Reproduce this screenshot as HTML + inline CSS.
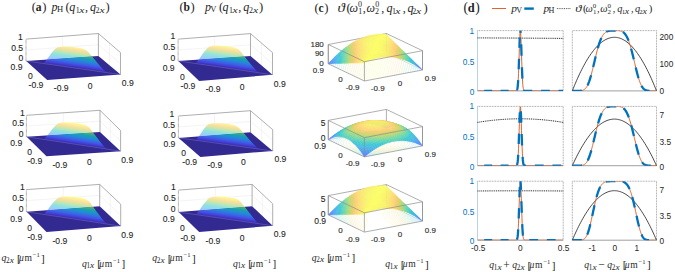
<!DOCTYPE html><html><head><meta charset="utf-8"><style>html,body{margin:0;padding:0;background:#fff;overflow:hidden}svg{display:block}</style></head><body><svg width="675" height="272" viewBox="0 0 675 272" font-family="Liberation Sans, sans-serif"><defs><linearGradient id="gw0" gradientUnits="userSpaceOnUse" x1="0" y1="57.2" x2="0" y2="35.3" gradientTransform="matrix(1 0.1442 0 1 0 0)"><stop offset="0.0" stop-color="#a499d6"/><stop offset="0.1" stop-color="#a9a7f4"/><stop offset="0.2" stop-color="#a7b7fe"/><stop offset="0.3" stop-color="#9cc9f9"/><stop offset="0.4" stop-color="#94d7f0"/><stop offset="0.5" stop-color="#90e1de"/><stop offset="0.6" stop-color="#a9e7c6"/><stop offset="0.7" stop-color="#d2e5a6"/><stop offset="0.8" stop-color="#f5df9e"/><stop offset="0.9" stop-color="#fdeb9d"/><stop offset="1.0" stop-color="#fcfd91"/></linearGradient><linearGradient id="gn0" gradientUnits="userSpaceOnUse" x1="0" y1="57.2" x2="0" y2="35.3" gradientTransform="matrix(1 0.1442 0 1 0 0)"><stop offset="0.0" stop-color="#3b27a4"/><stop offset="0.1" stop-color="#433ed6"/><stop offset="0.2" stop-color="#405ae8"/><stop offset="0.3" stop-color="#2e78e0"/><stop offset="0.4" stop-color="#2090cf"/><stop offset="0.5" stop-color="#18a0b1"/><stop offset="0.6" stop-color="#43ab88"/><stop offset="0.7" stop-color="#89a952"/><stop offset="0.8" stop-color="#c59d44"/><stop offset="0.9" stop-color="#d2b242"/><stop offset="1.0" stop-color="#d1d12d"/></linearGradient><clipPath id="cA0"><polygon points="11.2,22.1 135.5,13.3 135.5,53.3 11.2,62.1"/></clipPath><clipPath id="cB0"><polygon points="11.2,62.1 135.5,53.3 135.5,93.3 11.2,102.1"/></clipPath><linearGradient id="gw1" gradientUnits="userSpaceOnUse" x1="0" y1="132.7" x2="0" y2="111.7" gradientTransform="matrix(1 0.1532 0 1 0 0)"><stop offset="0.0" stop-color="#a499d6"/><stop offset="0.1" stop-color="#a9a7f4"/><stop offset="0.2" stop-color="#a7b7fe"/><stop offset="0.3" stop-color="#9cc9f9"/><stop offset="0.4" stop-color="#94d7f0"/><stop offset="0.5" stop-color="#90e1de"/><stop offset="0.6" stop-color="#a9e7c6"/><stop offset="0.7" stop-color="#d2e5a6"/><stop offset="0.8" stop-color="#f5df9e"/><stop offset="0.9" stop-color="#fdeb9d"/><stop offset="1.0" stop-color="#fcfd91"/></linearGradient><linearGradient id="gn1" gradientUnits="userSpaceOnUse" x1="0" y1="132.7" x2="0" y2="111.7" gradientTransform="matrix(1 0.1532 0 1 0 0)"><stop offset="0.0" stop-color="#3b27a4"/><stop offset="0.1" stop-color="#433ed6"/><stop offset="0.2" stop-color="#405ae8"/><stop offset="0.3" stop-color="#2e78e0"/><stop offset="0.4" stop-color="#2090cf"/><stop offset="0.5" stop-color="#18a0b1"/><stop offset="0.6" stop-color="#43ab88"/><stop offset="0.7" stop-color="#89a952"/><stop offset="0.8" stop-color="#c59d44"/><stop offset="0.9" stop-color="#d2b242"/><stop offset="1.0" stop-color="#d1d12d"/></linearGradient><clipPath id="cA1"><polygon points="11.6,97.8 135.6,89.7 135.6,129.7 11.6,137.8"/></clipPath><clipPath id="cB1"><polygon points="11.6,137.8 135.6,129.7 135.6,169.7 11.6,177.8"/></clipPath><linearGradient id="gw2" gradientUnits="userSpaceOnUse" x1="0" y1="207.8" x2="0" y2="185.7" gradientTransform="matrix(1 0.1520 0 1 0 0)"><stop offset="0.0" stop-color="#a499d6"/><stop offset="0.1" stop-color="#a9a7f4"/><stop offset="0.2" stop-color="#a7b7fe"/><stop offset="0.3" stop-color="#9cc9f9"/><stop offset="0.4" stop-color="#94d7f0"/><stop offset="0.5" stop-color="#90e1de"/><stop offset="0.6" stop-color="#a9e7c6"/><stop offset="0.7" stop-color="#d2e5a6"/><stop offset="0.8" stop-color="#f5df9e"/><stop offset="0.9" stop-color="#fdeb9d"/><stop offset="1.0" stop-color="#fcfd91"/></linearGradient><linearGradient id="gn2" gradientUnits="userSpaceOnUse" x1="0" y1="207.8" x2="0" y2="185.7" gradientTransform="matrix(1 0.1520 0 1 0 0)"><stop offset="0.0" stop-color="#3b27a4"/><stop offset="0.1" stop-color="#433ed6"/><stop offset="0.2" stop-color="#405ae8"/><stop offset="0.3" stop-color="#2e78e0"/><stop offset="0.4" stop-color="#2090cf"/><stop offset="0.5" stop-color="#18a0b1"/><stop offset="0.6" stop-color="#43ab88"/><stop offset="0.7" stop-color="#89a952"/><stop offset="0.8" stop-color="#c59d44"/><stop offset="0.9" stop-color="#d2b242"/><stop offset="1.0" stop-color="#d1d12d"/></linearGradient><clipPath id="cA2"><polygon points="11.6,172.9 135.7,163.6 135.7,203.6 11.6,212.9"/></clipPath><clipPath id="cB2"><polygon points="11.6,212.9 135.7,203.6 135.7,243.6 11.6,252.9"/></clipPath><linearGradient id="gw3" gradientUnits="userSpaceOnUse" x1="0" y1="34.9" x2="0" y2="12.8" gradientTransform="matrix(1 0.1465 0 1 0 0)"><stop offset="0.0" stop-color="#a499d6"/><stop offset="0.1" stop-color="#a9a7f4"/><stop offset="0.2" stop-color="#a7b7fe"/><stop offset="0.3" stop-color="#9cc9f9"/><stop offset="0.4" stop-color="#94d7f0"/><stop offset="0.5" stop-color="#90e1de"/><stop offset="0.6" stop-color="#a9e7c6"/><stop offset="0.7" stop-color="#d2e5a6"/><stop offset="0.8" stop-color="#f5df9e"/><stop offset="0.9" stop-color="#fdeb9d"/><stop offset="1.0" stop-color="#fcfd91"/></linearGradient><linearGradient id="gn3" gradientUnits="userSpaceOnUse" x1="0" y1="34.9" x2="0" y2="12.8" gradientTransform="matrix(1 0.1465 0 1 0 0)"><stop offset="0.0" stop-color="#3b27a4"/><stop offset="0.1" stop-color="#433ed6"/><stop offset="0.2" stop-color="#405ae8"/><stop offset="0.3" stop-color="#2e78e0"/><stop offset="0.4" stop-color="#2090cf"/><stop offset="0.5" stop-color="#18a0b1"/><stop offset="0.6" stop-color="#43ab88"/><stop offset="0.7" stop-color="#89a952"/><stop offset="0.8" stop-color="#c59d44"/><stop offset="0.9" stop-color="#d2b242"/><stop offset="1.0" stop-color="#d1d12d"/></linearGradient><clipPath id="cA3"><polygon points="163.3,22.1 287.5,13.3 287.5,53.3 163.3,62.1"/></clipPath><clipPath id="cB3"><polygon points="163.3,62.1 287.5,53.3 287.5,93.3 163.3,102.1"/></clipPath><linearGradient id="gw4" gradientUnits="userSpaceOnUse" x1="0" y1="113" x2="0" y2="91.4" gradientTransform="matrix(1 0.1392 0 1 0 0)"><stop offset="0.0" stop-color="#a499d6"/><stop offset="0.1" stop-color="#a9a7f4"/><stop offset="0.2" stop-color="#a7b7fe"/><stop offset="0.3" stop-color="#9cc9f9"/><stop offset="0.4" stop-color="#94d7f0"/><stop offset="0.5" stop-color="#90e1de"/><stop offset="0.6" stop-color="#a9e7c6"/><stop offset="0.7" stop-color="#d2e5a6"/><stop offset="0.8" stop-color="#f5df9e"/><stop offset="0.9" stop-color="#fdeb9d"/><stop offset="1.0" stop-color="#fcfd91"/></linearGradient><linearGradient id="gn4" gradientUnits="userSpaceOnUse" x1="0" y1="113" x2="0" y2="91.4" gradientTransform="matrix(1 0.1392 0 1 0 0)"><stop offset="0.0" stop-color="#3b27a4"/><stop offset="0.1" stop-color="#433ed6"/><stop offset="0.2" stop-color="#405ae8"/><stop offset="0.3" stop-color="#2e78e0"/><stop offset="0.4" stop-color="#2090cf"/><stop offset="0.5" stop-color="#18a0b1"/><stop offset="0.6" stop-color="#43ab88"/><stop offset="0.7" stop-color="#89a952"/><stop offset="0.8" stop-color="#c59d44"/><stop offset="0.9" stop-color="#d2b242"/><stop offset="1.0" stop-color="#d1d12d"/></linearGradient><clipPath id="cA4"><polygon points="163.6,99.1 287.7,89.4 287.7,129.4 163.6,139.1"/></clipPath><clipPath id="cB4"><polygon points="163.6,139.1 287.7,129.4 287.7,169.4 163.6,179.1"/></clipPath><linearGradient id="gw5" gradientUnits="userSpaceOnUse" x1="0" y1="186.3" x2="0" y2="164.3" gradientTransform="matrix(1 0.1445 0 1 0 0)"><stop offset="0.0" stop-color="#a499d6"/><stop offset="0.1" stop-color="#a9a7f4"/><stop offset="0.2" stop-color="#a7b7fe"/><stop offset="0.3" stop-color="#9cc9f9"/><stop offset="0.4" stop-color="#94d7f0"/><stop offset="0.5" stop-color="#90e1de"/><stop offset="0.6" stop-color="#a9e7c6"/><stop offset="0.7" stop-color="#d2e5a6"/><stop offset="0.8" stop-color="#f5df9e"/><stop offset="0.9" stop-color="#fdeb9d"/><stop offset="1.0" stop-color="#fcfd91"/></linearGradient><linearGradient id="gn5" gradientUnits="userSpaceOnUse" x1="0" y1="186.3" x2="0" y2="164.3" gradientTransform="matrix(1 0.1445 0 1 0 0)"><stop offset="0.0" stop-color="#3b27a4"/><stop offset="0.1" stop-color="#433ed6"/><stop offset="0.2" stop-color="#405ae8"/><stop offset="0.3" stop-color="#2e78e0"/><stop offset="0.4" stop-color="#2090cf"/><stop offset="0.5" stop-color="#18a0b1"/><stop offset="0.6" stop-color="#43ab88"/><stop offset="0.7" stop-color="#89a952"/><stop offset="0.8" stop-color="#c59d44"/><stop offset="0.9" stop-color="#d2b242"/><stop offset="1.0" stop-color="#d1d12d"/></linearGradient><clipPath id="cA5"><polygon points="163.6,173.3 287.7,163.5 287.7,203.5 163.6,213.3"/></clipPath><clipPath id="cB5"><polygon points="163.6,213.3 287.7,203.5 287.7,243.5 163.6,253.3"/></clipPath><clipPath id="clL0"><rect x="477.5" y="30.6" width="85.70" height="60.30"/></clipPath><clipPath id="clR0"><rect x="572.3" y="30.6" width="84.20" height="60.30"/></clipPath><clipPath id="clL1"><rect x="477.5" y="106.4" width="85.70" height="59.30"/></clipPath><clipPath id="clR1"><rect x="572.3" y="106.4" width="84.20" height="59.30"/></clipPath><clipPath id="clL2"><rect x="477.5" y="181.2" width="85.70" height="59.00"/></clipPath><clipPath id="clR2"><rect x="572.3" y="181.2" width="84.20" height="59.00"/></clipPath></defs><polyline points="26.2,50 98.4,44.7 120.5,63.6" fill="none" stroke="#ececec" stroke-width="0.6"/><line x1="62.3" y1="58.5" x2="62.3" y2="36.3" stroke="#ececec" stroke-width="0.6"/><line x1="109.5" y1="65.2" x2="109.5" y2="43" stroke="#ececec" stroke-width="0.6"/><polyline points="26.2,39.1 98.4,33.5 120.5,52.6 120.5,74.6" fill="none" stroke="#8c8c8c" stroke-width="0.7"/><line x1="26" y1="61" x2="26" y2="39.1" stroke="#777" stroke-width="0.8" stroke-dasharray="0.7,0.5"/><line x1="98.4" y1="55.9" x2="98.4" y2="33.5" stroke="#8c8c8c" stroke-width="0.7"/><polygon points="26.2,61 47.2,80.1 120.5,74.6 98.4,55.9" fill="#322991"/><polygon points="43.5,63.2 47.4,58.7 49.9,55.2 52.3,52 54.8,49.3 57.3,47.5 59.8,46.9 62.2,46.5 67.2,46.6 72.2,46.9 77.2,47.5 82.2,48.4 84.8,49.4 87.3,50.9 88.8,52.5 90.4,54.5 92.3,56.8 94.9,59.8 97.9,63.5 100.9,66.9 104,70.2 107.5,73 107.5,72.7 43.5,63.5" fill="url(#gw0)" clip-path="url(#cA0)"/><polygon points="43.5,63.2 47.4,58.7 49.9,55.2 52.3,52 54.8,49.3 57.3,47.5 59.8,46.9 62.2,46.5 67.2,46.6 72.2,46.9 77.2,47.5 82.2,48.4 84.8,49.4 87.3,50.9 88.8,52.5 90.4,54.5 92.3,56.8 94.9,59.8 97.9,63.5 100.9,66.9 104,70.2 107.5,73 107.5,72.7 43.5,63.5" fill="url(#gn0)" clip-path="url(#cB0)"/><line x1="26.2" y1="61" x2="120.5" y2="74.6" stroke="#7b74c8" stroke-width="0.6" opacity="0.8"/><text x="22.9" y="40.4" font-size="8.6" fill="#262626" stroke="#262626" stroke-width="0.1" text-anchor="end">1</text><text x="23.1" y="50.8" font-size="8.6" fill="#262626" stroke="#262626" stroke-width="0.1" text-anchor="end">0.5</text><text x="23.2" y="61.3" font-size="8.6" fill="#262626" stroke="#262626" stroke-width="0.1" text-anchor="end">0</text><text x="22.5" y="70.2" font-size="8.6" fill="#262626" stroke="#262626" stroke-width="0.1" text-anchor="end">0.9</text><text x="32.8" y="79" font-size="8.6" fill="#262626" stroke="#262626" stroke-width="0.1" text-anchor="end">0</text><text x="43.4" y="88" font-size="8.6" fill="#262626" stroke="#262626" stroke-width="0.1" text-anchor="end">-0.9</text><text x="68.6" y="91.2" font-size="8.6" fill="#262626" stroke="#262626" stroke-width="0.1" text-anchor="end">-0.9</text><text x="92.6" y="88.6" font-size="8.6" fill="#262626" stroke="#262626" stroke-width="0.1" text-anchor="end">0</text><text x="133.7" y="85.8" font-size="8.6" fill="#262626" stroke="#262626" stroke-width="0.1" text-anchor="end">0.9</text><polyline points="26.6,126 100,121.2 120.6,140.9" fill="none" stroke="#ececec" stroke-width="0.6"/><line x1="63.3" y1="134.4" x2="63.3" y2="112.8" stroke="#ececec" stroke-width="0.6"/><line x1="110.3" y1="141.6" x2="110.3" y2="120.4" stroke="#ececec" stroke-width="0.6"/><polyline points="26.6,115.3 100,110.3 120.6,130.6 120.6,151.2" fill="none" stroke="#8c8c8c" stroke-width="0.7"/><line x1="26.4" y1="136.8" x2="26.4" y2="115.3" stroke="#777" stroke-width="0.8" stroke-dasharray="0.7,0.5"/><line x1="100" y1="132" x2="100" y2="110.3" stroke="#8c8c8c" stroke-width="0.7"/><polygon points="26.6,136.8 46.5,156.3 120.6,151.2 100,132" fill="#322991"/><polygon points="43.9,139.2 48.1,134.6 50.8,131.1 53.5,127.8 56.1,125.1 58.7,123.3 61.3,122.7 63.8,122.3 68.8,122.5 73.8,122.8 78.8,123.4 83.8,124.4 86.2,125.4 88.7,126.9 90.1,128.6 91.6,130.7 93.4,132.9 95.8,136 98.6,139.8 101.4,143.3 104.3,146.7 107.6,149.5 107.6,149.2 43.9,139.4" fill="url(#gw1)" clip-path="url(#cA1)"/><polygon points="43.9,139.2 48.1,134.6 50.8,131.1 53.5,127.8 56.1,125.1 58.7,123.3 61.3,122.7 63.8,122.3 68.8,122.5 73.8,122.8 78.8,123.4 83.8,124.4 86.2,125.4 88.7,126.9 90.1,128.6 91.6,130.7 93.4,132.9 95.8,136 98.6,139.8 101.4,143.3 104.3,146.7 107.6,149.5 107.6,149.2 43.9,139.4" fill="url(#gn1)" clip-path="url(#cB1)"/><line x1="26.6" y1="136.8" x2="120.6" y2="151.2" stroke="#7b74c8" stroke-width="0.6" opacity="0.8"/><text x="24.7" y="115.9" font-size="8.6" fill="#262626" stroke="#262626" stroke-width="0.1" text-anchor="end">1</text><text x="24.1" y="126.4" font-size="8.6" fill="#262626" stroke="#262626" stroke-width="0.1" text-anchor="end">0.5</text><text x="23.6" y="137.1" font-size="8.6" fill="#262626" stroke="#262626" stroke-width="0.1" text-anchor="end">0</text><text x="22.3" y="146.1" font-size="8.6" fill="#262626" stroke="#262626" stroke-width="0.1" text-anchor="end">0.9</text><text x="32.1" y="155.1" font-size="8.6" fill="#262626" stroke="#262626" stroke-width="0.1" text-anchor="end">0</text><text x="42.2" y="164.3" font-size="8.6" fill="#262626" stroke="#262626" stroke-width="0.1" text-anchor="end">-0.9</text><text x="67.3" y="167.6" font-size="8.6" fill="#262626" stroke="#262626" stroke-width="0.1" text-anchor="end">-0.9</text><text x="91.7" y="165.2" font-size="8.6" fill="#262626" stroke="#262626" stroke-width="0.1" text-anchor="end">0</text><text x="133.2" y="162.7" font-size="8.6" fill="#262626" stroke="#262626" stroke-width="0.1" text-anchor="end">0.9</text><polyline points="26.6,200.7 99.7,195.3 120.7,215.2" fill="none" stroke="#ececec" stroke-width="0.6"/><line x1="63.2" y1="209.1" x2="63.2" y2="187" stroke="#ececec" stroke-width="0.6"/><line x1="110.2" y1="216.2" x2="110.2" y2="194.3" stroke="#ececec" stroke-width="0.6"/><polyline points="26.6,189.6 99.7,184.4 120.7,204.2 120.7,226.1" fill="none" stroke="#8c8c8c" stroke-width="0.7"/><line x1="26.4" y1="211.8" x2="26.4" y2="189.6" stroke="#777" stroke-width="0.8" stroke-dasharray="0.7,0.5"/><line x1="99.7" y1="206.3" x2="99.7" y2="184.4" stroke="#8c8c8c" stroke-width="0.7"/><polygon points="26.6,211.8 46.5,232 120.7,226.1 99.7,206.3" fill="#322991"/><polygon points="43.9,214.1 48.1,209.3 50.8,205.6 53.5,202.2 56.2,199.4 58.8,197.5 61.3,196.8 63.9,196.4 68.9,196.5 73.9,196.8 78.9,197.4 83.9,198.4 86.3,199.4 88.8,201 90.2,202.8 91.7,204.9 93.5,207.2 95.8,210.5 98.7,214.3 101.5,218 104.3,221.5 107.7,224.4 107.7,224.1 43.9,214.4" fill="url(#gw2)" clip-path="url(#cA2)"/><polygon points="43.9,214.1 48.1,209.3 50.8,205.6 53.5,202.2 56.2,199.4 58.8,197.5 61.3,196.8 63.9,196.4 68.9,196.5 73.9,196.8 78.9,197.4 83.9,198.4 86.3,199.4 88.8,201 90.2,202.8 91.7,204.9 93.5,207.2 95.8,210.5 98.7,214.3 101.5,218 104.3,221.5 107.7,224.4 107.7,224.1 43.9,214.4" fill="url(#gn2)" clip-path="url(#cB2)"/><line x1="26.6" y1="211.8" x2="120.7" y2="226.1" stroke="#7b74c8" stroke-width="0.6" opacity="0.8"/><text x="24.7" y="190" font-size="8.6" fill="#262626" stroke="#262626" stroke-width="0.1" text-anchor="end">1</text><text x="24.1" y="201" font-size="8.6" fill="#262626" stroke="#262626" stroke-width="0.1" text-anchor="end">0.5</text><text x="23.6" y="212.1" font-size="8.6" fill="#262626" stroke="#262626" stroke-width="0.1" text-anchor="end">0</text><text x="22.3" y="221.6" font-size="8.6" fill="#262626" stroke="#262626" stroke-width="0.1" text-anchor="end">0.9</text><text x="32.1" y="230.8" font-size="8.6" fill="#262626" stroke="#262626" stroke-width="0.1" text-anchor="end">0</text><text x="42.2" y="240.4" font-size="8.6" fill="#262626" stroke="#262626" stroke-width="0.1" text-anchor="end">-0.9</text><text x="67.3" y="243.7" font-size="8.6" fill="#262626" stroke="#262626" stroke-width="0.1" text-anchor="end">-0.9</text><text x="91.7" y="240.9" font-size="8.6" fill="#262626" stroke="#262626" stroke-width="0.1" text-anchor="end">0</text><text x="133.3" y="238" font-size="8.6" fill="#262626" stroke="#262626" stroke-width="0.1" text-anchor="end">0.9</text><polyline points="178.3,50 250.5,44.8 272.5,63.7" fill="none" stroke="#ececec" stroke-width="0.6"/><line x1="214.4" y1="58.5" x2="214.4" y2="36.4" stroke="#ececec" stroke-width="0.6"/><line x1="261.5" y1="65.3" x2="261.5" y2="43.1" stroke="#ececec" stroke-width="0.6"/><polyline points="178.3,39.1 250.5,33.6 272.5,52.6 272.5,74.8" fill="none" stroke="#8c8c8c" stroke-width="0.7"/><line x1="178.1" y1="61" x2="178.1" y2="39.1" stroke="#777" stroke-width="0.8" stroke-dasharray="0.7,0.5"/><line x1="250.5" y1="55.9" x2="250.5" y2="33.6" stroke="#8c8c8c" stroke-width="0.7"/><polygon points="178.3,61 199.2,80.9 272.5,74.8 250.5,55.9" fill="#322991"/><polygon points="195.6,63.2 199.5,58.5 202,54.8 204.5,51.4 206.9,48.6 209.4,46.8 211.9,46 214.4,45.6 219.4,45.7 224.4,46 229.4,46.6 234.4,47.5 236.9,48.6 239.4,50.1 240.9,51.8 242.5,53.9 244.4,56.2 246.9,59.4 250,63.2 253,66.8 256,70.3 259.5,73.2 259.5,72.9 195.6,63.5" fill="url(#gw3)" clip-path="url(#cA3)"/><polygon points="195.6,63.2 199.5,58.5 202,54.8 204.5,51.4 206.9,48.6 209.4,46.8 211.9,46 214.4,45.6 219.4,45.7 224.4,46 229.4,46.6 234.4,47.5 236.9,48.6 239.4,50.1 240.9,51.8 242.5,53.9 244.4,56.2 246.9,59.4 250,63.2 253,66.8 256,70.3 259.5,73.2 259.5,72.9 195.6,63.5" fill="url(#gn3)" clip-path="url(#cB3)"/><line x1="178.3" y1="61" x2="272.5" y2="74.8" stroke="#7b74c8" stroke-width="0.6" opacity="0.8"/><text x="175.2" y="39.4" font-size="8.6" fill="#262626" stroke="#262626" stroke-width="0.1" text-anchor="end">1</text><text x="175.2" y="50.3" font-size="8.6" fill="#262626" stroke="#262626" stroke-width="0.1" text-anchor="end">0.5</text><text x="175.3" y="61.3" font-size="8.6" fill="#262626" stroke="#262626" stroke-width="0.1" text-anchor="end">0</text><text x="174.6" y="70.7" font-size="8.6" fill="#262626" stroke="#262626" stroke-width="0.1" text-anchor="end">0.9</text><text x="184.8" y="79.8" font-size="8.6" fill="#262626" stroke="#262626" stroke-width="0.1" text-anchor="end">0</text><text x="195.4" y="89.2" font-size="8.6" fill="#262626" stroke="#262626" stroke-width="0.1" text-anchor="end">-0.9</text><text x="220.5" y="92.4" font-size="8.6" fill="#262626" stroke="#262626" stroke-width="0.1" text-anchor="end">-0.9</text><text x="244.6" y="89.5" font-size="8.6" fill="#262626" stroke="#262626" stroke-width="0.1" text-anchor="end">0</text><text x="285.7" y="86.5" font-size="8.6" fill="#262626" stroke="#262626" stroke-width="0.1" text-anchor="end">0.9</text><polyline points="178.6,127 250.5,121.5 272.7,140.3" fill="none" stroke="#ececec" stroke-width="0.6"/><line x1="214.6" y1="135.1" x2="214.6" y2="113.4" stroke="#ececec" stroke-width="0.6"/><line x1="261.6" y1="141.7" x2="261.6" y2="120.2" stroke="#ececec" stroke-width="0.6"/><polyline points="178.6,116 250.5,110.7 272.7,129.6 272.7,151" fill="none" stroke="#8c8c8c" stroke-width="0.7"/><line x1="178.4" y1="137.9" x2="178.4" y2="116" stroke="#777" stroke-width="0.8" stroke-dasharray="0.7,0.5"/><line x1="250.5" y1="132.3" x2="250.5" y2="110.7" stroke="#8c8c8c" stroke-width="0.7"/><polygon points="178.6,137.9 200.4,156.9 272.7,151 250.5,132.3" fill="#322991"/><polygon points="195.8,140 199.5,135.5 201.8,131.9 204,128.7 206.3,126 208.7,124.3 211.1,123.6 213.5,123.2 218.5,123.2 223.4,123.5 228.4,124.1 233.4,125 236,126 238.5,127.4 240.1,129.1 241.8,131.1 243.9,133.3 246.5,136.3 249.7,140 252.9,143.4 256.1,146.7 259.8,149.5 259.8,149.2 195.8,140.3" fill="url(#gw4)" clip-path="url(#cA4)"/><polygon points="195.8,140 199.5,135.5 201.8,131.9 204,128.7 206.3,126 208.7,124.3 211.1,123.6 213.5,123.2 218.5,123.2 223.4,123.5 228.4,124.1 233.4,125 236,126 238.5,127.4 240.1,129.1 241.8,131.1 243.9,133.3 246.5,136.3 249.7,140 252.9,143.4 256.1,146.7 259.8,149.5 259.8,149.2 195.8,140.3" fill="url(#gn4)" clip-path="url(#cB4)"/><line x1="178.6" y1="137.9" x2="272.7" y2="151" stroke="#7b74c8" stroke-width="0.6" opacity="0.8"/><text x="174.3" y="117.3" font-size="8.6" fill="#262626" stroke="#262626" stroke-width="0.1" text-anchor="end">1</text><text x="175" y="127.7" font-size="8.6" fill="#262626" stroke="#262626" stroke-width="0.1" text-anchor="end">0.5</text><text x="175.7" y="138.2" font-size="8.6" fill="#262626" stroke="#262626" stroke-width="0.1" text-anchor="end">0</text><text x="175.4" y="147.1" font-size="8.6" fill="#262626" stroke="#262626" stroke-width="0.1" text-anchor="end">0.9</text><text x="186.1" y="155.9" font-size="8.6" fill="#262626" stroke="#262626" stroke-width="0.1" text-anchor="end">0</text><text x="197.1" y="164.9" font-size="8.6" fill="#262626" stroke="#262626" stroke-width="0.1" text-anchor="end">-0.9</text><text x="222.2" y="167.8" font-size="8.6" fill="#262626" stroke="#262626" stroke-width="0.1" text-anchor="end">-0.9</text><text x="245.8" y="165.1" font-size="8.6" fill="#262626" stroke="#262626" stroke-width="0.1" text-anchor="end">0</text><text x="286.4" y="162.2" font-size="8.6" fill="#262626" stroke="#262626" stroke-width="0.1" text-anchor="end">0.9</text><polyline points="178.6,201.1 252.1,195.3 272.7,214.8" fill="none" stroke="#ececec" stroke-width="0.6"/><line x1="215.3" y1="209.2" x2="215.3" y2="187.2" stroke="#ececec" stroke-width="0.6"/><line x1="262.4" y1="216" x2="262.4" y2="194.1" stroke="#ececec" stroke-width="0.6"/><polyline points="178.6,190.1 252.1,184.4 272.7,203.8 272.7,225.7" fill="none" stroke="#8c8c8c" stroke-width="0.7"/><line x1="178.4" y1="212.1" x2="178.4" y2="190.1" stroke="#777" stroke-width="0.8" stroke-dasharray="0.7,0.5"/><line x1="252.1" y1="206.3" x2="252.1" y2="184.4" stroke="#8c8c8c" stroke-width="0.7"/><polygon points="178.6,212.1 199.2,232.1 272.7,225.7 252.1,206.3" fill="#322991"/><polygon points="195.9,214.3 199.9,209.5 202.4,205.8 205,202.4 207.5,199.5 210,197.6 212.5,196.9 215,196.5 220,196.5 225,196.8 230,197.4 235,198.3 237.5,199.3 239.9,200.9 241.4,202.7 243,204.8 244.9,207.1 247.4,210.3 250.3,214.1 253.3,217.7 256.2,221.2 259.7,224.1 259.7,223.8 195.9,214.6" fill="url(#gw5)" clip-path="url(#cA5)"/><polygon points="195.9,214.3 199.9,209.5 202.4,205.8 205,202.4 207.5,199.5 210,197.6 212.5,196.9 215,196.5 220,196.5 225,196.8 230,197.4 235,198.3 237.5,199.3 239.9,200.9 241.4,202.7 243,204.8 244.9,207.1 247.4,210.3 250.3,214.1 253.3,217.7 256.2,221.2 259.7,224.1 259.7,223.8 195.9,214.6" fill="url(#gn5)" clip-path="url(#cB5)"/><line x1="178.6" y1="212.1" x2="272.7" y2="225.7" stroke="#7b74c8" stroke-width="0.6" opacity="0.8"/><text x="175.8" y="190.3" font-size="8.6" fill="#262626" stroke="#262626" stroke-width="0.1" text-anchor="end">1</text><text x="175.7" y="201.3" font-size="8.6" fill="#262626" stroke="#262626" stroke-width="0.1" text-anchor="end">0.5</text><text x="175.6" y="212.4" font-size="8.6" fill="#262626" stroke="#262626" stroke-width="0.1" text-anchor="end">0</text><text x="174.7" y="221.9" font-size="8.6" fill="#262626" stroke="#262626" stroke-width="0.1" text-anchor="end">0.9</text><text x="184.8" y="231" font-size="8.6" fill="#262626" stroke="#262626" stroke-width="0.1" text-anchor="end">0</text><text x="195.2" y="240.5" font-size="8.6" fill="#262626" stroke="#262626" stroke-width="0.1" text-anchor="end">-0.9</text><text x="220.4" y="243.6" font-size="8.6" fill="#262626" stroke="#262626" stroke-width="0.1" text-anchor="end">-0.9</text><text x="244.5" y="240.7" font-size="8.6" fill="#262626" stroke="#262626" stroke-width="0.1" text-anchor="end">0</text><text x="285.7" y="237.4" font-size="8.6" fill="#262626" stroke="#262626" stroke-width="0.1" text-anchor="end">0.9</text><line x1="421.7" y1="70.1" x2="421.8" y2="69.7" stroke="#b2c5ff" stroke-width="0.4"/><line x1="419.4" y1="70.5" x2="419.9" y2="68.8" stroke="#abcffb" stroke-width="0.4"/><line x1="417.2" y1="70.9" x2="417.9" y2="67.8" stroke="#a8d7f5" stroke-width="0.4"/><line x1="414.9" y1="71.3" x2="416" y2="66.9" stroke="#a3def1" stroke-width="0.4"/><line x1="412.6" y1="71.7" x2="414" y2="66" stroke="#9ae3e8" stroke-width="0.4"/><line x1="410.2" y1="72.3" x2="412" y2="65" stroke="#a8e7de" stroke-width="0.4"/><line x1="407.9" y1="72.7" x2="410.1" y2="64.1" stroke="#b1e9d4" stroke-width="0.4"/><line x1="405.6" y1="73.1" x2="408.1" y2="63.2" stroke="#beebc8" stroke-width="0.4"/><line x1="403.3" y1="73.5" x2="406.2" y2="62.2" stroke="#cfeabb" stroke-width="0.4"/><line x1="401" y1="74" x2="404.2" y2="61.3" stroke="#dee8af" stroke-width="0.4"/><line x1="398.7" y1="74.4" x2="402.2" y2="60.4" stroke="#ebe6a9" stroke-width="0.4"/><line x1="396.4" y1="74.8" x2="400.3" y2="59.4" stroke="#f5e4ab" stroke-width="0.4"/><line x1="394.2" y1="75.2" x2="398.3" y2="58.5" stroke="#fce4b1" stroke-width="0.4"/><line x1="391.8" y1="75.8" x2="396.4" y2="57.6" stroke="#ffe7af" stroke-width="0.4"/><line x1="389.5" y1="76.2" x2="394.4" y2="56.6" stroke="#feecac" stroke-width="0.4"/><line x1="387.2" y1="76.6" x2="392.5" y2="55.7" stroke="#fcf0aa" stroke-width="0.4"/><line x1="384.9" y1="77" x2="390.5" y2="54.8" stroke="#fbf3a9" stroke-width="0.4"/><line x1="382.6" y1="77.4" x2="388.5" y2="53.8" stroke="#fbf6a7" stroke-width="0.4"/><line x1="380.3" y1="77.8" x2="386.6" y2="52.9" stroke="#fbf9a6" stroke-width="0.4"/><line x1="378" y1="78.3" x2="384.3" y2="53.3" stroke="#fcfba4" stroke-width="0.4"/><line x1="375.7" y1="78.7" x2="382" y2="53.7" stroke="#fcfca2" stroke-width="0.4"/><line x1="373.4" y1="79.3" x2="379.7" y2="54.1" stroke="#fdfda1" stroke-width="0.4"/><line x1="371.1" y1="79.7" x2="377.4" y2="54.5" stroke="#fdfda1" stroke-width="0.4"/><line x1="368.8" y1="80.1" x2="375.1" y2="55.1" stroke="#fcfca2" stroke-width="0.4"/><line x1="366.5" y1="80.5" x2="372.8" y2="55.5" stroke="#fcfba4" stroke-width="0.4"/><line x1="364.2" y1="80.9" x2="370.5" y2="56" stroke="#fbf9a6" stroke-width="0.4"/><line x1="362.3" y1="80" x2="368.2" y2="56.4" stroke="#fbf6a7" stroke-width="0.4"/><line x1="360.3" y1="79" x2="365.9" y2="56.8" stroke="#fbf3a9" stroke-width="0.4"/><line x1="358.3" y1="78.1" x2="363.6" y2="57.2" stroke="#fcf0aa" stroke-width="0.4"/><line x1="356.4" y1="77.2" x2="361.3" y2="57.6" stroke="#feecac" stroke-width="0.4"/><line x1="354.4" y1="76.2" x2="359" y2="58" stroke="#ffe7af" stroke-width="0.4"/><line x1="352.5" y1="75.3" x2="356.6" y2="58.6" stroke="#fce4b1" stroke-width="0.4"/><line x1="350.5" y1="74.4" x2="354.4" y2="59" stroke="#f5e4ab" stroke-width="0.4"/><line x1="348.6" y1="73.4" x2="352.1" y2="59.4" stroke="#ebe6a9" stroke-width="0.4"/><line x1="346.6" y1="72.5" x2="349.8" y2="59.8" stroke="#dee8af" stroke-width="0.4"/><line x1="344.6" y1="71.6" x2="347.5" y2="60.3" stroke="#cfeabb" stroke-width="0.4"/><line x1="342.7" y1="70.6" x2="345.2" y2="60.7" stroke="#beebc8" stroke-width="0.4"/><line x1="340.7" y1="69.7" x2="342.9" y2="61.1" stroke="#b1e9d4" stroke-width="0.4"/><line x1="338.8" y1="68.8" x2="340.6" y2="61.5" stroke="#a8e7de" stroke-width="0.4"/><line x1="336.8" y1="67.8" x2="338.2" y2="62.1" stroke="#9ae3e8" stroke-width="0.4"/><line x1="334.8" y1="66.9" x2="335.9" y2="62.5" stroke="#a3def1" stroke-width="0.4"/><line x1="332.9" y1="66" x2="333.6" y2="62.9" stroke="#a8d7f5" stroke-width="0.4"/><line x1="330.9" y1="65" x2="331.4" y2="63.3" stroke="#abcffb" stroke-width="0.4"/><line x1="329" y1="64.1" x2="329.1" y2="63.7" stroke="#b2c5ff" stroke-width="0.4"/><polyline points="328.3,63.8 328.3,44.5 386.4,33.5 422.5,50.7 422.5,70" fill="none" stroke="#8c8c8c" stroke-width="0.7"/><line x1="386.4" y1="52.8" x2="386.4" y2="33.5" stroke="#8c8c8c" stroke-width="0.7"/><polyline points="328.3,63.8 386.4,52.8 422.5,70" fill="none" stroke="#8c8c8c" stroke-width="0.5" opacity="0.6"/><g fill="currentColor" stroke="currentColor" stroke-width="0.35"><path color="#fbfb65" d="M385.7 35.4 387.6 35.6 386.4 34.5 384.5 34.3Z"/><path color="#fbfc64" d="M383.7 35.2 385.7 35.4 384.5 34.3 382.5 34.1Z"/><path color="#faf868" d="M386.9 36.5 388.8 36.8 387.6 35.6 385.7 35.4Z"/><path color="#fbfc65" d="M381.8 35.2 383.7 35.2 382.5 34.1 380.6 34.1Z"/><path color="#fbfb65" d="M384.9 36.3 386.9 36.5 385.7 35.4 383.7 35.2Z"/><path color="#fbfb65" d="M379.9 35.2 381.8 35.2 380.6 34.1 378.7 34.1Z"/><path color="#f9f36b" d="M388.1 37.7 390 38 388.8 36.8 386.9 36.5Z"/><path color="#fbfc64" d="M383 36.2 384.9 36.3 383.7 35.2 381.8 35.2Z"/><path color="#fafa66" d="M377.9 35.2 379.9 35.2 378.7 34.1 376.7 34.3Z"/><path color="#faf868" d="M386.1 37.4 388.1 37.7 386.9 36.5 384.9 36.3Z"/><path color="#fbfc65" d="M381.1 36.2 383 36.2 381.8 35.2 379.9 35.2Z"/><path color="#f8ee6d" d="M389.3 38.8 391.2 39.2 390 38 388.1 37.7Z"/><path color="#faf968" d="M376 35.4 377.9 35.2 376.7 34.3 374.8 34.5Z"/><path color="#fbfb65" d="M384.2 37.3 386.1 37.4 384.9 36.3 383 36.2Z"/><path color="#fbfb65" d="M379.1 36.2 381.1 36.2 379.9 35.2 377.9 35.2Z"/><path color="#f9f46b" d="M387.3 38.6 389.3 38.8 388.1 37.7 386.1 37.4Z"/><path color="#f9f769" d="M374 35.7 376 35.4 374.8 34.5 372.8 34.8Z"/><path color="#fbfc64" d="M382.3 37.2 384.2 37.3 383 36.2 381.1 36.2Z"/><path color="#f9e86e" d="M390.5 40 392.4 40.4 391.2 39.2 389.3 38.8Z"/><path color="#fafa66" d="M377.2 36.3 379.1 36.2 377.9 35.2 376 35.4Z"/><path color="#faf868" d="M385.4 38.3 387.3 38.6 386.1 37.4 384.2 37.3Z"/><path color="#f9f56a" d="M372.1 36 374 35.7 372.8 34.8 370.9 35.1Z"/><path color="#fbfc65" d="M380.3 37.2 382.3 37.2 381.1 36.2 379.1 36.2Z"/><path color="#f8ef6d" d="M388.5 39.7 390.5 40 389.3 38.8 387.3 38.6Z"/><path color="#faf968" d="M375.2 36.5 377.2 36.3 376 35.4 374 35.7Z"/><path color="#fbfb65" d="M383.5 38.2 385.4 38.3 384.2 37.3 382.3 37.2Z"/><path color="#fce270" d="M391.7 41.1 393.6 41.6 392.4 40.4 390.5 40Z"/><path color="#f8f36b" d="M370.2 36.4 372.1 36 370.9 35.1 369 35.6Z"/><path color="#fbfb65" d="M378.4 37.3 380.3 37.2 379.1 36.2 377.2 36.3Z"/><path color="#f9f46a" d="M386.6 39.4 388.5 39.7 387.3 38.6 385.4 38.3Z"/><path color="#f9f769" d="M373.3 36.8 375.2 36.5 374 35.7 372.1 36Z"/><path color="#fbfc64" d="M381.5 38.2 383.5 38.2 382.3 37.2 380.3 37.2Z"/><path color="#f9ea6e" d="M389.7 40.8 391.7 41.1 390.5 40 388.5 39.7Z"/><path color="#f8f06c" d="M368.2 36.9 370.2 36.4 369 35.6 367 36.1Z"/><path color="#fafa66" d="M376.5 37.4 378.4 37.3 377.2 36.3 375.2 36.5Z"/><path color="#faf968" d="M384.7 39.2 386.6 39.4 385.4 38.3 383.5 38.2Z"/><path color="#fedc72" d="M392.9 42.3 394.8 42.8 393.6 41.6 391.7 41.1Z"/><path color="#f9f56a" d="M371.4 37.2 373.3 36.8 372.1 36 370.2 36.4Z"/><path color="#fbfc65" d="M379.6 38.2 381.5 38.2 380.3 37.2 378.4 37.3Z"/><path color="#f8f06d" d="M387.8 40.5 389.7 40.8 388.5 39.7 386.6 39.4Z"/><path color="#f8ee6d" d="M366.3 37.4 368.2 36.9 367 36.1 365.1 36.7Z"/><path color="#faf968" d="M374.5 37.7 376.5 37.4 375.2 36.5 373.3 36.8Z"/><path color="#fbfb65" d="M382.7 39.2 384.7 39.2 383.5 38.2 381.5 38.2Z"/><path color="#fbe470" d="M391 41.9 392.9 42.3 391.7 41.1 389.7 40.8Z"/><path color="#f8f36b" d="M369.4 37.6 371.4 37.2 370.2 36.4 368.2 36.9Z"/><path color="#fbfb65" d="M377.7 38.3 379.6 38.2 378.4 37.3 376.5 37.4Z"/><path color="#f9f56a" d="M385.9 40.3 387.8 40.5 386.6 39.4 384.7 39.2Z"/><path color="#fed676" d="M394.1 43.4 396 43.9 394.8 42.8 392.9 42.3Z"/><path color="#f9ea6e" d="M364.4 38.1 366.3 37.4 365.1 36.7 363.2 37.4Z"/><path color="#f9f769" d="M372.6 38 374.5 37.7 373.3 36.8 371.4 37.2Z"/><path color="#fbfc64" d="M380.8 39.2 382.7 39.2 381.5 38.2 379.6 38.2Z"/><path color="#f9eb6e" d="M389 41.5 391 41.9 389.7 40.8 387.8 40.5Z"/><path color="#f8f06c" d="M367.5 38.2 369.4 37.6 368.2 36.9 366.3 37.4Z"/><path color="#fafa66" d="M375.7 38.6 377.7 38.3 376.5 37.4 374.5 37.7Z"/><path color="#faf967" d="M383.9 40.1 385.9 40.3 384.7 39.2 382.7 39.2Z"/><path color="#fdde72" d="M392.2 43 394.1 43.4 392.9 42.3 391 41.9Z"/><path color="#fae76f" d="M362.4 38.8 364.4 38.1 363.2 37.4 361.2 38.2Z"/><path color="#f9f56a" d="M370.6 38.4 372.6 38 371.4 37.2 369.4 37.6Z"/><path color="#fbfc65" d="M378.9 39.2 380.8 39.2 379.6 38.2 377.7 38.3Z"/><path color="#f8f16c" d="M387.1 41.3 389 41.5 387.8 40.5 385.9 40.3Z"/><path color="#fcd078" d="M395.3 44.6 397.2 45.1 396 43.9 394.1 43.4Z"/><path color="#f8ee6d" d="M365.6 38.8 367.5 38.2 366.3 37.4 364.4 38.1Z"/><path color="#faf968" d="M373.8 38.8 375.7 38.6 374.5 37.7 372.6 38Z"/><path color="#fbfc65" d="M382 40.1 383.9 40.1 382.7 39.2 380.8 39.2Z"/><path color="#fae66f" d="M390.2 42.6 392.2 43 391 41.9 389 41.5Z"/><path color="#fbe370" d="M360.5 39.6 362.4 38.8 361.2 38.2 359.3 39Z"/><path color="#f8f36b" d="M368.7 38.9 370.6 38.4 369.4 37.6 367.5 38.2Z"/><path color="#fbfb65" d="M376.9 39.4 378.9 39.2 377.7 38.3 375.7 38.6Z"/><path color="#f9f66a" d="M385.1 41.1 387.1 41.3 385.9 40.3 383.9 40.1Z"/><path color="#fed874" d="M393.4 44.1 395.3 44.6 394.1 43.4 392.2 43Z"/><path color="#f9ea6e" d="M363.6 39.5 365.6 38.8 364.4 38.1 362.4 38.8Z"/><path color="#f9f769" d="M371.8 39.2 373.8 38.8 372.6 38 370.6 38.4Z"/><path color="#fbfc64" d="M380.1 40.1 382 40.1 380.8 39.2 378.9 39.2Z"/><path color="#f8ec6e" d="M388.3 42.3 390.2 42.6 389 41.5 387.1 41.3Z"/><path color="#fdde72" d="M358.6 40.5 360.5 39.6 359.3 39 357.4 40Z"/><path color="#f3cf71" d="M396.5 45.7 398.4 46.3 397.2 45.1 395.3 44.6Z"/><path color="#f8f06c" d="M366.8 39.5 368.7 38.9 367.5 38.2 365.6 38.8Z"/><path color="#fafa66" d="M375 39.7 376.9 39.4 375.7 38.6 373.8 38.8Z"/><path color="#faf967" d="M383.2 41 385.1 41.1 383.9 40.1 382 40.1Z"/><path color="#fde071" d="M391.4 43.7 393.4 44.1 392.2 43 390.2 42.6Z"/><path color="#fae76f" d="M361.7 40.3 363.6 39.5 362.4 38.8 360.5 39.6Z"/><path color="#f9f56a" d="M369.9 39.7 371.8 39.2 370.6 38.4 368.7 38.9Z"/><path color="#fbfc65" d="M378.1 40.3 380.1 40.1 378.9 39.2 376.9 39.4Z"/><path color="#f8f26c" d="M386.3 42.1 388.3 42.3 387.1 41.3 385.1 41.1Z"/><path color="#fed875" d="M356.6 41.5 358.6 40.5 357.4 40 355.4 41Z"/><path color="#fed278" d="M394.6 45.2 396.5 45.7 395.3 44.6 393.4 44.1Z"/><path color="#f8ee6d" d="M364.8 40.1 366.8 39.5 365.6 38.8 363.6 39.5Z"/><path color="#faf968" d="M373 40 375 39.7 373.8 38.8 371.8 39.2Z"/><path color="#fbfc65" d="M381.3 41 383.2 41 382 40.1 380.1 40.1Z"/><path color="#fae76f" d="M389.5 43.3 391.4 43.7 390.2 42.6 388.3 42.3Z"/><path color="#fbe370" d="M359.8 41.1 361.7 40.3 360.5 39.6 358.6 40.5Z"/><path color="#e8d068" d="M397.7 46.8 399.6 47.5 398.4 46.3 396.5 45.7Z"/><path color="#f8f36b" d="M368 40.2 369.9 39.7 368.7 38.9 366.8 39.5Z"/><path color="#fbfb65" d="M376.2 40.5 378.1 40.3 376.9 39.4 375 39.7Z"/><path color="#f9f669" d="M384.4 42 386.3 42.1 385.1 41.1 383.2 41Z"/><path color="#fbcf78" d="M354.7 42.6 356.6 41.5 355.4 41 353.5 42.1Z"/><path color="#feda73" d="M392.6 44.7 394.6 45.2 393.4 44.1 391.4 43.7Z"/><path color="#f9ea6e" d="M362.9 40.9 364.8 40.1 363.6 39.5 361.7 40.3Z"/><path color="#f9f769" d="M371.1 40.4 373 40 371.8 39.2 369.9 39.7Z"/><path color="#fbfc64" d="M379.3 41.1 381.3 41 380.1 40.1 378.1 40.3Z"/><path color="#f8ed6d" d="M387.5 43.1 389.5 43.3 388.3 42.3 386.3 42.1Z"/><path color="#fedc72" d="M357.8 42 359.8 41.1 358.6 40.5 356.6 41.5Z"/><path color="#f7cf75" d="M395.8 46.3 397.7 46.8 396.5 45.7 394.6 45.2Z"/><path color="#f8f06c" d="M366 40.8 368 40.2 366.8 39.5 364.8 40.1Z"/><path color="#fafa66" d="M374.3 40.8 376.2 40.5 375 39.7 373 40Z"/><path color="#fafa67" d="M382.5 41.9 384.4 42 383.2 41 381.3 41Z"/><path color="#eccf6a" d="M352.7 43.7 354.7 42.6 353.5 42.1 351.5 43.3Z"/><path color="#fce270" d="M390.7 44.4 392.6 44.7 391.4 43.7 389.5 43.3Z"/><path color="#fae76f" d="M361 41.7 362.9 40.9 361.7 40.3 359.8 41.1Z"/><path color="#dbd266" d="M398.9 48 400.8 48.7 399.6 47.5 397.7 46.8Z"/><path color="#f9f56a" d="M369.2 40.9 371.1 40.4 369.9 39.7 368 40.2Z"/><path color="#fbfc65" d="M377.4 41.3 379.3 41.1 378.1 40.3 376.2 40.5Z"/><path color="#f8f36b" d="M385.6 42.9 387.5 43.1 386.3 42.1 384.4 42Z"/><path color="#fed377" d="M355.9 43.1 357.8 42 356.6 41.5 354.7 42.6Z"/><path color="#fed477" d="M393.8 45.8 395.8 46.3 394.6 45.2 392.6 44.7Z"/><path color="#f8ee6d" d="M364.1 41.5 366 40.8 364.8 40.1 362.9 40.9Z"/><path color="#faf968" d="M372.3 41.1 374.3 40.8 373 40 371.1 40.4Z"/><path color="#fbfc65" d="M380.5 42 382.5 41.9 381.3 41 379.3 41.1Z"/><path color="#d8d366" d="M350.8 44.9 352.7 43.7 351.5 43.3 349.6 44.5Z"/><path color="#f9e96e" d="M388.8 44.1 390.7 44.4 389.5 43.3 387.5 43.1Z"/><path color="#fce071" d="M359 42.6 361 41.7 359.8 41.1 357.8 42Z"/><path color="#edcf6b" d="M397 47.4 398.9 48 397.7 46.8 395.8 46.3Z"/><path color="#f8f36b" d="M367.2 41.4 369.2 40.9 368 40.2 366 40.8Z"/><path color="#fbfb65" d="M375.5 41.5 377.4 41.3 376.2 40.5 374.3 40.8Z"/><path color="#f9f769" d="M383.7 42.8 385.6 42.9 384.4 42 382.5 41.9Z"/><path color="#f5cf72" d="M353.9 44.2 355.9 43.1 354.7 42.6 352.7 43.7Z"/><path color="#fedc72" d="M391.9 45.4 393.8 45.8 392.6 44.7 390.7 44.4Z"/><path color="#f9ea6e" d="M362.2 42.3 364.1 41.5 362.9 40.9 361 41.7Z"/><path color="#cbd56b" d="M400.1 49.1 402 49.9 400.8 48.7 398.9 48Z"/><path color="#f9f769" d="M370.4 41.6 372.3 41.1 371.1 40.4 369.2 40.9Z"/><path color="#fbfc64" d="M378.6 42.1 380.5 42 379.3 41.1 377.4 41.3Z"/><path color="#bed773" d="M348.9 46.2 350.8 44.9 349.6 44.5 347.7 45.9Z"/><path color="#f8ef6d" d="M386.8 43.9 388.8 44.1 387.5 43.1 385.6 42.9Z"/><path color="#fed874" d="M357.1 43.6 359 42.6 357.8 42 355.9 43.1Z"/><path color="#fbcf78" d="M395 46.8 397 47.4 395.8 46.3 393.8 45.8Z"/><path color="#f8f06c" d="M365.3 42.1 367.2 41.4 366 40.8 364.1 41.5Z"/><path color="#fafa66" d="M373.5 41.9 375.5 41.5 374.3 40.8 372.3 41.1Z"/><path color="#fafa66" d="M381.7 42.8 383.7 42.8 382.5 41.9 380.5 42Z"/><path color="#e4d166" d="M352 45.3 353.9 44.2 352.7 43.7 350.8 44.9Z"/><path color="#fbe470" d="M390 45 391.9 45.4 390.7 44.4 388.8 44.1Z"/><path color="#fbe570" d="M360.2 43.1 362.2 42.3 361 41.7 359 42.6Z"/><path color="#e1d166" d="M398.2 48.5 400.1 49.1 398.9 48 397 47.4Z"/><path color="#f9f56a" d="M368.4 42.1 370.4 41.6 369.2 40.9 367.2 41.4Z"/><path color="#fbfc65" d="M376.7 42.3 378.6 42.1 377.4 41.3 375.5 41.5Z"/><path color="#9eda87" d="M346.9 47.6 348.9 46.2 347.7 45.9 345.7 47.3Z"/><path color="#f9f36b" d="M384.9 43.7 386.8 43.9 385.6 42.9 383.7 42.8Z"/><path color="#fcd078" d="M355.2 44.6 357.1 43.6 355.9 43.1 353.9 44.2Z"/><path color="#fed675" d="M393.1 46.4 395 46.8 393.8 45.8 391.9 45.4Z"/><path color="#f8ee6d" d="M363.4 42.8 365.3 42.1 364.1 41.5 362.2 42.3Z"/><path color="#b9d876" d="M401.3 50.3 403.2 51 402 49.9 400.1 49.1Z"/><path color="#faf968" d="M371.6 42.3 373.5 41.9 372.3 41.1 370.4 41.6Z"/><path color="#fbfc65" d="M379.8 42.9 381.7 42.8 380.5 42 378.6 42.1Z"/><path color="#cdd56a" d="M350.1 46.6 352 45.3 350.8 44.9 348.9 46.2Z"/><path color="#f9ea6e" d="M388 44.8 390 45 388.8 44.1 386.8 43.9Z"/><path color="#fedc72" d="M358.3 44.1 360.2 43.1 359 42.6 357.1 43.6Z"/><path color="#f2cf6f" d="M396.2 47.9 398.2 48.5 397 47.4 395 46.8Z"/><path color="#f8f36b" d="M366.5 42.7 368.4 42.1 367.2 41.4 365.3 42.1Z"/><path color="#fbfb65" d="M374.7 42.6 376.7 42.3 375.5 41.5 373.5 41.9Z"/><path color="#7fd99e" d="M345 49.1 346.9 47.6 345.7 47.3 343.8 48.8Z"/><path color="#f9f769" d="M382.9 43.7 384.9 43.7 383.7 42.8 381.7 42.8Z"/><path color="#eecf6b" d="M353.2 45.8 355.2 44.6 353.9 44.2 352 45.3Z"/><path color="#fdde72" d="M391.2 46 393.1 46.4 391.9 45.4 390 45Z"/><path color="#f9e86e" d="M361.4 43.6 363.4 42.8 362.2 42.3 360.2 43.1Z"/><path color="#d2d468" d="M399.4 49.6 401.3 50.3 400.1 49.1 398.2 48.5Z"/><path color="#f9f769" d="M369.6 42.8 371.6 42.3 370.4 41.6 368.4 42.1Z"/><path color="#fbfc64" d="M377.9 43.1 379.8 42.9 378.6 42.1 376.7 42.3Z"/><path color="#b0d87b" d="M348.1 48 350.1 46.6 348.9 46.2 346.9 47.6Z"/><path color="#f8f06d" d="M386.1 44.6 388 44.8 386.8 43.9 384.9 43.7Z"/><path color="#fed477" d="M356.4 45.1 358.3 44.1 357.1 43.6 355.2 44.6Z"/><path color="#fdd178" d="M394.3 47.4 396.2 47.9 395 46.8 393.1 46.4Z"/><path color="#f8f06c" d="M364.6 43.4 366.5 42.7 365.3 42.1 363.4 42.8Z"/><path color="#a5d983" d="M402.5 51.4 404.5 52.2 403.2 51 401.3 50.3Z"/><path color="#fafa66" d="M372.8 43 374.7 42.6 373.5 41.9 371.6 42.3Z"/><path color="#66d5b2" d="M343.1 50.6 345 49.1 343.8 48.8 341.9 50.4Z"/><path color="#fafa66" d="M381 43.7 382.9 43.7 381.7 42.8 379.8 42.9Z"/><path color="#dad266" d="M351.3 47 353.2 45.8 352 45.3 350.1 46.6Z"/><path color="#fae66f" d="M389.2 45.7 391.2 46 390 45 388 44.8Z"/><path color="#fce171" d="M359.5 44.5 361.4 43.6 360.2 43.1 358.3 44.1Z"/><path color="#e7d067" d="M397.4 49 399.4 49.6 398.2 48.5 396.2 47.9Z"/><path color="#f9f56a" d="M367.7 43.3 369.6 42.8 368.4 42.1 366.5 42.7Z"/><path color="#fbfc65" d="M375.9 43.3 377.9 43.1 376.7 42.3 374.7 42.6Z"/><path color="#90da91" d="M346.2 49.4 348.1 48 346.9 47.6 345 49.1Z"/><path color="#f9f46a" d="M384.1 44.6 386.1 44.6 384.9 43.7 382.9 43.7Z"/><path color="#f6cf73" d="M354.4 46.2 356.4 45.1 355.2 44.6 353.2 45.8Z"/><path color="#fed974" d="M392.4 47 394.3 47.4 393.1 46.4 391.2 46Z"/><path color="#f8ec6e" d="M362.6 44.2 364.6 43.4 363.4 42.8 361.4 43.6Z"/><path color="#c2d670" d="M400.6 50.7 402.5 51.4 401.3 50.3 399.4 49.6Z"/><path color="#faf968" d="M370.8 43.4 372.8 43 371.6 42.3 369.6 42.8Z"/><path color="#51cfc4" d="M341.1 52.3 343.1 50.6 341.9 50.4 339.9 52.1Z"/><path color="#fbfc65" d="M379.1 43.9 381 43.7 379.8 42.9 377.9 43.1Z"/><path color="#c1d671" d="M349.3 48.3 351.3 47 350.1 46.6 348.1 48Z"/><path color="#f8ec6e" d="M387.3 45.5 389.2 45.7 388 44.8 386.1 44.6Z"/><path color="#fed874" d="M357.6 45.5 359.5 44.5 358.3 44.1 356.4 45.1Z"/><path color="#f6cf73" d="M395.5 48.4 397.4 49 396.2 47.9 394.3 47.4Z"/><path color="#f8f36b" d="M365.8 44 367.7 43.3 366.5 42.7 364.6 43.4Z"/><path color="#90da91" d="M403.7 52.6 405.7 53.4 404.5 52.2 402.5 51.4Z"/><path color="#fbfb65" d="M374 43.7 375.9 43.3 374.7 42.6 372.8 43Z"/><path color="#72d7a7" d="M344.3 50.9 346.2 49.4 345 49.1 343.1 50.6Z"/><path color="#faf868" d="M382.2 44.6 384.1 44.6 382.9 43.7 381 43.7Z"/><path color="#e6d067" d="M352.5 47.3 354.4 46.2 353.2 45.8 351.3 47Z"/><path color="#fce171" d="M390.4 46.7 392.4 47 391.2 46 389.2 45.7Z"/><path color="#fae570" d="M360.7 45 362.6 44.2 361.4 43.6 359.5 44.5Z"/><path color="#dad266" d="M398.6 50 400.6 50.7 399.4 49.6 397.4 49Z"/><path color="#f9f769" d="M368.9 43.9 370.8 43.4 369.6 42.8 367.7 43.3Z"/><path color="#37c7d4" d="M339.2 54 341.1 52.3 339.9 52.1 338 53.8Z"/><path color="#fbfc64" d="M377.1 44.1 379.1 43.9 377.9 43.1 375.9 43.3Z"/><path color="#a3d984" d="M347.4 49.7 349.3 48.3 348.1 48 346.2 49.4Z"/><path color="#f8f16c" d="M385.3 45.4 387.3 45.5 386.1 44.6 384.1 44.6Z"/><path color="#fcd078" d="M355.6 46.6 357.6 45.5 356.4 45.1 354.4 46.2Z"/><path color="#fed377" d="M393.6 48 395.5 48.4 394.3 47.4 392.4 47Z"/><path color="#f8ef6d" d="M363.8 44.7 365.8 44 364.6 43.4 362.6 44.2Z"/><path color="#afd87c" d="M401.8 51.8 403.7 52.6 402.5 51.4 400.6 50.7Z"/><path color="#fafa66" d="M372.1 44.1 374 43.7 372.8 43 370.8 43.4Z"/><path color="#5fd2ba" d="M342.3 52.5 344.3 50.9 343.1 50.6 341.1 52.3Z"/><path color="#fafa66" d="M380.3 44.6 382.2 44.6 381 43.7 379.1 43.9Z"/><path color="#d0d469" d="M350.5 48.6 352.5 47.3 351.3 47 349.3 48.3Z"/><path color="#f9e86f" d="M388.5 46.4 390.4 46.7 389.2 45.7 387.3 45.5Z"/><path color="#fddd72" d="M358.8 46 360.7 45 359.5 44.5 357.6 45.5Z"/><path color="#eccf6a" d="M396.7 49.5 398.6 50 397.4 49 395.5 48.4Z"/><path color="#f9f56a" d="M367 44.6 368.9 43.9 367.7 43.3 365.8 44Z"/><path color="#46bee2" d="M337.2 55.8 339.2 54 338 53.8 336 55.6Z"/><path color="#7dd99f" d="M404.9 53.7 406.9 54.6 405.7 53.4 403.7 52.6Z"/><path color="#fbfc65" d="M375.2 44.4 377.1 44.1 375.9 43.3 374 43.7Z"/><path color="#83d99b" d="M345.5 51.1 347.4 49.7 346.2 49.4 344.3 50.9Z"/><path color="#f9f56a" d="M383.4 45.4 385.3 45.4 384.1 44.6 382.2 44.6Z"/><path color="#efcf6d" d="M353.7 47.7 355.6 46.6 354.4 46.2 352.5 47.3Z"/><path color="#fedb73" d="M391.6 47.6 393.6 48 392.4 47 390.4 46.7Z"/><path color="#f9e96e" d="M361.9 45.5 363.8 44.7 362.6 44.2 360.7 45Z"/><path color="#cad56c" d="M399.8 51.1 401.8 51.8 400.6 50.7 398.6 50Z"/><path color="#faf968" d="M370.1 44.6 372.1 44.1 370.8 43.4 368.9 43.9Z"/><path color="#42cccb" d="M340.4 54.1 342.3 52.5 341.1 52.3 339.2 54Z"/><path color="#fbfc65" d="M378.3 44.8 380.3 44.6 379.1 43.9 377.1 44.1Z"/><path color="#b5d878" d="M348.6 50 350.5 48.6 349.3 48.3 347.4 49.7Z"/><path color="#f8ed6d" d="M386.6 46.3 388.5 46.4 387.3 45.5 385.3 45.4Z"/><path color="#fed576" d="M356.8 47 358.8 46 357.6 45.5 355.6 46.6Z"/><path color="#facf78" d="M394.8 49 396.7 49.5 395.5 48.4 393.6 48Z"/><path color="#f8f26c" d="M365 45.2 367 44.6 365.8 44 363.8 44.7Z"/><path color="#4cb1ea" d="M335.3 57.6 337.2 55.8 336 55.6 334.1 57.6Z"/><path color="#9bda8a" d="M403 52.9 404.9 53.7 403.7 52.6 401.8 51.8Z"/><path color="#fbfb65" d="M373.3 44.7 375.2 44.4 374 43.7 372.1 44.1Z"/><path color="#68d5af" d="M343.5 52.7 345.5 51.1 344.3 50.9 342.3 52.5Z"/><path color="#faf868" d="M381.5 45.4 383.4 45.4 382.2 44.6 380.3 44.6Z"/><path color="#ddd265" d="M351.7 48.9 353.7 47.7 352.5 47.3 350.5 48.6Z"/><path color="#fbe370" d="M389.7 47.3 391.6 47.6 390.4 46.7 388.5 46.4Z"/><path color="#fce171" d="M360 46.4 361.9 45.5 360.7 45 358.8 46Z"/><path color="#e0d166" d="M397.9 50.5 399.8 51.1 398.6 50 396.7 49.5Z"/><path color="#f9f769" d="M368.2 45.1 370.1 44.6 368.9 43.9 367 44.6Z"/><path color="#3cc4da" d="M338.5 55.9 340.4 54.1 339.2 54 337.2 55.8Z"/><path color="#6cd6ac" d="M406.1 54.8 408.1 55.8 406.9 54.6 404.9 53.7Z"/><path color="#fbfc64" d="M376.4 45 378.3 44.8 377.1 44.1 375.2 44.4Z"/><path color="#95da8d" d="M346.7 51.4 348.6 50 347.4 49.7 345.5 51.1Z"/><path color="#f8f26b" d="M384.6 46.2 386.6 46.3 385.3 45.4 383.4 45.4Z"/><path color="#f8cf75" d="M354.9 48.1 356.8 47 355.6 46.6 353.7 47.7Z"/><path color="#fed676" d="M392.8 48.6 394.8 49 393.6 48 391.6 47.6Z"/><path color="#f8ec6e" d="M363.1 46 365 45.2 363.8 44.7 361.9 45.5Z"/><path color="#4fa2f3" d="M333.4 59.6 335.3 57.6 334.1 57.6 332.2 59.6Z"/><path color="#b9d876" d="M401 52.2 403 52.9 401.8 51.8 399.8 51.1Z"/><path color="#fafa66" d="M371.3 45.2 373.3 44.7 372.1 44.1 370.1 44.6Z"/><path color="#56d0c1" d="M341.6 54.3 343.5 52.7 342.3 52.5 340.4 54.1Z"/><path color="#fbfb66" d="M379.5 45.5 381.5 45.4 380.3 44.6 378.3 44.8Z"/><path color="#c5d66e" d="M349.8 50.2 351.7 48.9 350.5 48.6 348.6 50Z"/><path color="#f9e96e" d="M387.8 47.1 389.7 47.3 388.5 46.4 386.6 46.3Z"/><path color="#fed974" d="M358 47.4 360 46.4 358.8 46 356.8 47Z"/><path color="#f1cf6f" d="M396 50 397.9 50.5 396.7 49.5 394.8 49Z"/><path color="#f9f46b" d="M366.2 45.8 368.2 45.1 367 44.6 365 45.2Z"/><path color="#49b9e6" d="M336.5 57.7 338.5 55.9 337.2 55.8 335.3 57.6Z"/><path color="#87d998" d="M404.2 54 406.1 54.8 404.9 53.7 403 52.9Z"/><path color="#fbfc65" d="M374.5 45.4 376.4 45 375.2 44.4 373.3 44.7Z"/><path color="#76d8a4" d="M344.7 52.9 346.7 51.4 345.5 51.1 343.5 52.7Z"/><path color="#f9f669" d="M382.7 46.2 384.6 46.2 383.4 45.4 381.5 45.4Z"/><path color="#e8d068" d="M353 49.3 354.9 48.1 353.7 47.7 351.7 48.9Z"/><path color="#fdde72" d="M390.9 48.2 392.8 48.6 391.6 47.6 389.7 47.3Z"/><path color="#fae66f" d="M361.2 46.9 363.1 46 361.9 45.5 360 46.4Z"/><path color="#4f93fb" d="M331.4 61.6 333.4 59.6 332.2 59.6 330.2 61.6Z"/><path color="#d2d468" d="M399.1 51.5 401 52.2 399.8 51.1 397.9 50.5Z"/><path color="#faf968" d="M369.4 45.7 371.3 45.2 370.1 44.6 368.2 45.1Z"/><path color="#38c9d1" d="M339.7 56 341.6 54.3 340.4 54.1 338.5 55.9Z"/><path color="#61d3b8" d="M407.3 56 409.3 57 408.1 55.8 406.1 54.8Z"/><path color="#fbfc65" d="M377.6 45.7 379.5 45.5 378.3 44.8 376.4 45Z"/><path color="#a8d981" d="M347.9 51.6 349.8 50.2 348.6 50 346.7 51.4Z"/><path color="#f8ef6d" d="M385.8 47 387.8 47.1 386.6 46.3 384.6 46.2Z"/><path color="#fdd178" d="M356.1 48.5 358 47.4 356.8 47 354.9 48.1Z"/><path color="#fdd178" d="M394 49.5 396 50 394.8 49 392.8 48.6Z"/><path color="#f8ef6d" d="M364.3 46.5 366.2 45.8 365 45.2 363.1 46Z"/><path color="#4dabed" d="M334.6 59.6 336.5 57.7 335.3 57.6 333.4 59.6Z"/><path color="#a6d982" d="M402.2 53.2 404.2 54 403 52.9 401 52.2Z"/><path color="#fbfb65" d="M372.5 45.8 374.5 45.4 373.3 44.7 371.3 45.2Z"/><path color="#61d3b7" d="M342.8 54.5 344.7 52.9 343.5 52.7 341.6 54.3Z"/><path color="#faf967" d="M380.7 46.3 382.7 46.2 381.5 45.4 379.5 45.5Z"/><path color="#d4d467" d="M351 50.5 353 49.3 351.7 48.9 349.8 50.2Z"/><path color="#fae570" d="M389 48 390.9 48.2 389.7 47.3 387.8 47.1Z"/><path color="#fdde72" d="M359.2 47.8 361.2 46.9 360 46.4 358 47.4Z"/><path color="#5883ff" d="M329.5 63.8 331.4 61.6 330.2 61.6 328.3 63.8Z"/><path color="#e7d067" d="M397.2 50.9 399.1 51.5 397.9 50.5 396 50Z"/><path color="#f9f669" d="M367.4 46.3 369.4 45.7 368.2 45.1 366.2 45.8Z"/><path color="#44c0e0" d="M337.7 57.8 339.7 56 338.5 55.9 336.5 57.7Z"/><path color="#74d8a5" d="M405.4 55.1 407.3 56 406.1 54.8 404.2 54Z"/><path color="#fbfc64" d="M375.7 46 377.6 45.7 376.4 45 374.5 45.4Z"/><path color="#88d997" d="M345.9 53.1 347.9 51.6 346.7 51.4 344.7 52.9Z"/><path color="#f9f36b" d="M383.9 47 385.8 47 384.6 46.2 382.7 46.2Z"/><path color="#f2cf6f" d="M354.2 49.6 356.1 48.5 354.9 48.1 353 49.3Z"/><path color="#fed874" d="M392.1 49.1 394 49.5 392.8 48.6 390.9 48.2Z"/><path color="#f9e96e" d="M362.4 47.3 364.3 46.5 363.1 46 361.2 46.9Z"/><path color="#4f9cf7" d="M332.6 61.6 334.6 59.6 333.4 59.6 331.4 61.6Z"/><path color="#c2d670" d="M400.3 52.5 402.2 53.2 401 52.2 399.1 51.5Z"/><path color="#fafa66" d="M370.6 46.3 372.5 45.8 371.3 45.2 369.4 45.7Z"/><path color="#49cdc8" d="M340.9 56.1 342.8 54.5 341.6 54.3 339.7 56Z"/><path color="#53cfc3" d="M408.5 57.1 410.5 58.1 409.3 57 407.3 56Z"/><path color="#fbfb65" d="M378.8 46.4 380.7 46.3 379.5 45.5 377.6 45.7Z"/><path color="#bad775" d="M349.1 51.9 351 50.5 349.8 50.2 347.9 51.6Z"/><path color="#f8eb6e" d="M387 47.8 389 48 387.8 47.1 385.8 47Z"/><path color="#fed676" d="M357.3 48.8 359.2 47.8 358 47.4 356.1 48.5Z"/><path color="#f6cf73" d="M395.2 50.4 397.2 50.9 396 50 394 49.5Z"/><path color="#f8f26c" d="M365.5 47 367.4 46.3 366.2 45.8 364.3 46.5Z"/><path color="#4bb3e9" d="M335.8 59.7 337.7 57.8 336.5 57.7 334.6 59.6Z"/><path color="#92da90" d="M403.5 54.3 405.4 55.1 404.2 54 402.2 53.2Z"/><path color="#fbfc65" d="M373.7 46.4 375.7 46 374.5 45.4 372.5 45.8Z"/><path color="#6cd6ac" d="M344 54.6 345.9 53.1 344.7 52.9 342.8 54.5Z"/><path color="#f9f769" d="M381.9 47 383.9 47 382.7 46.2 380.7 46.3Z"/><path color="#e0d166" d="M352.2 50.8 354.2 49.6 353 49.3 351 50.5Z"/><path color="#fce071" d="M390.2 48.9 392.1 49.1 390.9 48.2 389 48Z"/><path color="#fce270" d="M360.4 48.2 362.4 47.3 361.2 46.9 359.2 47.8Z"/><path color="#528cfd" d="M330.7 63.7 332.6 61.6 331.4 61.6 329.5 63.8Z"/><path color="#dad266" d="M398.4 51.9 400.3 52.5 399.1 51.5 397.2 50.9Z"/><path color="#faf868" d="M368.6 46.8 370.6 46.3 369.4 45.7 367.4 46.3Z"/><path color="#39c5d8" d="M338.9 57.9 340.9 56.1 339.7 56 337.7 57.8Z"/><path color="#66d5b2" d="M406.6 56.2 408.5 57.1 407.3 56 405.4 55.1Z"/><path color="#fbfc65" d="M376.9 46.7 378.8 46.4 377.6 45.7 375.7 46Z"/><path color="#9bda8a" d="M347.1 53.3 349.1 51.9 347.9 51.6 345.9 53.1Z"/><path color="#f8f16c" d="M385.1 47.7 387 47.8 385.8 47 383.9 47Z"/><path color="#facf77" d="M355.4 49.9 357.3 48.8 356.1 48.5 354.2 49.6Z"/><path color="#fed377" d="M393.3 50 395.2 50.4 394 49.5 392.1 49.1Z"/><path color="#f8ed6d" d="M363.6 47.8 365.5 47 364.3 46.5 362.4 47.3Z"/><path color="#4fa5f1" d="M333.8 61.6 335.8 59.7 334.6 59.6 332.6 61.6Z"/><path color="#b0d87b" d="M401.5 53.5 403.5 54.3 402.2 53.2 400.3 52.5Z"/><path color="#fbfb65" d="M371.8 46.8 373.7 46.4 372.5 45.8 370.6 46.3Z"/><path color="#5ad1be" d="M342.1 56.3 344 54.6 342.8 54.5 340.9 56.1Z"/><path color="#3fcbcd" d="M409.7 58.3 411.7 59.3 410.5 58.1 408.5 57.1Z"/><path color="#fafa67" d="M380 47.1 381.9 47 380.7 46.3 378.8 46.4Z"/><path color="#cad56c" d="M350.3 52.1 352.2 50.8 351 50.5 349.1 51.9Z"/><path color="#fae76f" d="M388.2 48.6 390.2 48.9 389 48 387 47.8Z"/><path color="#fedb73" d="M358.5 49.2 360.4 48.2 359.2 47.8 357.3 48.8Z"/><path color="#edcf6b" d="M396.4 51.4 398.4 51.9 397.2 50.9 395.2 50.4Z"/><path color="#f9f46a" d="M366.7 47.5 368.6 46.8 367.4 46.3 365.5 47Z"/><path color="#48bbe5" d="M337 59.7 338.9 57.9 337.7 57.8 335.8 59.7Z"/><path color="#7fd99e" d="M404.7 55.3 406.6 56.2 405.4 55.1 403.5 54.3Z"/><path color="#fbfc64" d="M374.9 47 376.9 46.7 375.7 46 373.7 46.4Z"/><path color="#7cd9a0" d="M345.2 54.8 347.1 53.3 345.9 53.1 344 54.6Z"/><path color="#f9f56a" d="M383.1 47.7 385.1 47.7 383.9 47 381.9 47Z"/><path color="#ebcf6a" d="M353.4 51.1 355.4 49.9 354.2 49.6 352.2 50.8Z"/><path color="#fedb73" d="M391.4 49.7 393.3 50 392.1 49.1 390.2 48.9Z"/><path color="#fae76f" d="M361.6 48.6 363.6 47.8 362.4 47.3 360.4 48.2Z"/><path color="#4f96fa" d="M331.9 63.7 333.8 61.6 332.6 61.6 330.7 63.7Z"/><path color="#ccd56b" d="M399.6 52.9 401.5 53.5 400.3 52.5 398.4 51.9Z"/><path color="#faf967" d="M369.9 47.4 371.8 46.8 370.6 46.3 368.6 46.8Z"/><path color="#3ccace" d="M340.1 58 342.1 56.3 340.9 56.1 338.9 57.9Z"/><path color="#5cd1bd" d="M407.8 57.3 409.7 58.3 408.5 57.1 406.6 56.2Z"/><path color="#fbfb65" d="M378.1 47.3 380 47.1 378.8 46.4 376.9 46.7Z"/><path color="#aed97d" d="M348.3 53.5 350.3 52.1 349.1 51.9 347.1 53.3Z"/><path color="#f8ed6d" d="M386.3 48.5 388.2 48.6 387 47.8 385.1 47.7Z"/><path color="#fed278" d="M356.6 50.3 358.5 49.2 357.3 48.8 355.4 49.9Z"/><path color="#facf78" d="M394.5 50.9 396.4 51.4 395.2 50.4 393.3 50Z"/><path color="#f8f06d" d="M364.8 48.2 366.7 47.5 365.5 47 363.6 47.8Z"/><path color="#4caeec" d="M335 61.6 337 59.7 335.8 59.7 333.8 61.6Z"/><path color="#9dda88" d="M402.7 54.6 404.7 55.3 403.5 54.3 401.5 53.5Z"/><path color="#fbfc65" d="M373 47.4 374.9 47 373.7 46.4 371.8 46.8Z"/><path color="#65d4b4" d="M343.3 56.4 345.2 54.8 344 54.6 342.1 56.3Z"/><path color="#38c6d6" d="M410.9 59.4 412.9 60.5 411.7 59.3 409.7 58.3Z"/><path color="#faf868" d="M381.2 47.8 383.1 47.7 381.9 47 380 47.1Z"/><path color="#d8d366" d="M351.5 52.4 353.4 51.1 352.2 50.8 350.3 52.1Z"/><path color="#fbe370" d="M389.4 49.5 391.4 49.7 390.2 48.9 388.2 48.6Z"/><path color="#fddf71" d="M359.7 49.6 361.6 48.6 360.4 48.2 358.5 49.2Z"/><path color="#e1d166" d="M397.6 52.3 399.6 52.9 398.4 51.9 396.4 51.4Z"/><path color="#f9f669" d="M367.9 48 369.9 47.4 368.6 46.8 366.7 47.5Z"/><path color="#40c2dd" d="M338.2 59.8 340.1 58 338.9 57.9 337 59.7Z"/><path color="#6dd7ab" d="M405.9 56.4 407.8 57.3 406.6 56.2 404.7 55.3Z"/><path color="#fbfc64" d="M376.1 47.6 378.1 47.3 376.9 46.7 374.9 47Z"/><path color="#8eda92" d="M346.4 55 348.3 53.5 347.1 53.3 345.2 54.8Z"/><path color="#f8f26c" d="M384.4 48.5 386.3 48.5 385.1 47.7 383.1 47.7Z"/><path color="#f4ce72" d="M354.6 51.4 356.6 50.3 355.4 49.9 353.4 51.1Z"/><path color="#fed675" d="M392.6 50.6 394.5 50.9 393.3 50 391.4 49.7Z"/><path color="#f9ea6e" d="M362.8 49 364.8 48.2 363.6 47.8 361.6 48.6Z"/><path color="#509ff5" d="M333.1 63.6 335 61.6 333.8 61.6 331.9 63.7Z"/><path color="#bbd774" d="M400.8 53.9 402.7 54.6 401.5 53.5 399.6 52.9Z"/><path color="#fafa66" d="M371.1 47.9 373 47.4 371.8 46.8 369.9 47.4Z"/><path color="#50cec4" d="M341.3 58.1 343.3 56.4 342.1 56.3 340.1 58Z"/><path color="#4bcdc7" d="M409 58.4 410.9 59.4 409.7 58.3 407.8 57.3Z"/><path color="#fafa66" d="M379.3 48 381.2 47.8 380 47.1 378.1 47.3Z"/><path color="#bfd772" d="M349.5 53.7 351.5 52.4 350.3 52.1 348.3 53.5Z"/><path color="#f9e96e" d="M387.5 49.3 389.4 49.5 388.2 48.6 386.3 48.5Z"/><path color="#fed775" d="M357.8 50.6 359.7 49.6 358.5 49.2 356.6 50.3Z"/><path color="#f2cf70" d="M395.7 51.8 397.6 52.3 396.4 51.4 394.5 50.9Z"/><path color="#f8f36b" d="M366 48.7 367.9 48 366.7 47.5 364.8 48.2Z"/><path color="#4ab6e8" d="M336.3 61.6 338.2 59.8 337 59.7 335 61.6Z"/><path color="#89da96" d="M403.9 55.6 405.9 56.4 404.7 55.3 402.7 54.6Z"/><path color="#fbfc64" d="M374.2 48 376.1 47.6 374.9 47 373 47.4Z"/><path color="#71d7a8" d="M344.5 56.5 346.4 55 345.2 54.8 343.3 56.4Z"/><path color="#43c0df" d="M412.1 60.6 414.1 61.7 412.9 60.5 410.9 59.4Z"/><path color="#f9f66a" d="M382.4 48.5 384.4 48.5 383.1 47.7 381.2 47.8Z"/><path color="#e4d167" d="M352.7 52.6 354.6 51.4 353.4 51.1 351.5 52.4Z"/><path color="#fdde72" d="M390.6 50.3 392.6 50.6 391.4 49.7 389.4 49.5Z"/><path color="#fbe470" d="M360.9 49.9 362.8 49 361.6 48.6 359.7 49.6Z"/><path color="#d4d367" d="M398.8 53.3 400.8 53.9 399.6 52.9 397.6 52.3Z"/><path color="#faf868" d="M369.1 48.5 371.1 47.9 369.9 47.4 367.9 48Z"/><path color="#37c7d4" d="M339.4 59.8 341.3 58.1 340.1 58 338.2 59.8Z"/><path color="#62d3b6" d="M407.1 57.5 409 58.4 407.8 57.3 405.9 56.4Z"/><path color="#fbfc65" d="M377.3 48.2 379.3 48 378.1 47.3 376.1 47.6Z"/><path color="#a1d985" d="M347.6 55.1 349.5 53.7 348.3 53.5 346.4 55Z"/><path color="#f8ef6d" d="M385.6 49.2 387.5 49.3 386.3 48.5 384.4 48.5Z"/><path color="#fcd078" d="M355.8 51.7 357.8 50.6 356.6 50.3 354.6 51.4Z"/><path color="#fdd178" d="M393.8 51.4 395.7 51.8 394.5 50.9 392.6 50.6Z"/><path color="#f8ee6d" d="M364 49.5 366 48.7 364.8 48.2 362.8 49Z"/><path color="#4da8ef" d="M334.3 63.6 336.3 61.6 335 61.6 333.1 63.6Z"/><path color="#a9d980" d="M402 54.9 403.9 55.6 402.7 54.6 400.8 53.9Z"/><path color="#fbfb65" d="M372.3 48.4 374.2 48 373 47.4 371.1 47.9Z"/><path color="#5ed2ba" d="M342.5 58.2 344.5 56.5 343.3 56.4 341.3 58.1Z"/><path color="#39c9d1" d="M410.2 59.5 412.1 60.6 410.9 59.4 409 58.4Z"/><path color="#faf968" d="M380.5 48.6 382.4 48.5 381.2 47.8 379.3 48Z"/><path color="#cfd46a" d="M350.8 53.9 352.7 52.6 351.5 52.4 349.5 53.7Z"/><path color="#fae56f" d="M388.7 50.1 390.6 50.3 389.4 49.5 387.5 49.3Z"/><path color="#fedc72" d="M359 50.9 360.9 49.9 359.7 49.6 357.8 50.6Z"/><path color="#e8d068" d="M396.9 52.7 398.8 53.3 397.6 52.3 395.7 51.8Z"/><path color="#f9f56a" d="M367.2 49.1 369.1 48.5 367.9 48 366 48.7Z"/><path color="#46bee2" d="M337.5 61.7 339.4 59.8 338.2 59.8 336.3 61.6Z"/><path color="#77d8a3" d="M405.1 56.6 407.1 57.5 405.9 56.4 403.9 55.6Z"/><path color="#fbfc64" d="M375.4 48.6 377.3 48.2 376.1 47.6 374.2 48Z"/><path color="#82d99b" d="M345.7 56.6 347.6 55.1 346.4 55 344.5 56.5Z"/><path color="#49b9e6" d="M413.3 61.7 415.3 62.9 414.1 61.7 412.1 60.6Z"/><path color="#f9f36b" d="M383.6 49.2 385.6 49.2 384.4 48.5 382.4 48.5Z"/><path color="#efcf6c" d="M353.9 52.9 355.8 51.7 354.6 51.4 352.7 52.6Z"/><path color="#fed974" d="M391.8 51.1 393.8 51.4 392.6 50.6 390.6 50.3Z"/><path color="#f9e86f" d="M362.1 50.3 364 49.5 362.8 49 360.9 49.9Z"/><path color="#c5d66e" d="M400 54.2 402 54.9 400.8 53.9 398.8 53.3Z"/><path color="#fafa67" d="M370.3 49 372.3 48.4 371.1 47.9 369.1 48.5Z"/><path color="#42cccb" d="M340.6 59.9 342.5 58.2 341.3 58.1 339.4 59.8Z"/><path color="#57d0c1" d="M408.3 58.5 410.2 59.5 409 58.4 407.1 57.5Z"/><path color="#fbfb66" d="M378.5 48.9 380.5 48.6 379.3 48 377.3 48.2Z"/><path color="#b4d879" d="M348.8 55.3 350.8 53.9 349.5 53.7 347.6 55.1Z"/><path color="#f8ec6e" d="M386.8 50 388.7 50.1 387.5 49.3 385.6 49.2Z"/><path color="#fed477" d="M357 52 359 50.9 357.8 50.6 355.8 51.7Z"/><path color="#f7cf75" d="M395 52.3 396.9 52.7 395.7 51.8 393.8 51.4Z"/><path color="#f8f16c" d="M365.2 49.9 367.2 49.1 366 48.7 364 49.5Z"/><path color="#4cb1ea" d="M335.5 63.6 337.5 61.7 336.3 61.6 334.3 63.6Z"/><path color="#95da8d" d="M403.2 55.8 405.1 56.6 403.9 55.6 402 54.9Z"/><path color="#fbfc65" d="M373.5 49 375.4 48.6 374.2 48 372.3 48.4Z"/><path color="#68d5af" d="M343.7 58.2 345.7 56.6 344.5 56.5 342.5 58.2Z"/><path color="#3bc4da" d="M411.4 60.6 413.3 61.7 412.1 60.6 410.2 59.5Z"/><path color="#f9f769" d="M381.7 49.3 383.6 49.2 382.4 48.5 380.5 48.6Z"/><path color="#dcd266" d="M352 54.1 353.9 52.9 352.7 52.6 350.8 53.9Z"/><path color="#fce171" d="M389.9 50.9 391.8 51.1 390.6 50.3 388.7 50.1Z"/><path color="#fce171" d="M360.2 51.2 362.1 50.3 360.9 49.9 359 50.9Z"/><path color="#dcd266" d="M398.1 53.6 400 54.2 398.8 53.3 396.9 52.7Z"/><path color="#f9f769" d="M368.4 49.6 370.3 49 369.1 48.5 367.2 49.1Z"/><path color="#3bc4da" d="M338.7 61.7 340.6 59.9 339.4 59.8 337.5 61.7Z"/><path color="#68d5af" d="M406.3 57.6 408.3 58.5 407.1 57.5 405.1 56.6Z"/><path color="#fbfc65" d="M376.6 49.1 378.5 48.9 377.3 48.2 375.4 48.6Z"/><path color="#95da8d" d="M346.9 56.8 348.8 55.3 347.6 55.1 345.7 56.6Z"/><path color="#4cb1ea" d="M414.5 62.8 416.5 64.1 415.3 62.9 413.3 61.7Z"/><path color="#f8f16c" d="M384.8 49.9 386.8 50 385.6 49.2 383.6 49.2Z"/><path color="#f7cf75" d="M355.1 53.1 357 52 355.8 51.7 353.9 52.9Z"/><path color="#fed477" d="M393 51.9 395 52.3 393.8 51.4 391.8 51.1Z"/><path color="#f8ec6e" d="M363.3 50.7 365.2 49.9 364 49.5 362.1 50.3Z"/><path color="#b4d879" d="M401.3 55.1 403.2 55.8 402 54.9 400 54.2Z"/><path color="#fbfb66" d="M371.5 49.5 373.5 49 372.3 48.4 370.3 49Z"/><path color="#57d0c1" d="M341.8 59.9 343.7 58.2 342.5 58.2 340.6 59.9Z"/><path color="#42cccb" d="M409.5 59.6 411.4 60.6 410.2 59.5 408.3 58.5Z"/><path color="#fafa67" d="M379.7 49.5 381.7 49.3 380.5 48.6 378.5 48.9Z"/><path color="#c5d66e" d="M350 55.5 352 54.1 350.8 53.9 348.8 55.3Z"/><path color="#f9e86f" d="M388 50.7 389.9 50.9 388.7 50.1 386.8 50Z"/><path color="#fed974" d="M358.2 52.3 360.2 51.2 359 50.9 357 52Z"/><path color="#efcf6c" d="M396.2 53.1 398.1 53.6 396.9 52.7 395 52.3Z"/><path color="#f9f36b" d="M366.4 50.3 368.4 49.6 367.2 49.1 365.2 49.9Z"/><path color="#49b9e6" d="M336.7 63.5 338.7 61.7 337.5 61.7 335.5 63.6Z"/><path color="#82d99b" d="M404.4 56.8 406.3 57.6 405.1 56.6 403.2 55.8Z"/><path color="#fbfc64" d="M374.7 49.5 376.6 49.1 375.4 48.6 373.5 49Z"/><path color="#77d8a3" d="M344.9 58.3 346.9 56.8 345.7 56.6 343.7 58.2Z"/><path color="#46bee2" d="M412.6 61.7 414.5 62.8 413.3 61.7 411.4 60.6Z"/><path color="#f9f56a" d="M382.9 50 384.8 49.9 383.6 49.2 381.7 49.3Z"/><path color="#e8d068" d="M353.2 54.3 355.1 53.1 353.9 52.9 352 54.1Z"/><path color="#fedc72" d="M391.1 51.6 393 51.9 391.8 51.1 389.9 50.9Z"/><path color="#fae56f" d="M361.4 51.6 363.3 50.7 362.1 50.3 360.2 51.2Z"/><path color="#cfd46a" d="M399.3 54.5 401.3 55.1 400 54.2 398.1 53.6Z"/><path color="#faf968" d="M369.6 50 371.5 49.5 370.3 49 368.4 49.6Z"/><path color="#39c9d1" d="M339.9 61.7 341.8 59.9 340.6 59.9 338.7 61.7Z"/><path color="#5ed2ba" d="M407.5 58.7 409.5 59.6 408.3 58.5 406.3 57.6Z"/><path color="#fbfb65" d="M377.8 49.7 379.7 49.5 378.5 48.9 376.6 49.1Z"/><path color="#a9d980" d="M348.1 56.9 350 55.5 348.8 55.3 346.9 56.8Z"/><path color="#4da8ef" d="M415.8 64 417.7 65.3 416.5 64.1 414.5 62.8Z"/><path color="#f8ee6d" d="M386 50.6 388 50.7 386.8 50 384.8 49.9Z"/><path color="#fdd178" d="M356.3 53.4 358.2 52.3 357 52 355.1 53.1Z"/><path color="#fcd078" d="M394.2 52.7 396.2 53.1 395 52.3 393 51.9Z"/><path color="#f8ef6d" d="M364.5 51 366.4 50.3 365.2 49.9 363.3 50.7Z"/><path color="#a1d985" d="M402.5 56.1 404.4 56.8 403.2 55.8 401.3 55.1Z"/><path color="#fbfc65" d="M372.7 50 374.7 49.5 373.5 49 371.5 49.5Z"/><path color="#62d3b6" d="M343 60 344.9 58.3 343.7 58.2 341.8 59.9Z"/><path color="#37c7d4" d="M410.7 60.6 412.6 61.7 411.4 60.6 409.5 59.6Z"/><path color="#faf868" d="M380.9 50.1 382.9 50 381.7 49.3 379.7 49.5Z"/><path color="#d4d367" d="M351.2 55.6 353.2 54.3 352 54.1 350 55.5Z"/><path color="#fbe470" d="M389.2 51.4 391.1 51.6 389.9 50.9 388 50.7Z"/><path color="#fdde72" d="M359.4 52.6 361.4 51.6 360.2 51.2 358.2 52.3Z"/><path color="#e4d167" d="M397.4 54 399.3 54.5 398.1 53.6 396.2 53.1Z"/><path color="#f9f66a" d="M367.7 50.7 369.6 50 368.4 49.6 366.4 50.3Z"/><path color="#43c0df" d="M337.9 63.5 339.9 61.7 338.7 61.7 336.7 63.5Z"/><path color="#71d7a8" d="M405.6 57.8 407.5 58.7 406.3 57.6 404.4 56.8Z"/><path color="#fbfc64" d="M375.9 50 377.8 49.7 376.6 49.1 374.7 49.5Z"/><path color="#89da96" d="M346.1 58.4 348.1 56.9 346.9 56.8 344.9 58.3Z"/><path color="#4ab6e8" d="M413.8 62.8 415.8 64 414.5 62.8 412.6 61.7Z"/><path color="#f8f36b" d="M384.1 50.6 386 50.6 384.8 49.9 382.9 50Z"/><path color="#f2cf70" d="M354.4 54.5 356.3 53.4 355.1 53.1 353.2 54.3Z"/><path color="#fed775" d="M392.3 52.4 394.2 52.7 393 51.9 391.1 51.6Z"/><path color="#f9e96e" d="M362.6 51.9 364.5 51 363.3 50.7 361.4 51.6Z"/><path color="#bfd772" d="M400.5 55.4 402.5 56.1 401.3 55.1 399.3 54.5Z"/><path color="#fafa66" d="M370.8 50.5 372.7 50 371.5 49.5 369.6 50Z"/><path color="#4bcdc7" d="M341.1 61.7 343 60 341.8 59.9 339.9 61.7Z"/><path color="#50cec4" d="M408.7 59.7 410.7 60.6 409.5 59.6 407.5 58.7Z"/><path color="#fafa66" d="M379 50.3 380.9 50.1 379.7 49.5 377.8 49.7Z"/><path color="#bbd774" d="M349.3 57 351.2 55.6 350 55.5 348.1 56.9Z"/><path color="#509ff5" d="M417 65.1 418.9 66.4 417.7 65.3 415.8 64Z"/><path color="#f9ea6e" d="M387.2 51.3 389.2 51.4 388 50.7 386 50.6Z"/><path color="#fed675" d="M357.5 53.6 359.4 52.6 358.2 52.3 356.3 53.4Z"/><path color="#f4ce72" d="M395.4 53.6 397.4 54 396.2 53.1 394.2 52.7Z"/><path color="#f8f26c" d="M365.7 51.4 367.7 50.7 366.4 50.3 364.5 51Z"/><path color="#8eda92" d="M403.7 57 405.6 57.8 404.4 56.8 402.5 56.1Z"/><path color="#fbfc64" d="M373.9 50.4 375.9 50 374.7 49.5 372.7 50Z"/><path color="#6dd7ab" d="M344.2 60 346.1 58.4 344.9 58.3 343 60Z"/><path color="#40c2dd" d="M411.9 61.7 413.8 62.8 412.6 61.7 410.7 60.6Z"/><path color="#f9f669" d="M382.2 50.7 384.1 50.6 382.9 50 380.9 50.1Z"/><path color="#e1d166" d="M352.4 55.8 354.4 54.5 353.2 54.3 351.2 55.6Z"/><path color="#fddf71" d="M390.4 52.2 392.3 52.4 391.1 51.6 389.2 51.4Z"/><path color="#fbe370" d="M360.6 52.8 362.6 51.9 361.4 51.6 359.4 52.6Z"/><path color="#d8d366" d="M398.6 54.9 400.5 55.4 399.3 54.5 397.4 54Z"/><path color="#faf868" d="M368.9 51.1 370.8 50.5 369.6 50 367.7 50.7Z"/><path color="#38c6d6" d="M339.1 63.5 341.1 61.7 339.9 61.7 337.9 63.5Z"/><path color="#65d4b4" d="M406.8 58.8 408.7 59.7 407.5 58.7 405.6 57.8Z"/><path color="#fbfc65" d="M377.1 50.6 379 50.3 377.8 49.7 375.9 50Z"/><path color="#9dda88" d="M347.3 58.5 349.3 57 348.1 56.9 346.1 58.4Z"/><path color="#4caeec" d="M415 63.9 417 65.1 415.8 64 413.8 62.8Z"/><path color="#f8f06d" d="M385.3 51.3 387.2 51.3 386 50.6 384.1 50.6Z"/><path color="#facf78" d="M355.6 54.8 357.5 53.6 356.3 53.4 354.4 54.5Z"/><path color="#fed278" d="M393.5 53.2 395.4 53.6 394.2 52.7 392.3 52.4Z"/><path color="#f8ed6d" d="M363.8 52.2 365.7 51.4 364.5 51 362.6 51.9Z"/><path color="#aed97d" d="M401.7 56.3 403.7 57 402.5 56.1 400.5 55.4Z"/><path color="#fbfb65" d="M372 50.9 373.9 50.4 372.7 50 370.8 50.5Z"/><path color="#5cd1bd" d="M342.3 61.7 344.2 60 343 60 341.1 61.7Z"/><path color="#3ccace" d="M409.9 60.7 411.9 61.7 410.7 60.6 408.7 59.7Z"/><path color="#faf967" d="M380.2 50.9 382.2 50.7 380.9 50.1 379 50.3Z"/><path color="#ccd56b" d="M350.5 57.2 352.4 55.8 351.2 55.6 349.3 57Z"/><path color="#4f96fa" d="M418.2 66.3 420.1 67.6 418.9 66.4 417 65.1Z"/><path color="#fae76f" d="M388.4 52 390.4 52.2 389.2 51.4 387.2 51.3Z"/><path color="#fedb73" d="M358.7 53.9 360.6 52.8 359.4 52.6 357.5 53.6Z"/><path color="#ebcf6a" d="M396.6 54.4 398.6 54.9 397.4 54 395.4 53.6Z"/><path color="#f9f56a" d="M366.9 51.8 368.9 51.1 367.7 50.7 365.7 51.4Z"/><path color="#7cd9a0" d="M404.9 58 406.8 58.8 405.6 57.8 403.7 57Z"/><path color="#fbfc64" d="M375.1 50.9 377.1 50.6 375.9 50 373.9 50.4Z"/><path color="#7fd99e" d="M345.4 60 347.3 58.5 346.1 58.4 344.2 60Z"/><path color="#48bbe5" d="M413.1 62.8 415 63.9 413.8 62.8 411.9 61.7Z"/><path color="#f9f46a" d="M383.4 51.3 385.3 51.3 384.1 50.6 382.2 50.7Z"/><path color="#edcf6b" d="M353.6 56 355.6 54.8 354.4 54.5 352.4 55.8Z"/><path color="#fedb73" d="M391.6 52.9 393.5 53.2 392.3 52.4 390.4 52.2Z"/><path color="#fae76f" d="M361.8 53.1 363.8 52.2 362.6 51.9 360.6 52.8Z"/><path color="#cad56c" d="M399.8 55.7 401.7 56.3 400.5 55.4 398.6 54.9Z"/><path color="#fafa67" d="M370.1 51.5 372 50.9 370.8 50.5 368.9 51.1Z"/><path color="#3fcbcd" d="M340.3 63.4 342.3 61.7 341.1 61.7 339.1 63.5Z"/><path color="#5ad1be" d="M408 59.8 409.9 60.7 408.7 59.7 406.8 58.8Z"/><path color="#fbfb65" d="M378.3 51.1 380.2 50.9 379 50.3 377.1 50.6Z"/><path color="#b0d87b" d="M348.6 58.6 350.5 57.2 349.3 57 347.3 58.5Z"/><path color="#4fa5f1" d="M416.2 65 418.2 66.3 417 65.1 415 63.9Z"/><path color="#f8ed6d" d="M386.5 51.9 388.4 52 387.2 51.3 385.3 51.3Z"/><path color="#fed377" d="M356.8 55 358.7 53.9 357.5 53.6 355.6 54.8Z"/><path color="#facf77" d="M394.7 54 396.6 54.4 395.4 53.6 393.5 53.2Z"/><path color="#f8f16c" d="M365 52.6 366.9 51.8 365.7 51.4 363.8 52.2Z"/><path color="#9bda8a" d="M402.9 57.2 404.9 58 403.7 57 401.7 56.3Z"/><path color="#fbfc65" d="M373.2 51.4 375.1 50.9 373.9 50.4 372 50.9Z"/><path color="#66d5b2" d="M343.5 61.7 345.4 60 344.2 60 342.3 61.7Z"/><path color="#39c5d8" d="M411.1 61.7 413.1 62.8 411.9 61.7 409.9 60.7Z"/><path color="#faf868" d="M381.4 51.4 383.4 51.3 382.2 50.7 380.2 50.9Z"/><path color="#dad266" d="M351.7 57.3 353.6 56 352.4 55.8 350.5 57.2Z"/><path color="#528cfd" d="M419.4 67.4 421.3 68.8 420.1 67.6 418.2 66.3Z"/><path color="#fce270" d="M389.6 52.7 391.6 52.9 390.4 52.2 388.4 52Z"/><path color="#fce071" d="M359.9 54.1 361.8 53.1 360.6 52.8 358.7 53.9Z"/><path color="#e0d166" d="M397.8 55.2 399.8 55.7 398.6 54.9 396.6 54.4Z"/><path color="#f9f769" d="M368.1 52.2 370.1 51.5 368.9 51.1 366.9 51.8Z"/><path color="#6cd6ac" d="M406.1 58.9 408 59.8 406.8 58.8 404.9 58Z"/><path color="#fbfc65" d="M376.3 51.4 378.3 51.1 377.1 50.6 375.1 50.9Z"/><path color="#92da90" d="M346.6 60.1 348.6 58.6 347.3 58.5 345.4 60Z"/><path color="#4bb3e9" d="M414.3 63.8 416.2 65 415 63.9 413.1 62.8Z"/><path color="#f8f26c" d="M384.6 51.9 386.5 51.9 385.3 51.3 383.4 51.3Z"/><path color="#f6cf73" d="M354.8 56.1 356.8 55 355.6 54.8 353.6 56Z"/><path color="#fed676" d="M392.8 53.6 394.7 54 393.5 53.2 391.6 52.9Z"/><path color="#f8eb6e" d="M363 53.4 365 52.6 363.8 52.2 361.8 53.1Z"/><path color="#bad775" d="M401 56.6 402.9 57.2 401.7 56.3 399.8 55.7Z"/><path color="#fbfb65" d="M371.3 51.9 373.2 51.4 372 50.9 370.1 51.5Z"/><path color="#53cfc3" d="M341.5 63.4 343.5 61.7 342.3 61.7 340.3 63.4Z"/><path color="#49cdc8" d="M409.2 60.7 411.1 61.7 409.9 60.7 408 59.8Z"/><path color="#fafa66" d="M379.5 51.6 381.4 51.4 380.2 50.9 378.3 51.1Z"/><path color="#c2d670" d="M349.8 58.7 351.7 57.3 350.5 57.2 348.6 58.6Z"/><path color="#4f9cf7" d="M417.4 66.1 419.4 67.4 418.2 66.3 416.2 65Z"/><path color="#f9e96e" d="M387.7 52.6 389.6 52.7 388.4 52 386.5 51.9Z"/><path color="#fed874" d="M358 55.2 359.9 54.1 358.7 53.9 356.8 55Z"/><path color="#f2cf6f" d="M395.9 54.7 397.8 55.2 396.6 54.4 394.7 54Z"/><path color="#f9f36b" d="M366.2 52.9 368.1 52.2 366.9 51.8 365 52.6Z"/><path color="#88d997" d="M404.1 58.1 406.1 58.9 404.9 58 402.9 57.2Z"/><path color="#fbfc64" d="M374.4 51.8 376.3 51.4 375.1 50.9 373.2 51.4Z"/><path color="#74d8a5" d="M344.7 61.7 346.6 60.1 345.4 60 343.5 61.7Z"/><path color="#44c0e0" d="M412.3 62.7 414.3 63.8 413.1 62.8 411.1 61.7Z"/><path color="#f9f669" d="M382.6 52 384.6 51.9 383.4 51.3 381.4 51.4Z"/><path color="#e7d067" d="M352.9 57.4 354.8 56.1 353.6 56 351.7 57.3Z"/><path color="#5883ff" d="M420.6 68.6 422.5 70 421.3 68.8 419.4 67.4Z"/><path color="#fdde72" d="M390.8 53.4 392.8 53.6 391.6 52.9 389.6 52.7Z"/><path color="#fae570" d="M361.1 54.4 363 53.4 361.8 53.1 359.9 54.1Z"/><path color="#d4d467" d="M399.1 56 401 56.6 399.8 55.7 397.8 55.2Z"/><path color="#faf967" d="M369.3 52.5 371.3 51.9 370.1 51.5 368.1 52.2Z"/><path color="#61d3b7" d="M407.3 59.8 409.2 60.7 408 59.8 406.1 58.9Z"/><path color="#fbfb65" d="M377.5 51.9 379.5 51.6 378.3 51.1 376.3 51.4Z"/><path color="#a6d982" d="M347.8 60.1 349.8 58.7 348.6 58.6 346.6 60.1Z"/><path color="#4dabed" d="M415.5 64.9 417.4 66.1 416.2 65 414.3 63.8Z"/><path color="#f8ef6d" d="M385.8 52.5 387.7 52.6 386.5 51.9 384.6 51.9Z"/><path color="#fdd178" d="M356 56.3 358 55.2 356.8 55 354.8 56.1Z"/><path color="#fdd178" d="M394 54.4 395.9 54.7 394.7 54 392.8 53.6Z"/><path color="#f8ef6d" d="M364.2 53.7 366.2 52.9 365 52.6 363 53.4Z"/><path color="#a8d981" d="M402.2 57.4 404.1 58.1 402.9 57.2 401 56.6Z"/><path color="#fbfc65" d="M372.5 52.3 374.4 51.8 373.2 51.4 371.3 51.9Z"/><path color="#61d3b8" d="M342.7 63.3 344.7 61.7 343.5 61.7 341.5 63.4Z"/><path color="#38c9d1" d="M410.4 61.7 412.3 62.7 411.1 61.7 409.2 60.7Z"/><path color="#faf968" d="M380.7 52.2 382.6 52 381.4 51.4 379.5 51.6Z"/><path color="#d2d468" d="M351 58.7 352.9 57.4 351.7 57.3 349.8 58.7Z"/><path color="#4f93fb" d="M418.6 67.2 420.6 68.6 419.4 67.4 417.4 66.1Z"/><path color="#fae66f" d="M388.9 53.2 390.8 53.4 389.6 52.7 387.7 52.6Z"/><path color="#fdde72" d="M359.2 55.4 361.1 54.4 359.9 54.1 358 55.2Z"/><path color="#e8d068" d="M397.1 55.5 399.1 56 397.8 55.2 395.9 54.7Z"/><path color="#f9f669" d="M367.4 53.2 369.3 52.5 368.1 52.2 366.2 52.9Z"/><path color="#76d8a4" d="M405.3 59 407.3 59.8 406.1 58.9 404.1 58.1Z"/><path color="#fbfc65" d="M375.6 52.3 377.5 51.9 376.3 51.4 374.4 51.8Z"/><path color="#87d998" d="M345.9 61.7 347.8 60.1 346.6 60.1 344.7 61.7Z"/><path color="#49b9e6" d="M413.6 63.8 415.5 64.9 414.3 63.8 412.3 62.7Z"/><path color="#f9f46b" d="M383.8 52.6 385.8 52.5 384.6 51.9 382.6 52Z"/><path color="#f1cf6f" d="M354.1 57.5 356 56.3 354.8 56.1 352.9 57.4Z"/><path color="#fed974" d="M392 54.1 394 54.4 392.8 53.6 390.8 53.4Z"/><path color="#f9e96e" d="M362.3 54.6 364.2 53.7 363 53.4 361.1 54.4Z"/><path color="#c5d66e" d="M400.3 56.8 402.2 57.4 401 56.6 399.1 56Z"/><path color="#fbfb66" d="M370.5 52.9 372.5 52.3 371.3 51.9 369.3 52.5Z"/><path color="#56d0c1" d="M408.5 60.8 410.4 61.7 409.2 60.7 407.3 59.8Z"/><path color="#fafa66" d="M378.7 52.4 380.7 52.2 379.5 51.6 377.5 51.9Z"/><path color="#b9d876" d="M349 60.2 351 58.7 349.8 58.7 347.8 60.1Z"/><path color="#4fa2f3" d="M416.7 66 418.6 67.2 417.4 66.1 415.5 64.9Z"/><path color="#f8ec6e" d="M387 53.2 388.9 53.2 387.7 52.6 385.8 52.5Z"/><path color="#fed676" d="M357.2 56.5 359.2 55.4 358 55.2 356 56.3Z"/><path color="#f8cf75" d="M395.2 55.1 397.1 55.5 395.9 54.7 394 54.4Z"/><path color="#f8f26b" d="M365.5 54 367.4 53.2 366.2 52.9 364.2 53.7Z"/><path color="#95da8d" d="M403.4 58.3 405.3 59 404.1 58.1 402.2 57.4Z"/><path color="#fbfc64" d="M373.7 52.7 375.6 52.3 374.4 51.8 372.5 52.3Z"/><path color="#6cd6ac" d="M343.9 63.3 345.9 61.7 344.7 61.7 342.7 63.3Z"/><path color="#3cc4da" d="M411.6 62.7 413.6 63.8 412.3 62.7 410.4 61.7Z"/><path color="#f9f769" d="M381.9 52.7 383.8 52.6 382.6 52 380.7 52.2Z"/><path color="#e0d166" d="M352.2 58.8 354.1 57.5 352.9 57.4 351 58.7Z"/><path color="#fce171" d="M390.1 53.9 392 54.1 390.8 53.4 388.9 53.2Z"/><path color="#fbe370" d="M360.4 55.6 362.3 54.6 361.1 54.4 359.2 55.4Z"/><path color="#ddd265" d="M398.3 56.3 400.3 56.8 399.1 56 397.1 55.5Z"/><path color="#faf868" d="M368.6 53.5 370.5 52.9 369.3 52.5 367.4 53.2Z"/><path color="#68d5af" d="M406.5 59.9 408.5 60.8 407.3 59.8 405.3 59Z"/><path color="#fbfb65" d="M376.8 52.7 378.7 52.4 377.5 51.9 375.6 52.3Z"/><path color="#9bda8a" d="M347.1 61.7 349 60.2 347.8 60.1 345.9 61.7Z"/><path color="#4cb1ea" d="M414.8 64.8 416.7 66 415.5 64.9 413.6 63.8Z"/><path color="#f8f26c" d="M385 53.2 387 53.2 385.8 52.5 383.8 52.6Z"/><path color="#facf78" d="M355.3 57.7 357.2 56.5 356 56.3 354.1 57.5Z"/><path color="#fed576" d="M393.2 54.8 395.2 55.1 394 54.4 392 54.1Z"/><path color="#f8ed6d" d="M363.5 54.8 365.5 54 364.2 53.7 362.3 54.6Z"/><path color="#b5d878" d="M401.5 57.6 403.4 58.3 402.2 57.4 400.3 56.8Z"/><path color="#fbfc65" d="M371.7 53.3 373.7 52.7 372.5 52.3 370.5 52.9Z"/><path color="#42cccb" d="M409.7 61.7 411.6 62.7 410.4 61.7 408.5 60.8Z"/><path color="#faf968" d="M380 52.9 381.9 52.7 380.7 52.2 378.7 52.4Z"/><path color="#cad56c" d="M350.2 60.2 352.2 58.8 351 58.7 349 60.2Z"/><path color="#f9e96e" d="M388.2 53.8 390.1 53.9 388.9 53.2 387 53.2Z"/><path color="#fedb73" d="M358.4 56.6 360.4 55.6 359.2 55.4 357.2 56.5Z"/><path color="#efcf6d" d="M396.4 55.8 398.3 56.3 397.1 55.5 395.2 55.1Z"/><path color="#f9f56a" d="M366.7 54.3 368.6 53.5 367.4 53.2 365.5 54Z"/><path color="#83d99b" d="M404.6 59.2 406.5 59.9 405.3 59 403.4 58.3Z"/><path color="#fbfc65" d="M374.9 53.1 376.8 52.7 375.6 52.3 373.7 52.7Z"/><path color="#7dd99f" d="M345.1 63.3 347.1 61.7 345.9 61.7 343.9 63.3Z"/><path color="#46bee2" d="M412.8 63.7 414.8 64.8 413.6 63.8 411.6 62.7Z"/><path color="#f9f56a" d="M383.1 53.2 385 53.2 383.8 52.6 381.9 52.7Z"/><path color="#eccf6a" d="M353.4 58.9 355.3 57.7 354.1 57.5 352.2 58.8Z"/><path color="#fddd72" d="M391.3 54.5 393.2 54.8 392 54.1 390.1 53.9Z"/><path color="#f9e86f" d="M361.6 55.8 363.5 54.8 362.3 54.6 360.4 55.6Z"/><path color="#d0d469" d="M399.5 57.1 401.5 57.6 400.3 56.8 398.3 56.3Z"/><path color="#fafa66" d="M369.8 53.9 371.7 53.3 370.5 52.9 368.6 53.5Z"/><path color="#5fd2ba" d="M407.7 60.8 409.7 61.7 408.5 60.8 406.5 59.9Z"/><path color="#fafa66" d="M378 53.2 380 52.9 378.7 52.4 376.8 52.7Z"/><path color="#afd87c" d="M348.3 61.7 350.2 60.2 349 60.2 347.1 61.7Z"/><path color="#f8ef6d" d="M386.2 53.7 388.2 53.8 387 53.2 385 53.2Z"/><path color="#fed377" d="M356.5 57.8 358.4 56.6 357.2 56.5 355.3 57.7Z"/><path color="#fcd078" d="M394.4 55.5 396.4 55.8 395.2 55.1 393.2 54.8Z"/><path color="#f8f16c" d="M364.7 55.1 366.7 54.3 365.5 54 363.5 54.8Z"/><path color="#a3d984" d="M402.7 58.5 404.6 59.2 403.4 58.3 401.5 57.6Z"/><path color="#fbfc64" d="M372.9 53.6 374.9 53.1 373.7 52.7 371.7 53.3Z"/><path color="#37c7d4" d="M410.9 62.7 412.8 63.7 411.6 62.7 409.7 61.7Z"/><path color="#f9f769" d="M381.2 53.4 383.1 53.2 381.9 52.7 380 52.9Z"/><path color="#dad266" d="M351.4 60.3 353.4 58.9 352.2 58.8 350.2 60.2Z"/><path color="#fae570" d="M389.4 54.4 391.3 54.5 390.1 53.9 388.2 53.8Z"/><path color="#fce171" d="M359.6 56.8 361.6 55.8 360.4 55.6 358.4 56.6Z"/><path color="#e6d067" d="M397.6 56.6 399.5 57.1 398.3 56.3 396.4 55.8Z"/><path color="#faf868" d="M367.9 54.6 369.8 53.9 368.6 53.5 366.7 54.3Z"/><path color="#72d7a7" d="M405.8 60 407.7 60.8 406.5 59.9 404.6 59.2Z"/><path color="#fbfb65" d="M376.1 53.6 378 53.2 376.8 52.7 374.9 53.1Z"/><path color="#90da91" d="M346.4 63.2 348.3 61.7 347.1 61.7 345.1 63.3Z"/><path color="#f8f36b" d="M384.3 53.8 386.2 53.7 385 53.2 383.1 53.2Z"/><path color="#f6cf73" d="M354.6 59 356.5 57.8 355.3 57.7 353.4 58.9Z"/><path color="#fed874" d="M392.5 55.2 394.4 55.5 393.2 54.8 391.3 54.5Z"/><path color="#f8ec6e" d="M362.8 56 364.7 55.1 363.5 54.8 361.6 55.8Z"/><path color="#c1d671" d="M400.7 57.9 402.7 58.5 401.5 57.6 399.5 57.1Z"/><path color="#fbfc65" d="M371 54.2 372.9 53.6 371.7 53.3 369.8 53.9Z"/><path color="#51cfc4" d="M408.9 61.7 410.9 62.7 409.7 61.7 407.7 60.8Z"/><path color="#faf968" d="M379.2 53.6 381.2 53.4 380 52.9 378 53.2Z"/><path color="#c2d670" d="M349.5 61.7 351.4 60.3 350.2 60.2 348.3 61.7Z"/><path color="#f8ec6e" d="M387.4 54.3 389.4 54.4 388.2 53.8 386.2 53.7Z"/><path color="#fed974" d="M357.7 57.9 359.6 56.8 358.4 56.6 356.5 57.8Z"/><path color="#f6cf73" d="M395.6 56.2 397.6 56.6 396.4 55.8 394.4 55.5Z"/><path color="#f9f46a" d="M365.9 55.3 367.9 54.6 366.7 54.3 364.7 55.1Z"/><path color="#90da91" d="M403.9 59.3 405.8 60 404.6 59.2 402.7 58.5Z"/><path color="#fbfc65" d="M374.1 54 376.1 53.6 374.9 53.1 372.9 53.6Z"/><path color="#f9f56a" d="M382.4 53.9 384.3 53.8 383.1 53.2 381.2 53.4Z"/><path color="#e7d067" d="M352.6 60.3 354.6 59 353.4 58.9 351.4 60.3Z"/><path color="#fce171" d="M390.6 55 392.5 55.2 391.3 54.5 389.4 54.4Z"/><path color="#fae66f" d="M360.8 57 362.8 56 361.6 55.8 359.6 56.8Z"/><path color="#dad266" d="M398.8 57.3 400.7 57.9 399.5 57.1 397.6 56.6Z"/><path color="#fafa66" d="M369.1 54.9 371 54.2 369.8 53.9 367.9 54.6Z"/><path color="#66d5b2" d="M407 60.9 408.9 61.7 407.7 60.8 405.8 60Z"/><path color="#fafa66" d="M377.3 54 379.2 53.6 378 53.2 376.1 53.6Z"/><path color="#a5d983" d="M347.6 63.2 349.5 61.7 348.3 61.7 346.4 63.2Z"/><path color="#f8f06c" d="M385.5 54.3 387.4 54.3 386.2 53.7 384.3 53.8Z"/><path color="#fdd178" d="M355.8 59.1 357.7 57.9 356.5 57.8 354.6 59Z"/><path color="#fed477" d="M393.7 55.9 395.6 56.2 394.4 55.5 392.5 55.2Z"/><path color="#f8f06d" d="M364 56.2 365.9 55.3 364.7 55.1 362.8 56Z"/><path color="#b0d87b" d="M401.9 58.6 403.9 59.3 402.7 58.5 400.7 57.9Z"/><path color="#fbfc64" d="M372.2 54.5 374.1 54 372.9 53.6 371 54.2Z"/><path color="#f9f769" d="M380.4 54.1 382.4 53.9 381.2 53.4 379.2 53.6Z"/><path color="#d2d468" d="M350.7 61.7 352.6 60.3 351.4 60.3 349.5 61.7Z"/><path color="#f9e86e" d="M388.6 54.9 390.6 55 389.4 54.4 387.4 54.3Z"/><path color="#fdde72" d="M358.9 58 360.8 57 359.6 56.8 357.7 57.9Z"/><path color="#eecf6b" d="M396.9 56.9 398.8 57.3 397.6 56.6 395.6 56.2Z"/><path color="#f9f769" d="M367.1 55.6 369.1 54.9 367.9 54.6 365.9 55.3Z"/><path color="#7fd99e" d="M405.1 60.1 407 60.9 405.8 60 403.9 59.3Z"/><path color="#fbfb65" d="M375.3 54.4 377.3 54 376.1 53.6 374.1 54Z"/><path color="#f8f36b" d="M383.6 54.4 385.5 54.3 384.3 53.8 382.4 53.9Z"/><path color="#f2cf6f" d="M353.8 60.3 355.8 59.1 354.6 59 352.6 60.3Z"/><path color="#fedc72" d="M391.8 55.6 393.7 55.9 392.5 55.2 390.6 55Z"/><path color="#f9ea6e" d="M362 57.1 364 56.2 362.8 56 360.8 57Z"/><path color="#cdd56a" d="M400 58.1 401.9 58.6 400.7 57.9 398.8 57.3Z"/><path color="#fbfc65" d="M370.3 55.1 372.2 54.5 371 54.2 369.1 54.9Z"/><path color="#faf968" d="M378.5 54.4 380.4 54.1 379.2 53.6 377.3 54Z"/><path color="#b9d876" d="M348.8 63.2 350.7 61.7 349.5 61.7 347.6 63.2Z"/><path color="#f8ee6d" d="M386.7 54.8 388.6 54.9 387.4 54.3 385.5 54.3Z"/><path color="#fed675" d="M357 59.2 358.9 58 357.7 57.9 355.8 59.1Z"/><path color="#fcd078" d="M394.9 56.5 396.9 56.9 395.6 56.2 393.7 55.9Z"/><path color="#f9f36b" d="M365.2 56.4 367.1 55.6 365.9 55.3 364 56.2Z"/><path color="#9eda87" d="M403.1 59.4 405.1 60.1 403.9 59.3 401.9 58.6Z"/><path color="#fbfc65" d="M373.4 54.9 375.3 54.4 374.1 54 372.2 54.5Z"/><path color="#f9f56a" d="M381.6 54.5 383.6 54.4 382.4 53.9 380.4 54.1Z"/><path color="#e1d166" d="M351.9 61.7 353.8 60.3 352.6 60.3 350.7 61.7Z"/><path color="#fbe570" d="M389.8 55.4 391.8 55.6 390.6 55 388.6 54.9Z"/><path color="#fbe470" d="M360.1 58.2 362 57.1 360.8 57 358.9 58Z"/><path color="#e4d166" d="M398.1 57.6 400 58.1 398.8 57.3 396.9 56.9Z"/><path color="#fafa66" d="M368.3 55.8 370.3 55.1 369.1 54.9 367.1 55.6Z"/><path color="#fafa66" d="M376.5 54.7 378.5 54.4 377.3 54 375.3 54.4Z"/><path color="#f8f06c" d="M384.8 54.9 386.7 54.8 385.5 54.3 383.6 54.4Z"/><path color="#fbcf78" d="M355 60.4 357 59.2 355.8 59.1 353.8 60.3Z"/><path color="#fed874" d="M393 56.2 394.9 56.5 393.7 55.9 391.8 55.6Z"/><path color="#f8ef6d" d="M363.3 57.3 365.2 56.4 364 56.2 362 57.1Z"/><path color="#bed773" d="M401.2 58.8 403.1 59.4 401.9 58.6 400 58.1Z"/><path color="#fbfc64" d="M371.5 55.4 373.4 54.9 372.2 54.5 370.3 55.1Z"/><path color="#f9f769" d="M379.7 54.8 381.6 54.5 380.4 54.1 378.5 54.4Z"/><path color="#cbd56b" d="M350 63.1 351.9 61.7 350.7 61.7 348.8 63.2Z"/><path color="#f9ea6e" d="M387.9 55.4 389.8 55.4 388.6 54.9 386.7 54.8Z"/><path color="#fedc72" d="M358.2 59.3 360.1 58.2 358.9 58 357 59.2Z"/><path color="#f5cf72" d="M396.1 57.2 398.1 57.6 396.9 56.9 394.9 56.5Z"/><path color="#f9f769" d="M366.4 56.6 368.3 55.8 367.1 55.6 365.2 56.4Z"/><path color="#fbfb65" d="M374.6 55.2 376.5 54.7 375.3 54.4 373.4 54.9Z"/><path color="#f8f36b" d="M382.8 55 384.8 54.9 383.6 54.4 381.6 54.5Z"/><path color="#edcf6b" d="M353.1 61.7 355 60.4 353.8 60.3 351.9 61.7Z"/><path color="#fce071" d="M391 56 393 56.2 391.8 55.6 389.8 55.4Z"/><path color="#f9e96e" d="M361.3 58.3 363.3 57.3 362 57.1 360.1 58.2Z"/><path color="#d8d366" d="M399.3 58.3 401.2 58.8 400 58.1 398.1 57.6Z"/><path color="#fbfc65" d="M369.5 56.1 371.5 55.4 370.3 55.1 368.3 55.8Z"/><path color="#faf968" d="M377.8 55.1 379.7 54.8 378.5 54.4 376.5 54.7Z"/><path color="#f8ee6d" d="M386 55.4 387.9 55.4 386.7 54.8 384.8 54.9Z"/><path color="#fed477" d="M356.2 60.4 358.2 59.3 357 59.2 355 60.4Z"/><path color="#fed377" d="M394.2 56.8 396.1 57.2 394.9 56.5 393 56.2Z"/><path color="#f8f36b" d="M364.5 57.5 366.4 56.6 365.2 56.4 363.3 57.3Z"/><path color="#fbfc65" d="M372.7 55.7 374.6 55.2 373.4 54.9 371.5 55.4Z"/><path color="#f9f56a" d="M380.9 55.2 382.8 55 381.6 54.5 379.7 54.8Z"/><path color="#dbd266" d="M351.2 63.1 353.1 61.7 351.9 61.7 350 63.1Z"/><path color="#fae76f" d="M389.1 55.9 391 56 389.8 55.4 387.9 55.4Z"/><path color="#fce270" d="M359.4 59.3 361.3 58.3 360.1 58.2 358.2 59.3Z"/><path color="#eccf6a" d="M397.3 57.8 399.3 58.3 398.1 57.6 396.1 57.2Z"/><path color="#fafa67" d="M367.6 56.8 369.5 56.1 368.3 55.8 366.4 56.6Z"/><path color="#fafa66" d="M375.8 55.5 377.8 55.1 376.5 54.7 374.6 55.2Z"/><path color="#f8f06c" d="M384 55.4 386 55.4 384.8 54.9 382.8 55Z"/><path color="#f7cf75" d="M354.3 61.7 356.2 60.4 355 60.4 353.1 61.7Z"/><path color="#fedc72" d="M392.2 56.6 394.2 56.8 393 56.2 391 56Z"/><path color="#f8ed6d" d="M362.5 58.4 364.5 57.5 363.3 57.3 361.3 58.3Z"/><path color="#fbfc64" d="M370.7 56.3 372.7 55.7 371.5 55.4 369.5 56.1Z"/><path color="#f9f769" d="M379 55.5 380.9 55.2 379.7 54.8 377.8 55.1Z"/><path color="#f9ea6e" d="M387.2 55.9 389.1 55.9 387.9 55.4 386 55.4Z"/><path color="#feda73" d="M357.4 60.5 359.4 59.3 358.2 59.3 356.2 60.4Z"/><path color="#fbcf78" d="M395.4 57.4 397.3 57.8 396.1 57.2 394.2 56.8Z"/><path color="#f9f669" d="M365.7 57.6 367.6 56.8 366.4 56.6 364.5 57.5Z"/><path color="#fbfb65" d="M373.9 56 375.8 55.5 374.6 55.2 372.7 55.7Z"/><path color="#f8f36b" d="M382.1 55.6 384 55.4 382.8 55 380.9 55.2Z"/><path color="#e8d068" d="M352.4 63 354.3 61.7 353.1 61.7 351.2 63.1Z"/><path color="#fbe370" d="M390.3 56.4 392.2 56.6 391 56 389.1 55.9Z"/><path color="#fae76f" d="M360.6 59.4 362.5 58.4 361.3 58.3 359.4 59.3Z"/><path color="#fbfc65" d="M368.8 57 370.7 56.3 369.5 56.1 367.6 56.8Z"/><path color="#faf968" d="M377 55.8 379 55.5 377.8 55.1 375.8 55.5Z"/><path color="#f8ee6d" d="M385.2 55.9 387.2 55.9 386 55.4 384 55.4Z"/><path color="#fed278" d="M355.5 61.7 357.4 60.5 356.2 60.4 354.3 61.7Z"/><path color="#fed875" d="M393.4 57.2 395.4 57.4 394.2 56.8 392.2 56.6Z"/><path color="#f8f26c" d="M363.7 58.5 365.7 57.6 364.5 57.5 362.5 58.4Z"/><path color="#fbfc65" d="M371.9 56.6 373.9 56 372.7 55.7 370.7 56.3Z"/><path color="#f9f56a" d="M380.2 55.9 382.1 55.6 380.9 55.2 379 55.5Z"/><path color="#fae76f" d="M388.4 56.3 390.3 56.4 389.1 55.9 387.2 55.9Z"/><path color="#fde071" d="M358.6 60.5 360.6 59.4 359.4 59.3 357.4 60.5Z"/><path color="#faf967" d="M366.9 57.8 368.8 57 367.6 56.8 365.7 57.6Z"/><path color="#fafa66" d="M375.1 56.3 377 55.8 375.8 55.5 373.9 56Z"/><path color="#f8f06c" d="M383.3 56 385.2 55.9 384 55.4 382.1 55.6Z"/><path color="#f3cf71" d="M353.6 63 355.5 61.7 354.3 61.7 352.4 63Z"/><path color="#fdde72" d="M391.5 57 393.4 57.2 392.2 56.6 390.3 56.4Z"/><path color="#f8ec6e" d="M361.8 59.5 363.7 58.5 362.5 58.4 360.6 59.4Z"/><path color="#fbfc64" d="M370 57.2 371.9 56.6 370.7 56.3 368.8 57Z"/><path color="#f9f769" d="M378.2 56.2 380.2 55.9 379 55.5 377 55.8Z"/><path color="#f9ea6e" d="M386.4 56.3 388.4 56.3 387.2 55.9 385.2 55.9Z"/><path color="#fed874" d="M356.7 61.7 358.6 60.5 357.4 60.5 355.5 61.7Z"/><path color="#f9f66a" d="M364.9 58.7 366.9 57.8 365.7 57.6 363.7 58.5Z"/><path color="#fbfb65" d="M373.1 56.8 375.1 56.3 373.9 56 371.9 56.6Z"/><path color="#f8f36b" d="M381.4 56.2 383.3 56 382.1 55.6 380.2 55.9Z"/><path color="#fbe370" d="M389.6 56.8 391.5 57 390.3 56.4 388.4 56.3Z"/><path color="#fae66f" d="M359.8 60.6 361.8 59.5 360.6 59.4 358.6 60.5Z"/><path color="#fbfc65" d="M368.1 58 370 57.2 368.8 57 366.9 57.8Z"/><path color="#faf968" d="M376.3 56.6 378.2 56.2 377 55.8 375.1 56.3Z"/><path color="#f8ee6d" d="M384.5 56.4 386.4 56.3 385.2 55.9 383.3 56Z"/><path color="#fcd078" d="M354.8 63 356.7 61.7 355.5 61.7 353.6 63Z"/><path color="#f8f16c" d="M363 59.6 364.9 58.7 363.7 58.5 361.8 59.5Z"/><path color="#fbfc65" d="M371.2 57.4 373.1 56.8 371.9 56.6 370 57.2Z"/><path color="#f9f56a" d="M379.4 56.5 381.4 56.2 380.2 55.9 378.2 56.2Z"/><path color="#fae76f" d="M387.6 56.8 389.6 56.8 388.4 56.3 386.4 56.3Z"/><path color="#fdde72" d="M357.9 61.7 359.8 60.6 358.6 60.5 356.7 61.7Z"/><path color="#faf967" d="M366.1 58.8 368.1 58 366.9 57.8 364.9 58.7Z"/><path color="#fafa66" d="M374.3 57.1 376.3 56.6 375.1 56.3 373.1 56.8Z"/><path color="#f8f06c" d="M382.6 56.6 384.5 56.4 383.3 56 381.4 56.2Z"/><path color="#f9eb6e" d="M361.1 60.6 363 59.6 361.8 59.5 359.8 60.6Z"/><path color="#fbfc64" d="M369.3 58.1 371.2 57.4 370 57.2 368.1 58Z"/><path color="#f9f769" d="M377.5 56.9 379.4 56.5 378.2 56.2 376.3 56.6Z"/><path color="#f9ea6e" d="M385.7 56.8 387.6 56.8 386.4 56.3 384.5 56.4Z"/><path color="#fed676" d="M356 62.9 357.9 61.7 356.7 61.7 354.8 63Z"/><path color="#f9f56a" d="M364.2 59.7 366.1 58.8 364.9 58.7 363 59.6Z"/><path color="#fbfb65" d="M372.4 57.6 374.3 57.1 373.1 56.8 371.2 57.4Z"/><path color="#f8f36b" d="M380.6 56.8 382.6 56.6 381.4 56.2 379.4 56.5Z"/><path color="#fbe470" d="M359.1 61.7 361.1 60.6 359.8 60.6 357.9 61.7Z"/><path color="#fbfb65" d="M367.3 58.9 369.3 58.1 368.1 58 366.1 58.8Z"/><path color="#faf968" d="M375.6 57.3 377.5 56.9 376.3 56.6 374.3 57.1Z"/><path color="#f8ee6d" d="M383.8 57 385.7 56.8 384.5 56.4 382.6 56.6Z"/><path color="#f8f06d" d="M362.3 60.7 364.2 59.7 363 59.6 361.1 60.6Z"/><path color="#fbfc65" d="M370.5 58.3 372.4 57.6 371.2 57.4 369.3 58.1Z"/><path color="#f9f56a" d="M378.7 57.2 380.6 56.8 379.4 56.5 377.5 56.9Z"/><path color="#fedc72" d="M357.2 62.9 359.1 61.7 357.9 61.7 356 62.9Z"/><path color="#faf968" d="M365.4 59.8 367.3 58.9 366.1 58.8 364.2 59.7Z"/><path color="#fafa66" d="M373.6 57.9 375.6 57.3 374.3 57.1 372.4 57.6Z"/><path color="#f8f06c" d="M381.8 57.2 383.8 57 382.6 56.6 380.6 56.8Z"/><path color="#f9ea6e" d="M360.3 61.7 362.3 60.7 361.1 60.6 359.1 61.7Z"/><path color="#fbfc64" d="M368.5 59 370.5 58.3 369.3 58.1 367.3 58.9Z"/><path color="#f9f769" d="M376.8 57.6 378.7 57.2 377.5 56.9 375.6 57.3Z"/><path color="#f9f46a" d="M363.5 60.7 365.4 59.8 364.2 59.7 362.3 60.7Z"/><path color="#fbfb65" d="M371.7 58.5 373.6 57.9 372.4 57.6 370.5 58.3Z"/><path color="#f8f36b" d="M379.9 57.5 381.8 57.2 380.6 56.8 378.7 57.2Z"/><path color="#fce270" d="M358.4 62.9 360.3 61.7 359.1 61.7 357.2 62.9Z"/><path color="#fbfb65" d="M366.6 59.8 368.5 59 367.3 58.9 365.4 59.8Z"/><path color="#faf968" d="M374.8 58.1 376.8 57.6 375.6 57.3 373.6 57.9Z"/><path color="#f8ef6d" d="M361.5 61.7 363.5 60.7 362.3 60.7 360.3 61.7Z"/><path color="#fbfc65" d="M369.7 59.2 371.7 58.5 370.5 58.3 368.5 59Z"/><path color="#f9f56a" d="M378 57.8 379.9 57.5 378.7 57.2 376.8 57.6Z"/><path color="#faf868" d="M364.7 60.7 366.6 59.8 365.4 59.8 363.5 60.7Z"/><path color="#fafa66" d="M372.9 58.6 374.8 58.1 373.6 57.9 371.7 58.5Z"/><path color="#f9e86e" d="M359.6 62.8 361.5 61.7 360.3 61.7 358.4 62.9Z"/><path color="#fbfc64" d="M367.8 59.9 369.7 59.2 368.5 59 366.6 59.8Z"/><path color="#f9f769" d="M376 58.3 378 57.8 376.8 57.6 374.8 58.1Z"/><path color="#f9f46b" d="M362.7 61.7 364.7 60.7 363.5 60.7 361.5 61.7Z"/><path color="#fbfb65" d="M370.9 59.3 372.9 58.6 371.7 58.5 369.7 59.2Z"/><path color="#fbfb65" d="M365.9 60.8 367.8 59.9 366.6 59.8 364.7 60.7Z"/><path color="#faf968" d="M374.1 58.8 376 58.3 374.8 58.1 372.9 58.6Z"/><path color="#f8ee6d" d="M360.8 62.8 362.7 61.7 361.5 61.7 359.6 62.8Z"/><path color="#fbfc65" d="M369 60 370.9 59.3 369.7 59.2 367.8 59.9Z"/><path color="#faf868" d="M363.9 61.7 365.9 60.8 364.7 60.7 362.7 61.7Z"/><path color="#fafa66" d="M372.1 59.4 374.1 58.8 372.9 58.6 370.9 59.3Z"/><path color="#fbfc64" d="M367.1 60.8 369 60 367.8 59.9 365.9 60.8Z"/><path color="#f9f36b" d="M362 62.7 363.9 61.7 362.7 61.7 360.8 62.8Z"/><path color="#fbfb65" d="M370.2 60.1 372.1 59.4 370.9 59.3 369 60Z"/><path color="#fbfb65" d="M365.1 61.7 367.1 60.8 365.9 60.8 363.9 61.7Z"/><path color="#fbfc65" d="M368.3 60.9 370.2 60.1 369 60 367.1 60.8Z"/><path color="#faf868" d="M363.2 62.7 365.1 61.7 363.9 61.7 362 62.7Z"/><path color="#fbfc64" d="M366.3 61.7 368.3 60.9 367.1 60.8 365.1 61.7Z"/><path color="#fbfb65" d="M364.4 62.7 366.3 61.7 365.1 61.7 363.2 62.7Z"/></g><polyline points="328.3,44.5 364.4,61.7 422.5,50.7" fill="none" stroke="#8c8c8c" stroke-width="0.7"/><line x1="364.4" y1="81" x2="364.4" y2="61.7" stroke="#8c8c8c" stroke-width="0.7"/><polyline points="328.3,63.8 364.4,81 422.5,70" fill="none" stroke="#8c8c8c" stroke-width="0.7"/><line x1="328.3" y1="63.8" x2="328.3" y2="44.5" stroke="#8c8c8c" stroke-width="0.7"/><line x1="422.5" y1="70" x2="422.5" y2="50.7" stroke="#8c8c8c" stroke-width="0.7"/><text x="323.8" y="47.3" font-size="8.0" fill="#262626" stroke="#262626" stroke-width="0.1" text-anchor="end">180</text><text x="323.8" y="56.2" font-size="8.0" fill="#262626" stroke="#262626" stroke-width="0.1" text-anchor="end">90</text><text x="323.8" y="65.5" font-size="8.0" fill="#262626" stroke="#262626" stroke-width="0.1" text-anchor="end">0</text><text x="323.9" y="72.6" font-size="8.0" fill="#262626" stroke="#262626" stroke-width="0.1" text-anchor="end">0.9</text><text x="342.8" y="81.9" font-size="8.0" fill="#262626" stroke="#262626" stroke-width="0.1" text-anchor="end">0</text><text x="359.5" y="90.4" font-size="8.0" fill="#262626" stroke="#262626" stroke-width="0.1" text-anchor="end">-0.9</text><text x="384.6" y="91.1" font-size="8.0" fill="#262626" stroke="#262626" stroke-width="0.1" text-anchor="end">-0.9</text><text x="402.1" y="86" font-size="8.0" fill="#262626" stroke="#262626" stroke-width="0.1" text-anchor="end">0</text><text x="435.9" y="81.4" font-size="8.0" fill="#262626" stroke="#262626" stroke-width="0.1" text-anchor="end">0.9</text><polyline points="366.5,156.5 364.9,156.4 363.4,156.3" fill="none" stroke="#adcbfe" stroke-width="0.45"/><polyline points="329.6,140.3 330,139.8 330.3,139.4" fill="none" stroke="#adcbfe" stroke-width="0.45"/><polyline points="421.2,145.3 420.8,145.8 420.5,146.2" fill="none" stroke="#adcbfe" stroke-width="0.45"/><polyline points="384.3,129.1 385.9,129.2 387.4,129.3" fill="none" stroke="#adcbfe" stroke-width="0.45"/><polyline points="368.8,156.1 367.1,156 365.5,155.9 363.9,155.8 362.5,155.7" fill="none" stroke="#aad3f9" stroke-width="0.45"/><polyline points="331,141 331.3,140.5 331.7,140 332,139.5 332.5,139.1" fill="none" stroke="#aad3f9" stroke-width="0.45"/><polyline points="419.8,144.6 419.5,145.1 419.1,145.6 418.8,146.1 418.3,146.5" fill="none" stroke="#aad3f9" stroke-width="0.45"/><polyline points="382,129.5 383.7,129.6 385.3,129.7 386.9,129.8 388.3,129.9" fill="none" stroke="#aad3f9" stroke-width="0.45"/><polyline points="371.3,155.6 369.7,155.5 368.2,155.5 366.7,155.4 365.1,155.3 363.5,155.2 361.8,155 360.3,154.9" fill="none" stroke="#a7daf4" stroke-width="0.45"/><polyline points="332.6,141.8 332.8,141.3 333,140.8 333.3,140.4 333.7,139.9 334.1,139.4 334.6,138.9 335.2,138.5" fill="none" stroke="#a7daf4" stroke-width="0.45"/><polyline points="418.2,143.8 418,144.3 417.8,144.8 417.5,145.2 417.1,145.7 416.7,146.2 416.2,146.7 415.6,147.1" fill="none" stroke="#a7daf4" stroke-width="0.45"/><polyline points="379.5,130 381.1,130.1 382.6,130.1 384.1,130.2 385.7,130.3 387.3,130.4 389,130.6 390.5,130.7" fill="none" stroke="#a7daf4" stroke-width="0.45"/><polyline points="374.2,155 372.7,155 371.2,155 369.8,155 368.3,154.9 366.8,154.8 365.2,154.7 363.6,154.6 361.9,154.4 360.1,154.2 358.5,154" fill="none" stroke="#a0e0ef" stroke-width="0.45"/><polyline points="334.4,142.6 334.5,142.1 334.6,141.7 334.8,141.3 335,140.8 335.3,140.4 335.7,139.9 336.1,139.4 336.7,138.9 337.3,138.4 338,137.9" fill="none" stroke="#a0e0ef" stroke-width="0.45"/><polyline points="416.4,143 416.3,143.5 416.2,143.9 416,144.3 415.8,144.8 415.5,145.2 415.1,145.7 414.7,146.2 414.1,146.7 413.5,147.2 412.8,147.7" fill="none" stroke="#a0e0ef" stroke-width="0.45"/><polyline points="376.6,130.6 378.1,130.6 379.6,130.6 381,130.6 382.5,130.7 384,130.8 385.6,130.9 387.2,131 388.9,131.2 390.7,131.4 392.3,131.6" fill="none" stroke="#a0e0ef" stroke-width="0.45"/><polyline points="377.6,154.4 375.5,154.4 374.1,154.4 372.7,154.4 371.3,154.4 369.5,154.3 367.8,154.2 366.2,154.1 364.7,154 363.3,153.9 361.9,153.8 360.1,153.6 358.2,153.3 356.9,153.1" fill="none" stroke="#9ce4e6" stroke-width="0.45"/><polyline points="336.5,143.6 336.4,143 336.4,142.6 336.5,142.2 336.6,141.7 336.9,141.2 337.2,140.7 337.5,140.2 337.9,139.8 338.3,139.3 338.8,138.9 339.5,138.4 340.4,137.8 341.1,137.4" fill="none" stroke="#9ce4e6" stroke-width="0.45"/><polyline points="414.3,142 414.4,142.6 414.4,143 414.3,143.4 414.2,143.9 413.9,144.4 413.6,144.9 413.3,145.4 412.9,145.8 412.5,146.3 412,146.7 411.3,147.2 410.4,147.8 409.7,148.2" fill="none" stroke="#9ce4e6" stroke-width="0.45"/><polyline points="373.2,131.2 375.3,131.2 376.7,131.2 378.1,131.2 379.5,131.2 381.3,131.3 383,131.4 384.6,131.5 386.1,131.6 387.5,131.7 388.9,131.8 390.7,132 392.6,132.3 393.9,132.5" fill="none" stroke="#9ce4e6" stroke-width="0.45"/><polyline points="381.8,153.6 380.6,153.7 379.1,153.7 376.8,153.8 375.5,153.8 374.1,153.8 372.5,153.8 370.6,153.7 368.9,153.6 367.3,153.6 365.7,153.4 364.3,153.3 362.9,153.2 361.5,153 359.9,152.8 358,152.6 356.7,152.3 355.6,152.2 353.6,151.7" fill="none" stroke="#abe7db" stroke-width="0.45"/><polyline points="339.1,144.9 338.9,144.5 338.8,144 338.6,143.4 338.6,143 338.6,142.6 338.7,142.1 338.9,141.5 339.2,141 339.5,140.5 339.9,140.1 340.3,139.6 340.8,139.2 341.3,138.8 342,138.3 343,137.7 343.7,137.3 344.3,137 345.7,136.4" fill="none" stroke="#abe7db" stroke-width="0.45"/><polyline points="411.7,140.7 411.9,141.1 412,141.6 412.2,142.2 412.2,142.6 412.2,143 412.1,143.5 411.9,144.1 411.6,144.6 411.3,145.1 410.9,145.5 410.5,146 410,146.4 409.5,146.8 408.8,147.3 407.8,147.9 407.1,148.3 406.5,148.6 405.1,149.2" fill="none" stroke="#abe7db" stroke-width="0.45"/><polyline points="369,132 370.2,131.9 371.7,131.9 374,131.8 375.3,131.8 376.7,131.8 378.3,131.8 380.2,131.9 381.9,132 383.5,132 385.1,132.2 386.5,132.3 387.9,132.4 389.3,132.6 390.9,132.8 392.8,133 394.1,133.3 395.2,133.4 397.2,133.9" fill="none" stroke="#abe7db" stroke-width="0.45"/><polyline points="389.4,152.2 387.5,152.4 385.2,152.6 384.1,152.7 381.7,152.9 380.5,153 378.4,153.1 376.7,153.1 375.4,153.1 373.9,153.1 371.9,153.1 370.2,153 368.5,152.9 366.9,152.8 365.4,152.7 364,152.6 362.6,152.4 361.4,152.3 359.6,152 357.8,151.7 356.7,151.5 355.2,151.2 353.7,150.9 352.6,150.6 351.1,150.2 349.5,149.7" fill="none" stroke="#b6eacf" stroke-width="0.45"/><polyline points="343.8,147.1 343,146.5 342.3,145.9 342,145.5 341.5,144.8 341.2,144.5 341,143.8 340.9,143.3 340.9,142.9 340.9,142.5 341,141.9 341.3,141.4 341.6,140.9 341.9,140.4 342.3,139.9 342.8,139.5 343.3,139.1 343.9,138.7 344.7,138.2 345.7,137.7 346.4,137.3 347.4,136.9 348.5,136.4 349.5,136.1 350.9,135.6 352.6,135.2" fill="none" stroke="#b6eacf" stroke-width="0.45"/><polyline points="407,138.5 407.8,139.1 408.5,139.7 408.8,140.1 409.3,140.8 409.6,141.1 409.8,141.8 409.9,142.3 409.9,142.7 409.9,143.1 409.8,143.7 409.5,144.2 409.2,144.7 408.9,145.2 408.5,145.7 408,146.1 407.5,146.5 406.9,146.9 406.1,147.4 405.1,147.9 404.4,148.3 403.4,148.7 402.3,149.2 401.3,149.5 399.9,150 398.2,150.4" fill="none" stroke="#b6eacf" stroke-width="0.45"/><polyline points="361.4,133.4 363.3,133.2 365.6,133 366.7,132.9 369.1,132.7 370.3,132.6 372.4,132.5 374.1,132.5 375.4,132.5 376.9,132.5 378.9,132.5 380.6,132.6 382.3,132.7 383.9,132.8 385.4,132.9 386.8,133 388.2,133.2 389.4,133.3 391.2,133.6 393,133.9 394.1,134.1 395.6,134.4 397.1,134.7 398.2,135 399.7,135.4 401.3,135.9" fill="none" stroke="#b6eacf" stroke-width="0.45"/><polyline points="401.4,137.1 402.6,137.6 403.8,138.2 404.3,138.5 405.2,139.2 406,139.8 406.3,140.1 406.9,140.8 407.1,141.2 407.4,141.9 407.5,142.3 407.5,142.7 407.4,143.2 407.3,143.8 407,144.3 406.7,144.8 406.3,145.3 405.8,145.7 405.3,146.1 404.8,146.5 404.1,147 403,147.6 402.3,147.9 401.4,148.3 400.2,148.8 399.3,149.1 397.7,149.6 396,150 394.9,150.3 393.3,150.7 391.3,151 389.6,151.3 388.3,151.5 386.1,151.8 384,152 382.7,152.1 380.6,152.2 379.1,152.3 377.8,152.3 375.6,152.4 373.8,152.4 372.4,152.3 371,152.3 369.5,152.2 367.9,152.1 366.3,152 364.6,151.9 362.9,151.7 361.4,151.5 360.2,151.3 359,151.1 356.9,150.7 356,150.5 354.1,150 353.2,149.8 351.6,149.3 350.1,148.8 349.4,148.5 348.2,148 347,147.4 346.5,147.1 345.6,146.4 344.8,145.8 344.5,145.5 343.9,144.8 343.7,144.4 343.4,143.7 343.3,143.3 343.3,142.9 343.4,142.4 343.5,141.8 343.8,141.3 344.1,140.8 344.5,140.3 345,139.9 345.5,139.5 346,139.1 346.7,138.6 347.8,138 348.5,137.7 349.4,137.3 350.6,136.8 351.5,136.5 353.1,136 354.8,135.6 355.9,135.3 357.5,134.9 359.5,134.6 361.2,134.3 362.5,134.1 364.7,133.8 366.8,133.6 368.1,133.5 370.2,133.4 371.7,133.3 373,133.3 375.2,133.2 377,133.2 378.4,133.3 379.8,133.3 381.3,133.4 382.9,133.5 384.5,133.6 386.2,133.7 387.9,133.9 389.4,134.1 390.6,134.3 391.8,134.5 393.9,134.9 394.8,135.1 396.7,135.6 397.6,135.8 399.2,136.3 400.7,136.8 401.4,137.1" fill="none" stroke="#c9ebbf" stroke-width="0.45"/><polyline points="396.1,136.5 397.7,137 399.1,137.5 400.4,138.1 401.5,138.7 402.5,139.3 403.3,139.9 403.7,140.3 404.2,140.9 404.4,141.3 404.7,141.9 404.8,142.4 404.8,142.8 404.7,143.3 404.6,143.8 404.3,144.3 403.9,144.8 403.5,145.2 403.1,145.7 402.5,146.1 401.7,146.6 400.8,147.1 400.1,147.5 399,147.9 397.9,148.4 396.6,148.8 395.5,149.1 393.7,149.6 391.9,150 389.9,150.4 387.9,150.7 385.8,151 384.3,151.1 382.4,151.3 380.7,151.4 378.8,151.5 377.5,151.5 375.6,151.6 373.5,151.6 372.1,151.5 370.6,151.5 369.1,151.4 367.5,151.3 365.8,151.1 364.1,150.9 362.8,150.8 361.6,150.6 360.2,150.4 358.4,150 357.4,149.8 355.6,149.4 354.7,149.1 353.1,148.6 351.7,148.1 350.4,147.5 349.3,146.9 348.3,146.3 347.5,145.7 347.1,145.3 346.6,144.7 346.4,144.3 346.1,143.7 346,143.2 346,142.8 346.1,142.3 346.2,141.8 346.5,141.3 346.9,140.8 347.3,140.4 347.7,139.9 348.3,139.5 349.1,139 350,138.5 350.7,138.1 351.8,137.7 352.9,137.2 354.2,136.8 355.3,136.5 357.1,136 358.9,135.6 360.9,135.2 362.9,134.9 365,134.6 366.5,134.5 368.4,134.3 370.1,134.2 372,134.1 373.3,134.1 375.2,134 377.3,134 378.7,134.1 380.2,134.1 381.7,134.2 383.3,134.3 385,134.5 386.7,134.7 388,134.8 389.2,135 390.6,135.2 392.4,135.6 393.4,135.8 395.2,136.2 396.1,136.5" fill="none" stroke="#dee8b0" stroke-width="0.45"/><polyline points="395.9,137.7 397.3,138.3 398.5,138.8 399.5,139.4 400,139.8 400.7,140.4 401.2,140.9 401.5,141.5 401.7,141.8 401.9,142.5 401.9,143 401.8,143.4 401.6,143.8 401.3,144.3 400.9,144.8 400.4,145.3 399.8,145.8 399,146.3 398.4,146.6 397.6,147 396.3,147.6 395.5,147.9 393.9,148.4 392.4,148.8 391.3,149.1 389.4,149.5 387.4,149.8 386.1,150 384.2,150.2 381.9,150.4 380.8,150.5 378.4,150.6 377.1,150.7 375.7,150.7 373.9,150.7 372,150.6 370.3,150.6 368.7,150.5 367.3,150.4 365.9,150.2 364.6,150.1 363.1,149.9 361.1,149.5 360.1,149.3 358.6,149 357.3,148.6 355.7,148.1 354.9,147.9 353.5,147.3 352.3,146.8 351.3,146.2 350.8,145.8 350.1,145.2 349.6,144.7 349.3,144.1 349.1,143.8 348.9,143.1 348.9,142.6 349,142.2 349.2,141.8 349.5,141.3 349.9,140.8 350.4,140.3 351,139.8 351.8,139.3 352.4,139 353.2,138.6 354.5,138 355.3,137.7 356.9,137.2 358.4,136.8 359.5,136.5 361.4,136.1 363.4,135.8 364.7,135.6 366.6,135.4 368.9,135.2 370,135.1 372.4,135 373.7,134.9 375.1,134.9 376.9,134.9 378.8,135 380.5,135 382.1,135.1 383.5,135.2 384.9,135.4 386.2,135.5 387.7,135.7 389.7,136.1 390.7,136.3 392.2,136.6 393.5,137 395.1,137.5 395.9,137.7" fill="none" stroke="#efe5a9" stroke-width="0.45"/><polyline points="393.1,138.3 394.5,138.8 395.7,139.4 396.7,140 397.1,140.3 397.8,141 398.1,141.4 398.5,142 398.6,142.4 398.6,142.9 398.4,143.5 398.2,144 397.8,144.5 397.4,144.9 396.9,145.3 396.3,145.7 395.4,146.2 394.4,146.7 393.7,147 392.1,147.5 391,147.9 389.5,148.2 387.6,148.6 385.6,149 383.9,149.2 382.4,149.4 380.1,149.6 378.9,149.6 377.1,149.7 375,149.7 373.7,149.7 372.2,149.7 370.7,149.6 369.1,149.5 367.5,149.3 365.6,149.1 364.3,148.9 363.2,148.7 361.4,148.4 360.2,148.1 358.5,147.6 357.7,147.3 356.3,146.8 355.1,146.2 354.1,145.6 353.7,145.3 353,144.6 352.7,144.2 352.3,143.6 352.2,143.2 352.2,142.7 352.4,142.1 352.6,141.6 353,141.1 353.4,140.7 353.9,140.3 354.5,139.9 355.4,139.4 356.4,138.9 357.1,138.6 358.7,138.1 359.8,137.7 361.3,137.4 363.2,137 365.2,136.6 366.9,136.4 368.4,136.2 370.7,136 371.9,136 373.7,135.9 375.8,135.9 377.1,135.9 378.6,135.9 380.1,136 381.7,136.1 383.3,136.3 385.2,136.5 386.5,136.7 387.6,136.9 389.4,137.2 390.6,137.5 392.3,138 393.1,138.3" fill="none" stroke="#fde4b1" stroke-width="0.45"/><polyline points="388.1,138.4 389.7,138.9 391.2,139.4 392.4,140 393.4,140.6 394.1,141.3 394.4,141.6 394.7,142.3 394.7,142.7 394.7,143.2 394.5,143.6 394.2,144 393.8,144.5 393.1,145.1 392.1,145.6 391.5,145.9 390.4,146.4 389.2,146.8 387.5,147.3 385.6,147.7 383.6,148 381.4,148.3 379.6,148.4 377.9,148.5 376.6,148.6 374.6,148.6 372.7,148.5 371,148.4 369.5,148.3 368.2,148.2 366.9,148 365.6,147.8 363.7,147.4 362.7,147.2 361.1,146.7 359.6,146.2 358.4,145.6 357.4,145 356.7,144.3 356.4,144 356.1,143.3 356.1,142.9 356.1,142.4 356.3,142 356.6,141.6 357,141.1 357.7,140.5 358.7,140 359.3,139.7 360.4,139.2 361.6,138.8 363.3,138.3 365.2,137.9 367.2,137.6 369.4,137.3 371.2,137.2 372.9,137.1 374.2,137 376.2,137 378.1,137.1 379.8,137.2 381.3,137.3 382.6,137.4 383.9,137.6 385.2,137.8 387.1,138.2 388.1,138.4" fill="none" stroke="#feebad" stroke-width="0.45"/><polyline points="384.7,139.4 386.3,139.9 387.7,140.5 388.7,141.1 389.5,141.7 389.7,142.1 389.9,142.6 389.8,143.2 389.5,143.7 389.1,144.2 388.5,144.6 387.9,144.9 386.6,145.5 385.7,145.8 384,146.2 382,146.6 379.9,146.9 378.6,147 376.3,147.1 375,147.1 373.6,147.1 372.1,147 370.4,146.9 368.6,146.6 367.1,146.4 366.1,146.2 364.5,145.7 363.1,145.1 362.1,144.5 361.3,143.9 361.1,143.5 360.9,143 361,142.4 361.3,141.9 361.7,141.4 362.3,141 362.9,140.7 364.2,140.1 365.1,139.8 366.8,139.4 368.8,139 370.9,138.7 372.2,138.6 374.5,138.5 375.8,138.5 377.2,138.5 378.7,138.6 380.4,138.7 382.2,139 383.7,139.2 384.7,139.4" fill="none" stroke="#fbf5a8" stroke-width="0.45"/><polyline points="328.3,139.7 328.3,120.4 386.4,109.4 422.5,126.6 422.5,145.9" fill="none" stroke="#8c8c8c" stroke-width="0.7"/><line x1="386.4" y1="128.7" x2="386.4" y2="109.4" stroke="#8c8c8c" stroke-width="0.7"/><polyline points="328.3,139.7 386.4,128.7 422.5,145.9" fill="none" stroke="#8c8c8c" stroke-width="0.5" opacity="0.6"/><g fill="currentColor" stroke="currentColor" stroke-width="0.35"><path color="#5882ff" d="M385.7 127.1 387.6 128 386.4 128.7 384.5 127.8Z"/><path color="#518efd" d="M383.7 126.3 385.7 127.1 384.5 127.8 382.5 127Z"/><path color="#518efd" d="M386.9 126.5 388.8 127.4 387.6 128 385.7 127.1Z"/><path color="#4f9af8" d="M381.8 125.6 383.7 126.3 382.5 127 380.6 126.3Z"/><path color="#4f9bf8" d="M384.9 125.7 386.9 126.5 385.7 127.1 383.7 126.3Z"/><path color="#4fa4f1" d="M379.9 124.9 381.8 125.6 380.6 126.3 378.7 125.6Z"/><path color="#4f9af8" d="M388.1 126 390 126.9 388.8 127.4 386.9 126.5Z"/><path color="#4ea6f0" d="M383 125 384.9 125.7 383.7 126.3 381.8 125.6Z"/><path color="#4caeeb" d="M377.9 124.4 379.9 124.9 378.7 125.6 376.7 125.1Z"/><path color="#4ea6f0" d="M386.1 125.2 388.1 126 386.9 126.5 384.9 125.7Z"/><path color="#4cb0ea" d="M381.1 124.3 383 125 381.8 125.6 379.9 124.9Z"/><path color="#4fa4f1" d="M389.3 125.5 391.2 126.4 390 126.9 388.1 126Z"/><path color="#4ab6e8" d="M376 123.9 377.9 124.4 376.7 125.1 374.8 124.6Z"/><path color="#4cb1ea" d="M384.2 124.4 386.1 125.2 384.9 125.7 383 125Z"/><path color="#49bae6" d="M379.1 123.8 381.1 124.3 379.9 124.9 377.9 124.4Z"/><path color="#4cb0ea" d="M387.3 124.7 389.3 125.5 388.1 126 386.1 125.2Z"/><path color="#46bde3" d="M374 123.5 376 123.9 374.8 124.6 372.8 124.2Z"/><path color="#48bbe5" d="M382.3 123.8 384.2 124.4 383 125 381.1 124.3Z"/><path color="#4caeeb" d="M390.5 125.2 392.4 126.1 391.2 126.4 389.3 125.5Z"/><path color="#42c1de" d="M377.2 123.3 379.1 123.8 377.9 124.4 376 123.9Z"/><path color="#48bbe5" d="M385.4 124 387.3 124.7 386.1 125.2 384.2 124.4Z"/><path color="#3ec3dc" d="M372.1 123.2 374 123.5 372.8 124.2 370.9 123.9Z"/><path color="#3ec3dc" d="M380.3 123.2 382.3 123.8 381.1 124.3 379.1 123.8Z"/><path color="#49bae6" d="M388.5 124.4 390.5 125.2 389.3 125.5 387.3 124.7Z"/><path color="#37c7d6" d="M375.2 122.9 377.2 123.3 376 123.9 374 123.5Z"/><path color="#3cc4db" d="M383.5 123.4 385.4 124 384.2 124.4 382.3 123.8Z"/><path color="#4ab6e8" d="M391.7 124.9 393.6 125.8 392.4 126.1 390.5 125.2Z"/><path color="#37c7d5" d="M370.2 123 372.1 123.2 370.9 123.9 369 123.7Z"/><path color="#38c9d1" d="M378.4 122.8 380.3 123.2 379.1 123.8 377.2 123.3Z"/><path color="#3ec3dc" d="M386.6 123.7 388.5 124.4 387.3 124.7 385.4 124Z"/><path color="#3ecbcd" d="M373.3 122.6 375.2 122.9 374 123.5 372.1 123.2Z"/><path color="#3bcacf" d="M381.5 122.8 383.5 123.4 382.3 123.8 380.3 123.2Z"/><path color="#42c1de" d="M389.7 124.1 391.7 124.9 390.5 125.2 388.5 124.4Z"/><path color="#3ccace" d="M368.2 122.9 370.2 123 369 123.7 367 123.6Z"/><path color="#4acdc7" d="M376.5 122.4 378.4 122.8 377.2 123.3 375.2 122.9Z"/><path color="#3bcacf" d="M384.7 123 386.6 123.7 385.4 124 383.5 123.4Z"/><path color="#46bde3" d="M392.9 124.8 394.8 125.7 393.6 125.8 391.7 124.9Z"/><path color="#4fcec5" d="M371.4 122.4 373.3 122.6 372.1 123.2 370.2 123Z"/><path color="#51cfc4" d="M379.6 122.3 381.5 122.8 380.3 123.2 378.4 122.8Z"/><path color="#38c9d1" d="M387.8 123.4 389.7 124.1 388.5 124.4 386.6 123.7Z"/><path color="#48cdc8" d="M366.3 122.9 368.2 122.9 367 123.6 365.1 123.6Z"/><path color="#5bd1be" d="M374.5 122.1 376.5 122.4 375.2 122.9 373.3 122.6Z"/><path color="#53cfc2" d="M382.7 122.5 384.7 123 383.5 123.4 381.5 122.8Z"/><path color="#37c7d6" d="M391 124 392.9 124.8 391.7 124.9 389.7 124.1Z"/><path color="#5bd1be" d="M369.4 122.3 371.4 122.4 370.2 123 368.2 122.9Z"/><path color="#60d3b9" d="M377.7 122 379.6 122.3 378.4 122.8 376.5 122.4Z"/><path color="#51cfc4" d="M385.9 122.8 387.8 123.4 386.6 123.7 384.7 123Z"/><path color="#3ec3dc" d="M394.1 124.7 396 125.6 394.8 125.7 392.9 124.8Z"/><path color="#51cfc4" d="M364.4 123 366.3 122.9 365.1 123.6 363.2 123.7Z"/><path color="#64d4b5" d="M372.6 121.9 374.5 122.1 373.3 122.6 371.4 122.4Z"/><path color="#62d3b6" d="M380.8 122 382.7 122.5 381.5 122.8 379.6 122.3Z"/><path color="#4acdc7" d="M389 123.2 391 124 389.7 124.1 387.8 123.4Z"/><path color="#61d3b7" d="M367.5 122.3 369.4 122.3 368.2 122.9 366.3 122.9Z"/><path color="#6ad6ad" d="M375.7 121.7 377.7 122 376.5 122.4 374.5 122.1Z"/><path color="#62d3b6" d="M383.9 122.2 385.9 122.8 384.7 123 382.7 122.5Z"/><path color="#3ecbcd" d="M392.2 123.9 394.1 124.7 392.9 124.8 391 124Z"/><path color="#57d0c0" d="M362.4 123.1 364.4 123 363.2 123.7 361.2 123.8Z"/><path color="#6cd6ac" d="M370.6 121.8 372.6 121.9 371.4 122.4 369.4 122.3Z"/><path color="#70d7a9" d="M378.9 121.6 380.8 122 379.6 122.3 377.7 122Z"/><path color="#60d3b9" d="M387.1 122.6 389 123.2 387.8 123.4 385.9 122.8Z"/><path color="#37c7d5" d="M395.3 124.7 397.2 125.6 396 125.6 394.1 124.7Z"/><path color="#66d5b2" d="M365.6 122.3 367.5 122.3 366.3 122.9 364.4 123Z"/><path color="#78d8a2" d="M373.8 121.5 375.7 121.7 374.5 122.1 372.6 121.9Z"/><path color="#72d7a7" d="M382 121.7 383.9 122.2 382.7 122.5 380.8 122Z"/><path color="#5bd1be" d="M390.2 123.1 392.2 123.9 391 124 389 123.2Z"/><path color="#5bd1be" d="M360.5 123.3 362.4 123.1 361.2 123.8 359.3 124Z"/><path color="#76d8a4" d="M368.7 121.8 370.6 121.8 369.4 122.3 367.5 122.3Z"/><path color="#82d99b" d="M376.9 121.3 378.9 121.6 377.7 122 375.7 121.7Z"/><path color="#70d7a9" d="M385.1 122 387.1 122.6 385.9 122.8 383.9 122.2Z"/><path color="#4fcec5" d="M393.4 123.9 395.3 124.7 394.1 124.7 392.2 123.9Z"/><path color="#6ad6ad" d="M363.6 122.5 365.6 122.3 364.4 123 362.4 123.1Z"/><path color="#87d998" d="M371.8 121.4 373.8 121.5 372.6 121.9 370.6 121.8Z"/><path color="#87d998" d="M380.1 121.4 382 121.7 380.8 122 378.9 121.6Z"/><path color="#6ad6ad" d="M388.3 122.5 390.2 123.1 389 123.2 387.1 122.6Z"/><path color="#5cd1bc" d="M358.6 123.7 360.5 123.3 359.3 124 357.4 124.4Z"/><path color="#3ccace" d="M396.5 124.8 398.4 125.7 397.2 125.6 395.3 124.7Z"/><path color="#80d99d" d="M366.8 121.8 368.7 121.8 367.5 122.3 365.6 122.3Z"/><path color="#94da8e" d="M375 121.1 376.9 121.3 375.7 121.7 373.8 121.5Z"/><path color="#87d998" d="M383.2 121.6 385.1 122 383.9 122.2 382 121.7Z"/><path color="#64d4b5" d="M391.4 123.1 393.4 123.9 392.2 123.9 390.2 123.1Z"/><path color="#6ed7aa" d="M361.7 122.7 363.6 122.5 362.4 123.1 360.5 123.3Z"/><path color="#94da8e" d="M369.9 121.3 371.8 121.4 370.6 121.8 368.7 121.8Z"/><path color="#9dda88" d="M378.1 121.1 380.1 121.4 378.9 121.6 376.9 121.3Z"/><path color="#82d99b" d="M386.3 122 388.3 122.5 387.1 122.6 385.1 122Z"/><path color="#5cd1bc" d="M356.6 124.1 358.6 123.7 357.4 124.4 355.4 124.8Z"/><path color="#5bd1be" d="M394.6 124 396.5 124.8 395.3 124.7 393.4 123.9Z"/><path color="#87d998" d="M364.8 122 366.8 121.8 365.6 122.3 363.6 122.5Z"/><path color="#a5d983" d="M373 121 375 121.1 373.8 121.5 371.8 121.4Z"/><path color="#a0d986" d="M381.3 121.2 383.2 121.6 382 121.7 380.1 121.4Z"/><path color="#78d8a2" d="M389.5 122.5 391.4 123.1 390.2 123.1 388.3 122.5Z"/><path color="#70d7a9" d="M359.8 123.1 361.7 122.7 360.5 123.3 358.6 123.7Z"/><path color="#48cdc8" d="M397.7 125 399.6 125.9 398.4 125.7 396.5 124.8Z"/><path color="#a0d986" d="M368 121.4 369.9 121.3 368.7 121.8 366.8 121.8Z"/><path color="#b0d87b" d="M376.2 120.9 378.1 121.1 376.9 121.3 375 121.1Z"/><path color="#9dda88" d="M384.4 121.5 386.3 122 385.1 122 383.2 121.6Z"/><path color="#5bd1be" d="M354.7 124.6 356.6 124.1 355.4 124.8 353.5 125.3Z"/><path color="#6cd6ac" d="M392.6 123.2 394.6 124 393.4 123.9 391.4 123.1Z"/><path color="#8cda94" d="M362.9 122.2 364.8 122 363.6 122.5 361.7 122.7Z"/><path color="#b3d879" d="M371.1 121 373 121 371.8 121.4 369.9 121.3Z"/><path color="#b6d878" d="M379.3 120.9 381.3 121.2 380.1 121.4 378.1 121.1Z"/><path color="#94da8e" d="M387.5 122 389.5 122.5 388.3 122.5 386.3 122Z"/><path color="#70d7a9" d="M357.8 123.5 359.8 123.1 358.6 123.7 356.6 124.1Z"/><path color="#61d3b7" d="M395.8 124.1 397.7 125 396.5 124.8 394.6 124Z"/><path color="#a8d981" d="M366 121.5 368 121.4 366.8 121.8 364.8 122Z"/><path color="#c0d771" d="M374.3 120.8 376.2 120.9 375 121.1 373 121Z"/><path color="#b6d878" d="M382.5 121.1 384.4 121.5 383.2 121.6 381.3 121.2Z"/><path color="#57d0c0" d="M352.7 125.2 354.7 124.6 353.5 125.3 351.5 125.9Z"/><path color="#87d998" d="M390.7 122.6 392.6 123.2 391.4 123.1 389.5 122.5Z"/><path color="#8fda92" d="M361 122.5 362.9 122.2 361.7 122.7 359.8 123.1Z"/><path color="#51cfc4" d="M398.9 125.2 400.8 126.1 399.6 125.9 397.7 125Z"/><path color="#bed773" d="M369.2 121 371.1 121 369.9 121.3 368 121.4Z"/><path color="#c8d56d" d="M377.4 120.7 379.3 120.9 378.1 121.1 376.2 120.9Z"/><path color="#b0d87b" d="M385.6 121.5 387.5 122 386.3 122 384.4 121.5Z"/><path color="#6ed7aa" d="M355.9 124 357.8 123.5 356.6 124.1 354.7 124.6Z"/><path color="#76d8a4" d="M393.8 123.4 395.8 124.1 394.6 124 392.6 123.2Z"/><path color="#aed97d" d="M364.1 121.8 366 121.5 364.8 122 362.9 122.2Z"/><path color="#cdd56a" d="M372.3 120.7 374.3 120.8 373 121 371.1 121Z"/><path color="#cbd56b" d="M380.5 120.8 382.5 121.1 381.3 121.2 379.3 120.9Z"/><path color="#51cfc4" d="M350.8 125.8 352.7 125.2 351.5 125.9 349.6 126.5Z"/><path color="#a5d983" d="M388.8 122 390.7 122.6 389.5 122.5 387.5 122Z"/><path color="#8fda92" d="M359 122.9 361 122.5 359.8 123.1 357.8 123.5Z"/><path color="#66d5b2" d="M397 124.4 398.9 125.2 397.7 125 395.8 124.1Z"/><path color="#c6d66e" d="M367.2 121.2 369.2 121 368 121.4 366 121.5Z"/><path color="#d7d366" d="M375.5 120.6 377.4 120.7 376.2 120.9 374.3 120.8Z"/><path color="#c8d56d" d="M383.7 121.1 385.6 121.5 384.4 121.5 382.5 121.1Z"/><path color="#6ad6ad" d="M353.9 124.5 355.9 124 354.7 124.6 352.7 125.2Z"/><path color="#94da8e" d="M391.9 122.8 393.8 123.4 392.6 123.2 390.7 122.6Z"/><path color="#b0d87b" d="M362.2 122.1 364.1 121.8 362.9 122.2 361 122.5Z"/><path color="#57d0c0" d="M400.1 125.6 402 126.5 400.8 126.1 398.9 125.2Z"/><path color="#d7d366" d="M370.4 120.8 372.3 120.7 371.1 121 369.2 121Z"/><path color="#dbd266" d="M378.6 120.6 380.5 120.8 379.3 120.9 377.4 120.7Z"/><path color="#48cdc8" d="M348.9 126.6 350.8 125.8 349.6 126.5 347.7 127.3Z"/><path color="#c0d771" d="M386.8 121.6 388.8 122 387.5 122 385.6 121.5Z"/><path color="#8cda94" d="M357.1 123.4 359 122.9 357.8 123.5 355.9 124Z"/><path color="#80d99d" d="M395 123.7 397 124.4 395.8 124.1 393.8 123.4Z"/><path color="#cbd56b" d="M365.3 121.4 367.2 121.2 366 121.5 364.1 121.8Z"/><path color="#e2d166" d="M373.5 120.6 375.5 120.6 374.3 120.8 372.3 120.7Z"/><path color="#dbd266" d="M381.7 120.8 383.7 121.1 382.5 121.1 380.5 120.8Z"/><path color="#66d5b2" d="M352 125.2 353.9 124.5 352.7 125.2 350.8 125.8Z"/><path color="#b3d879" d="M390 122.2 391.9 122.8 390.7 122.6 388.8 122Z"/><path color="#b0d87b" d="M360.2 122.5 362.2 122.1 361 122.5 359 122.9Z"/><path color="#6ad6ad" d="M398.2 124.8 400.1 125.6 398.9 125.2 397 124.4Z"/><path color="#ddd265" d="M368.4 120.9 370.4 120.8 369.2 121 367.2 121.2Z"/><path color="#e8d068" d="M376.7 120.5 378.6 120.6 377.4 120.7 375.5 120.6Z"/><path color="#3ccace" d="M346.9 127.4 348.9 126.6 347.7 127.3 345.7 128.1Z"/><path color="#d7d366" d="M384.9 121.2 386.8 121.6 385.6 121.5 383.7 121.1Z"/><path color="#87d998" d="M355.2 124 357.1 123.4 355.9 124 353.9 124.5Z"/><path color="#a0d986" d="M393.1 123 395 123.7 393.8 123.4 391.9 122.8Z"/><path color="#cdd56a" d="M363.4 121.8 365.3 121.4 364.1 121.8 362.2 122.1Z"/><path color="#5bd1be" d="M401.3 126 403.2 126.9 402 126.5 400.1 125.6Z"/><path color="#ead069" d="M371.6 120.6 373.5 120.6 372.3 120.7 370.4 120.8Z"/><path color="#ead069" d="M379.8 120.6 381.7 120.8 380.5 120.8 378.6 120.6Z"/><path color="#61d3b7" d="M350.1 126 352 125.2 350.8 125.8 348.9 126.6Z"/><path color="#cdd56a" d="M388 121.8 390 122.2 388.8 122 386.8 121.6Z"/><path color="#aed97d" d="M358.3 123 360.2 122.5 359 122.9 357.1 123.4Z"/><path color="#87d998" d="M396.2 124 398.2 124.8 397 124.4 395 123.7Z"/><path color="#e2d166" d="M366.5 121.2 368.4 120.9 367.2 121.2 365.3 121.4Z"/><path color="#f1cf6e" d="M374.7 120.5 376.7 120.5 375.5 120.6 373.5 120.6Z"/><path color="#37c7d5" d="M345 128.4 346.9 127.4 345.7 128.1 343.8 129.1Z"/><path color="#e8d068" d="M382.9 120.9 384.9 121.2 383.7 121.1 381.7 120.8Z"/><path color="#80d99d" d="M353.2 124.7 355.2 124 353.9 124.5 352 125.2Z"/><path color="#bed773" d="M391.2 122.5 393.1 123 391.9 122.8 390 122.2Z"/><path color="#cdd56a" d="M361.4 122.2 363.4 121.8 362.2 122.1 360.2 122.5Z"/><path color="#6ed7aa" d="M399.4 125.2 401.3 126 400.1 125.6 398.2 124.8Z"/><path color="#efcf6d" d="M369.6 120.8 371.6 120.6 370.4 120.8 368.4 120.9Z"/><path color="#f4ce72" d="M377.9 120.5 379.8 120.6 378.6 120.6 376.7 120.5Z"/><path color="#5bd1be" d="M348.1 126.8 350.1 126 348.9 126.6 346.9 127.4Z"/><path color="#e2d166" d="M386.1 121.4 388 121.8 386.8 121.6 384.9 121.2Z"/><path color="#a8d981" d="M356.4 123.6 358.3 123 357.1 123.4 355.2 124Z"/><path color="#a8d981" d="M394.3 123.4 396.2 124 395 123.7 393.1 123Z"/><path color="#e4d166" d="M364.6 121.5 366.5 121.2 365.3 121.4 363.4 121.8Z"/><path color="#5cd1bc" d="M402.5 126.6 404.5 127.5 403.2 126.9 401.3 126Z"/><path color="#f8cf75" d="M372.8 120.5 374.7 120.5 373.5 120.6 371.6 120.6Z"/><path color="#3ec3dc" d="M343.1 129.4 345 128.4 343.8 129.1 341.9 130.1Z"/><path color="#f4ce72" d="M381 120.7 382.9 120.9 381.7 120.8 379.8 120.6Z"/><path color="#76d8a4" d="M351.3 125.5 353.2 124.7 352 125.2 350.1 126Z"/><path color="#d7d366" d="M389.2 122 391.2 122.5 390 122.2 388 121.8Z"/><path color="#cbd56b" d="M359.5 122.7 361.4 122.2 360.2 122.5 358.3 123Z"/><path color="#8cda94" d="M397.4 124.5 399.4 125.2 398.2 124.8 396.2 124Z"/><path color="#f3cf70" d="M367.7 121 369.6 120.8 368.4 120.9 366.5 121.2Z"/><path color="#fcd078" d="M375.9 120.5 377.9 120.5 376.7 120.5 374.7 120.5Z"/><path color="#4fcec5" d="M346.2 127.8 348.1 126.8 346.9 127.4 345 128.4Z"/><path color="#f1cf6e" d="M384.1 121.1 386.1 121.4 384.9 121.2 382.9 120.9Z"/><path color="#a0d986" d="M354.4 124.3 356.4 123.6 355.2 124 353.2 124.7Z"/><path color="#c6d66e" d="M392.4 122.9 394.3 123.4 393.1 123 391.2 122.5Z"/><path color="#e4d166" d="M362.6 121.9 364.6 121.5 363.4 121.8 361.4 122.2Z"/><path color="#70d7a9" d="M400.6 125.7 402.5 126.6 401.3 126 399.4 125.2Z"/><path color="#fcd078" d="M370.8 120.7 372.8 120.5 371.6 120.6 369.6 120.8Z"/><path color="#46bde3" d="M341.1 130.5 343.1 129.4 341.9 130.1 339.9 131.2Z"/><path color="#fdd178" d="M379.1 120.6 381 120.7 379.8 120.6 377.9 120.5Z"/><path color="#6cd6ac" d="M349.3 126.3 351.3 125.5 350.1 126 348.1 126.8Z"/><path color="#ead069" d="M387.3 121.7 389.2 122 388 121.8 386.1 121.4Z"/><path color="#c6d66e" d="M357.6 123.2 359.5 122.7 358.3 123 356.4 123.6Z"/><path color="#aed97d" d="M395.5 123.8 397.4 124.5 396.2 124 394.3 123.4Z"/><path color="#f4ce72" d="M365.8 121.3 367.7 121 366.5 121.2 364.6 121.5Z"/><path color="#5cd1bc" d="M403.7 127.2 405.7 128.1 404.5 127.5 402.5 126.6Z"/><path color="#fed377" d="M374 120.5 375.9 120.5 374.7 120.5 372.8 120.5Z"/><path color="#3ecbcd" d="M344.3 128.8 346.2 127.8 345 128.4 343.1 129.4Z"/><path color="#fcd078" d="M382.2 120.9 384.1 121.1 382.9 120.9 381 120.7Z"/><path color="#94da8e" d="M352.5 125 354.4 124.3 353.2 124.7 351.3 125.5Z"/><path color="#ddd265" d="M390.4 122.4 392.4 122.9 391.2 122.5 389.2 122Z"/><path color="#e2d166" d="M360.7 122.4 362.6 121.9 361.4 122.2 359.5 122.7Z"/><path color="#8fda92" d="M398.6 125 400.6 125.7 399.4 125.2 397.4 124.5Z"/><path color="#fed178" d="M368.9 120.9 370.8 120.7 369.6 120.8 367.7 121Z"/><path color="#4ab6e8" d="M339.2 131.7 341.1 130.5 339.9 131.2 338 132.4Z"/><path color="#fed676" d="M377.1 120.6 379.1 120.6 377.9 120.5 375.9 120.5Z"/><path color="#64d4b5" d="M347.4 127.2 349.3 126.3 348.1 126.8 346.2 127.8Z"/><path color="#f8cf75" d="M385.3 121.4 387.3 121.7 386.1 121.4 384.1 121.1Z"/><path color="#bed773" d="M355.6 123.9 357.6 123.2 356.4 123.6 354.4 124.3Z"/><path color="#cbd56b" d="M393.6 123.3 395.5 123.8 394.3 123.4 392.4 122.9Z"/><path color="#f4ce72" d="M363.8 121.7 365.8 121.3 364.6 121.5 362.6 121.9Z"/><path color="#70d7a9" d="M401.8 126.4 403.7 127.2 402.5 126.6 400.6 125.7Z"/><path color="#fed775" d="M372.1 120.7 374 120.5 372.8 120.5 370.8 120.7Z"/><path color="#37c7d6" d="M342.3 129.9 344.3 128.8 343.1 129.4 341.1 130.5Z"/><path color="#fed676" d="M380.3 120.8 382.2 120.9 381 120.7 379.1 120.6Z"/><path color="#87d998" d="M350.5 125.9 352.5 125 351.3 125.5 349.3 126.3Z"/><path color="#efcf6d" d="M388.5 122 390.4 122.4 389.2 122 387.3 121.7Z"/><path color="#ddd265" d="M358.8 123 360.7 122.4 359.5 122.7 357.6 123.2Z"/><path color="#b0d87b" d="M396.7 124.4 398.6 125 397.4 124.5 395.5 123.8Z"/><path color="#fed278" d="M367 121.2 368.9 120.9 367.7 121 365.8 121.3Z"/><path color="#4caeeb" d="M337.2 133 339.2 131.7 338 132.4 336 133.7Z"/><path color="#5bd1be" d="M404.9 127.9 406.9 128.8 405.7 128.1 403.7 127.2Z"/><path color="#feda73" d="M375.2 120.6 377.1 120.6 375.9 120.5 374 120.5Z"/><path color="#5bd1be" d="M345.5 128.3 347.4 127.2 346.2 127.8 344.3 128.8Z"/><path color="#fed377" d="M383.4 121.2 385.3 121.4 384.1 121.1 382.2 120.9Z"/><path color="#b3d879" d="M353.7 124.7 355.6 123.9 354.4 124.3 352.5 125Z"/><path color="#e2d166" d="M391.6 122.8 393.6 123.3 392.4 122.9 390.4 122.4Z"/><path color="#f3cf70" d="M361.9 122.2 363.8 121.7 362.6 121.9 360.7 122.4Z"/><path color="#8fda92" d="M399.8 125.6 401.8 126.4 400.6 125.7 398.6 125Z"/><path color="#fed974" d="M370.1 120.9 372.1 120.7 370.8 120.7 368.9 120.9Z"/><path color="#42c1de" d="M340.4 131.1 342.3 129.9 341.1 130.5 339.2 131.7Z"/><path color="#fedc73" d="M378.3 120.8 380.3 120.8 379.1 120.6 377.1 120.6Z"/><path color="#78d8a2" d="M348.6 126.8 350.5 125.9 349.3 126.3 347.4 127.2Z"/><path color="#fcd078" d="M386.6 121.7 388.5 122 387.3 121.7 385.3 121.4Z"/><path color="#d7d366" d="M356.8 123.7 358.8 123 357.6 123.2 355.6 123.9Z"/><path color="#cdd56a" d="M394.8 123.8 396.7 124.4 395.5 123.8 393.6 123.3Z"/><path color="#fed278" d="M365 121.7 367 121.2 365.8 121.3 363.8 121.7Z"/><path color="#4fa4f1" d="M335.3 134.4 337.2 133 336 133.7 334.1 135.1Z"/><path color="#6ed7aa" d="M403 127.1 404.9 127.9 403.7 127.2 401.8 126.4Z"/><path color="#fdde72" d="M373.3 120.8 375.2 120.6 374 120.5 372.1 120.7Z"/><path color="#4acdc7" d="M343.5 129.4 345.5 128.3 344.3 128.8 342.3 129.9Z"/><path color="#feda73" d="M381.5 121 383.4 121.2 382.2 120.9 380.3 120.8Z"/><path color="#a5d983" d="M351.7 125.5 353.7 124.7 352.5 125 350.5 125.9Z"/><path color="#f3cf70" d="M389.7 122.5 391.6 122.8 390.4 122.4 388.5 122Z"/><path color="#efcf6d" d="M360 122.8 361.9 122.2 360.7 122.4 358.8 123Z"/><path color="#b0d87b" d="M397.9 125 399.8 125.6 398.6 125 396.7 124.4Z"/><path color="#feda73" d="M368.2 121.2 370.1 120.9 368.9 120.9 367 121.2Z"/><path color="#49bae6" d="M338.5 132.4 340.4 131.1 339.2 131.7 337.2 133Z"/><path color="#57d0c0" d="M406.1 128.7 408.1 129.6 406.9 128.8 404.9 127.9Z"/><path color="#fce071" d="M376.4 120.8 378.3 120.8 377.1 120.6 375.2 120.6Z"/><path color="#6ad6ad" d="M346.7 127.8 348.6 126.8 347.4 127.2 345.5 128.3Z"/><path color="#fed775" d="M384.6 121.5 386.6 121.7 385.3 121.4 383.4 121.2Z"/><path color="#cdd56a" d="M354.9 124.4 356.8 123.7 355.6 123.9 353.7 124.7Z"/><path color="#e4d166" d="M392.8 123.4 394.8 123.8 393.6 123.3 391.6 122.8Z"/><path color="#fed178" d="M363.1 122.2 365 121.7 363.8 121.7 361.9 122.2Z"/><path color="#4f9af8" d="M333.4 135.8 335.3 134.4 334.1 135.1 332.2 136.5Z"/><path color="#8cda94" d="M401 126.3 403 127.1 401.8 126.4 399.8 125.6Z"/><path color="#fce071" d="M371.3 121 373.3 120.8 372.1 120.7 370.1 120.9Z"/><path color="#38c9d1" d="M341.6 130.6 343.5 129.4 342.3 129.9 340.4 131.1Z"/><path color="#fce071" d="M379.5 121 381.5 121 380.3 120.8 378.3 120.8Z"/><path color="#94da8e" d="M349.8 126.5 351.7 125.5 350.5 125.9 348.6 126.8Z"/><path color="#fed178" d="M387.8 122.2 389.7 122.5 388.5 122 386.6 121.7Z"/><path color="#ead069" d="M358 123.5 360 122.8 358.8 123 356.8 123.7Z"/><path color="#cdd56a" d="M396 124.4 397.9 125 396.7 124.4 394.8 123.8Z"/><path color="#feda73" d="M366.2 121.7 368.2 121.2 367 121.2 365 121.7Z"/><path color="#4cb0ea" d="M336.5 133.8 338.5 132.4 337.2 133 335.3 134.4Z"/><path color="#6ad6ad" d="M404.2 127.9 406.1 128.7 404.9 127.9 403 127.1Z"/><path color="#fbe470" d="M374.5 121 376.4 120.8 375.2 120.6 373.3 120.8Z"/><path color="#60d3b9" d="M344.7 128.9 346.7 127.8 345.5 128.3 343.5 129.4Z"/><path color="#fdde72" d="M382.7 121.4 384.6 121.5 383.4 121.2 381.5 121Z"/><path color="#c0d771" d="M353 125.3 354.9 124.4 353.7 124.7 351.7 125.5Z"/><path color="#f4ce72" d="M390.9 123 392.8 123.4 391.6 122.8 389.7 122.5Z"/><path color="#fcd078" d="M361.2 122.7 363.1 122.2 361.9 122.2 360 122.8Z"/><path color="#518efd" d="M331.4 137.4 333.4 135.8 332.2 136.5 330.2 138.1Z"/><path color="#aed97d" d="M399.1 125.7 401 126.3 399.8 125.6 397.9 125Z"/><path color="#fce271" d="M369.4 121.3 371.3 121 370.1 120.9 368.2 121.2Z"/><path color="#3ec3dc" d="M339.7 131.9 341.6 130.6 340.4 131.1 338.5 132.4Z"/><path color="#51cfc4" d="M407.3 129.5 409.3 130.5 408.1 129.6 406.1 128.7Z"/><path color="#fae56f" d="M377.6 121.1 379.5 121 378.3 120.8 376.4 120.8Z"/><path color="#82d99b" d="M347.9 127.5 349.8 126.5 348.6 126.8 346.7 127.8Z"/><path color="#fed974" d="M385.8 122 387.8 122.2 386.6 121.7 384.6 121.5Z"/><path color="#e2d166" d="M356.1 124.3 358 123.5 356.8 123.7 354.9 124.4Z"/><path color="#e4d166" d="M394 124 396 124.4 394.8 123.8 392.8 123.4Z"/><path color="#fed974" d="M364.3 122.2 366.2 121.7 365 121.7 363.1 122.2Z"/><path color="#4ea6f0" d="M334.6 135.2 336.5 133.8 335.3 134.4 333.4 135.8Z"/><path color="#87d998" d="M402.2 127.1 404.2 127.9 403 127.1 401 126.3Z"/><path color="#fae76f" d="M372.5 121.2 374.5 121 373.3 120.8 371.3 121Z"/><path color="#51cfc4" d="M342.8 130.1 344.7 128.9 343.5 129.4 341.6 130.6Z"/><path color="#fbe470" d="M380.7 121.4 382.7 121.4 381.5 121 379.5 121Z"/><path color="#b0d87b" d="M351 126.2 353 125.3 351.7 125.5 349.8 126.5Z"/><path color="#fed278" d="M389 122.7 390.9 123 389.7 122.5 387.8 122.2Z"/><path color="#f8cf75" d="M359.2 123.4 361.2 122.7 360 122.8 358 123.5Z"/><path color="#5882ff" d="M329.5 139 331.4 137.4 330.2 138.1 328.3 139.7Z"/><path color="#cbd56b" d="M397.2 125.1 399.1 125.7 397.9 125 396 124.4Z"/><path color="#fce271" d="M367.4 121.8 369.4 121.3 368.2 121.2 366.2 121.7Z"/><path color="#48bbe5" d="M337.7 133.2 339.7 131.9 338.5 132.4 336.5 133.8Z"/><path color="#66d5b2" d="M405.4 128.7 407.3 129.5 406.1 128.7 404.2 127.9Z"/><path color="#f9e96e" d="M375.7 121.2 377.6 121.1 376.4 120.8 374.5 121Z"/><path color="#70d7a9" d="M345.9 128.6 347.9 127.5 346.7 127.8 344.7 128.9Z"/><path color="#fce071" d="M383.9 121.8 385.8 122 384.6 121.5 382.7 121.4Z"/><path color="#d7d366" d="M354.2 125.1 356.1 124.3 354.9 124.4 353 125.3Z"/><path color="#f4ce72" d="M392.1 123.6 394 124 392.8 123.4 390.9 123Z"/><path color="#fed775" d="M362.4 122.7 364.3 122.2 363.1 122.2 361.2 122.7Z"/><path color="#4f9bf8" d="M332.6 136.8 334.6 135.2 333.4 135.8 331.4 137.4Z"/><path color="#a8d981" d="M400.3 126.5 402.2 127.1 401 126.3 399.1 125.7Z"/><path color="#f9e86f" d="M370.6 121.5 372.5 121.2 371.3 121 369.4 121.3Z"/><path color="#3bcacf" d="M340.9 131.4 342.8 130.1 341.6 130.6 339.7 131.9Z"/><path color="#48cdc8" d="M408.5 130.5 410.5 131.4 409.3 130.5 407.3 129.5Z"/><path color="#f9e96e" d="M378.8 121.4 380.7 121.4 379.5 121 377.6 121.1Z"/><path color="#9dda88" d="M349.1 127.2 351 126.2 349.8 126.5 347.9 127.5Z"/><path color="#feda73" d="M387 122.5 389 122.7 387.8 122.2 385.8 122Z"/><path color="#f1cf6e" d="M357.3 124.2 359.2 123.4 358 123.5 356.1 124.3Z"/><path color="#e2d166" d="M395.2 124.7 397.2 125.1 396 124.4 394 124Z"/><path color="#fce071" d="M365.5 122.2 367.4 121.8 366.2 121.7 364.3 122.2Z"/><path color="#4cb1ea" d="M335.8 134.7 337.7 133.2 336.5 133.8 334.6 135.2Z"/><path color="#80d99d" d="M403.5 128 405.4 128.7 404.2 127.9 402.2 127.1Z"/><path color="#f8eb6e" d="M373.7 121.5 375.7 121.2 374.5 121 372.5 121.2Z"/><path color="#62d3b6" d="M344 129.8 345.9 128.6 344.7 128.9 342.8 130.1Z"/><path color="#fae76f" d="M381.9 121.8 383.9 121.8 382.7 121.4 380.7 121.4Z"/><path color="#c8d56d" d="M352.2 126 354.2 125.1 353 125.3 351 126.2Z"/><path color="#fed278" d="M390.2 123.3 392.1 123.6 390.9 123 389 122.7Z"/><path color="#fed377" d="M360.4 123.4 362.4 122.7 361.2 122.7 359.2 123.4Z"/><path color="#518efd" d="M330.7 138.4 332.6 136.8 331.4 137.4 329.5 139Z"/><path color="#c6d66e" d="M398.4 125.9 400.3 126.5 399.1 125.7 397.2 125.1Z"/><path color="#f9e86f" d="M368.6 121.9 370.6 121.5 369.4 121.3 367.4 121.8Z"/><path color="#3cc4db" d="M338.9 132.8 340.9 131.4 339.7 131.9 337.7 133.2Z"/><path color="#61d3b7" d="M406.6 129.7 408.5 130.5 407.3 129.5 405.4 128.7Z"/><path color="#f8ed6d" d="M376.9 121.6 378.8 121.4 377.6 121.1 375.7 121.2Z"/><path color="#87d998" d="M347.1 128.3 349.1 127.2 347.9 127.5 345.9 128.6Z"/><path color="#fce271" d="M385.1 122.4 387 122.5 385.8 122 383.9 121.8Z"/><path color="#e8d068" d="M355.4 125 357.3 124.2 356.1 124.3 354.2 125.1Z"/><path color="#f3cf70" d="M393.3 124.3 395.2 124.7 394 124 392.1 123.6Z"/><path color="#fdde72" d="M363.6 122.8 365.5 122.2 364.3 122.2 362.4 122.7Z"/><path color="#4ea6f0" d="M333.8 136.2 335.8 134.7 334.6 135.2 332.6 136.8Z"/><path color="#a0d986" d="M401.5 127.4 403.5 128 402.2 127.1 400.3 126.5Z"/><path color="#f8ed6d" d="M371.8 121.8 373.7 121.5 372.5 121.2 370.6 121.5Z"/><path color="#53cfc2" d="M342.1 131.1 344 129.8 342.8 130.1 340.9 131.4Z"/><path color="#3ccace" d="M409.7 131.6 411.7 132.5 410.5 131.4 408.5 130.5Z"/><path color="#f8eb6e" d="M380 121.9 381.9 121.8 380.7 121.4 378.8 121.4Z"/><path color="#b6d878" d="M350.3 127.1 352.2 126 351 126.2 349.1 127.2Z"/><path color="#feda73" d="M388.2 123.1 390.2 123.3 389 122.7 387 122.5Z"/><path color="#fcd078" d="M358.5 124.2 360.4 123.4 359.2 123.4 357.3 124.2Z"/><path color="#ddd265" d="M396.4 125.5 398.4 125.9 397.2 125.1 395.2 124.7Z"/><path color="#fae76f" d="M366.7 122.4 368.6 121.9 367.4 121.8 365.5 122.2Z"/><path color="#48bbe5" d="M337 134.3 338.9 132.8 337.7 133.2 335.8 134.7Z"/><path color="#76d8a4" d="M404.7 129 406.6 129.7 405.4 128.7 403.5 128Z"/><path color="#f8ee6d" d="M374.9 121.8 376.9 121.6 375.7 121.2 373.7 121.5Z"/><path color="#72d7a7" d="M345.2 129.5 347.1 128.3 345.9 128.6 344 129.8Z"/><path color="#f9e86f" d="M383.1 122.3 385.1 122.4 383.9 121.8 381.9 121.8Z"/><path color="#dbd266" d="M353.4 126 355.4 125 354.2 125.1 352.2 126Z"/><path color="#fed178" d="M391.4 124 393.3 124.3 392.1 123.6 390.2 123.3Z"/><path color="#feda73" d="M361.6 123.5 363.6 122.8 362.4 122.7 360.4 123.4Z"/><path color="#4f9af8" d="M331.9 137.9 333.8 136.2 332.6 136.8 330.7 138.4Z"/><path color="#bed773" d="M399.6 126.8 401.5 127.4 400.3 126.5 398.4 125.9Z"/><path color="#f8ed6d" d="M369.9 122.2 371.8 121.8 370.6 121.5 368.6 121.9Z"/><path color="#3bcacf" d="M340.1 132.5 342.1 131.1 340.9 131.4 338.9 132.8Z"/><path color="#5bd1be" d="M407.8 130.8 409.7 131.6 408.5 130.5 406.6 129.7Z"/><path color="#f8ee6d" d="M378.1 122 380 121.9 378.8 121.4 376.9 121.6Z"/><path color="#a0d986" d="M348.3 128.2 350.3 127.1 349.1 127.2 347.1 128.3Z"/><path color="#fce271" d="M386.3 123 388.2 123.1 387 122.5 385.1 122.4Z"/><path color="#f4ce72" d="M356.6 125 358.5 124.2 357.3 124.2 355.4 125Z"/><path color="#efcf6d" d="M394.5 125.1 396.4 125.5 395.2 124.7 393.3 124.3Z"/><path color="#fbe470" d="M364.8 123 366.7 122.4 365.5 122.2 363.6 122.8Z"/><path color="#4cb0ea" d="M335 135.8 337 134.3 335.8 134.7 333.8 136.2Z"/><path color="#94da8e" d="M402.7 128.3 404.7 129 403.5 128 401.5 127.4Z"/><path color="#f8ef6d" d="M373 122.1 374.9 121.8 373.7 121.5 371.8 121.8Z"/><path color="#62d3b6" d="M343.3 130.8 345.2 129.5 344 129.8 342.1 131.1Z"/><path color="#37c7d5" d="M410.9 132.7 412.9 133.6 411.7 132.5 409.7 131.6Z"/><path color="#f8ed6d" d="M381.2 122.4 383.1 122.3 381.9 121.8 380 121.9Z"/><path color="#cbd56b" d="M351.5 127 353.4 126 352.2 126 350.3 127.1Z"/><path color="#fed974" d="M389.4 123.8 391.4 124 390.2 123.3 388.2 123.1Z"/><path color="#fed676" d="M359.7 124.3 361.6 123.5 360.4 123.4 358.5 124.2Z"/><path color="#d7d366" d="M397.6 126.4 399.6 126.8 398.4 125.9 396.4 125.5Z"/><path color="#f8eb6e" d="M367.9 122.7 369.9 122.2 368.6 121.9 366.7 122.4Z"/><path color="#3ec3dc" d="M338.2 133.9 340.1 132.5 338.9 132.8 337 134.3Z"/><path color="#6cd6ac" d="M405.9 130 407.8 130.8 406.6 129.7 404.7 129Z"/><path color="#f8ef6d" d="M376.1 122.3 378.1 122 376.9 121.6 374.9 121.8Z"/><path color="#87d998" d="M346.4 129.4 348.3 128.2 347.1 128.3 345.2 129.5Z"/><path color="#f9e86f" d="M384.4 123 386.3 123 385.1 122.4 383.1 122.3Z"/><path color="#ead069" d="M354.6 126 356.6 125 355.4 125 353.4 126Z"/><path color="#fcd078" d="M392.6 124.8 394.5 125.1 393.3 124.3 391.4 124Z"/><path color="#fce071" d="M362.8 123.7 364.8 123 363.6 122.8 361.6 123.5Z"/><path color="#4fa4f1" d="M333.1 137.4 335 135.8 333.8 136.2 331.9 137.9Z"/><path color="#b3d879" d="M400.8 127.8 402.7 128.3 401.5 127.4 399.6 126.8Z"/><path color="#f8ef6d" d="M371.1 122.6 373 122.1 371.8 121.8 369.9 122.2Z"/><path color="#51cfc4" d="M341.3 132.2 343.3 130.8 342.1 131.1 340.1 132.5Z"/><path color="#4fcec5" d="M409 131.9 410.9 132.7 409.7 131.6 407.8 130.8Z"/><path color="#f8ef6d" d="M379.3 122.6 381.2 122.4 380 121.9 378.1 122Z"/><path color="#b6d878" d="M349.5 128.1 351.5 127 350.3 127.1 348.3 128.2Z"/><path color="#fce071" d="M387.5 123.7 389.4 123.8 388.2 123.1 386.3 123Z"/><path color="#fdd178" d="M357.8 125.1 359.7 124.3 358.5 124.2 356.6 125Z"/><path color="#ead069" d="M395.7 126 397.6 126.4 396.4 125.5 394.5 125.1Z"/><path color="#f9e96e" d="M366 123.3 367.9 122.7 366.7 122.4 364.8 123Z"/><path color="#49bae6" d="M336.3 135.5 338.2 133.9 337 134.3 335 135.8Z"/><path color="#87d998" d="M403.9 129.4 405.9 130 404.7 129 402.7 128.3Z"/><path color="#f8ef6d" d="M374.2 122.6 376.1 122.3 374.9 121.8 373 122.1Z"/><path color="#70d7a9" d="M344.5 130.7 346.4 129.4 345.2 129.5 343.3 130.8Z"/><path color="#3ec3dc" d="M412.1 133.9 414.1 134.8 412.9 133.6 410.9 132.7Z"/><path color="#f8ed6d" d="M382.4 123 384.4 123 383.1 122.3 381.2 122.4Z"/><path color="#dbd266" d="M352.7 127 354.6 126 353.4 126 351.5 127Z"/><path color="#fed775" d="M390.6 124.6 392.6 124.8 391.4 124 389.4 123.8Z"/><path color="#fedc73" d="M360.9 124.4 362.8 123.7 361.6 123.5 359.7 124.3Z"/><path color="#cdd56a" d="M398.8 127.3 400.8 127.8 399.6 126.8 397.6 126.4Z"/><path color="#f8ee6d" d="M369.1 123.1 371.1 122.6 369.9 122.2 367.9 122.7Z"/><path color="#38c9d1" d="M339.4 133.7 341.3 132.2 340.1 132.5 338.2 133.9Z"/><path color="#64d4b5" d="M407.1 131.2 409 131.9 407.8 130.8 405.9 130Z"/><path color="#f8ef6d" d="M377.3 122.8 379.3 122.6 378.1 122 376.1 122.3Z"/><path color="#9dda88" d="M347.6 129.3 349.5 128.1 348.3 128.2 346.4 129.4Z"/><path color="#fae76f" d="M385.6 123.7 387.5 123.7 386.3 123 384.4 123Z"/><path color="#f4ce72" d="M355.8 126.1 357.8 125.1 356.6 125 354.6 126Z"/><path color="#f8cf75" d="M393.8 125.7 395.7 126 394.5 125.1 392.6 124.8Z"/><path color="#fae56f" d="M364 124 366 123.3 364.8 123 362.8 123.7Z"/><path color="#4caeeb" d="M334.3 137.1 336.3 135.5 335 135.8 333.1 137.4Z"/><path color="#a5d983" d="M402 128.8 403.9 129.4 402.7 128.3 400.8 127.8Z"/><path color="#f8ef6d" d="M372.3 123 374.2 122.6 373 122.1 371.1 122.6Z"/><path color="#60d3b9" d="M342.5 132 344.5 130.7 343.3 130.8 341.3 132.2Z"/><path color="#3ecbcd" d="M410.2 133.1 412.1 133.9 410.9 132.7 409 131.9Z"/><path color="#f8ef6d" d="M380.5 123.2 382.4 123 381.2 122.4 379.3 122.6Z"/><path color="#c8d56d" d="M350.8 128.1 352.7 127 351.5 127 349.5 128.1Z"/><path color="#fdde72" d="M388.7 124.5 390.6 124.6 389.4 123.8 387.5 123.7Z"/><path color="#fed676" d="M359 125.3 360.9 124.4 359.7 124.3 357.8 125.1Z"/><path color="#e2d166" d="M396.9 126.9 398.8 127.3 397.6 126.4 395.7 126Z"/><path color="#f8ed6d" d="M367.2 123.6 369.1 123.1 367.9 122.7 366 123.3Z"/><path color="#42c1de" d="M337.5 135.2 339.4 133.7 338.2 133.9 336.3 135.5Z"/><path color="#78d8a2" d="M405.1 130.5 407.1 131.2 405.9 130 403.9 129.4Z"/><path color="#f8ef6d" d="M375.4 123.1 377.3 122.8 376.1 122.3 374.2 122.6Z"/><path color="#82d99b" d="M345.7 130.6 347.6 129.3 346.4 129.4 344.5 130.7Z"/><path color="#46bde3" d="M413.3 135.3 415.3 136.2 414.1 134.8 412.1 133.9Z"/><path color="#f8eb6e" d="M383.6 123.7 385.6 123.7 384.4 123 382.4 123Z"/><path color="#e8d068" d="M353.9 127.1 355.8 126.1 354.6 126 352.7 127Z"/><path color="#fed377" d="M391.8 125.5 393.8 125.7 392.6 124.8 390.6 124.6Z"/><path color="#fce071" d="M362.1 124.7 364 124 362.8 123.7 360.9 124.4Z"/><path color="#c0d771" d="M400 128.4 402 128.8 400.8 127.8 398.8 127.3Z"/><path color="#f8ef6d" d="M370.3 123.5 372.3 123 371.1 122.6 369.1 123.1Z"/><path color="#4acdc7" d="M340.6 133.5 342.5 132 341.3 132.2 339.4 133.7Z"/><path color="#5bd1be" d="M408.3 132.4 410.2 133.1 409 131.9 407.1 131.2Z"/><path color="#f8ef6d" d="M378.5 123.4 380.5 123.2 379.3 122.6 377.3 122.8Z"/><path color="#b0d87b" d="M348.8 129.3 350.8 128.1 349.5 128.1 347.6 129.3Z"/><path color="#fbe470" d="M386.8 124.5 388.7 124.5 387.5 123.7 385.6 123.7Z"/><path color="#fcd078" d="M357 126.2 359 125.3 357.8 125.1 355.8 126.1Z"/><path color="#f1cf6e" d="M395 126.7 396.9 126.9 395.7 126 393.8 125.7Z"/><path color="#f9e96e" d="M365.2 124.3 367.2 123.6 366 123.3 364 124Z"/><path color="#4ab6e8" d="M335.5 136.8 337.5 135.2 336.3 135.5 334.3 137.1Z"/><path color="#94da8e" d="M403.2 130 405.1 130.5 403.9 129.4 402 128.8Z"/><path color="#f8ef6d" d="M373.5 123.5 375.4 123.1 374.2 122.6 372.3 123Z"/><path color="#6ad6ad" d="M343.7 131.9 345.7 130.6 344.5 130.7 342.5 132Z"/><path color="#37c7d6" d="M411.4 134.4 413.3 135.3 412.1 133.9 410.2 133.1Z"/><path color="#f8ee6d" d="M381.7 123.9 383.6 123.7 382.4 123 380.5 123.2Z"/><path color="#d7d366" d="M352 128.2 353.9 127.1 352.7 127 350.8 128.1Z"/><path color="#feda73" d="M389.9 125.4 391.8 125.5 390.6 124.6 388.7 124.5Z"/><path color="#feda73" d="M360.2 125.6 362.1 124.7 360.9 124.4 359 125.3Z"/><path color="#d7d366" d="M398.1 128 400 128.4 398.8 127.3 396.9 126.9Z"/><path color="#f8ee6d" d="M368.4 124.1 370.3 123.5 369.1 123.1 367.2 123.6Z"/><path color="#37c7d6" d="M338.7 135 340.6 133.5 339.4 133.7 337.5 135.2Z"/><path color="#6ad6ad" d="M406.3 131.8 408.3 132.4 407.1 131.2 405.1 130.5Z"/><path color="#f8ef6d" d="M376.6 123.7 378.5 123.4 377.3 122.8 375.4 123.1Z"/><path color="#94da8e" d="M346.9 130.6 348.8 129.3 347.6 129.3 345.7 130.6Z"/><path color="#4ab6e8" d="M414.5 136.7 416.5 137.6 415.3 136.2 413.3 135.3Z"/><path color="#f9e96e" d="M384.8 124.5 386.8 124.5 385.6 123.7 383.6 123.7Z"/><path color="#f1cf6e" d="M355.1 127.3 357 126.2 355.8 126.1 353.9 127.1Z"/><path color="#fcd078" d="M393 126.4 395 126.7 393.8 125.7 391.8 125.5Z"/><path color="#fbe470" d="M363.3 125.1 365.2 124.3 364 124 362.1 124.7Z"/><path color="#b0d87b" d="M401.3 129.5 403.2 130 402 128.8 400 128.4Z"/><path color="#f8ef6d" d="M371.5 124 373.5 123.5 372.3 123 370.3 123.5Z"/><path color="#5bd1be" d="M341.8 133.4 343.7 131.9 342.5 132 340.6 133.5Z"/><path color="#4acdc7" d="M409.5 133.7 411.4 134.4 410.2 133.1 408.3 132.4Z"/><path color="#f8ef6d" d="M379.7 124.1 381.7 123.9 380.5 123.2 378.5 123.4Z"/><path color="#c0d771" d="M350 129.4 352 128.2 350.8 128.1 348.8 129.3Z"/><path color="#fce071" d="M388 125.3 389.9 125.4 388.7 124.5 386.8 124.5Z"/><path color="#fed377" d="M358.2 126.5 360.2 125.6 359 125.3 357 126.2Z"/><path color="#e8d068" d="M396.2 127.7 398.1 128 396.9 126.9 395 126.7Z"/><path color="#f8eb6e" d="M366.4 124.8 368.4 124.1 367.2 123.6 365.2 124.3Z"/><path color="#46bde3" d="M336.7 136.7 338.7 135 337.5 135.2 335.5 136.8Z"/><path color="#82d99b" d="M404.4 131.2 406.3 131.8 405.1 130.5 403.2 130Z"/><path color="#f8ef6d" d="M374.7 124.1 376.6 123.7 375.4 123.1 373.5 123.5Z"/><path color="#78d8a2" d="M344.9 131.9 346.9 130.6 345.7 130.6 343.7 131.9Z"/><path color="#42c1de" d="M412.6 135.8 414.5 136.7 413.3 135.3 411.4 134.4Z"/><path color="#f8ed6d" d="M382.9 124.7 384.8 124.5 383.6 123.7 381.7 123.9Z"/><path color="#e2d166" d="M353.2 128.4 355.1 127.3 353.9 127.1 352 128.2Z"/><path color="#fed676" d="M391.1 126.3 393 126.4 391.8 125.5 389.9 125.4Z"/><path color="#fdde72" d="M361.4 125.9 363.3 125.1 362.1 124.7 360.2 125.6Z"/><path color="#c8d56d" d="M399.3 129.1 401.3 129.5 400 128.4 398.1 128Z"/><path color="#f8ef6d" d="M369.6 124.6 371.5 124 370.3 123.5 368.4 124.1Z"/><path color="#3ecbcd" d="M339.9 135 341.8 133.4 340.6 133.5 338.7 135Z"/><path color="#60d3b9" d="M407.5 133.1 409.5 133.7 408.3 132.4 406.3 131.8Z"/><path color="#f8ef6d" d="M377.8 124.4 379.7 124.1 378.5 123.4 376.6 123.7Z"/><path color="#a5d983" d="M348.1 130.7 350 129.4 348.8 129.3 346.9 130.6Z"/><path color="#4caeeb" d="M415.8 138.2 417.7 139.1 416.5 137.6 414.5 136.7Z"/><path color="#fae56f" d="M386 125.4 388 125.3 386.8 124.5 384.8 124.5Z"/><path color="#f8cf75" d="M356.3 127.5 358.2 126.5 357 126.2 355.1 127.3Z"/><path color="#f4ce72" d="M394.2 127.5 396.2 127.7 395 126.7 393 126.4Z"/><path color="#fae76f" d="M364.5 125.5 366.4 124.8 365.2 124.3 363.3 125.1Z"/><path color="#9dda88" d="M402.5 130.7 404.4 131.2 403.2 130 401.3 129.5Z"/><path color="#f8ef6d" d="M372.7 124.6 374.7 124.1 373.5 123.5 371.5 124Z"/><path color="#64d4b5" d="M343 133.4 344.9 131.9 343.7 131.9 341.8 133.4Z"/><path color="#38c9d1" d="M410.7 135.1 412.6 135.8 411.4 134.4 409.5 133.7Z"/><path color="#f8ee6d" d="M380.9 124.9 382.9 124.7 381.7 123.9 379.7 124.1Z"/><path color="#cdd56a" d="M351.2 129.6 353.2 128.4 352 128.2 350 129.4Z"/><path color="#fedc73" d="M389.2 126.3 391.1 126.3 389.9 125.4 388 125.3Z"/><path color="#fed775" d="M359.4 126.9 361.4 125.9 360.2 125.6 358.2 126.5Z"/><path color="#dbd266" d="M397.4 128.8 399.3 129.1 398.1 128 396.2 127.7Z"/><path color="#f8ed6d" d="M367.7 125.3 369.6 124.6 368.4 124.1 366.4 124.8Z"/><path color="#3ec3dc" d="M337.9 136.6 339.9 135 338.7 135 336.7 136.7Z"/><path color="#70d7a9" d="M405.6 132.5 407.5 133.1 406.3 131.8 404.4 131.2Z"/><path color="#f8ef6d" d="M375.9 124.8 377.8 124.4 376.6 123.7 374.7 124.1Z"/><path color="#87d998" d="M346.1 132 348.1 130.7 346.9 130.6 344.9 131.9Z"/><path color="#49bae6" d="M413.8 137.3 415.8 138.2 414.5 136.7 412.6 135.8Z"/><path color="#f9e96e" d="M384.1 125.5 386 125.4 384.8 124.5 382.9 124.7Z"/><path color="#ead069" d="M354.4 128.6 356.3 127.5 355.1 127.3 353.2 128.4Z"/><path color="#fdd178" d="M392.3 127.4 394.2 127.5 393 126.4 391.1 126.3Z"/><path color="#fce071" d="M362.6 126.4 364.5 125.5 363.3 125.1 361.4 125.9Z"/><path color="#b6d878" d="M400.5 130.4 402.5 130.7 401.3 129.5 399.3 129.1Z"/><path color="#f8ef6d" d="M370.8 125.2 372.7 124.6 371.5 124 369.6 124.6Z"/><path color="#4fcec5" d="M341.1 135 343 133.4 341.8 133.4 339.9 135Z"/><path color="#51cfc4" d="M408.7 134.5 410.7 135.1 409.5 133.7 407.5 133.1Z"/><path color="#f8ef6d" d="M379 125.2 380.9 124.9 379.7 124.1 377.8 124.4Z"/><path color="#b3d879" d="M349.3 130.8 351.2 129.6 350 129.4 348.1 130.7Z"/><path color="#4fa4f1" d="M417 139.7 418.9 140.6 417.7 139.1 415.8 138.2Z"/><path color="#fce071" d="M387.2 126.4 389.2 126.3 388 125.3 386 125.4Z"/><path color="#fcd078" d="M357.5 127.9 359.4 126.9 358.2 126.5 356.3 127.5Z"/><path color="#ead069" d="M395.4 128.6 397.4 128.8 396.2 127.7 394.2 127.5Z"/><path color="#f9e86f" d="M365.7 126 367.7 125.3 366.4 124.8 364.5 125.5Z"/><path color="#87d998" d="M403.7 132.1 405.6 132.5 404.4 131.2 402.5 130.7Z"/><path color="#f8ef6d" d="M373.9 125.3 375.9 124.8 374.7 124.1 372.7 124.6Z"/><path color="#6cd6ac" d="M344.2 133.5 346.1 132 344.9 131.9 343 133.4Z"/><path color="#3ec3dc" d="M411.9 136.6 413.8 137.3 412.6 135.8 410.7 135.1Z"/><path color="#f8eb6e" d="M382.2 125.8 384.1 125.5 382.9 124.7 380.9 124.9Z"/><path color="#d7d366" d="M352.4 129.8 354.4 128.6 353.2 128.4 351.2 129.6Z"/><path color="#fed676" d="M390.4 127.4 392.3 127.4 391.1 126.3 389.2 126.3Z"/><path color="#fed974" d="M360.6 127.3 362.6 126.4 361.4 125.9 359.4 126.9Z"/><path color="#cbd56b" d="M398.6 130.1 400.5 130.4 399.3 129.1 397.4 128.8Z"/><path color="#f8ed6d" d="M368.9 125.9 370.8 125.2 369.6 124.6 367.7 125.3Z"/><path color="#37c7d5" d="M339.1 136.6 341.1 135 339.9 135 337.9 136.6Z"/><path color="#62d3b6" d="M406.8 133.9 408.7 134.5 407.5 133.1 405.6 132.5Z"/><path color="#f8ef6d" d="M377.1 125.6 379 125.2 377.8 124.4 375.9 124.8Z"/><path color="#94da8e" d="M347.3 132.2 349.3 130.8 348.1 130.7 346.1 132Z"/><path color="#4cb0ea" d="M415 138.9 417 139.7 415.8 138.2 413.8 137.3Z"/><path color="#fbe470" d="M385.3 126.5 387.2 126.4 386 125.4 384.1 125.5Z"/><path color="#efcf6d" d="M355.6 129 357.5 127.9 356.3 127.5 354.4 128.6Z"/><path color="#f4ce72" d="M393.5 128.5 395.4 128.6 394.2 127.5 392.3 127.4Z"/><path color="#fce271" d="M363.8 126.9 365.7 126 364.5 125.5 362.6 126.4Z"/><path color="#a0d986" d="M401.7 131.7 403.7 132.1 402.5 130.7 400.5 130.4Z"/><path color="#f8ee6d" d="M372 125.9 373.9 125.3 372.7 124.6 370.8 125.2Z"/><path color="#5bd1be" d="M342.3 135 344.2 133.5 343 133.4 341.1 135Z"/><path color="#3bcacf" d="M409.9 136 411.9 136.6 410.7 135.1 408.7 134.5Z"/><path color="#f8ed6d" d="M380.2 126.1 382.2 125.8 380.9 124.9 379 125.2Z"/><path color="#bed773" d="M350.5 131.1 352.4 129.8 351.2 129.6 349.3 130.8Z"/><path color="#4f9af8" d="M418.2 141.4 420.1 142.3 418.9 140.6 417 139.7Z"/><path color="#feda73" d="M388.4 127.4 390.4 127.4 389.2 126.3 387.2 126.4Z"/><path color="#fed178" d="M358.7 128.3 360.6 127.3 359.4 126.9 357.5 127.9Z"/><path color="#dbd266" d="M396.6 129.9 398.6 130.1 397.4 128.8 395.4 128.6Z"/><path color="#f9e86f" d="M366.9 126.7 368.9 125.9 367.7 125.3 365.7 126Z"/><path color="#72d7a7" d="M404.9 133.5 406.8 133.9 405.6 132.5 403.7 132.1Z"/><path color="#f8ee6d" d="M375.1 126.1 377.1 125.6 375.9 124.8 373.9 125.3Z"/><path color="#76d8a4" d="M345.4 133.7 347.3 132.2 346.1 132 344.2 133.5Z"/><path color="#48bbe5" d="M413.1 138.2 415 138.9 413.8 137.3 411.9 136.6Z"/><path color="#fae76f" d="M383.4 126.8 385.3 126.5 384.1 125.5 382.2 125.8Z"/><path color="#ddd265" d="M353.6 130.2 355.6 129 354.4 128.6 352.4 129.8Z"/><path color="#fcd078" d="M391.6 128.5 393.5 128.5 392.3 127.4 390.4 127.4Z"/><path color="#feda73" d="M361.8 127.8 363.8 126.9 362.6 126.4 360.6 127.3Z"/><path color="#b6d878" d="M399.8 131.4 401.7 131.7 400.5 130.4 398.6 130.1Z"/><path color="#f8eb6e" d="M370.1 126.6 372 125.9 370.8 125.2 368.9 125.9Z"/><path color="#3ccace" d="M340.3 136.7 342.3 135 341.1 135 339.1 136.6Z"/><path color="#53cfc2" d="M408 135.4 409.9 136 408.7 134.5 406.8 133.9Z"/><path color="#f8ed6d" d="M378.3 126.5 380.2 126.1 379 125.2 377.1 125.6Z"/><path color="#a0d986" d="M348.6 132.5 350.5 131.1 349.3 130.8 347.3 132.2Z"/><path color="#4ea6f0" d="M416.2 140.6 418.2 141.4 417 139.7 415 138.9Z"/><path color="#fdde72" d="M386.5 127.6 388.4 127.4 387.2 126.4 385.3 126.5Z"/><path color="#f3cf70" d="M356.8 129.4 358.7 128.3 357.5 127.9 355.6 129Z"/><path color="#e8d068" d="M394.7 129.8 396.6 129.9 395.4 128.6 393.5 128.5Z"/><path color="#fce271" d="M365 127.5 366.9 126.7 365.7 126 363.8 126.9Z"/><path color="#87d998" d="M402.9 133.1 404.9 133.5 403.7 132.1 401.7 131.7Z"/><path color="#f8ed6d" d="M373.2 126.7 375.1 126.1 373.9 125.3 372 125.9Z"/><path color="#61d3b7" d="M343.5 135.2 345.4 133.7 344.2 133.5 342.3 135Z"/><path color="#3cc4db" d="M411.1 137.6 413.1 138.2 411.9 136.6 409.9 136Z"/><path color="#f9e86f" d="M381.4 127.1 383.4 126.8 382.2 125.8 380.2 126.1Z"/><path color="#c6d66e" d="M351.7 131.5 353.6 130.2 352.4 129.8 350.5 131.1Z"/><path color="#518efd" d="M419.4 143.2 421.3 144.1 420.1 142.3 418.2 141.4Z"/><path color="#fed377" d="M389.6 128.6 391.6 128.5 390.4 127.4 388.4 127.4Z"/><path color="#fed278" d="M359.9 128.8 361.8 127.8 360.6 127.3 358.7 128.3Z"/><path color="#c8d56d" d="M397.8 131.2 399.8 131.4 398.6 130.1 396.6 129.9Z"/><path color="#fae76f" d="M368.1 127.4 370.1 126.6 368.9 125.9 366.9 126.7Z"/><path color="#62d3b6" d="M406.1 135 408 135.4 406.8 133.9 404.9 133.5Z"/><path color="#f8eb6e" d="M376.3 127 378.3 126.5 377.1 125.6 375.1 126.1Z"/><path color="#80d99d" d="M346.6 133.9 348.6 132.5 347.3 132.2 345.4 133.7Z"/><path color="#4cb1ea" d="M414.3 139.9 416.2 140.6 415 138.9 413.1 138.2Z"/><path color="#fce071" d="M384.6 127.8 386.5 127.6 385.3 126.5 383.4 126.8Z"/><path color="#e2d166" d="M354.8 130.6 356.8 129.4 355.6 129 353.6 130.2Z"/><path color="#f1cf6e" d="M392.8 129.7 394.7 129.8 393.5 128.5 391.6 128.5Z"/><path color="#feda73" d="M363 128.4 365 127.5 363.8 126.9 361.8 127.8Z"/><path color="#9dda88" d="M401 132.8 402.9 133.1 401.7 131.7 399.8 131.4Z"/><path color="#f9e96e" d="M371.3 127.4 373.2 126.7 372 125.9 370.1 126.6Z"/><path color="#48cdc8" d="M341.5 136.9 343.5 135.2 342.3 135 340.3 136.7Z"/><path color="#3bcacf" d="M409.2 137 411.1 137.6 409.9 136 408 135.4Z"/><path color="#f9e86f" d="M379.5 127.5 381.4 127.1 380.2 126.1 378.3 126.5Z"/><path color="#a8d981" d="M349.8 132.8 351.7 131.5 350.5 131.1 348.6 132.5Z"/><path color="#4f9bf8" d="M417.4 142.3 419.4 143.2 418.2 141.4 416.2 140.6Z"/><path color="#fed775" d="M387.7 128.7 389.6 128.6 388.4 127.4 386.5 127.6Z"/><path color="#f4ce72" d="M358 130 359.9 128.8 358.7 128.3 356.8 129.4Z"/><path color="#d7d366" d="M395.9 131.1 397.8 131.2 396.6 129.9 394.7 129.8Z"/><path color="#fce071" d="M366.2 128.2 368.1 127.4 366.9 126.7 365 127.5Z"/><path color="#70d7a9" d="M404.1 134.6 406.1 135 404.9 133.5 402.9 133.1Z"/><path color="#f9e96e" d="M374.4 127.6 376.3 127 375.1 126.1 373.2 126.7Z"/><path color="#66d5b2" d="M344.7 135.5 346.6 133.9 345.4 133.7 343.5 135.2Z"/><path color="#48bbe5" d="M412.3 139.2 414.3 139.9 413.1 138.2 411.1 137.6Z"/><path color="#fce271" d="M382.6 128.1 384.6 127.8 383.4 126.8 381.4 127.1Z"/><path color="#cbd56b" d="M352.9 131.9 354.8 130.6 353.6 130.2 351.7 131.5Z"/><path color="#5882ff" d="M420.6 145 422.5 145.9 421.3 144.1 419.4 143.2Z"/><path color="#f8cf75" d="M390.8 129.8 392.8 129.7 391.6 128.5 389.6 128.6Z"/><path color="#fed278" d="M361.1 129.5 363 128.4 361.8 127.8 359.9 128.8Z"/><path color="#b0d87b" d="M399.1 132.6 401 132.8 399.8 131.4 397.8 131.2Z"/><path color="#fbe470" d="M369.3 128.2 371.3 127.4 370.1 126.6 368.1 127.4Z"/><path color="#51cfc4" d="M407.3 136.5 409.2 137 408 135.4 406.1 135Z"/><path color="#fae76f" d="M377.5 128 379.5 127.5 378.3 126.5 376.3 127Z"/><path color="#87d998" d="M347.8 134.3 349.8 132.8 348.6 132.5 346.6 133.9Z"/><path color="#4ea6f0" d="M415.5 141.6 417.4 142.3 416.2 140.6 414.3 139.9Z"/><path color="#fed974" d="M385.8 128.9 387.7 128.7 386.5 127.6 384.6 127.8Z"/><path color="#e4d166" d="M356 131.2 358 130 356.8 129.4 354.8 130.6Z"/><path color="#e2d166" d="M394 131.1 395.9 131.1 394.7 129.8 392.8 129.7Z"/><path color="#fed974" d="M364.2 129.1 366.2 128.2 365 127.5 363 128.4Z"/><path color="#82d99b" d="M402.2 134.3 404.1 134.6 402.9 133.1 401 132.8Z"/><path color="#fae56f" d="M372.5 128.3 374.4 127.6 373.2 126.7 371.3 127.4Z"/><path color="#51cfc4" d="M342.7 137.1 344.7 135.5 343.5 135.2 341.5 136.9Z"/><path color="#3ec3dc" d="M410.4 138.7 412.3 139.2 411.1 137.6 409.2 137Z"/><path color="#fce271" d="M380.7 128.5 382.6 128.1 381.4 127.1 379.5 127.5Z"/><path color="#aed97d" d="M351 133.3 352.9 131.9 351.7 131.5 349.8 132.8Z"/><path color="#518efd" d="M418.6 144.2 420.6 145 419.4 143.2 417.4 142.3Z"/><path color="#fcd078" d="M388.9 129.9 390.8 129.8 389.6 128.6 387.7 128.7Z"/><path color="#f4ce72" d="M359.2 130.6 361.1 129.5 359.9 128.8 358 130Z"/><path color="#c0d771" d="M397.1 132.5 399.1 132.6 397.8 131.2 395.9 131.1Z"/><path color="#fdde72" d="M367.4 129 369.3 128.2 368.1 127.4 366.2 128.2Z"/><path color="#60d3b9" d="M405.3 136.2 407.3 136.5 406.1 135 404.1 134.6Z"/><path color="#fbe470" d="M375.6 128.6 377.5 128 376.3 127 374.4 127.6Z"/><path color="#6ad6ad" d="M345.9 135.8 347.8 134.3 346.6 133.9 344.7 135.5Z"/><path color="#4cb0ea" d="M413.6 141 415.5 141.6 414.3 139.9 412.3 139.2Z"/><path color="#feda73" d="M383.8 129.3 385.8 128.9 384.6 127.8 382.6 128.1Z"/><path color="#cdd56a" d="M354.1 132.4 356 131.2 354.8 130.6 352.9 131.9Z"/><path color="#ead069" d="M392 131.1 394 131.1 392.8 129.7 390.8 129.8Z"/><path color="#fed178" d="M362.3 130.2 364.2 129.1 363 128.4 361.1 129.5Z"/><path color="#94da8e" d="M400.3 134.1 402.2 134.3 401 132.8 399.1 132.6Z"/><path color="#fce071" d="M370.5 129 372.5 128.3 371.3 127.4 369.3 128.2Z"/><path color="#38c9d1" d="M408.5 138.2 410.4 138.7 409.2 137 407.3 136.5Z"/><path color="#fce071" d="M378.7 129 380.7 128.5 379.5 127.5 377.5 128Z"/><path color="#8cda94" d="M349 134.7 351 133.3 349.8 132.8 347.8 134.3Z"/><path color="#4f9af8" d="M416.7 143.5 418.6 144.2 417.4 142.3 415.5 141.6Z"/><path color="#fed178" d="M387 130.2 388.9 129.9 387.7 128.7 385.8 128.9Z"/><path color="#e4d166" d="M357.2 131.8 359.2 130.6 358 130 356 131.2Z"/><path color="#cdd56a" d="M395.2 132.5 397.1 132.5 395.9 131.1 394 131.1Z"/><path color="#fed775" d="M365.5 129.9 367.4 129 366.2 128.2 364.2 129.1Z"/><path color="#6ad6ad" d="M403.4 135.9 405.3 136.2 404.1 134.6 402.2 134.3Z"/><path color="#fce071" d="M373.7 129.2 375.6 128.6 374.4 127.6 372.5 128.3Z"/><path color="#57d0c0" d="M343.9 137.5 345.9 135.8 344.7 135.5 342.7 137.1Z"/><path color="#49bae6" d="M411.6 140.4 413.6 141 412.3 139.2 410.4 138.7Z"/><path color="#feda73" d="M381.9 129.7 383.8 129.3 382.6 128.1 380.7 128.5Z"/><path color="#b0d87b" d="M352.2 133.8 354.1 132.4 352.9 131.9 351 133.3Z"/><path color="#efcf6d" d="M390.1 131.3 392 131.1 390.8 129.8 388.9 129.9Z"/><path color="#f3cf70" d="M360.4 131.3 362.3 130.2 361.1 129.5 359.2 130.6Z"/><path color="#a5d983" d="M398.3 134 400.3 134.1 399.1 132.6 397.1 132.5Z"/><path color="#feda73" d="M368.6 129.9 370.5 129 369.3 128.2 367.4 129Z"/><path color="#4acdc7" d="M406.5 137.8 408.5 138.2 407.3 136.5 405.3 136.2Z"/><path color="#fdde72" d="M376.8 129.6 378.7 129 377.5 128 375.6 128.6Z"/><path color="#6ed7aa" d="M347.1 136.3 349 134.7 347.8 134.3 345.9 135.8Z"/><path color="#4fa4f1" d="M414.8 142.8 416.7 143.5 415.5 141.6 413.6 141Z"/><path color="#fed278" d="M385 130.5 387 130.2 385.8 128.9 383.8 129.3Z"/><path color="#cdd56a" d="M355.3 133.1 357.2 131.8 356 131.2 354.1 132.4Z"/><path color="#d7d366" d="M393.2 132.5 395.2 132.5 394 131.1 392 131.1Z"/><path color="#fcd078" d="M363.5 131 365.5 129.9 364.2 129.1 362.3 130.2Z"/><path color="#78d8a2" d="M401.5 135.7 403.4 135.9 402.2 134.3 400.3 134.1Z"/><path color="#fedc73" d="M371.7 130 373.7 129.2 372.5 128.3 370.5 129Z"/><path color="#42c1de" d="M409.7 140 411.6 140.4 410.4 138.7 408.5 138.2Z"/><path color="#fed974" d="M380 130.2 381.9 129.7 380.7 128.5 378.7 129Z"/><path color="#8fda92" d="M350.2 135.3 352.2 133.8 351 133.3 349 134.7Z"/><path color="#f3cf70" d="M388.2 131.5 390.1 131.3 388.9 129.9 387 130.2Z"/><path color="#e2d166" d="M358.4 132.5 360.4 131.3 359.2 130.6 357.2 131.8Z"/><path color="#b3d879" d="M396.4 133.9 398.3 134 397.1 132.5 395.2 132.5Z"/><path color="#fed377" d="M366.7 130.8 368.6 129.9 367.4 129 365.5 129.9Z"/><path color="#5bd1be" d="M404.6 137.5 406.5 137.8 405.3 136.2 403.4 135.9Z"/><path color="#feda73" d="M374.9 130.3 376.8 129.6 375.6 128.6 373.7 129.2Z"/><path color="#5bd1be" d="M345.1 137.9 347.1 136.3 345.9 135.8 343.9 137.5Z"/><path color="#4caeeb" d="M412.8 142.3 414.8 142.8 413.6 141 411.6 140.4Z"/><path color="#fed278" d="M383.1 130.9 385 130.5 383.8 129.3 381.9 129.7Z"/><path color="#b0d87b" d="M353.4 134.4 355.3 133.1 354.1 132.4 352.2 133.8Z"/><path color="#ddd265" d="M391.3 132.7 393.2 132.5 392 131.1 390.1 131.3Z"/><path color="#efcf6d" d="M361.6 132.1 363.5 131 362.3 130.2 360.4 131.3Z"/><path color="#87d998" d="M399.5 135.6 401.5 135.7 400.3 134.1 398.3 134Z"/><path color="#fed676" d="M369.8 130.8 371.7 130 370.5 129 368.6 129.9Z"/><path color="#37c7d6" d="M407.7 139.6 409.7 140 408.5 138.2 406.5 137.8Z"/><path color="#fed775" d="M378 130.8 380 130.2 378.7 129 376.8 129.6Z"/><path color="#70d7a9" d="M348.3 136.8 350.2 135.3 349 134.7 347.1 136.3Z"/><path color="#f4ce72" d="M386.2 131.8 388.2 131.5 387 130.2 385 130.5Z"/><path color="#cbd56b" d="M356.5 133.8 358.4 132.5 357.2 131.8 355.3 133.1Z"/><path color="#bed773" d="M394.4 134 396.4 133.9 395.2 132.5 393.2 132.5Z"/><path color="#f8cf75" d="M364.7 131.8 366.7 130.8 365.5 129.9 363.5 131Z"/><path color="#64d4b5" d="M402.7 137.3 404.6 137.5 403.4 135.9 401.5 135.7Z"/><path color="#fed676" d="M372.9 131.1 374.9 130.3 373.7 129.2 371.7 130Z"/><path color="#4ab6e8" d="M410.9 141.8 412.8 142.3 411.6 140.4 409.7 140Z"/><path color="#fed178" d="M381.2 131.4 383.1 130.9 381.9 129.7 380 130.2Z"/><path color="#8fda92" d="M351.4 135.9 353.4 134.4 352.2 133.8 350.2 135.3Z"/><path color="#e2d166" d="M389.4 132.9 391.3 132.7 390.1 131.3 388.2 131.5Z"/><path color="#ddd265" d="M359.6 133.3 361.6 132.1 360.4 131.3 358.4 132.5Z"/><path color="#94da8e" d="M397.6 135.5 399.5 135.6 398.3 134 396.4 133.9Z"/><path color="#fcd078" d="M367.9 131.8 369.8 130.8 368.6 129.9 366.7 130.8Z"/><path color="#3ecbcd" d="M405.8 139.3 407.7 139.6 406.5 137.8 404.6 137.5Z"/><path color="#fed377" d="M376.1 131.4 378 130.8 376.8 129.6 374.9 130.3Z"/><path color="#5cd1bc" d="M346.4 138.5 348.3 136.8 347.1 136.3 345.1 137.9Z"/><path color="#f4ce72" d="M384.3 132.2 386.2 131.8 385 130.5 383.1 130.9Z"/><path color="#aed97d" d="M354.6 135.1 356.5 133.8 355.3 133.1 353.4 134.4Z"/><path color="#c6d66e" d="M392.5 134.2 394.4 134 393.2 132.5 391.3 132.7Z"/><path color="#ead069" d="M362.8 133 364.7 131.8 363.5 131 361.6 132.1Z"/><path color="#6cd6ac" d="M400.7 137.2 402.7 137.3 401.5 135.7 399.5 135.6Z"/><path color="#fdd178" d="M371 131.9 372.9 131.1 371.7 130 369.8 130.8Z"/><path color="#46bde3" d="M408.9 141.4 410.9 141.8 409.7 140 407.7 139.6Z"/><path color="#fcd078" d="M379.2 132 381.2 131.4 380 130.2 378 130.8Z"/><path color="#70d7a9" d="M349.5 137.4 351.4 135.9 350.2 135.3 348.3 136.8Z"/><path color="#e4d166" d="M387.4 133.2 389.4 132.9 388.2 131.5 386.2 131.8Z"/><path color="#c6d66e" d="M357.7 134.6 359.6 133.3 358.4 132.5 356.5 133.8Z"/><path color="#a0d986" d="M395.6 135.6 397.6 135.5 396.4 133.9 394.4 134Z"/><path color="#f1cf6e" d="M365.9 132.8 367.9 131.8 366.7 130.8 364.7 131.8Z"/><path color="#4fcec5" d="M403.9 139.1 405.8 139.3 404.6 137.5 402.7 137.3Z"/><path color="#fcd078" d="M374.1 132.2 376.1 131.4 374.9 130.3 372.9 131.1Z"/><path color="#f3cf70" d="M382.4 132.7 384.3 132.2 383.1 130.9 381.2 131.4Z"/><path color="#8cda94" d="M352.6 136.6 354.6 135.1 353.4 134.4 351.4 135.9Z"/><path color="#cbd56b" d="M390.6 134.4 392.5 134.2 391.3 132.7 389.4 132.9Z"/><path color="#d7d366" d="M360.8 134.1 362.8 133 361.6 132.1 359.6 133.3Z"/><path color="#76d8a4" d="M398.8 137.2 400.7 137.2 399.5 135.6 397.6 135.5Z"/><path color="#f4ce72" d="M369.1 132.8 371 131.9 369.8 130.8 367.9 131.8Z"/><path color="#3ec3dc" d="M407 141.1 408.9 141.4 407.7 139.6 405.8 139.3Z"/><path color="#f8cf75" d="M377.3 132.7 379.2 132 378 130.8 376.1 131.4Z"/><path color="#5cd1bc" d="M347.6 139.1 349.5 137.4 348.3 136.8 346.4 138.5Z"/><path color="#e4d166" d="M385.5 133.6 387.4 133.2 386.2 131.8 384.3 132.2Z"/><path color="#a8d981" d="M355.8 135.9 357.7 134.6 356.5 133.8 354.6 135.1Z"/><path color="#a8d981" d="M393.7 135.7 395.6 135.6 394.4 134 392.5 134.2Z"/><path color="#e2d166" d="M364 133.9 365.9 132.8 364.7 131.8 362.8 133Z"/><path color="#5bd1be" d="M401.9 139 403.9 139.1 402.7 137.3 400.7 137.2Z"/><path color="#f4ce72" d="M372.2 133 374.1 132.2 372.9 131.1 371 131.9Z"/><path color="#efcf6d" d="M380.4 133.3 382.4 132.7 381.2 131.4 379.2 132Z"/><path color="#6ed7aa" d="M350.7 138.1 352.6 136.6 351.4 135.9 349.5 137.4Z"/><path color="#cdd56a" d="M388.6 134.7 390.6 134.4 389.4 132.9 387.4 133.2Z"/><path color="#bed773" d="M358.9 135.4 360.8 134.1 359.6 133.3 357.7 134.6Z"/><path color="#80d99d" d="M396.9 137.3 398.8 137.2 397.6 135.5 395.6 135.6Z"/><path color="#e8d068" d="M367.1 133.9 369.1 132.8 367.9 131.8 365.9 132.8Z"/><path color="#37c7d5" d="M405.1 140.9 407 141.1 405.8 139.3 403.9 139.1Z"/><path color="#f1cf6e" d="M375.3 133.4 377.3 132.7 376.1 131.4 374.1 132.2Z"/><path color="#e2d166" d="M383.6 134.1 385.5 133.6 384.3 132.2 382.4 132.7Z"/><path color="#87d998" d="M353.8 137.4 355.8 135.9 354.6 135.1 352.6 136.6Z"/><path color="#aed97d" d="M391.8 136 393.7 135.7 392.5 134.2 390.6 134.4Z"/><path color="#cdd56a" d="M362 135.1 364 133.9 362.8 133 360.8 134.1Z"/><path color="#61d3b7" d="M400 138.9 401.9 139 400.7 137.2 398.8 137.2Z"/><path color="#ead069" d="M370.3 134 372.2 133 371 131.9 369.1 132.8Z"/><path color="#ead069" d="M378.5 134 380.4 133.3 379.2 132 377.3 132.7Z"/><path color="#5bd1be" d="M348.8 139.8 350.7 138.1 349.5 137.4 347.6 139.1Z"/><path color="#cdd56a" d="M386.7 135.1 388.6 134.7 387.4 133.2 385.5 133.6Z"/><path color="#a0d986" d="M357 136.8 358.9 135.4 357.7 134.6 355.8 135.9Z"/><path color="#87d998" d="M394.9 137.4 396.9 137.3 395.6 135.6 393.7 135.7Z"/><path color="#d7d366" d="M365.2 135 367.1 133.9 365.9 132.8 364 133.9Z"/><path color="#3ccace" d="M403.1 140.8 405.1 140.9 403.9 139.1 401.9 139Z"/><path color="#e8d068" d="M373.4 134.3 375.3 133.4 374.1 132.2 372.2 133Z"/><path color="#ddd265" d="M381.6 134.7 383.6 134.1 382.4 132.7 380.4 133.3Z"/><path color="#6ad6ad" d="M351.9 138.9 353.8 137.4 352.6 136.6 350.7 138.1Z"/><path color="#b0d87b" d="M389.8 136.3 391.8 136 390.6 134.4 388.6 134.7Z"/><path color="#b3d879" d="M360.1 136.4 362 135.1 360.8 134.1 358.9 135.4Z"/><path color="#66d5b2" d="M398.1 139 400 138.9 398.8 137.2 396.9 137.3Z"/><path color="#dbd266" d="M368.3 135 370.3 134 369.1 132.8 367.1 133.9Z"/><path color="#e2d166" d="M376.5 134.7 378.5 134 377.3 132.7 375.3 133.4Z"/><path color="#cbd56b" d="M384.8 135.6 386.7 135.1 385.5 133.6 383.6 134.1Z"/><path color="#80d99d" d="M355 138.3 357 136.8 355.8 135.9 353.8 137.4Z"/><path color="#8cda94" d="M393 137.6 394.9 137.4 393.7 135.7 391.8 136Z"/><path color="#c0d771" d="M363.3 136.2 365.2 135 364 133.9 362 135.1Z"/><path color="#48cdc8" d="M401.2 140.8 403.1 140.8 401.9 139 400 138.9Z"/><path color="#dbd266" d="M371.5 135.2 373.4 134.3 372.2 133 370.3 134Z"/><path color="#d7d366" d="M379.7 135.4 381.6 134.7 380.4 133.3 378.5 134Z"/><path color="#57d0c0" d="M350 140.6 351.9 138.9 350.7 138.1 348.8 139.8Z"/><path color="#b0d87b" d="M387.9 136.7 389.8 136.3 388.6 134.7 386.7 135.1Z"/><path color="#94da8e" d="M358.2 137.8 360.1 136.4 358.9 135.4 357 136.8Z"/><path color="#6ad6ad" d="M396.1 139.2 398.1 139 396.9 137.3 394.9 137.4Z"/><path color="#c8d56d" d="M366.4 136.1 368.3 135 367.1 133.9 365.2 135Z"/><path color="#d7d366" d="M374.6 135.6 376.5 134.7 375.3 133.4 373.4 134.3Z"/><path color="#c6d66e" d="M382.8 136.2 384.8 135.6 383.6 134.1 381.6 134.7Z"/><path color="#66d5b2" d="M353.1 139.8 355 138.3 353.8 137.4 351.9 138.9Z"/><path color="#8fda92" d="M391 138 393 137.6 391.8 136 389.8 136.3Z"/><path color="#a5d983" d="M361.3 137.5 363.3 136.2 362 135.1 360.1 136.4Z"/><path color="#51cfc4" d="M399.3 140.9 401.2 140.8 400 138.9 398.1 139Z"/><path color="#cbd56b" d="M369.5 136.2 371.5 135.2 370.3 134 368.3 135Z"/><path color="#cdd56a" d="M377.8 136.1 379.7 135.4 378.5 134 376.5 134.7Z"/><path color="#aed97d" d="M386 137.2 387.9 136.7 386.7 135.1 384.8 135.6Z"/><path color="#76d8a4" d="M356.2 139.2 358.2 137.8 357 136.8 355 138.3Z"/><path color="#6ed7aa" d="M394.2 139.4 396.1 139.2 394.9 137.4 393 137.6Z"/><path color="#b0d87b" d="M364.5 137.3 366.4 136.1 365.2 135 363.3 136.2Z"/><path color="#c8d56d" d="M372.7 136.5 374.6 135.6 373.4 134.3 371.5 135.2Z"/><path color="#bed773" d="M380.9 136.9 382.8 136.2 381.6 134.7 379.7 135.4Z"/><path color="#51cfc4" d="M351.2 141.5 353.1 139.8 351.9 138.9 350 140.6Z"/><path color="#8fda92" d="M389.1 138.4 391 138 389.8 136.3 387.9 136.7Z"/><path color="#87d998" d="M359.4 138.8 361.3 137.5 360.1 136.4 358.2 137.8Z"/><path color="#57d0c0" d="M397.3 141 399.3 140.9 398.1 139 396.1 139.2Z"/><path color="#b6d878" d="M367.6 137.3 369.5 136.2 368.3 135 366.4 136.1Z"/><path color="#c0d771" d="M375.8 137 377.8 136.1 376.5 134.7 374.6 135.6Z"/><path color="#a8d981" d="M384 137.8 386 137.2 384.8 135.6 382.8 136.2Z"/><path color="#61d3b7" d="M354.3 140.8 356.2 139.2 355 138.3 353.1 139.8Z"/><path color="#70d7a9" d="M392.2 139.7 394.2 139.4 393 137.6 391 138Z"/><path color="#94da8e" d="M362.5 138.6 364.5 137.3 363.3 136.2 361.3 137.5Z"/><path color="#b6d878" d="M370.7 137.6 372.7 136.5 371.5 135.2 369.5 136.2Z"/><path color="#b3d879" d="M379 137.6 380.9 136.9 379.7 135.4 377.8 136.1Z"/><path color="#8cda94" d="M387.2 138.9 389.1 138.4 387.9 136.7 386 137.2Z"/><path color="#6cd6ac" d="M357.4 140.3 359.4 138.8 358.2 137.8 356.2 139.2Z"/><path color="#5bd1be" d="M395.4 141.2 397.3 141 396.1 139.2 394.2 139.4Z"/><path color="#9dda88" d="M365.7 138.5 367.6 137.3 366.4 136.1 364.5 137.3Z"/><path color="#b0d87b" d="M373.9 137.9 375.8 137 374.6 135.6 372.7 136.5Z"/><path color="#a0d986" d="M382.1 138.5 384 137.8 382.8 136.2 380.9 136.9Z"/><path color="#48cdc8" d="M352.4 142.4 354.3 140.8 353.1 139.8 351.2 141.5Z"/><path color="#70d7a9" d="M390.3 140.1 392.2 139.7 391 138 389.1 138.4Z"/><path color="#78d8a2" d="M360.6 140 362.5 138.6 361.3 137.5 359.4 138.8Z"/><path color="#a0d986" d="M368.8 138.7 370.7 137.6 369.5 136.2 367.6 137.3Z"/><path color="#a5d983" d="M377 138.5 379 137.6 377.8 136.1 375.8 137Z"/><path color="#87d998" d="M385.2 139.5 387.2 138.9 386 137.2 384 137.8Z"/><path color="#5bd1be" d="M355.5 141.8 357.4 140.3 356.2 139.2 354.3 140.8Z"/><path color="#5cd1bc" d="M393.4 141.6 395.4 141.2 394.2 139.4 392.2 139.7Z"/><path color="#82d99b" d="M363.7 139.8 365.7 138.5 364.5 137.3 362.5 138.6Z"/><path color="#9dda88" d="M371.9 139 373.9 137.9 372.7 136.5 370.7 137.6Z"/><path color="#94da8e" d="M380.2 139.2 382.1 138.5 380.9 136.9 379 137.6Z"/><path color="#6ed7aa" d="M388.4 140.6 390.3 140.1 389.1 138.4 387.2 138.9Z"/><path color="#64d4b5" d="M358.6 141.4 360.6 140 359.4 138.8 357.4 140.3Z"/><path color="#87d998" d="M366.9 139.9 368.8 138.7 367.6 137.3 365.7 138.5Z"/><path color="#94da8e" d="M375.1 139.4 377 138.5 375.8 137 373.9 137.9Z"/><path color="#80d99d" d="M383.3 140.1 385.2 139.5 384 137.8 382.1 138.5Z"/><path color="#3ccace" d="M353.6 143.5 355.5 141.8 354.3 140.8 352.4 142.4Z"/><path color="#5cd1bc" d="M391.5 142 393.4 141.6 392.2 139.7 390.3 140.1Z"/><path color="#6ad6ad" d="M361.8 141.2 363.7 139.8 362.5 138.6 360.6 140Z"/><path color="#87d998" d="M370 140.1 371.9 139 370.7 137.6 368.8 138.7Z"/><path color="#87d998" d="M378.2 140.1 380.2 139.2 379 137.6 377 138.5Z"/><path color="#6ad6ad" d="M386.4 141.2 388.4 140.6 387.2 138.9 385.2 139.5Z"/><path color="#4fcec5" d="M356.7 143 358.6 141.4 357.4 140.3 355.5 141.8Z"/><path color="#70d7a9" d="M364.9 141.1 366.9 139.9 365.7 138.5 363.7 139.8Z"/><path color="#82d99b" d="M373.1 140.4 375.1 139.4 373.9 137.9 371.9 139Z"/><path color="#76d8a4" d="M381.4 140.9 383.3 140.1 382.1 138.5 380.2 139.2Z"/><path color="#5bd1be" d="M389.6 142.5 391.5 142 390.3 140.1 388.4 140.6Z"/><path color="#5bd1be" d="M359.8 142.7 361.8 141.2 360.6 140 358.6 141.4Z"/><path color="#72d7a7" d="M368.1 141.3 370 140.1 368.8 138.7 366.9 139.9Z"/><path color="#78d8a2" d="M376.3 141 378.2 140.1 377 138.5 375.1 139.4Z"/><path color="#66d5b2" d="M384.5 141.9 386.4 141.2 385.2 139.5 383.3 140.1Z"/><path color="#37c7d5" d="M354.8 144.6 356.7 143 355.5 141.8 353.6 143.5Z"/><path color="#60d3b9" d="M363 142.5 364.9 141.1 363.7 139.8 361.8 141.2Z"/><path color="#70d7a9" d="M371.2 141.6 373.1 140.4 371.9 139 370 140.1Z"/><path color="#6cd6ac" d="M379.4 141.7 381.4 140.9 380.2 139.2 378.2 140.1Z"/><path color="#57d0c0" d="M387.6 143.1 389.6 142.5 388.4 140.6 386.4 141.2Z"/><path color="#3ecbcd" d="M357.9 144.2 359.8 142.7 358.6 141.4 356.7 143Z"/><path color="#62d3b6" d="M366.1 142.5 368.1 141.3 366.9 139.9 364.9 141.1Z"/><path color="#6ad6ad" d="M374.3 142 376.3 141 375.1 139.4 373.1 140.4Z"/><path color="#61d3b7" d="M382.6 142.6 384.5 141.9 383.3 140.1 381.4 140.9Z"/><path color="#4acdc7" d="M361.1 144 363 142.5 361.8 141.2 359.8 142.7Z"/><path color="#62d3b6" d="M369.3 142.8 371.2 141.6 370 140.1 368.1 141.3Z"/><path color="#64d4b5" d="M377.5 142.7 379.4 141.7 378.2 140.1 376.3 141Z"/><path color="#51cfc4" d="M385.7 143.7 387.6 143.1 386.4 141.2 384.5 141.9Z"/><path color="#3ec3dc" d="M356 145.8 357.9 144.2 356.7 143 354.8 144.6Z"/><path color="#51cfc4" d="M364.2 143.9 366.1 142.5 364.9 141.1 363 142.5Z"/><path color="#60d3b9" d="M372.4 143.1 374.3 142 373.1 140.4 371.2 141.6Z"/><path color="#5bd1be" d="M380.6 143.5 382.6 142.6 381.4 140.9 379.4 141.7Z"/><path color="#37c7d6" d="M359.1 145.5 361.1 144 359.8 142.7 357.9 144.2Z"/><path color="#53cfc2" d="M367.3 144 369.3 142.8 368.1 141.3 366.1 142.5Z"/><path color="#5bd1be" d="M375.6 143.7 377.5 142.7 376.3 141 374.3 142Z"/><path color="#48cdc8" d="M383.8 144.5 385.7 143.7 384.5 141.9 382.6 142.6Z"/><path color="#38c9d1" d="M362.3 145.4 364.2 143.9 363 142.5 361.1 144Z"/><path color="#51cfc4" d="M370.5 144.3 372.4 143.1 371.2 141.6 369.3 142.8Z"/><path color="#4fcec5" d="M378.7 144.4 380.6 143.5 379.4 141.7 377.5 142.7Z"/><path color="#46bde3" d="M357.2 147.2 359.1 145.5 357.9 144.2 356 145.8Z"/><path color="#3bcacf" d="M365.4 145.4 367.3 144 366.1 142.5 364.2 143.9Z"/><path color="#4acdc7" d="M373.6 144.8 375.6 143.7 374.3 142 372.4 143.1Z"/><path color="#3ccace" d="M381.8 145.3 383.8 144.5 382.6 142.6 380.6 143.5Z"/><path color="#42c1de" d="M360.3 146.9 362.3 145.4 361.1 144 359.1 145.5Z"/><path color="#3bcacf" d="M368.5 145.6 370.5 144.3 369.3 142.8 367.3 144Z"/><path color="#3ecbcd" d="M376.8 145.4 378.7 144.4 377.5 142.7 375.6 143.7Z"/><path color="#3ec3dc" d="M363.5 146.9 365.4 145.4 364.2 143.9 362.3 145.4Z"/><path color="#38c9d1" d="M371.7 146 373.6 144.8 372.4 143.1 370.5 144.3Z"/><path color="#37c7d5" d="M379.9 146.3 381.8 145.3 380.6 143.5 378.7 144.4Z"/><path color="#4ab6e8" d="M358.4 148.6 360.3 146.9 359.1 145.5 357.2 147.2Z"/><path color="#3cc4db" d="M366.6 147 368.5 145.6 367.3 144 365.4 145.4Z"/><path color="#37c7d6" d="M374.8 146.6 376.8 145.4 375.6 143.7 373.6 144.8Z"/><path color="#49bae6" d="M361.5 148.4 363.5 146.9 362.3 145.4 360.3 146.9Z"/><path color="#3ec3dc" d="M369.7 147.3 371.7 146 370.5 144.3 368.5 145.6Z"/><path color="#3ec3dc" d="M378 147.3 379.9 146.3 378.7 144.4 376.8 145.4Z"/><path color="#48bbe5" d="M364.7 148.5 366.6 147 365.4 145.4 363.5 146.9Z"/><path color="#42c1de" d="M372.9 147.8 374.8 146.6 373.6 144.8 371.7 146Z"/><path color="#4caeeb" d="M359.6 150.1 361.5 148.4 360.3 146.9 358.4 148.6Z"/><path color="#48bbe5" d="M367.8 148.7 369.7 147.3 368.5 145.6 366.6 147Z"/><path color="#46bde3" d="M376 148.4 378 147.3 376.8 145.4 374.8 146.6Z"/><path color="#4cb0ea" d="M362.7 150 364.7 148.5 363.5 146.9 361.5 148.4Z"/><path color="#49bae6" d="M370.9 149 372.9 147.8 371.7 146 369.7 147.3Z"/><path color="#4cb1ea" d="M365.9 150.1 367.8 148.7 366.6 147 364.7 148.5Z"/><path color="#4ab6e8" d="M374.1 149.6 376 148.4 374.8 146.6 372.9 147.8Z"/><path color="#4fa4f1" d="M360.8 151.6 362.7 150 361.5 148.4 359.6 150.1Z"/><path color="#4cb0ea" d="M369 150.4 370.9 149 369.7 147.3 367.8 148.7Z"/><path color="#4ea6f0" d="M363.9 151.7 365.9 150.1 364.7 148.5 362.7 150Z"/><path color="#4caeeb" d="M372.1 150.9 374.1 149.6 372.9 147.8 370.9 149Z"/><path color="#4ea6f0" d="M367.1 151.9 369 150.4 367.8 148.7 365.9 150.1Z"/><path color="#4f9af8" d="M362 153.3 363.9 151.7 362.7 150 360.8 151.6Z"/><path color="#4fa4f1" d="M370.2 152.3 372.1 150.9 370.9 149 369 150.4Z"/><path color="#4f9bf8" d="M365.1 153.4 367.1 151.9 365.9 150.1 363.9 151.7Z"/><path color="#4f9af8" d="M368.3 153.7 370.2 152.3 369 150.4 367.1 151.9Z"/><path color="#518efd" d="M363.2 155.1 365.1 153.4 363.9 151.7 362 153.3Z"/><path color="#518efd" d="M366.3 155.3 368.3 153.7 367.1 151.9 365.1 153.4Z"/><path color="#5882ff" d="M364.4 156.9 366.3 155.3 365.1 153.4 363.2 155.1Z"/></g><polyline points="328.3,120.4 364.4,137.6 422.5,126.6" fill="none" stroke="#8c8c8c" stroke-width="0.7"/><line x1="364.4" y1="156.9" x2="364.4" y2="137.6" stroke="#8c8c8c" stroke-width="0.7"/><polyline points="328.3,139.7 364.4,156.9 422.5,145.9" fill="none" stroke="#8c8c8c" stroke-width="0.7"/><line x1="328.3" y1="139.7" x2="328.3" y2="120.4" stroke="#8c8c8c" stroke-width="0.7"/><line x1="422.5" y1="145.9" x2="422.5" y2="126.6" stroke="#8c8c8c" stroke-width="0.7"/><text x="325.4" y="125.9" font-size="8.5" fill="#262626" stroke="#262626" stroke-width="0.1" text-anchor="end">5</text><text x="325.4" y="140.5" font-size="8.5" fill="#262626" stroke="#262626" stroke-width="0.1" text-anchor="end">0</text><text x="326.1" y="148.6" font-size="8.5" fill="#262626" stroke="#262626" stroke-width="0.1" text-anchor="end">0.9</text><text x="342.8" y="157.8" font-size="8.0" fill="#262626" stroke="#262626" stroke-width="0.1" text-anchor="end">0</text><text x="359.5" y="166.3" font-size="8.0" fill="#262626" stroke="#262626" stroke-width="0.1" text-anchor="end">-0.9</text><text x="384.6" y="167" font-size="8.0" fill="#262626" stroke="#262626" stroke-width="0.1" text-anchor="end">-0.9</text><text x="402.1" y="161.9" font-size="8.0" fill="#262626" stroke="#262626" stroke-width="0.1" text-anchor="end">0</text><text x="435.9" y="157.3" font-size="8.0" fill="#262626" stroke="#262626" stroke-width="0.1" text-anchor="end">0.9</text><polyline points="329.8,215.6 329.4,215.1" fill="none" stroke="#b0c7ff" stroke-width="0.45"/><polyline points="421,220.4 421.4,220.9" fill="none" stroke="#b0c7ff" stroke-width="0.45"/><polyline points="331.3,216.3 330.8,215.6 330.5,215.3 329.9,214.6" fill="none" stroke="#acccfd" stroke-width="0.45"/><polyline points="419.5,219.7 420,220.4 420.3,220.7 420.9,221.4" fill="none" stroke="#acccfd" stroke-width="0.45"/><polyline points="332.8,217 332.4,216.5 332.1,216.1 331.6,215.5 331.3,215 330.8,214.4" fill="none" stroke="#abd1fa" stroke-width="0.45"/><polyline points="418,219 418.4,219.5 418.7,219.9 419.2,220.5 419.5,221 420,221.6" fill="none" stroke="#abd1fa" stroke-width="0.45"/><polyline points="334.3,217.8 333.8,217.1 333.6,216.7 333,216 332.8,215.7 332.2,215 331.9,214.6" fill="none" stroke="#a9d5f7" stroke-width="0.45"/><polyline points="416.5,218.2 417,218.9 417.2,219.3 417.8,220 418,220.3 418.6,221 418.9,221.4" fill="none" stroke="#a9d5f7" stroke-width="0.45"/><polyline points="335.8,218.5 335.5,217.9 335.2,217.5 334.7,216.9 334.5,216.5 334,215.8 333.7,215.5 333.1,214.8 332.8,214.4" fill="none" stroke="#a7d9f4" stroke-width="0.45"/><polyline points="415,217.5 415.3,218.1 415.6,218.5 416.1,219.1 416.3,219.5 416.8,220.2 417.1,220.5 417.7,221.2 418,221.6" fill="none" stroke="#a7d9f4" stroke-width="0.45"/><polyline points="337.3,219.2 336.9,218.5 336.6,218.1 336.2,217.4 335.9,217.1 335.4,216.4 335.1,216 334.6,215.3 334.3,215 333.7,214.3 333.4,213.9" fill="none" stroke="#a4ddf2" stroke-width="0.45"/><polyline points="413.5,216.8 413.9,217.5 414.2,217.9 414.6,218.6 414.9,218.9 415.4,219.6 415.7,220 416.2,220.7 416.5,221 417.1,221.7 417.4,222.1" fill="none" stroke="#a4ddf2" stroke-width="0.45"/><polyline points="338.8,219.9 338.5,219.4 338.3,219 337.9,218.3 337.6,217.9 337.1,217.2 336.9,216.9 336.4,216.2 336.1,215.8 335.5,215.1 335.3,214.8 334.7,214.1 334.4,213.8" fill="none" stroke="#9fe0ee" stroke-width="0.45"/><polyline points="412,216.1 412.3,216.6 412.5,217 412.9,217.7 413.2,218.1 413.7,218.8 413.9,219.1 414.4,219.8 414.7,220.2 415.3,220.9 415.5,221.2 416.1,221.9 416.4,222.2" fill="none" stroke="#9fe0ee" stroke-width="0.45"/><polyline points="340.3,220.6 339.9,219.9 339.7,219.5 339.3,218.9 339.1,218.5 338.7,217.9 338.4,217.4 338.1,217 337.6,216.3 337.3,216 336.8,215.3 336.5,214.9 335.9,214.3 335.6,213.8" fill="none" stroke="#99e3e9" stroke-width="0.45"/><polyline points="410.5,215.4 410.9,216.1 411.1,216.5 411.5,217.1 411.7,217.5 412.1,218.1 412.4,218.6 412.7,219 413.2,219.7 413.5,220 414,220.7 414.3,221.1 414.9,221.7 415.2,222.2" fill="none" stroke="#99e3e9" stroke-width="0.45"/><polyline points="341.8,221.3 341.6,220.8 341.4,220.4 341,219.7 340.8,219.3 340.4,218.7 340.1,218.3 339.8,217.8 339.4,217.2 339.1,216.8 338.6,216.1 338.4,215.8 337.8,215.1 337.5,214.8 336.9,214.1 336.6,213.7" fill="none" stroke="#a0e5e3" stroke-width="0.45"/><polyline points="409,214.7 409.2,215.2 409.4,215.6 409.8,216.3 410,216.7 410.4,217.3 410.7,217.7 411,218.2 411.4,218.8 411.7,219.2 412.2,219.9 412.4,220.2 413,220.9 413.3,221.2 413.9,221.9 414.2,222.3" fill="none" stroke="#a0e5e3" stroke-width="0.45"/><polyline points="343.3,222.1 343,221.3 342.8,221 342.6,220.4 342.3,219.9 342.1,219.5 341.6,218.8 341.4,218.4 341,217.7 340.7,217.4 340.3,216.7 339.9,216.3 339.5,215.7 339.1,215.3 338.6,214.7 338.2,214.2 337.6,213.5 337.3,213.2" fill="none" stroke="#a9e7dd" stroke-width="0.45"/><polyline points="407.5,213.9 407.8,214.7 408,215 408.2,215.6 408.5,216.1 408.7,216.5 409.2,217.2 409.4,217.6 409.8,218.3 410.1,218.6 410.5,219.3 410.9,219.7 411.3,220.3 411.7,220.7 412.2,221.3 412.6,221.8 413.2,222.5 413.5,222.8" fill="none" stroke="#a9e7dd" stroke-width="0.45"/><polyline points="344.8,222.8 344.6,222.2 344.5,221.9 344.2,221.2 344,220.7 343.8,220.3 343.4,219.7 343.2,219.3 342.8,218.6 342.5,218.2 342.1,217.6 341.8,217.1 341.4,216.7 341,216.1 340.7,215.6 340.2,215.1 339.8,214.6 339.3,214 338.7,213.4 338.3,213" fill="none" stroke="#aee9d6" stroke-width="0.45"/><polyline points="406,213.2 406.2,213.8 406.3,214.1 406.6,214.8 406.8,215.3 407,215.7 407.4,216.3 407.6,216.7 408,217.4 408.3,217.8 408.7,218.4 409,218.9 409.4,219.3 409.8,219.9 410.1,220.4 410.6,220.9 411,221.4 411.5,222 412.1,222.6 412.5,223" fill="none" stroke="#aee9d6" stroke-width="0.45"/><polyline points="346.3,223.5 346.1,222.7 346,222.4 345.8,221.9 345.5,221.3 345.3,220.9 345,220.3 344.8,219.8 344.6,219.4 344.1,218.7 343.9,218.4 343.4,217.6 343.2,217.3 342.7,216.6 342.4,216.2 341.9,215.6 341.6,215.2 341,214.5 340.7,214.2 340,213.5 339.7,213.1" fill="none" stroke="#b6eacf" stroke-width="0.45"/><polyline points="404.5,212.5 404.7,213.3 404.8,213.6 405,214.1 405.3,214.7 405.5,215.1 405.8,215.7 406,216.2 406.2,216.6 406.7,217.3 406.9,217.6 407.4,218.4 407.6,218.7 408.1,219.4 408.4,219.8 408.9,220.4 409.2,220.8 409.8,221.5 410.1,221.8 410.8,222.5 411.1,222.9" fill="none" stroke="#b6eacf" stroke-width="0.45"/><polyline points="347.8,224.2 347.7,223.6 347.6,223.3 347.4,222.7 347.2,222.1 347,221.8 346.8,221.1 346.6,220.7 346.4,220.3 346,219.6 345.8,219.2 345.4,218.5 345.1,218.1 344.8,217.6 344.4,217.1 344.1,216.6 343.6,216 343.2,215.6 342.7,215 342.3,214.5 341.8,213.9 341.2,213.3 340.8,212.9" fill="none" stroke="#c0ebc6" stroke-width="0.45"/><polyline points="403,211.8 403.1,212.4 403.2,212.7 403.4,213.3 403.6,213.9 403.8,214.2 404,214.9 404.2,215.3 404.4,215.7 404.8,216.4 405,216.8 405.4,217.5 405.7,217.9 406,218.4 406.4,218.9 406.7,219.4 407.2,220 407.6,220.4 408.1,221 408.5,221.5 409,222.1 409.6,222.7 410,223.1" fill="none" stroke="#c0ebc6" stroke-width="0.45"/><polyline points="349.4,224.9 349.2,224.2 349.1,223.8 349,223.4 348.8,222.7 348.6,222.3 348.5,221.9 348.2,221.2 348,220.8 347.8,220.3 347.5,219.7 347.3,219.3 346.8,218.6 346.6,218.2 346.2,217.6 345.9,217.2 345.5,216.6 345.1,216.1 344.7,215.6 344.2,215.1 343.7,214.5 343.3,214.1 342.7,213.4 342.3,213 341.6,212.4" fill="none" stroke="#ccebbc" stroke-width="0.45"/><polyline points="401.4,211.1 401.6,211.8 401.7,212.2 401.8,212.6 402,213.3 402.2,213.7 402.3,214.1 402.6,214.8 402.8,215.2 403,215.7 403.3,216.3 403.5,216.7 404,217.4 404.2,217.8 404.6,218.4 404.9,218.8 405.3,219.4 405.7,219.9 406.1,220.4 406.6,220.9 407.1,221.5 407.5,221.9 408.1,222.6 408.5,223 409.2,223.6" fill="none" stroke="#ccebbc" stroke-width="0.45"/><polyline points="350.9,225.6 350.8,225.1 350.7,224.7 350.6,224.2 350.5,223.5 350.4,223.1 350.2,222.8 350,222 349.8,221.6 349.7,221.2 349.4,220.5 349.2,220.2 348.9,219.5 348.6,219.1 348.4,218.7 347.9,218 347.7,217.6 347.2,216.9 346.9,216.6 346.4,215.9 346.1,215.5 345.5,214.8 345.2,214.5 344.5,213.8 344.1,213.4 343.5,212.8 342.8,212.2" fill="none" stroke="#d9e9b3" stroke-width="0.45"/><polyline points="399.9,210.4 400,210.9 400.1,211.3 400.2,211.8 400.3,212.5 400.4,212.9 400.6,213.2 400.8,214 401,214.4 401.1,214.8 401.4,215.5 401.6,215.8 401.9,216.5 402.2,216.9 402.4,217.3 402.9,218 403.1,218.4 403.6,219.1 403.9,219.4 404.4,220.1 404.7,220.5 405.3,221.2 405.6,221.5 406.3,222.2 406.7,222.6 407.3,223.2 408,223.8" fill="none" stroke="#d9e9b3" stroke-width="0.45"/><polyline points="352.4,226.4 352.3,225.7 352.3,225.2 352.2,224.8 352.1,224.3 352,223.6 351.9,223.3 351.8,222.9 351.6,222.1 351.4,221.7 351.3,221.3 351,220.6 350.8,220.3 350.5,219.7 350.2,219.2 350,218.8 349.6,218.1 349.3,217.7 348.8,217 348.6,216.7 348,216 347.7,215.6 347.1,214.9 346.8,214.6 346.2,213.9 345.8,213.6 345.1,212.9 344.5,212.3 344.1,211.9" fill="none" stroke="#e4e7ac" stroke-width="0.45"/><polyline points="398.4,209.6 398.5,210.3 398.5,210.8 398.6,211.2 398.7,211.7 398.8,212.4 398.9,212.7 399,213.1 399.2,213.9 399.4,214.3 399.5,214.7 399.8,215.4 400,215.7 400.3,216.3 400.6,216.8 400.8,217.2 401.2,217.9 401.5,218.3 402,219 402.2,219.3 402.8,220 403.1,220.4 403.7,221.1 404,221.4 404.6,222.1 405,222.4 405.7,223.1 406.3,223.7 406.7,224.1" fill="none" stroke="#e4e7ac" stroke-width="0.45"/><polyline points="353.9,227.1 353.9,226.5 353.9,226.1 353.8,225.7 353.8,225.1 353.7,224.5 353.7,224.1 353.6,223.7 353.4,223 353.3,222.6 353.2,222.2 353,221.5 352.8,221.1 352.7,220.7 352.3,220 352.1,219.6 351.8,219 351.5,218.5 351.2,218.1 350.8,217.4 350.6,217.1 350,216.4 349.7,216 349.1,215.4 348.8,215 348.2,214.3 347.7,213.8 347.2,213.3 346.5,212.7 346.1,212.3 345.4,211.7" fill="none" stroke="#eee5a9" stroke-width="0.45"/><polyline points="396.9,208.9 396.9,209.5 396.9,209.9 397,210.3 397,210.9 397.1,211.5 397.1,211.9 397.2,212.3 397.4,213 397.5,213.4 397.6,213.8 397.8,214.5 398,214.9 398.1,215.3 398.5,216 398.7,216.4 399,217 399.3,217.5 399.6,217.9 400,218.6 400.2,218.9 400.8,219.6 401.1,220 401.7,220.6 402,221 402.6,221.7 403.1,222.2 403.6,222.7 404.3,223.3 404.7,223.7 405.4,224.3" fill="none" stroke="#eee5a9" stroke-width="0.45"/><polyline points="355.4,227.8 355.4,227.2 355.5,226.6 355.5,226.2 355.5,225.8 355.4,225.3 355.4,224.6 355.4,224.2 355.3,223.8 355.2,223.2 355.1,222.7 355,222.3 354.8,221.7 354.6,221.1 354.5,220.8 354.2,220.1 353.9,219.7 353.8,219.3 353.3,218.6 353.1,218.2 352.6,217.5 352.4,217.1 351.8,216.5 351.6,216.1 351,215.4 350.7,215.1 350,214.4 349.7,214.1 349,213.4 348.4,212.9 347.9,212.4 347.1,211.7 346.7,211.4" fill="none" stroke="#f7e4ac" stroke-width="0.45"/><polyline points="395.4,208.2 395.4,208.8 395.3,209.4 395.3,209.8 395.3,210.2 395.4,210.7 395.4,211.4 395.4,211.8 395.5,212.2 395.6,212.8 395.7,213.3 395.8,213.7 396,214.3 396.2,214.9 396.3,215.2 396.6,215.9 396.9,216.3 397,216.7 397.5,217.4 397.7,217.8 398.2,218.5 398.4,218.9 399,219.5 399.2,219.9 399.8,220.6 400.1,220.9 400.8,221.6 401.1,221.9 401.8,222.6 402.4,223.1 402.9,223.6 403.7,224.3 404.1,224.6" fill="none" stroke="#f7e4ac" stroke-width="0.45"/><polyline points="356.9,228.5 357,227.9 357.1,227.5 357.1,227.1 357.1,226.7 357.2,226.1 357.2,225.5 357.2,225 357.2,224.7 357.2,224.1 357.1,223.5 357,223.1 356.9,222.7 356.8,222 356.6,221.5 356.5,221.2 356.3,220.5 356.1,220.1 355.9,219.7 355.5,219 355.3,218.6 354.9,217.9 354.6,217.5 354.1,216.9 353.8,216.5 353.3,215.8 352.9,215.4 352.3,214.8 351.9,214.4 351.2,213.8 350.8,213.4 350.1,212.8 349.4,212.1 349,211.8 348.2,211.1" fill="none" stroke="#fde4b1" stroke-width="0.45"/><polyline points="393.9,207.5 393.8,208.1 393.7,208.5 393.7,208.9 393.7,209.3 393.6,209.9 393.6,210.5 393.6,211 393.6,211.3 393.6,211.9 393.7,212.5 393.8,212.9 393.9,213.3 394,214 394.2,214.5 394.3,214.8 394.5,215.5 394.7,215.9 394.9,216.3 395.3,217 395.5,217.4 395.9,218.1 396.2,218.5 396.7,219.1 397,219.5 397.5,220.2 397.9,220.6 398.5,221.2 398.9,221.6 399.6,222.2 400,222.6 400.7,223.2 401.4,223.9 401.8,224.2 402.6,224.9" fill="none" stroke="#fde4b1" stroke-width="0.45"/><polyline points="358.4,229.2 358.5,228.7 358.7,228.1 358.8,227.6 358.9,227.1 359,226.7 359,226.3 359.1,225.7 359.1,225.1 359.1,224.7 359.1,224.3 359.1,223.8 359,223.1 359,222.7 358.9,222.3 358.8,221.7 358.6,221.2 358.5,220.8 358.2,220.1 358,219.7 357.9,219.3 357.5,218.6 357.2,218.2 356.8,217.5 356.5,217.2 356,216.5 355.7,216.1 355,215.4 354.7,215.1 354,214.4 353.7,214.1 352.9,213.4 352.2,212.8 351.8,212.5 351,211.8 350.1,211.2 349.7,210.9" fill="none" stroke="#ffe9ae" stroke-width="0.45"/><polyline points="392.4,206.8 392.3,207.3 392.1,207.9 392,208.4 391.9,208.9 391.8,209.3 391.8,209.7 391.7,210.3 391.7,210.9 391.7,211.3 391.7,211.7 391.7,212.2 391.8,212.9 391.8,213.3 391.9,213.7 392,214.3 392.2,214.8 392.3,215.2 392.6,215.9 392.8,216.3 392.9,216.7 393.3,217.4 393.6,217.8 394,218.5 394.3,218.8 394.8,219.5 395.1,219.9 395.8,220.6 396.1,220.9 396.8,221.6 397.1,221.9 397.9,222.6 398.6,223.2 399,223.5 399.8,224.2 400.7,224.8 401.1,225.1" fill="none" stroke="#ffe9ae" stroke-width="0.45"/><polyline points="359.9,229.9 360.1,229.4 360.3,228.9 360.4,228.4 360.6,228 360.7,227.6 360.8,227.2 361,226.6 361.1,226 361.2,225.5 361.2,225.1 361.3,224.7 361.3,224.2 361.3,223.5 361.3,223.1 361.3,222.7 361.2,222.2 361.1,221.5 361,221.1 360.9,220.7 360.6,220 360.5,219.6 360.2,219.1 359.9,218.5 359.7,218.2 359.2,217.5 358.9,217.1 358.3,216.4 358,216.1 357.4,215.4 357.1,215.1 356.4,214.4 355.6,213.7 355.2,213.4 354.4,212.8 353.6,212.1 353.1,211.8 352.2,211.2 351.3,210.5" fill="none" stroke="#fdeeab" stroke-width="0.45"/><polyline points="390.9,206.1 390.7,206.6 390.5,207.1 390.4,207.6 390.2,208 390.1,208.4 390,208.8 389.8,209.4 389.7,210 389.6,210.5 389.6,210.9 389.5,211.3 389.5,211.8 389.5,212.5 389.5,212.9 389.5,213.3 389.6,213.8 389.7,214.5 389.8,214.9 389.9,215.3 390.2,216 390.3,216.4 390.6,216.9 390.9,217.5 391.1,217.8 391.6,218.5 391.9,218.9 392.5,219.6 392.8,219.9 393.4,220.6 393.7,220.9 394.4,221.6 395.2,222.3 395.6,222.6 396.4,223.2 397.2,223.9 397.7,224.2 398.6,224.8 399.5,225.5" fill="none" stroke="#fdeeab" stroke-width="0.45"/><polyline points="361.4,230.7 361.7,230.1 361.9,229.6 362.2,229.1 362.4,228.6 362.6,228 362.8,227.6 363,227.2 363.1,226.7 363.3,226.3 363.4,225.8 363.6,225.2 363.7,224.7 363.8,224.2 363.8,223.8 363.9,223.4 363.9,222.8 363.9,222.2 363.9,221.8 363.8,221.4 363.7,220.8 363.5,220.2 363.4,219.9 363.2,219.3 362.9,218.8 362.7,218.4 362.2,217.7 362,217.3 361.4,216.6 361.1,216.3 360.5,215.6 359.9,215.1 359.4,214.6 358.6,214 358.2,213.7 357.3,213 356.4,212.4 355.5,211.8 355.1,211.4 354.1,210.8 353.1,210.2" fill="none" stroke="#fbf3a9" stroke-width="0.45"/><polyline points="389.4,205.3 389.1,205.9 388.9,206.4 388.6,206.9 388.4,207.4 388.2,208 388,208.4 387.8,208.8 387.7,209.3 387.5,209.7 387.4,210.2 387.2,210.8 387.1,211.3 387,211.8 387,212.2 386.9,212.6 386.9,213.2 386.9,213.8 386.9,214.2 387,214.6 387.1,215.2 387.3,215.8 387.4,216.1 387.6,216.7 387.9,217.2 388.1,217.6 388.6,218.3 388.8,218.7 389.4,219.4 389.7,219.7 390.3,220.4 390.9,220.9 391.4,221.4 392.2,222 392.6,222.3 393.5,223 394.4,223.6 395.3,224.2 395.7,224.6 396.7,225.2 397.7,225.8" fill="none" stroke="#fbf3a9" stroke-width="0.45"/><polyline points="362.9,231.4 363.2,230.9 363.5,230.4 363.8,229.9 364.1,229.4 364.4,228.9 364.7,228.4 364.9,228 365.2,227.5 365.4,227.1 365.7,226.7 365.9,226.2 366.1,225.8 366.3,225.3 366.5,224.7 366.7,224.2 366.9,223.6 367,223.2 367.1,222.8 367.2,222.4 367.2,221.8 367.3,221.2 367.3,220.7 367.2,220.4 367.1,219.8 366.9,219.2 366.7,218.8 366.4,218.2 366.1,217.8 365.7,217.2 365.2,216.7 364.5,216.1 364.2,215.7 363.4,215.1 362.6,214.5 362.1,214.1 361.2,213.5 360.2,212.9 359.3,212.2 358.8,211.9 357.7,211.3 356.7,210.7 355.6,210.1" fill="none" stroke="#fbf8a6" stroke-width="0.45"/><polyline points="387.9,204.6 387.6,205.1 387.3,205.6 387,206.1 386.7,206.6 386.4,207.1 386.1,207.6 385.9,208 385.6,208.5 385.4,208.9 385.1,209.3 384.9,209.8 384.7,210.2 384.5,210.7 384.3,211.3 384.1,211.8 383.9,212.4 383.8,212.8 383.7,213.2 383.6,213.6 383.6,214.2 383.5,214.8 383.5,215.3 383.6,215.6 383.7,216.2 383.9,216.8 384.1,217.2 384.4,217.8 384.7,218.2 385.1,218.8 385.6,219.3 386.3,219.9 386.6,220.3 387.4,220.9 388.2,221.5 388.7,221.9 389.6,222.5 390.6,223.1 391.5,223.8 392,224.1 393.1,224.7 394.1,225.3 395.2,225.9" fill="none" stroke="#fbf8a6" stroke-width="0.45"/><polyline points="328.3,214.9 328.3,195.6 386.4,184.6 422.5,201.8 422.5,221.1" fill="none" stroke="#8c8c8c" stroke-width="0.7"/><line x1="386.4" y1="203.9" x2="386.4" y2="184.6" stroke="#8c8c8c" stroke-width="0.7"/><polyline points="328.3,214.9 386.4,203.9 422.5,221.1" fill="none" stroke="#8c8c8c" stroke-width="0.5" opacity="0.6"/><g fill="currentColor" stroke="currentColor" stroke-width="0.35"><path color="#fbfb65" d="M385.7 186.9 387.6 187.1 386.4 186 384.5 185.8Z"/><path color="#fbfc64" d="M383.7 186.7 385.7 186.9 384.5 185.8 382.5 185.6Z"/><path color="#faf868" d="M386.9 188 388.8 188.3 387.6 187.1 385.7 186.9Z"/><path color="#fbfc65" d="M381.8 186.7 383.7 186.7 382.5 185.6 380.6 185.6Z"/><path color="#fbfb65" d="M384.9 187.8 386.9 188 385.7 186.9 383.7 186.7Z"/><path color="#fbfb65" d="M379.9 186.7 381.8 186.7 380.6 185.6 378.7 185.7Z"/><path color="#f9f36b" d="M388.1 189.2 390 189.5 388.8 188.3 386.9 188Z"/><path color="#fbfc64" d="M383 187.7 384.9 187.8 383.7 186.7 381.8 186.7Z"/><path color="#fafa66" d="M377.9 186.8 379.9 186.7 378.7 185.7 376.7 185.8Z"/><path color="#faf868" d="M386.1 188.9 388.1 189.2 386.9 188 384.9 187.8Z"/><path color="#fbfc65" d="M381.1 187.7 383 187.7 381.8 186.7 379.9 186.7Z"/><path color="#f8ee6d" d="M389.3 190.3 391.2 190.6 390 189.5 388.1 189.2Z"/><path color="#faf968" d="M376 186.9 377.9 186.8 376.7 185.8 374.8 186Z"/><path color="#fbfb65" d="M384.2 188.8 386.1 188.9 384.9 187.8 383 187.7Z"/><path color="#fbfb65" d="M379.1 187.7 381.1 187.7 379.9 186.7 377.9 186.8Z"/><path color="#f9f46b" d="M387.3 190 389.3 190.3 388.1 189.2 386.1 188.9Z"/><path color="#f9f769" d="M374 187.2 376 186.9 374.8 186 372.8 186.3Z"/><path color="#fbfc64" d="M382.3 188.7 384.2 188.8 383 187.7 381.1 187.7Z"/><path color="#f9e86e" d="M390.5 191.4 392.4 191.8 391.2 190.6 389.3 190.3Z"/><path color="#fafa66" d="M377.2 187.9 379.1 187.7 377.9 186.8 376 186.9Z"/><path color="#faf868" d="M385.4 189.8 387.3 190 386.1 188.9 384.2 188.8Z"/><path color="#f9f56a" d="M372.1 187.5 374 187.2 372.8 186.3 370.9 186.7Z"/><path color="#fbfc65" d="M380.3 188.7 382.3 188.7 381.1 187.7 379.1 187.7Z"/><path color="#f8ef6d" d="M388.5 191.1 390.5 191.4 389.3 190.3 387.3 190Z"/><path color="#faf968" d="M375.2 188.1 377.2 187.9 376 186.9 374 187.2Z"/><path color="#fbfb65" d="M383.5 189.7 385.4 189.8 384.2 188.8 382.3 188.7Z"/><path color="#fce270" d="M391.7 192.5 393.6 193 392.4 191.8 390.5 191.4Z"/><path color="#f8f36b" d="M370.2 187.9 372.1 187.5 370.9 186.7 369 187.1Z"/><path color="#fbfb65" d="M378.4 188.8 380.3 188.7 379.1 187.7 377.2 187.9Z"/><path color="#f9f46a" d="M386.6 190.9 388.5 191.1 387.3 190 385.4 189.8Z"/><path color="#f9f769" d="M373.3 188.4 375.2 188.1 374 187.2 372.1 187.5Z"/><path color="#fbfc64" d="M381.5 189.7 383.5 189.7 382.3 188.7 380.3 188.7Z"/><path color="#f9ea6e" d="M389.7 192.2 391.7 192.5 390.5 191.4 388.5 191.1Z"/><path color="#f8f06c" d="M368.2 188.4 370.2 187.9 369 187.1 367 187.6Z"/><path color="#fafa66" d="M376.5 189 378.4 188.8 377.2 187.9 375.2 188.1Z"/><path color="#faf968" d="M384.7 190.7 386.6 190.9 385.4 189.8 383.5 189.7Z"/><path color="#fedc72" d="M392.9 193.7 394.8 194.2 393.6 193 391.7 192.5Z"/><path color="#f9f56a" d="M371.4 188.7 373.3 188.4 372.1 187.5 370.2 187.9Z"/><path color="#fbfc65" d="M379.6 189.7 381.5 189.7 380.3 188.7 378.4 188.8Z"/><path color="#f8f06d" d="M387.8 191.9 389.7 192.2 388.5 191.1 386.6 190.9Z"/><path color="#f8ee6d" d="M366.3 189 368.2 188.4 367 187.6 365.1 188.2Z"/><path color="#faf968" d="M374.5 189.2 376.5 189 375.2 188.1 373.3 188.4Z"/><path color="#fbfb65" d="M382.7 190.7 384.7 190.7 383.5 189.7 381.5 189.7Z"/><path color="#fbe470" d="M391 193.3 392.9 193.7 391.7 192.5 389.7 192.2Z"/><path color="#f8f36b" d="M369.4 189.2 371.4 188.7 370.2 187.9 368.2 188.4Z"/><path color="#fbfb65" d="M377.7 189.9 379.6 189.7 378.4 188.8 376.5 189Z"/><path color="#f9f56a" d="M385.9 191.7 387.8 191.9 386.6 190.9 384.7 190.7Z"/><path color="#fed676" d="M394.1 194.8 396 195.3 394.8 194.2 392.9 193.7Z"/><path color="#f9ea6e" d="M364.4 189.6 366.3 189 365.1 188.2 363.2 188.9Z"/><path color="#f9f769" d="M372.6 189.5 374.5 189.2 373.3 188.4 371.4 188.7Z"/><path color="#fbfc64" d="M380.8 190.7 382.7 190.7 381.5 189.7 379.6 189.7Z"/><path color="#f9eb6e" d="M389 193 391 193.3 389.7 192.2 387.8 191.9Z"/><path color="#f8f06c" d="M367.5 189.7 369.4 189.2 368.2 188.4 366.3 189Z"/><path color="#fafa66" d="M375.7 190.1 377.7 189.9 376.5 189 374.5 189.2Z"/><path color="#faf967" d="M383.9 191.6 385.9 191.7 384.7 190.7 382.7 190.7Z"/><path color="#fdde72" d="M392.2 194.4 394.1 194.8 392.9 193.7 391 193.3Z"/><path color="#fae76f" d="M362.4 190.3 364.4 189.6 363.2 188.9 361.2 189.7Z"/><path color="#f9f56a" d="M370.6 189.9 372.6 189.5 371.4 188.7 369.4 189.2Z"/><path color="#fbfc65" d="M378.9 190.7 380.8 190.7 379.6 189.7 377.7 189.9Z"/><path color="#f8f16c" d="M387.1 192.7 389 193 387.8 191.9 385.9 191.7Z"/><path color="#fcd078" d="M395.3 195.9 397.2 196.5 396 195.3 394.1 194.8Z"/><path color="#f8ee6d" d="M365.6 190.3 367.5 189.7 366.3 189 364.4 189.6Z"/><path color="#faf968" d="M373.8 190.3 375.7 190.1 374.5 189.2 372.6 189.5Z"/><path color="#fbfc65" d="M382 191.6 383.9 191.6 382.7 190.7 380.8 190.7Z"/><path color="#fae66f" d="M390.2 194 392.2 194.4 391 193.3 389 193Z"/><path color="#fbe370" d="M360.5 191.1 362.4 190.3 361.2 189.7 359.3 190.5Z"/><path color="#f8f36b" d="M368.7 190.4 370.6 189.9 369.4 189.2 367.5 189.7Z"/><path color="#fbfb65" d="M376.9 190.9 378.9 190.7 377.7 189.9 375.7 190.1Z"/><path color="#f9f66a" d="M385.1 192.6 387.1 192.7 385.9 191.7 383.9 191.6Z"/><path color="#fed874" d="M393.4 195.5 395.3 195.9 394.1 194.8 392.2 194.4Z"/><path color="#f9ea6e" d="M363.6 191 365.6 190.3 364.4 189.6 362.4 190.3Z"/><path color="#f9f769" d="M371.8 190.7 373.8 190.3 372.6 189.5 370.6 189.9Z"/><path color="#fbfc64" d="M380.1 191.6 382 191.6 380.8 190.7 378.9 190.7Z"/><path color="#f8ec6e" d="M388.3 193.8 390.2 194 389 193 387.1 192.7Z"/><path color="#fdde72" d="M358.6 192 360.5 191.1 359.3 190.5 357.4 191.5Z"/><path color="#f3cf71" d="M396.5 197.1 398.4 197.7 397.2 196.5 395.3 195.9Z"/><path color="#f8f06c" d="M366.8 191 368.7 190.4 367.5 189.7 365.6 190.3Z"/><path color="#fafa66" d="M375 191.2 376.9 190.9 375.7 190.1 373.8 190.3Z"/><path color="#faf967" d="M383.2 192.5 385.1 192.6 383.9 191.6 382 191.6Z"/><path color="#fde071" d="M391.4 195.1 393.4 195.5 392.2 194.4 390.2 194Z"/><path color="#fae76f" d="M361.7 191.8 363.6 191 362.4 190.3 360.5 191.1Z"/><path color="#f9f56a" d="M369.9 191.2 371.8 190.7 370.6 189.9 368.7 190.4Z"/><path color="#fbfc65" d="M378.1 191.8 380.1 191.6 378.9 190.7 376.9 190.9Z"/><path color="#f8f26c" d="M386.3 193.6 388.3 193.8 387.1 192.7 385.1 192.6Z"/><path color="#fed875" d="M356.6 193 358.6 192 357.4 191.5 355.4 192.5Z"/><path color="#fed278" d="M394.6 196.6 396.5 197.1 395.3 195.9 393.4 195.5Z"/><path color="#f8ee6d" d="M364.8 191.6 366.8 191 365.6 190.3 363.6 191Z"/><path color="#faf968" d="M373 191.5 375 191.2 373.8 190.3 371.8 190.7Z"/><path color="#fbfc65" d="M381.3 192.5 383.2 192.5 382 191.6 380.1 191.6Z"/><path color="#fae76f" d="M389.5 194.8 391.4 195.1 390.2 194 388.3 193.8Z"/><path color="#fbe370" d="M359.8 192.6 361.7 191.8 360.5 191.1 358.6 192Z"/><path color="#e8d068" d="M397.7 198.2 399.6 198.8 398.4 197.7 396.5 197.1Z"/><path color="#f8f36b" d="M368 191.7 369.9 191.2 368.7 190.4 366.8 191Z"/><path color="#fbfb65" d="M376.2 192 378.1 191.8 376.9 190.9 375 191.2Z"/><path color="#f9f669" d="M384.4 193.5 386.3 193.6 385.1 192.6 383.2 192.5Z"/><path color="#fbcf78" d="M354.7 194 356.6 193 355.4 192.5 353.5 193.5Z"/><path color="#feda73" d="M392.6 196.1 394.6 196.6 393.4 195.5 391.4 195.1Z"/><path color="#f9ea6e" d="M362.9 192.4 364.8 191.6 363.6 191 361.7 191.8Z"/><path color="#f9f769" d="M371.1 191.9 373 191.5 371.8 190.7 369.9 191.2Z"/><path color="#fbfc64" d="M379.3 192.6 381.3 192.5 380.1 191.6 378.1 191.8Z"/><path color="#f8ed6d" d="M387.5 194.5 389.5 194.8 388.3 193.8 386.3 193.6Z"/><path color="#fedc72" d="M357.8 193.5 359.8 192.6 358.6 192 356.6 193Z"/><path color="#f7cf75" d="M395.8 197.7 397.7 198.2 396.5 197.1 394.6 196.6Z"/><path color="#f8f06c" d="M366 192.3 368 191.7 366.8 191 364.8 191.6Z"/><path color="#fafa66" d="M374.3 192.3 376.2 192 375 191.2 373 191.5Z"/><path color="#fafa67" d="M382.5 193.4 384.4 193.5 383.2 192.5 381.3 192.5Z"/><path color="#eccf6a" d="M352.7 195.2 354.7 194 353.5 193.5 351.5 194.7Z"/><path color="#fce270" d="M390.7 195.8 392.6 196.1 391.4 195.1 389.5 194.8Z"/><path color="#fae76f" d="M361 193.2 362.9 192.4 361.7 191.8 359.8 192.6Z"/><path color="#dbd266" d="M398.9 199.3 400.8 200 399.6 198.8 397.7 198.2Z"/><path color="#f9f56a" d="M369.2 192.4 371.1 191.9 369.9 191.2 368 191.7Z"/><path color="#fbfc65" d="M377.4 192.8 379.3 192.6 378.1 191.8 376.2 192Z"/><path color="#f8f36b" d="M385.6 194.4 387.5 194.5 386.3 193.6 384.4 193.5Z"/><path color="#fed377" d="M355.9 194.5 357.8 193.5 356.6 193 354.7 194Z"/><path color="#fed477" d="M393.8 197.2 395.8 197.7 394.6 196.6 392.6 196.1Z"/><path color="#f8ee6d" d="M364.1 193 366 192.3 364.8 191.6 362.9 192.4Z"/><path color="#faf968" d="M372.3 192.6 374.3 192.3 373 191.5 371.1 191.9Z"/><path color="#fbfc65" d="M380.5 193.5 382.5 193.4 381.3 192.5 379.3 192.6Z"/><path color="#d8d366" d="M350.8 196.4 352.7 195.2 351.5 194.7 349.6 195.9Z"/><path color="#f9e96e" d="M388.8 195.5 390.7 195.8 389.5 194.8 387.5 194.5Z"/><path color="#fce071" d="M359 194.1 361 193.2 359.8 192.6 357.8 193.5Z"/><path color="#edcf6b" d="M397 198.7 398.9 199.3 397.7 198.2 395.8 197.7Z"/><path color="#f8f36b" d="M367.2 192.9 369.2 192.4 368 191.7 366 192.3Z"/><path color="#fbfb65" d="M375.5 193 377.4 192.8 376.2 192 374.3 192.3Z"/><path color="#f9f769" d="M383.7 194.3 385.6 194.4 384.4 193.5 382.5 193.4Z"/><path color="#f5cf72" d="M353.9 195.6 355.9 194.5 354.7 194 352.7 195.2Z"/><path color="#fedc72" d="M391.9 196.8 393.8 197.2 392.6 196.1 390.7 195.8Z"/><path color="#f9ea6e" d="M362.2 193.7 364.1 193 362.9 192.4 361 193.2Z"/><path color="#cbd56b" d="M400.1 200.5 402 201.2 400.8 200 398.9 199.3Z"/><path color="#f9f769" d="M370.4 193.1 372.3 192.6 371.1 191.9 369.2 192.4Z"/><path color="#fbfc64" d="M378.6 193.6 380.5 193.5 379.3 192.6 377.4 192.8Z"/><path color="#bed773" d="M348.9 197.6 350.8 196.4 349.6 195.9 347.7 197.3Z"/><path color="#f8ef6d" d="M386.8 195.3 388.8 195.5 387.5 194.5 385.6 194.4Z"/><path color="#fed874" d="M357.1 195 359 194.1 357.8 193.5 355.9 194.5Z"/><path color="#fbcf78" d="M395 198.2 397 198.7 395.8 197.7 393.8 197.2Z"/><path color="#f8f06c" d="M365.3 193.6 367.2 192.9 366 192.3 364.1 193Z"/><path color="#fafa66" d="M373.5 193.4 375.5 193 374.3 192.3 372.3 192.6Z"/><path color="#fafa66" d="M381.7 194.3 383.7 194.3 382.5 193.4 380.5 193.5Z"/><path color="#e4d166" d="M352 196.8 353.9 195.6 352.7 195.2 350.8 196.4Z"/><path color="#fbe470" d="M390 196.5 391.9 196.8 390.7 195.8 388.8 195.5Z"/><path color="#fbe570" d="M360.2 194.6 362.2 193.7 361 193.2 359 194.1Z"/><path color="#e1d166" d="M398.2 199.8 400.1 200.5 398.9 199.3 397 198.7Z"/><path color="#f9f56a" d="M368.4 193.6 370.4 193.1 369.2 192.4 367.2 192.9Z"/><path color="#fbfc65" d="M376.7 193.8 378.6 193.6 377.4 192.8 375.5 193Z"/><path color="#9eda87" d="M346.9 199 348.9 197.6 347.7 197.3 345.7 198.7Z"/><path color="#f9f36b" d="M384.9 195.2 386.8 195.3 385.6 194.4 383.7 194.3Z"/><path color="#fcd078" d="M355.2 196.1 357.1 195 355.9 194.5 353.9 195.6Z"/><path color="#fed675" d="M393.1 197.8 395 198.2 393.8 197.2 391.9 196.8Z"/><path color="#f8ee6d" d="M363.4 194.3 365.3 193.6 364.1 193 362.2 193.7Z"/><path color="#b9d876" d="M401.3 201.6 403.2 202.4 402 201.2 400.1 200.5Z"/><path color="#faf968" d="M371.6 193.8 373.5 193.4 372.3 192.6 370.4 193.1Z"/><path color="#fbfc65" d="M379.8 194.4 381.7 194.3 380.5 193.5 378.6 193.6Z"/><path color="#cdd56a" d="M350.1 198 352 196.8 350.8 196.4 348.9 197.6Z"/><path color="#f9ea6e" d="M388 196.3 390 196.5 388.8 195.5 386.8 195.3Z"/><path color="#fedc72" d="M358.3 195.5 360.2 194.6 359 194.1 357.1 195Z"/><path color="#f2cf6f" d="M396.2 199.3 398.2 199.8 397 198.7 395 198.2Z"/><path color="#f8f36b" d="M366.5 194.2 368.4 193.6 367.2 192.9 365.3 193.6Z"/><path color="#fbfb65" d="M374.7 194.1 376.7 193.8 375.5 193 373.5 193.4Z"/><path color="#7fd99e" d="M345 200.5 346.9 199 345.7 198.7 343.8 200.2Z"/><path color="#f9f769" d="M382.9 195.2 384.9 195.2 383.7 194.3 381.7 194.3Z"/><path color="#eecf6b" d="M353.2 197.2 355.2 196.1 353.9 195.6 352 196.8Z"/><path color="#fdde72" d="M391.2 197.5 393.1 197.8 391.9 196.8 390 196.5Z"/><path color="#f9e86e" d="M361.4 195.1 363.4 194.3 362.2 193.7 360.2 194.6Z"/><path color="#d2d468" d="M399.4 200.9 401.3 201.6 400.1 200.5 398.2 199.8Z"/><path color="#f9f769" d="M369.6 194.3 371.6 193.8 370.4 193.1 368.4 193.6Z"/><path color="#fbfc64" d="M377.9 194.6 379.8 194.4 378.6 193.6 376.7 193.8Z"/><path color="#b0d87b" d="M348.1 199.3 350.1 198 348.9 197.6 346.9 199Z"/><path color="#f8f06d" d="M386.1 196.1 388 196.3 386.8 195.3 384.9 195.2Z"/><path color="#fed477" d="M356.4 196.5 358.3 195.5 357.1 195 355.2 196.1Z"/><path color="#fdd178" d="M394.3 198.8 396.2 199.3 395 198.2 393.1 197.8Z"/><path color="#f8f06c" d="M364.6 194.9 366.5 194.2 365.3 193.6 363.4 194.3Z"/><path color="#a5d983" d="M402.5 202.7 404.5 203.5 403.2 202.4 401.3 201.6Z"/><path color="#fafa66" d="M372.8 194.5 374.7 194.1 373.5 193.4 371.6 193.8Z"/><path color="#66d5b2" d="M343.1 202 345 200.5 343.8 200.2 341.9 201.7Z"/><path color="#fafa66" d="M381 195.2 382.9 195.2 381.7 194.3 379.8 194.4Z"/><path color="#dad266" d="M351.3 198.4 353.2 197.2 352 196.8 350.1 198Z"/><path color="#fae66f" d="M389.2 197.2 391.2 197.5 390 196.5 388 196.3Z"/><path color="#fce171" d="M359.5 196 361.4 195.1 360.2 194.6 358.3 195.5Z"/><path color="#e7d067" d="M397.4 200.3 399.4 200.9 398.2 199.8 396.2 199.3Z"/><path color="#f9f56a" d="M367.7 194.8 369.6 194.3 368.4 193.6 366.5 194.2Z"/><path color="#fbfc65" d="M375.9 194.8 377.9 194.6 376.7 193.8 374.7 194.1Z"/><path color="#90da91" d="M346.2 200.7 348.1 199.3 346.9 199 345 200.5Z"/><path color="#f9f46a" d="M384.1 196 386.1 196.1 384.9 195.2 382.9 195.2Z"/><path color="#f6cf73" d="M354.4 197.6 356.4 196.5 355.2 196.1 353.2 197.2Z"/><path color="#fed974" d="M392.4 198.4 394.3 198.8 393.1 197.8 391.2 197.5Z"/><path color="#f8ec6e" d="M362.6 195.7 364.6 194.9 363.4 194.3 361.4 195.1Z"/><path color="#c2d670" d="M400.6 202 402.5 202.7 401.3 201.6 399.4 200.9Z"/><path color="#faf968" d="M370.8 194.9 372.8 194.5 371.6 193.8 369.6 194.3Z"/><path color="#51cfc4" d="M341.1 203.6 343.1 202 341.9 201.7 339.9 203.4Z"/><path color="#fbfc65" d="M379.1 195.4 381 195.2 379.8 194.4 377.9 194.6Z"/><path color="#c1d671" d="M349.3 199.7 351.3 198.4 350.1 198 348.1 199.3Z"/><path color="#f8ec6e" d="M387.3 197 389.2 197.2 388 196.3 386.1 196.1Z"/><path color="#fed874" d="M357.6 197 359.5 196 358.3 195.5 356.4 196.5Z"/><path color="#f6cf73" d="M395.5 199.8 397.4 200.3 396.2 199.3 394.3 198.8Z"/><path color="#f8f36b" d="M365.8 195.5 367.7 194.8 366.5 194.2 364.6 194.9Z"/><path color="#90da91" d="M403.7 203.9 405.7 204.7 404.5 203.5 402.5 202.7Z"/><path color="#fbfb65" d="M374 195.2 375.9 194.8 374.7 194.1 372.8 194.5Z"/><path color="#72d7a7" d="M344.3 202.2 346.2 200.7 345 200.5 343.1 202Z"/><path color="#faf868" d="M382.2 196 384.1 196 382.9 195.2 381 195.2Z"/><path color="#e6d067" d="M352.5 198.8 354.4 197.6 353.2 197.2 351.3 198.4Z"/><path color="#fce171" d="M390.4 198.1 392.4 198.4 391.2 197.5 389.2 197.2Z"/><path color="#fae570" d="M360.7 196.5 362.6 195.7 361.4 195.1 359.5 196Z"/><path color="#dad266" d="M398.6 201.4 400.6 202 399.4 200.9 397.4 200.3Z"/><path color="#f9f769" d="M368.9 195.4 370.8 194.9 369.6 194.3 367.7 194.8Z"/><path color="#37c7d4" d="M339.2 205.3 341.1 203.6 339.9 203.4 338 205.1Z"/><path color="#fbfc64" d="M377.1 195.6 379.1 195.4 377.9 194.6 375.9 194.8Z"/><path color="#a3d984" d="M347.4 201 349.3 199.7 348.1 199.3 346.2 200.7Z"/><path color="#f8f16c" d="M385.3 196.9 387.3 197 386.1 196.1 384.1 196Z"/><path color="#fcd078" d="M355.6 198 357.6 197 356.4 196.5 354.4 197.6Z"/><path color="#fed377" d="M393.6 199.4 395.5 199.8 394.3 198.8 392.4 198.4Z"/><path color="#f8ef6d" d="M363.8 196.2 365.8 195.5 364.6 194.9 362.6 195.7Z"/><path color="#afd87c" d="M401.8 203.1 403.7 203.9 402.5 202.7 400.6 202Z"/><path color="#fafa66" d="M372.1 195.6 374 195.2 372.8 194.5 370.8 194.9Z"/><path color="#5fd2ba" d="M342.3 203.8 344.3 202.2 343.1 202 341.1 203.6Z"/><path color="#fafa66" d="M380.3 196.1 382.2 196 381 195.2 379.1 195.4Z"/><path color="#d0d469" d="M350.5 200 352.5 198.8 351.3 198.4 349.3 199.7Z"/><path color="#f9e86f" d="M388.5 197.9 390.4 198.1 389.2 197.2 387.3 197Z"/><path color="#fddd72" d="M358.8 197.4 360.7 196.5 359.5 196 357.6 197Z"/><path color="#eccf6a" d="M396.7 200.8 398.6 201.4 397.4 200.3 395.5 199.8Z"/><path color="#f9f56a" d="M367 196 368.9 195.4 367.7 194.8 365.8 195.5Z"/><path color="#46bee2" d="M337.2 207 339.2 205.3 338 205.1 336 206.9Z"/><path color="#7dd99f" d="M404.9 205 406.9 205.9 405.7 204.7 403.7 203.9Z"/><path color="#fbfc65" d="M375.2 195.8 377.1 195.6 375.9 194.8 374 195.2Z"/><path color="#83d99b" d="M345.5 202.5 347.4 201 346.2 200.7 344.3 202.2Z"/><path color="#f9f56a" d="M383.4 196.8 385.3 196.9 384.1 196 382.2 196Z"/><path color="#efcf6d" d="M353.7 199.1 355.6 198 354.4 197.6 352.5 198.8Z"/><path color="#fedb73" d="M391.6 199 393.6 199.4 392.4 198.4 390.4 198.1Z"/><path color="#f9e96e" d="M361.9 197 363.8 196.2 362.6 195.7 360.7 196.5Z"/><path color="#cad56c" d="M399.8 202.4 401.8 203.1 400.6 202 398.6 201.4Z"/><path color="#faf968" d="M370.1 196 372.1 195.6 370.8 194.9 368.9 195.4Z"/><path color="#42cccb" d="M340.4 205.4 342.3 203.8 341.1 203.6 339.2 205.3Z"/><path color="#fbfc65" d="M378.3 196.3 380.3 196.1 379.1 195.4 377.1 195.6Z"/><path color="#b5d878" d="M348.6 201.3 350.5 200 349.3 199.7 347.4 201Z"/><path color="#f8ed6d" d="M386.6 197.7 388.5 197.9 387.3 197 385.3 196.9Z"/><path color="#fed576" d="M356.8 198.4 358.8 197.4 357.6 197 355.6 198Z"/><path color="#facf78" d="M394.8 200.4 396.7 200.8 395.5 199.8 393.6 199.4Z"/><path color="#f8f26c" d="M365 196.7 367 196 365.8 195.5 363.8 196.2Z"/><path color="#4cb1ea" d="M335.3 208.9 337.2 207 336 206.9 334.1 208.8Z"/><path color="#9bda8a" d="M403 204.2 404.9 205 403.7 203.9 401.8 203.1Z"/><path color="#fbfb65" d="M373.3 196.2 375.2 195.8 374 195.2 372.1 195.6Z"/><path color="#68d5af" d="M343.5 204 345.5 202.5 344.3 202.2 342.3 203.8Z"/><path color="#faf868" d="M381.5 196.9 383.4 196.8 382.2 196 380.3 196.1Z"/><path color="#ddd265" d="M351.7 200.3 353.7 199.1 352.5 198.8 350.5 200Z"/><path color="#fbe370" d="M389.7 198.8 391.6 199 390.4 198.1 388.5 197.9Z"/><path color="#fce171" d="M360 197.9 361.9 197 360.7 196.5 358.8 197.4Z"/><path color="#e0d166" d="M397.9 201.9 399.8 202.4 398.6 201.4 396.7 200.8Z"/><path color="#f9f769" d="M368.2 196.6 370.1 196 368.9 195.4 367 196Z"/><path color="#3cc4da" d="M338.5 207.2 340.4 205.4 339.2 205.3 337.2 207Z"/><path color="#6cd6ac" d="M406.1 206.1 408.1 207 406.9 205.9 404.9 205Z"/><path color="#fbfc64" d="M376.4 196.5 378.3 196.3 377.1 195.6 375.2 195.8Z"/><path color="#95da8d" d="M346.7 202.7 348.6 201.3 347.4 201 345.5 202.5Z"/><path color="#f8f26b" d="M384.6 197.7 386.6 197.7 385.3 196.9 383.4 196.8Z"/><path color="#f8cf75" d="M354.9 199.5 356.8 198.4 355.6 198 353.7 199.1Z"/><path color="#fed676" d="M392.8 200 394.8 200.4 393.6 199.4 391.6 199Z"/><path color="#f8ec6e" d="M363.1 197.5 365 196.7 363.8 196.2 361.9 197Z"/><path color="#4fa2f3" d="M333.4 210.8 335.3 208.9 334.1 208.8 332.2 210.7Z"/><path color="#b9d876" d="M401 203.5 403 204.2 401.8 203.1 399.8 202.4Z"/><path color="#fafa66" d="M371.3 196.7 373.3 196.2 372.1 195.6 370.1 196Z"/><path color="#56d0c1" d="M341.6 205.6 343.5 204 342.3 203.8 340.4 205.4Z"/><path color="#fbfb66" d="M379.5 197 381.5 196.9 380.3 196.1 378.3 196.3Z"/><path color="#c5d66e" d="M349.8 201.6 351.7 200.3 350.5 200 348.6 201.3Z"/><path color="#f9e96e" d="M387.8 198.6 389.7 198.8 388.5 197.9 386.6 197.7Z"/><path color="#fed974" d="M358 198.8 360 197.9 358.8 197.4 356.8 198.4Z"/><path color="#f1cf6f" d="M396 201.3 397.9 201.9 396.7 200.8 394.8 200.4Z"/><path color="#f9f46b" d="M366.2 197.3 368.2 196.6 367 196 365 196.7Z"/><path color="#49b9e6" d="M336.5 209 338.5 207.2 337.2 207 335.3 208.9Z"/><path color="#87d998" d="M404.2 205.3 406.1 206.1 404.9 205 403 204.2Z"/><path color="#fbfc65" d="M374.5 196.9 376.4 196.5 375.2 195.8 373.3 196.2Z"/><path color="#76d8a4" d="M344.7 204.2 346.7 202.7 345.5 202.5 343.5 204Z"/><path color="#f9f669" d="M382.7 197.7 384.6 197.7 383.4 196.8 381.5 196.9Z"/><path color="#e8d068" d="M353 200.7 354.9 199.5 353.7 199.1 351.7 200.3Z"/><path color="#fdde72" d="M390.9 199.7 392.8 200 391.6 199 389.7 198.8Z"/><path color="#fae66f" d="M361.2 198.3 363.1 197.5 361.9 197 360 197.9Z"/><path color="#4f93fb" d="M331.4 212.8 333.4 210.8 332.2 210.7 330.2 212.8Z"/><path color="#d2d468" d="M399.1 202.9 401 203.5 399.8 202.4 397.9 201.9Z"/><path color="#faf968" d="M369.4 197.2 371.3 196.7 370.1 196 368.2 196.6Z"/><path color="#38c9d1" d="M339.7 207.3 341.6 205.6 340.4 205.4 338.5 207.2Z"/><path color="#61d3b8" d="M407.3 207.3 409.3 208.2 408.1 207 406.1 206.1Z"/><path color="#fbfc65" d="M377.6 197.2 379.5 197 378.3 196.3 376.4 196.5Z"/><path color="#a8d981" d="M347.9 203 349.8 201.6 348.6 201.3 346.7 202.7Z"/><path color="#f8ef6d" d="M385.8 198.5 387.8 198.6 386.6 197.7 384.6 197.7Z"/><path color="#fdd178" d="M356.1 199.9 358 198.8 356.8 198.4 354.9 199.5Z"/><path color="#fdd178" d="M394 200.9 396 201.3 394.8 200.4 392.8 200Z"/><path color="#f8ef6d" d="M364.3 198 366.2 197.3 365 196.7 363.1 197.5Z"/><path color="#4dabed" d="M334.6 210.8 336.5 209 335.3 208.9 333.4 210.8Z"/><path color="#a6d982" d="M402.2 204.5 404.2 205.3 403 204.2 401 203.5Z"/><path color="#fbfb65" d="M372.5 197.3 374.5 196.9 373.3 196.2 371.3 196.7Z"/><path color="#61d3b7" d="M342.8 205.8 344.7 204.2 343.5 204 341.6 205.6Z"/><path color="#faf967" d="M380.7 197.8 382.7 197.7 381.5 196.9 379.5 197Z"/><path color="#d4d467" d="M351 201.9 353 200.7 351.7 200.3 349.8 201.6Z"/><path color="#fae570" d="M389 199.4 390.9 199.7 389.7 198.8 387.8 198.6Z"/><path color="#fdde72" d="M359.2 199.3 361.2 198.3 360 197.9 358 198.8Z"/><path color="#5883ff" d="M329.5 214.9 331.4 212.8 330.2 212.8 328.3 214.9Z"/><path color="#e7d067" d="M397.2 202.3 399.1 202.9 397.9 201.9 396 201.3Z"/><path color="#f9f669" d="M367.4 197.8 369.4 197.2 368.2 196.6 366.2 197.3Z"/><path color="#44c0e0" d="M337.7 209.1 339.7 207.3 338.5 207.2 336.5 209Z"/><path color="#74d8a5" d="M405.4 206.4 407.3 207.3 406.1 206.1 404.2 205.3Z"/><path color="#fbfc64" d="M375.7 197.5 377.6 197.2 376.4 196.5 374.5 196.9Z"/><path color="#88d997" d="M345.9 204.4 347.9 203 346.7 202.7 344.7 204.2Z"/><path color="#f9f36b" d="M383.9 198.4 385.8 198.5 384.6 197.7 382.7 197.7Z"/><path color="#f2cf6f" d="M354.2 201 356.1 199.9 354.9 199.5 353 200.7Z"/><path color="#fed874" d="M392.1 200.6 394 200.9 392.8 200 390.9 199.7Z"/><path color="#f9e96e" d="M362.4 198.8 364.3 198 363.1 197.5 361.2 198.3Z"/><path color="#4f9cf7" d="M332.6 212.8 334.6 210.8 333.4 210.8 331.4 212.8Z"/><path color="#c2d670" d="M400.3 203.9 402.2 204.5 401 203.5 399.1 202.9Z"/><path color="#fafa66" d="M370.6 197.8 372.5 197.3 371.3 196.7 369.4 197.2Z"/><path color="#49cdc8" d="M340.9 207.4 342.8 205.8 341.6 205.6 339.7 207.3Z"/><path color="#53cfc3" d="M408.5 208.4 410.5 209.4 409.3 208.2 407.3 207.3Z"/><path color="#fbfb65" d="M378.8 197.9 380.7 197.8 379.5 197 377.6 197.2Z"/><path color="#bad775" d="M349.1 203.2 351 201.9 349.8 201.6 347.9 203Z"/><path color="#f8eb6e" d="M387 199.3 389 199.4 387.8 198.6 385.8 198.5Z"/><path color="#fed676" d="M357.3 200.3 359.2 199.3 358 198.8 356.1 199.9Z"/><path color="#f6cf73" d="M395.2 201.8 397.2 202.3 396 201.3 394 200.9Z"/><path color="#f8f26c" d="M365.5 198.5 367.4 197.8 366.2 197.3 364.3 198Z"/><path color="#4bb3e9" d="M335.8 210.9 337.7 209.1 336.5 209 334.6 210.8Z"/><path color="#92da90" d="M403.5 205.6 405.4 206.4 404.2 205.3 402.2 204.5Z"/><path color="#fbfc65" d="M373.7 197.9 375.7 197.5 374.5 196.9 372.5 197.3Z"/><path color="#6cd6ac" d="M344 206 345.9 204.4 344.7 204.2 342.8 205.8Z"/><path color="#f9f769" d="M381.9 198.5 383.9 198.4 382.7 197.7 380.7 197.8Z"/><path color="#e0d166" d="M352.2 202.2 354.2 201 353 200.7 351 201.9Z"/><path color="#fce071" d="M390.2 200.3 392.1 200.6 390.9 199.7 389 199.4Z"/><path color="#fce270" d="M360.4 199.7 362.4 198.8 361.2 198.3 359.2 199.3Z"/><path color="#528cfd" d="M330.7 214.8 332.6 212.8 331.4 212.8 329.5 214.9Z"/><path color="#dad266" d="M398.4 203.3 400.3 203.9 399.1 202.9 397.2 202.3Z"/><path color="#faf868" d="M368.6 198.3 370.6 197.8 369.4 197.2 367.4 197.8Z"/><path color="#39c5d8" d="M338.9 209.1 340.9 207.4 339.7 207.3 337.7 209.1Z"/><path color="#66d5b2" d="M406.6 207.5 408.5 208.4 407.3 207.3 405.4 206.4Z"/><path color="#fbfc65" d="M376.9 198.2 378.8 197.9 377.6 197.2 375.7 197.5Z"/><path color="#9bda8a" d="M347.1 204.6 349.1 203.2 347.9 203 345.9 204.4Z"/><path color="#f8f16c" d="M385.1 199.2 387 199.3 385.8 198.5 383.9 198.4Z"/><path color="#facf77" d="M355.4 201.3 357.3 200.3 356.1 199.9 354.2 201Z"/><path color="#fed377" d="M393.3 201.5 395.2 201.8 394 200.9 392.1 200.6Z"/><path color="#f8ed6d" d="M363.6 199.2 365.5 198.5 364.3 198 362.4 198.8Z"/><path color="#4fa5f1" d="M333.8 212.8 335.8 210.9 334.6 210.8 332.6 212.8Z"/><path color="#b0d87b" d="M401.5 204.9 403.5 205.6 402.2 204.5 400.3 203.9Z"/><path color="#fbfb65" d="M371.8 198.3 373.7 197.9 372.5 197.3 370.6 197.8Z"/><path color="#5ad1be" d="M342.1 207.6 344 206 342.8 205.8 340.9 207.4Z"/><path color="#3fcbcd" d="M409.7 209.5 411.7 210.5 410.5 209.4 408.5 208.4Z"/><path color="#fafa67" d="M380 198.6 381.9 198.5 380.7 197.8 378.8 197.9Z"/><path color="#cad56c" d="M350.3 203.5 352.2 202.2 351 201.9 349.1 203.2Z"/><path color="#fae76f" d="M388.2 200.1 390.2 200.3 389 199.4 387 199.3Z"/><path color="#fedb73" d="M358.5 200.6 360.4 199.7 359.2 199.3 357.3 200.3Z"/><path color="#edcf6b" d="M396.4 202.8 398.4 203.3 397.2 202.3 395.2 201.8Z"/><path color="#f9f46a" d="M366.7 199 368.6 198.3 367.4 197.8 365.5 198.5Z"/><path color="#48bbe5" d="M337 210.9 338.9 209.1 337.7 209.1 335.8 210.9Z"/><path color="#7fd99e" d="M404.7 206.7 406.6 207.5 405.4 206.4 403.5 205.6Z"/><path color="#fbfc64" d="M374.9 198.5 376.9 198.2 375.7 197.5 373.7 197.9Z"/><path color="#7cd9a0" d="M345.2 206.1 347.1 204.6 345.9 204.4 344 206Z"/><path color="#f9f56a" d="M383.1 199.2 385.1 199.2 383.9 198.4 381.9 198.5Z"/><path color="#ebcf6a" d="M353.4 202.5 355.4 201.3 354.2 201 352.2 202.2Z"/><path color="#fedb73" d="M391.4 201.1 393.3 201.5 392.1 200.6 390.2 200.3Z"/><path color="#fae76f" d="M361.6 200.1 363.6 199.2 362.4 198.8 360.4 199.7Z"/><path color="#4f96fa" d="M331.9 214.8 333.8 212.8 332.6 212.8 330.7 214.8Z"/><path color="#ccd56b" d="M399.6 204.3 401.5 204.9 400.3 203.9 398.4 203.3Z"/><path color="#faf967" d="M369.9 198.9 371.8 198.3 370.6 197.8 368.6 198.3Z"/><path color="#3ccace" d="M340.1 209.2 342.1 207.6 340.9 207.4 338.9 209.1Z"/><path color="#5cd1bd" d="M407.8 208.6 409.7 209.5 408.5 208.4 406.6 207.5Z"/><path color="#fbfb65" d="M378.1 198.8 380 198.6 378.8 197.9 376.9 198.2Z"/><path color="#aed97d" d="M348.3 204.9 350.3 203.5 349.1 203.2 347.1 204.6Z"/><path color="#f8ed6d" d="M386.3 200 388.2 200.1 387 199.3 385.1 199.2Z"/><path color="#fed278" d="M356.6 201.7 358.5 200.6 357.3 200.3 355.4 201.3Z"/><path color="#facf78" d="M394.5 202.3 396.4 202.8 395.2 201.8 393.3 201.5Z"/><path color="#f8f06d" d="M364.8 199.7 366.7 199 365.5 198.5 363.6 199.2Z"/><path color="#4caeec" d="M335 212.8 337 210.9 335.8 210.9 333.8 212.8Z"/><path color="#9dda88" d="M402.7 205.9 404.7 206.7 403.5 205.6 401.5 204.9Z"/><path color="#fbfc65" d="M373 198.9 374.9 198.5 373.7 197.9 371.8 198.3Z"/><path color="#65d4b4" d="M343.3 207.7 345.2 206.1 344 206 342.1 207.6Z"/><path color="#38c6d6" d="M410.9 210.7 412.9 211.7 411.7 210.5 409.7 209.5Z"/><path color="#faf868" d="M381.2 199.3 383.1 199.2 381.9 198.5 380 198.6Z"/><path color="#d8d366" d="M351.5 203.8 353.4 202.5 352.2 202.2 350.3 203.5Z"/><path color="#fbe370" d="M389.4 200.9 391.4 201.1 390.2 200.3 388.2 200.1Z"/><path color="#fddf71" d="M359.7 201 361.6 200.1 360.4 199.7 358.5 200.6Z"/><path color="#e1d166" d="M397.6 203.7 399.6 204.3 398.4 203.3 396.4 202.8Z"/><path color="#f9f669" d="M367.9 199.5 369.9 198.9 368.6 198.3 366.7 199Z"/><path color="#40c2dd" d="M338.2 211 340.1 209.2 338.9 209.1 337 210.9Z"/><path color="#6dd7ab" d="M405.9 207.7 407.8 208.6 406.6 207.5 404.7 206.7Z"/><path color="#fbfc64" d="M376.1 199.1 378.1 198.8 376.9 198.2 374.9 198.5Z"/><path color="#8eda92" d="M346.4 206.3 348.3 204.9 347.1 204.6 345.2 206.1Z"/><path color="#f8f26c" d="M384.4 200 386.3 200 385.1 199.2 383.1 199.2Z"/><path color="#f4ce72" d="M354.6 202.8 356.6 201.7 355.4 201.3 353.4 202.5Z"/><path color="#fed675" d="M392.6 202 394.5 202.3 393.3 201.5 391.4 201.1Z"/><path color="#f9ea6e" d="M362.8 200.5 364.8 199.7 363.6 199.2 361.6 200.1Z"/><path color="#509ff5" d="M333.1 214.8 335 212.8 333.8 212.8 331.9 214.8Z"/><path color="#bbd774" d="M400.8 205.2 402.7 205.9 401.5 204.9 399.6 204.3Z"/><path color="#fafa66" d="M371.1 199.4 373 198.9 371.8 198.3 369.9 198.9Z"/><path color="#50cec4" d="M341.3 209.3 343.3 207.7 342.1 207.6 340.1 209.2Z"/><path color="#4bcdc7" d="M409 209.7 410.9 210.7 409.7 209.5 407.8 208.6Z"/><path color="#fafa66" d="M379.3 199.5 381.2 199.3 380 198.6 378.1 198.8Z"/><path color="#bfd772" d="M349.5 205.1 351.5 203.8 350.3 203.5 348.3 204.9Z"/><path color="#f9e96e" d="M387.5 200.8 389.4 200.9 388.2 200.1 386.3 200Z"/><path color="#fed775" d="M357.8 202 359.7 201 358.5 200.6 356.6 201.7Z"/><path color="#f2cf70" d="M395.7 203.2 397.6 203.7 396.4 202.8 394.5 202.3Z"/><path color="#f8f36b" d="M366 200.1 367.9 199.5 366.7 199 364.8 199.7Z"/><path color="#4ab6e8" d="M336.3 212.8 338.2 211 337 210.9 335 212.8Z"/><path color="#89da96" d="M403.9 206.9 405.9 207.7 404.7 206.7 402.7 205.9Z"/><path color="#fbfc64" d="M374.2 199.5 376.1 199.1 374.9 198.5 373 198.9Z"/><path color="#71d7a8" d="M344.5 207.8 346.4 206.3 345.2 206.1 343.3 207.7Z"/><path color="#43c0df" d="M412.1 211.8 414.1 212.9 412.9 211.7 410.9 210.7Z"/><path color="#f9f66a" d="M382.4 200 384.4 200 383.1 199.2 381.2 199.3Z"/><path color="#e4d167" d="M352.7 204 354.6 202.8 353.4 202.5 351.5 203.8Z"/><path color="#fdde72" d="M390.6 201.7 392.6 202 391.4 201.1 389.4 200.9Z"/><path color="#fbe470" d="M360.9 201.4 362.8 200.5 361.6 200.1 359.7 201Z"/><path color="#d4d367" d="M398.8 204.6 400.8 205.2 399.6 204.3 397.6 203.7Z"/><path color="#faf868" d="M369.1 200 371.1 199.4 369.9 198.9 367.9 199.5Z"/><path color="#37c7d4" d="M339.4 211.1 341.3 209.3 340.1 209.2 338.2 211Z"/><path color="#62d3b6" d="M407.1 208.8 409 209.7 407.8 208.6 405.9 207.7Z"/><path color="#fbfc65" d="M377.3 199.7 379.3 199.5 378.1 198.8 376.1 199.1Z"/><path color="#a1d985" d="M347.6 206.5 349.5 205.1 348.3 204.9 346.4 206.3Z"/><path color="#f8ef6d" d="M385.6 200.7 387.5 200.8 386.3 200 384.4 200Z"/><path color="#fcd078" d="M355.8 203.1 357.8 202 356.6 201.7 354.6 202.8Z"/><path color="#fdd178" d="M393.8 202.8 395.7 203.2 394.5 202.3 392.6 202Z"/><path color="#f8ee6d" d="M364 200.9 366 200.1 364.8 199.7 362.8 200.5Z"/><path color="#4da8ef" d="M334.3 214.8 336.3 212.8 335 212.8 333.1 214.8Z"/><path color="#a9d980" d="M402 206.2 403.9 206.9 402.7 205.9 400.8 205.2Z"/><path color="#fbfb65" d="M372.3 199.9 374.2 199.5 373 198.9 371.1 199.4Z"/><path color="#5ed2ba" d="M342.5 209.4 344.5 207.8 343.3 207.7 341.3 209.3Z"/><path color="#39c9d1" d="M410.2 210.8 412.1 211.8 410.9 210.7 409 209.7Z"/><path color="#faf968" d="M380.5 200.1 382.4 200 381.2 199.3 379.3 199.5Z"/><path color="#cfd46a" d="M350.8 205.3 352.7 204 351.5 203.8 349.5 205.1Z"/><path color="#fae56f" d="M388.7 201.5 390.6 201.7 389.4 200.9 387.5 200.8Z"/><path color="#fedc72" d="M359 202.3 360.9 201.4 359.7 201 357.8 202Z"/><path color="#e8d068" d="M396.9 204.1 398.8 204.6 397.6 203.7 395.7 203.2Z"/><path color="#f9f56a" d="M367.2 200.6 369.1 200 367.9 199.5 366 200.1Z"/><path color="#46bee2" d="M337.5 212.9 339.4 211.1 338.2 211 336.3 212.8Z"/><path color="#77d8a3" d="M405.1 207.9 407.1 208.8 405.9 207.7 403.9 206.9Z"/><path color="#fbfc64" d="M375.4 200.1 377.3 199.7 376.1 199.1 374.2 199.5Z"/><path color="#82d99b" d="M345.7 208 347.6 206.5 346.4 206.3 344.5 207.8Z"/><path color="#49b9e6" d="M413.3 212.9 415.3 214.1 414.1 212.9 412.1 211.8Z"/><path color="#f9f36b" d="M383.6 200.7 385.6 200.7 384.4 200 382.4 200Z"/><path color="#efcf6c" d="M353.9 204.3 355.8 203.1 354.6 202.8 352.7 204Z"/><path color="#fed974" d="M391.8 202.5 393.8 202.8 392.6 202 390.6 201.7Z"/><path color="#f9e86f" d="M362.1 201.8 364 200.9 362.8 200.5 360.9 201.4Z"/><path color="#c5d66e" d="M400 205.6 402 206.2 400.8 205.2 398.8 204.6Z"/><path color="#fafa67" d="M370.3 200.5 372.3 199.9 371.1 199.4 369.1 200Z"/><path color="#42cccb" d="M340.6 211.1 342.5 209.4 341.3 209.3 339.4 211.1Z"/><path color="#57d0c1" d="M408.3 209.8 410.2 210.8 409 209.7 407.1 208.8Z"/><path color="#fbfb66" d="M378.5 200.3 380.5 200.1 379.3 199.5 377.3 199.7Z"/><path color="#b4d879" d="M348.8 206.7 350.8 205.3 349.5 205.1 347.6 206.5Z"/><path color="#f8ec6e" d="M386.8 201.4 388.7 201.5 387.5 200.8 385.6 200.7Z"/><path color="#fed477" d="M357 203.4 359 202.3 357.8 202 355.8 203.1Z"/><path color="#f7cf75" d="M395 203.7 396.9 204.1 395.7 203.2 393.8 202.8Z"/><path color="#f8f16c" d="M365.2 201.3 367.2 200.6 366 200.1 364 200.9Z"/><path color="#4cb1ea" d="M335.5 214.7 337.5 212.9 336.3 212.8 334.3 214.8Z"/><path color="#95da8d" d="M403.2 207.2 405.1 207.9 403.9 206.9 402 206.2Z"/><path color="#fbfc65" d="M373.5 200.5 375.4 200.1 374.2 199.5 372.3 199.9Z"/><path color="#68d5af" d="M343.7 209.5 345.7 208 344.5 207.8 342.5 209.4Z"/><path color="#3bc4da" d="M411.4 211.8 413.3 212.9 412.1 211.8 410.2 210.8Z"/><path color="#f9f769" d="M381.7 200.8 383.6 200.7 382.4 200 380.5 200.1Z"/><path color="#dcd266" d="M352 205.5 353.9 204.3 352.7 204 350.8 205.3Z"/><path color="#fce171" d="M389.9 202.3 391.8 202.5 390.6 201.7 388.7 201.5Z"/><path color="#fce171" d="M360.2 202.7 362.1 201.8 360.9 201.4 359 202.3Z"/><path color="#dcd266" d="M398.1 205 400 205.6 398.8 204.6 396.9 204.1Z"/><path color="#f9f769" d="M368.4 201.1 370.3 200.5 369.1 200 367.2 200.6Z"/><path color="#3bc4da" d="M338.7 212.9 340.6 211.1 339.4 211.1 337.5 212.9Z"/><path color="#68d5af" d="M406.3 208.9 408.3 209.8 407.1 208.8 405.1 207.9Z"/><path color="#fbfc65" d="M376.6 200.6 378.5 200.3 377.3 199.7 375.4 200.1Z"/><path color="#95da8d" d="M346.9 208.1 348.8 206.7 347.6 206.5 345.7 208Z"/><path color="#4cb1ea" d="M414.5 214 416.5 215.2 415.3 214.1 413.3 212.9Z"/><path color="#f8f16c" d="M384.8 201.4 386.8 201.4 385.6 200.7 383.6 200.7Z"/><path color="#f7cf75" d="M355.1 204.5 357 203.4 355.8 203.1 353.9 204.3Z"/><path color="#fed477" d="M393 203.3 395 203.7 393.8 202.8 391.8 202.5Z"/><path color="#f8ec6e" d="M363.3 202.1 365.2 201.3 364 200.9 362.1 201.8Z"/><path color="#b4d879" d="M401.3 206.5 403.2 207.2 402 206.2 400 205.6Z"/><path color="#fbfb66" d="M371.5 200.9 373.5 200.5 372.3 199.9 370.3 200.5Z"/><path color="#57d0c1" d="M341.8 211.2 343.7 209.5 342.5 209.4 340.6 211.1Z"/><path color="#42cccb" d="M409.5 210.9 411.4 211.8 410.2 210.8 408.3 209.8Z"/><path color="#fafa67" d="M379.7 201 381.7 200.8 380.5 200.1 378.5 200.3Z"/><path color="#c5d66e" d="M350 206.8 352 205.5 350.8 205.3 348.8 206.7Z"/><path color="#f9e86f" d="M388 202.2 389.9 202.3 388.7 201.5 386.8 201.4Z"/><path color="#fed974" d="M358.2 203.7 360.2 202.7 359 202.3 357 203.4Z"/><path color="#efcf6c" d="M396.2 204.6 398.1 205 396.9 204.1 395 203.7Z"/><path color="#f9f36b" d="M366.4 201.7 368.4 201.1 367.2 200.6 365.2 201.3Z"/><path color="#49b9e6" d="M336.7 214.7 338.7 212.9 337.5 212.9 335.5 214.7Z"/><path color="#82d99b" d="M404.4 208.1 406.3 208.9 405.1 207.9 403.2 207.2Z"/><path color="#fbfc64" d="M374.7 201 376.6 200.6 375.4 200.1 373.5 200.5Z"/><path color="#77d8a3" d="M344.9 209.6 346.9 208.1 345.7 208 343.7 209.5Z"/><path color="#46bee2" d="M412.6 212.9 414.5 214 413.3 212.9 411.4 211.8Z"/><path color="#f9f56a" d="M382.9 201.4 384.8 201.4 383.6 200.7 381.7 200.8Z"/><path color="#e8d068" d="M353.2 205.7 355.1 204.5 353.9 204.3 352 205.5Z"/><path color="#fedc72" d="M391.1 203.1 393 203.3 391.8 202.5 389.9 202.3Z"/><path color="#fae56f" d="M361.4 203 363.3 202.1 362.1 201.8 360.2 202.7Z"/><path color="#cfd46a" d="M399.3 205.9 401.3 206.5 400 205.6 398.1 205Z"/><path color="#faf968" d="M369.6 201.5 371.5 200.9 370.3 200.5 368.4 201.1Z"/><path color="#39c9d1" d="M339.9 212.9 341.8 211.2 340.6 211.1 338.7 212.9Z"/><path color="#5ed2ba" d="M407.5 209.9 409.5 210.9 408.3 209.8 406.3 208.9Z"/><path color="#fbfb65" d="M377.8 201.2 379.7 201 378.5 200.3 376.6 200.6Z"/><path color="#a9d980" d="M348.1 208.2 350 206.8 348.8 206.7 346.9 208.1Z"/><path color="#4da8ef" d="M415.8 215.2 417.7 216.4 416.5 215.2 414.5 214Z"/><path color="#f8ee6d" d="M386 202.1 388 202.2 386.8 201.4 384.8 201.4Z"/><path color="#fdd178" d="M356.3 204.8 358.2 203.7 357 203.4 355.1 204.5Z"/><path color="#fcd078" d="M394.2 204.2 396.2 204.6 395 203.7 393 203.3Z"/><path color="#f8ef6d" d="M364.5 202.5 366.4 201.7 365.2 201.3 363.3 202.1Z"/><path color="#a1d985" d="M402.5 207.4 404.4 208.1 403.2 207.2 401.3 206.5Z"/><path color="#fbfc65" d="M372.7 201.4 374.7 201 373.5 200.5 371.5 200.9Z"/><path color="#62d3b6" d="M343 211.2 344.9 209.6 343.7 209.5 341.8 211.2Z"/><path color="#37c7d4" d="M410.7 211.9 412.6 212.9 411.4 211.8 409.5 210.9Z"/><path color="#faf868" d="M380.9 201.6 382.9 201.4 381.7 200.8 379.7 201Z"/><path color="#d4d367" d="M351.2 207 353.2 205.7 352 205.5 350 206.8Z"/><path color="#fbe470" d="M389.2 202.9 391.1 203.1 389.9 202.3 388 202.2Z"/><path color="#fdde72" d="M359.4 204 361.4 203 360.2 202.7 358.2 203.7Z"/><path color="#e4d167" d="M397.4 205.4 399.3 205.9 398.1 205 396.2 204.6Z"/><path color="#f9f66a" d="M367.7 202.2 369.6 201.5 368.4 201.1 366.4 201.7Z"/><path color="#43c0df" d="M337.9 214.7 339.9 212.9 338.7 212.9 336.7 214.7Z"/><path color="#71d7a8" d="M405.6 209.1 407.5 209.9 406.3 208.9 404.4 208.1Z"/><path color="#fbfc64" d="M375.9 201.5 377.8 201.2 376.6 200.6 374.7 201Z"/><path color="#89da96" d="M346.1 209.7 348.1 208.2 346.9 208.1 344.9 209.6Z"/><path color="#4ab6e8" d="M413.8 214 415.8 215.2 414.5 214 412.6 212.9Z"/><path color="#f8f36b" d="M384.1 202.1 386 202.1 384.8 201.4 382.9 201.4Z"/><path color="#f2cf70" d="M354.4 205.9 356.3 204.8 355.1 204.5 353.2 205.7Z"/><path color="#fed775" d="M392.3 203.9 394.2 204.2 393 203.3 391.1 203.1Z"/><path color="#f9e96e" d="M362.6 203.4 364.5 202.5 363.3 202.1 361.4 203Z"/><path color="#bfd772" d="M400.5 206.8 402.5 207.4 401.3 206.5 399.3 205.9Z"/><path color="#fafa66" d="M370.8 202 372.7 201.4 371.5 200.9 369.6 201.5Z"/><path color="#4bcdc7" d="M341.1 212.9 343 211.2 341.8 211.2 339.9 212.9Z"/><path color="#50cec4" d="M408.7 211 410.7 211.9 409.5 210.9 407.5 209.9Z"/><path color="#fafa66" d="M379 201.8 380.9 201.6 379.7 201 377.8 201.2Z"/><path color="#bbd774" d="M349.3 208.4 351.2 207 350 206.8 348.1 208.2Z"/><path color="#509ff5" d="M417 216.3 418.9 217.6 417.7 216.4 415.8 215.2Z"/><path color="#f9ea6e" d="M387.2 202.8 389.2 202.9 388 202.2 386 202.1Z"/><path color="#fed675" d="M357.5 205 359.4 204 358.2 203.7 356.3 204.8Z"/><path color="#f4ce72" d="M395.4 205 397.4 205.4 396.2 204.6 394.2 204.2Z"/><path color="#f8f26c" d="M365.7 202.9 367.7 202.2 366.4 201.7 364.5 202.5Z"/><path color="#8eda92" d="M403.7 208.4 405.6 209.1 404.4 208.1 402.5 207.4Z"/><path color="#fbfc64" d="M373.9 201.9 375.9 201.5 374.7 201 372.7 201.4Z"/><path color="#6dd7ab" d="M344.2 211.3 346.1 209.7 344.9 209.6 343 211.2Z"/><path color="#40c2dd" d="M411.9 213 413.8 214 412.6 212.9 410.7 211.9Z"/><path color="#f9f669" d="M382.2 202.2 384.1 202.1 382.9 201.4 380.9 201.6Z"/><path color="#e1d166" d="M352.4 207.2 354.4 205.9 353.2 205.7 351.2 207Z"/><path color="#fddf71" d="M390.4 203.6 392.3 203.9 391.1 203.1 389.2 202.9Z"/><path color="#fbe370" d="M360.6 204.3 362.6 203.4 361.4 203 359.4 204Z"/><path color="#d8d366" d="M398.6 206.3 400.5 206.8 399.3 205.9 397.4 205.4Z"/><path color="#faf868" d="M368.9 202.6 370.8 202 369.6 201.5 367.7 202.2Z"/><path color="#38c6d6" d="M339.1 214.7 341.1 212.9 339.9 212.9 337.9 214.7Z"/><path color="#65d4b4" d="M406.8 210.1 408.7 211 407.5 209.9 405.6 209.1Z"/><path color="#fbfc65" d="M377.1 202.1 379 201.8 377.8 201.2 375.9 201.5Z"/><path color="#9dda88" d="M347.3 209.8 349.3 208.4 348.1 208.2 346.1 209.7Z"/><path color="#4caeec" d="M415 215.1 417 216.3 415.8 215.2 413.8 214Z"/><path color="#f8f06d" d="M385.3 202.7 387.2 202.8 386 202.1 384.1 202.1Z"/><path color="#facf78" d="M355.6 206.2 357.5 205 356.3 204.8 354.4 205.9Z"/><path color="#fed278" d="M393.5 204.6 395.4 205 394.2 204.2 392.3 203.9Z"/><path color="#f8ed6d" d="M363.8 203.7 365.7 202.9 364.5 202.5 362.6 203.4Z"/><path color="#aed97d" d="M401.7 207.7 403.7 208.4 402.5 207.4 400.5 206.8Z"/><path color="#fbfb65" d="M372 202.4 373.9 201.9 372.7 201.4 370.8 202Z"/><path color="#5cd1bd" d="M342.3 212.9 344.2 211.3 343 211.2 341.1 212.9Z"/><path color="#3ccace" d="M409.9 212 411.9 213 410.7 211.9 408.7 211Z"/><path color="#faf967" d="M380.2 202.3 382.2 202.2 380.9 201.6 379 201.8Z"/><path color="#ccd56b" d="M350.5 208.5 352.4 207.2 351.2 207 349.3 208.4Z"/><path color="#4f96fa" d="M418.2 217.4 420.1 218.7 418.9 217.6 417 216.3Z"/><path color="#fae76f" d="M388.4 203.5 390.4 203.6 389.2 202.9 387.2 202.8Z"/><path color="#fedb73" d="M358.7 205.3 360.6 204.3 359.4 204 357.5 205Z"/><path color="#ebcf6a" d="M396.6 205.8 398.6 206.3 397.4 205.4 395.4 205Z"/><path color="#f9f56a" d="M366.9 203.3 368.9 202.6 367.7 202.2 365.7 202.9Z"/><path color="#7cd9a0" d="M404.9 209.3 406.8 210.1 405.6 209.1 403.7 208.4Z"/><path color="#fbfc64" d="M375.1 202.4 377.1 202.1 375.9 201.5 373.9 201.9Z"/><path color="#7fd99e" d="M345.4 211.3 347.3 209.8 346.1 209.7 344.2 211.3Z"/><path color="#48bbe5" d="M413.1 214 415 215.1 413.8 214 411.9 213Z"/><path color="#f9f46a" d="M383.4 202.8 385.3 202.7 384.1 202.1 382.2 202.2Z"/><path color="#edcf6b" d="M353.6 207.4 355.6 206.2 354.4 205.9 352.4 207.2Z"/><path color="#fedb73" d="M391.6 204.4 393.5 204.6 392.3 203.9 390.4 203.6Z"/><path color="#fae76f" d="M361.8 204.6 363.8 203.7 362.6 203.4 360.6 204.3Z"/><path color="#cad56c" d="M399.8 207.1 401.7 207.7 400.5 206.8 398.6 206.3Z"/><path color="#fafa67" d="M370.1 203 372 202.4 370.8 202 368.9 202.6Z"/><path color="#3fcbcd" d="M340.3 214.6 342.3 212.9 341.1 212.9 339.1 214.7Z"/><path color="#5ad1be" d="M408 211.1 409.9 212 408.7 211 406.8 210.1Z"/><path color="#fbfb65" d="M378.3 202.6 380.2 202.3 379 201.8 377.1 202.1Z"/><path color="#b0d87b" d="M348.6 209.9 350.5 208.5 349.3 208.4 347.3 209.8Z"/><path color="#4fa5f1" d="M416.2 216.2 418.2 217.4 417 216.3 415 215.1Z"/><path color="#f8ed6d" d="M386.5 203.4 388.4 203.5 387.2 202.8 385.3 202.7Z"/><path color="#fed377" d="M356.8 206.4 358.7 205.3 357.5 205 355.6 206.2Z"/><path color="#facf77" d="M394.7 205.4 396.6 205.8 395.4 205 393.5 204.6Z"/><path color="#f8f16c" d="M365 204 366.9 203.3 365.7 202.9 363.8 203.7Z"/><path color="#9bda8a" d="M402.9 208.6 404.9 209.3 403.7 208.4 401.7 207.7Z"/><path color="#fbfc65" d="M373.2 202.9 375.1 202.4 373.9 201.9 372 202.4Z"/><path color="#66d5b2" d="M343.5 212.9 345.4 211.3 344.2 211.3 342.3 212.9Z"/><path color="#39c5d8" d="M411.1 213 413.1 214 411.9 213 409.9 212Z"/><path color="#faf868" d="M381.4 202.9 383.4 202.8 382.2 202.2 380.2 202.3Z"/><path color="#dad266" d="M351.7 208.6 353.6 207.4 352.4 207.2 350.5 208.5Z"/><path color="#528cfd" d="M419.4 218.6 421.3 219.9 420.1 218.7 418.2 217.4Z"/><path color="#fce270" d="M389.6 204.2 391.6 204.4 390.4 203.6 388.4 203.5Z"/><path color="#fce071" d="M359.9 205.5 361.8 204.6 360.6 204.3 358.7 205.3Z"/><path color="#e0d166" d="M397.8 206.6 399.8 207.1 398.6 206.3 396.6 205.8Z"/><path color="#f9f769" d="M368.1 203.6 370.1 203 368.9 202.6 366.9 203.3Z"/><path color="#6cd6ac" d="M406.1 210.2 408 211.1 406.8 210.1 404.9 209.3Z"/><path color="#fbfc65" d="M376.3 202.9 378.3 202.6 377.1 202.1 375.1 202.4Z"/><path color="#92da90" d="M346.6 211.4 348.6 209.9 347.3 209.8 345.4 211.3Z"/><path color="#4bb3e9" d="M414.3 215.1 416.2 216.2 415 215.1 413.1 214Z"/><path color="#f8f26c" d="M384.6 203.4 386.5 203.4 385.3 202.7 383.4 202.8Z"/><path color="#f6cf73" d="M354.8 207.5 356.8 206.4 355.6 206.2 353.6 207.4Z"/><path color="#fed676" d="M392.8 205.1 394.7 205.4 393.5 204.6 391.6 204.4Z"/><path color="#f8eb6e" d="M363 204.9 365 204 363.8 203.7 361.8 204.6Z"/><path color="#bad775" d="M401 208 402.9 208.6 401.7 207.7 399.8 207.1Z"/><path color="#fbfb65" d="M371.3 203.4 373.2 202.9 372 202.4 370.1 203Z"/><path color="#53cfc3" d="M341.5 214.6 343.5 212.9 342.3 212.9 340.3 214.6Z"/><path color="#49cdc8" d="M409.2 212 411.1 213 409.9 212 408 211.1Z"/><path color="#fafa66" d="M379.5 203.1 381.4 202.9 380.2 202.3 378.3 202.6Z"/><path color="#c2d670" d="M349.8 210 351.7 208.6 350.5 208.5 348.6 209.9Z"/><path color="#4f9cf7" d="M417.4 217.3 419.4 218.6 418.2 217.4 416.2 216.2Z"/><path color="#f9e96e" d="M387.7 204 389.6 204.2 388.4 203.5 386.5 203.4Z"/><path color="#fed874" d="M358 206.6 359.9 205.5 358.7 205.3 356.8 206.4Z"/><path color="#f2cf6f" d="M395.9 206.2 397.8 206.6 396.6 205.8 394.7 205.4Z"/><path color="#f9f36b" d="M366.2 204.4 368.1 203.6 366.9 203.3 365 204Z"/><path color="#88d997" d="M404.1 209.5 406.1 210.2 404.9 209.3 402.9 208.6Z"/><path color="#fbfc64" d="M374.4 203.3 376.3 202.9 375.1 202.4 373.2 202.9Z"/><path color="#74d8a5" d="M344.7 213 346.6 211.4 345.4 211.3 343.5 212.9Z"/><path color="#44c0e0" d="M412.3 214 414.3 215.1 413.1 214 411.1 213Z"/><path color="#f9f669" d="M382.6 203.5 384.6 203.4 383.4 202.8 381.4 202.9Z"/><path color="#e7d067" d="M352.9 208.8 354.8 207.5 353.6 207.4 351.7 208.6Z"/><path color="#5883ff" d="M420.6 219.7 422.5 221.1 421.3 219.9 419.4 218.6Z"/><path color="#fdde72" d="M390.8 204.9 392.8 205.1 391.6 204.4 389.6 204.2Z"/><path color="#fae570" d="M361.1 205.8 363 204.9 361.8 204.6 359.9 205.5Z"/><path color="#d4d467" d="M399.1 207.4 401 208 399.8 207.1 397.8 206.6Z"/><path color="#faf967" d="M369.3 204 371.3 203.4 370.1 203 368.1 203.6Z"/><path color="#61d3b7" d="M407.3 211.2 409.2 212 408 211.1 406.1 210.2Z"/><path color="#fbfb65" d="M377.5 203.4 379.5 203.1 378.3 202.6 376.3 202.9Z"/><path color="#a6d982" d="M347.8 211.4 349.8 210 348.6 209.9 346.6 211.4Z"/><path color="#4dabed" d="M415.5 216.1 417.4 217.3 416.2 216.2 414.3 215.1Z"/><path color="#f8ef6d" d="M385.8 204 387.7 204 386.5 203.4 384.6 203.4Z"/><path color="#fdd178" d="M356 207.7 358 206.6 356.8 206.4 354.8 207.5Z"/><path color="#fdd178" d="M394 205.8 395.9 206.2 394.7 205.4 392.8 205.1Z"/><path color="#f8ef6d" d="M364.2 205.2 366.2 204.4 365 204 363 204.9Z"/><path color="#a8d981" d="M402.2 208.8 404.1 209.5 402.9 208.6 401 208Z"/><path color="#fbfc65" d="M372.5 203.8 374.4 203.3 373.2 202.9 371.3 203.4Z"/><path color="#61d3b8" d="M342.7 214.6 344.7 213 343.5 212.9 341.5 214.6Z"/><path color="#38c9d1" d="M410.4 213 412.3 214 411.1 213 409.2 212Z"/><path color="#faf968" d="M380.7 203.7 382.6 203.5 381.4 202.9 379.5 203.1Z"/><path color="#d2d468" d="M351 210.1 352.9 208.8 351.7 208.6 349.8 210Z"/><path color="#4f93fb" d="M418.6 218.4 420.6 219.7 419.4 218.6 417.4 217.3Z"/><path color="#fae66f" d="M388.9 204.7 390.8 204.9 389.6 204.2 387.7 204Z"/><path color="#fdde72" d="M359.2 206.8 361.1 205.8 359.9 205.5 358 206.6Z"/><path color="#e8d068" d="M397.1 206.9 399.1 207.4 397.8 206.6 395.9 206.2Z"/><path color="#f9f669" d="M367.4 204.7 369.3 204 368.1 203.6 366.2 204.4Z"/><path color="#76d8a4" d="M405.3 210.4 407.3 211.2 406.1 210.2 404.1 209.5Z"/><path color="#fbfc65" d="M375.6 203.8 377.5 203.4 376.3 202.9 374.4 203.3Z"/><path color="#87d998" d="M345.9 213 347.8 211.4 346.6 211.4 344.7 213Z"/><path color="#49b9e6" d="M413.6 215 415.5 216.1 414.3 215.1 412.3 214Z"/><path color="#f9f46b" d="M383.8 204.1 385.8 204 384.6 203.4 382.6 203.5Z"/><path color="#f1cf6f" d="M354.1 208.9 356 207.7 354.8 207.5 352.9 208.8Z"/><path color="#fed974" d="M392 205.5 394 205.8 392.8 205.1 390.8 204.9Z"/><path color="#f9e96e" d="M362.3 206 364.2 205.2 363 204.9 361.1 205.8Z"/><path color="#c5d66e" d="M400.3 208.2 402.2 208.8 401 208 399.1 207.4Z"/><path color="#fbfb66" d="M370.5 204.4 372.5 203.8 371.3 203.4 369.3 204Z"/><path color="#56d0c1" d="M408.5 212.1 410.4 213 409.2 212 407.3 211.2Z"/><path color="#fafa66" d="M378.7 203.9 380.7 203.7 379.5 203.1 377.5 203.4Z"/><path color="#b9d876" d="M349 211.5 351 210.1 349.8 210 347.8 211.4Z"/><path color="#4fa2f3" d="M416.7 217.2 418.6 218.4 417.4 217.3 415.5 216.1Z"/><path color="#f8ec6e" d="M387 204.6 388.9 204.7 387.7 204 385.8 204Z"/><path color="#fed676" d="M357.2 207.9 359.2 206.8 358 206.6 356 207.7Z"/><path color="#f8cf75" d="M395.2 206.6 397.1 206.9 395.9 206.2 394 205.8Z"/><path color="#f8f26b" d="M365.5 205.5 367.4 204.7 366.2 204.4 364.2 205.2Z"/><path color="#95da8d" d="M403.4 209.7 405.3 210.4 404.1 209.5 402.2 208.8Z"/><path color="#fbfc64" d="M373.7 204.2 375.6 203.8 374.4 203.3 372.5 203.8Z"/><path color="#6cd6ac" d="M343.9 214.6 345.9 213 344.7 213 342.7 214.6Z"/><path color="#3cc4da" d="M411.6 214 413.6 215 412.3 214 410.4 213Z"/><path color="#f9f769" d="M381.9 204.2 383.8 204.1 382.6 203.5 380.7 203.7Z"/><path color="#e0d166" d="M352.2 210.2 354.1 208.9 352.9 208.8 351 210.1Z"/><path color="#fce171" d="M390.1 205.4 392 205.5 390.8 204.9 388.9 204.7Z"/><path color="#fbe370" d="M360.4 207 362.3 206 361.1 205.8 359.2 206.8Z"/><path color="#ddd265" d="M398.3 207.7 400.3 208.2 399.1 207.4 397.1 206.9Z"/><path color="#faf868" d="M368.6 205 370.5 204.4 369.3 204 367.4 204.7Z"/><path color="#68d5af" d="M406.5 211.3 408.5 212.1 407.3 211.2 405.3 210.4Z"/><path color="#fbfb65" d="M376.8 204.2 378.7 203.9 377.5 203.4 375.6 203.8Z"/><path color="#9bda8a" d="M347.1 213 349 211.5 347.8 211.4 345.9 213Z"/><path color="#4cb1ea" d="M414.8 216 416.7 217.2 415.5 216.1 413.6 215Z"/><path color="#f8f26c" d="M385 204.6 387 204.6 385.8 204 383.8 204.1Z"/><path color="#facf78" d="M355.3 209 357.2 207.9 356 207.7 354.1 208.9Z"/><path color="#fed576" d="M393.2 206.2 395.2 206.6 394 205.8 392 205.5Z"/><path color="#f8ed6d" d="M363.5 206.3 365.5 205.5 364.2 205.2 362.3 206Z"/><path color="#b5d878" d="M401.5 209 403.4 209.7 402.2 208.8 400.3 208.2Z"/><path color="#fbfc65" d="M371.7 204.8 373.7 204.2 372.5 203.8 370.5 204.4Z"/><path color="#42cccb" d="M409.7 213 411.6 214 410.4 213 408.5 212.1Z"/><path color="#faf968" d="M380 204.4 381.9 204.2 380.7 203.7 378.7 203.9Z"/><path color="#cad56c" d="M350.2 211.6 352.2 210.2 351 210.1 349 211.5Z"/><path color="#f9e96e" d="M388.2 205.2 390.1 205.4 388.9 204.7 387 204.6Z"/><path color="#fedb73" d="M358.4 208.1 360.4 207 359.2 206.8 357.2 207.9Z"/><path color="#efcf6d" d="M396.4 207.3 398.3 207.7 397.1 206.9 395.2 206.6Z"/><path color="#f9f56a" d="M366.7 205.7 368.6 205 367.4 204.7 365.5 205.5Z"/><path color="#83d99b" d="M404.6 210.5 406.5 211.3 405.3 210.4 403.4 209.7Z"/><path color="#fbfc65" d="M374.9 204.6 376.8 204.2 375.6 203.8 373.7 204.2Z"/><path color="#7dd99f" d="M345.1 214.5 347.1 213 345.9 213 343.9 214.6Z"/><path color="#46bee2" d="M412.8 215 414.8 216 413.6 215 411.6 214Z"/><path color="#f9f56a" d="M383.1 204.7 385 204.6 383.8 204.1 381.9 204.2Z"/><path color="#eccf6a" d="M353.4 210.3 355.3 209 354.1 208.9 352.2 210.2Z"/><path color="#fddd72" d="M391.3 206 393.2 206.2 392 205.5 390.1 205.4Z"/><path color="#f9e86f" d="M361.6 207.2 363.5 206.3 362.3 206 360.4 207Z"/><path color="#d0d469" d="M399.5 208.5 401.5 209 400.3 208.2 398.3 207.7Z"/><path color="#fafa66" d="M369.8 205.4 371.7 204.8 370.5 204.4 368.6 205Z"/><path color="#5fd2ba" d="M407.7 212.2 409.7 213 408.5 212.1 406.5 211.3Z"/><path color="#fafa66" d="M378 204.7 380 204.4 378.7 203.9 376.8 204.2Z"/><path color="#afd87c" d="M348.3 213 350.2 211.6 349 211.5 347.1 213Z"/><path color="#f8ef6d" d="M386.2 205.2 388.2 205.2 387 204.6 385 204.6Z"/><path color="#fed377" d="M356.5 209.2 358.4 208.1 357.2 207.9 355.3 209Z"/><path color="#fcd078" d="M394.4 206.9 396.4 207.3 395.2 206.6 393.2 206.2Z"/><path color="#f8f16c" d="M364.7 206.6 366.7 205.7 365.5 205.5 363.5 206.3Z"/><path color="#a3d984" d="M402.7 209.8 404.6 210.5 403.4 209.7 401.5 209Z"/><path color="#fbfc64" d="M372.9 205.1 374.9 204.6 373.7 204.2 371.7 204.8Z"/><path color="#37c7d4" d="M410.9 214 412.8 215 411.6 214 409.7 213Z"/><path color="#f9f769" d="M381.2 204.9 383.1 204.7 381.9 204.2 380 204.4Z"/><path color="#dad266" d="M351.4 211.6 353.4 210.3 352.2 210.2 350.2 211.6Z"/><path color="#fae570" d="M389.4 205.9 391.3 206 390.1 205.4 388.2 205.2Z"/><path color="#fce171" d="M359.6 208.2 361.6 207.2 360.4 207 358.4 208.1Z"/><path color="#e6d067" d="M397.6 208 399.5 208.5 398.3 207.7 396.4 207.3Z"/><path color="#faf868" d="M367.9 206 369.8 205.4 368.6 205 366.7 205.7Z"/><path color="#72d7a7" d="M405.8 211.4 407.7 212.2 406.5 211.3 404.6 210.5Z"/><path color="#fbfb65" d="M376.1 205.1 378 204.7 376.8 204.2 374.9 204.6Z"/><path color="#90da91" d="M346.4 214.5 348.3 213 347.1 213 345.1 214.5Z"/><path color="#f8f36b" d="M384.3 205.3 386.2 205.2 385 204.6 383.1 204.7Z"/><path color="#f6cf73" d="M354.6 210.4 356.5 209.2 355.3 209 353.4 210.3Z"/><path color="#fed874" d="M392.5 206.7 394.4 206.9 393.2 206.2 391.3 206Z"/><path color="#f8ec6e" d="M362.8 207.4 364.7 206.6 363.5 206.3 361.6 207.2Z"/><path color="#c1d671" d="M400.7 209.3 402.7 209.8 401.5 209 399.5 208.5Z"/><path color="#fbfc65" d="M371 205.7 372.9 205.1 371.7 204.8 369.8 205.4Z"/><path color="#51cfc4" d="M408.9 213.1 410.9 214 409.7 213 407.7 212.2Z"/><path color="#faf968" d="M379.2 205.1 381.2 204.9 380 204.4 378 204.7Z"/><path color="#c2d670" d="M349.5 213 351.4 211.6 350.2 211.6 348.3 213Z"/><path color="#f8ec6e" d="M387.4 205.8 389.4 205.9 388.2 205.2 386.2 205.2Z"/><path color="#fed974" d="M357.7 209.3 359.6 208.2 358.4 208.1 356.5 209.2Z"/><path color="#f6cf73" d="M395.6 207.6 397.6 208 396.4 207.3 394.4 206.9Z"/><path color="#f9f46a" d="M365.9 206.8 367.9 206 366.7 205.7 364.7 206.6Z"/><path color="#90da91" d="M403.9 210.7 405.8 211.4 404.6 210.5 402.7 209.8Z"/><path color="#fbfc65" d="M374.1 205.5 376.1 205.1 374.9 204.6 372.9 205.1Z"/><path color="#f9f56a" d="M382.4 205.4 384.3 205.3 383.1 204.7 381.2 204.9Z"/><path color="#e7d067" d="M352.6 211.7 354.6 210.4 353.4 210.3 351.4 211.6Z"/><path color="#fce171" d="M390.6 206.5 392.5 206.7 391.3 206 389.4 205.9Z"/><path color="#fae66f" d="M360.8 208.4 362.8 207.4 361.6 207.2 359.6 208.2Z"/><path color="#dad266" d="M398.8 208.7 400.7 209.3 399.5 208.5 397.6 208Z"/><path color="#fafa66" d="M369.1 206.3 371 205.7 369.8 205.4 367.9 206Z"/><path color="#66d5b2" d="M407 212.2 408.9 213.1 407.7 212.2 405.8 211.4Z"/><path color="#fafa66" d="M377.3 205.5 379.2 205.1 378 204.7 376.1 205.1Z"/><path color="#a5d983" d="M347.6 214.5 349.5 213 348.3 213 346.4 214.5Z"/><path color="#f8f06c" d="M385.5 205.8 387.4 205.8 386.2 205.2 384.3 205.3Z"/><path color="#fdd178" d="M355.8 210.5 357.7 209.3 356.5 209.2 354.6 210.4Z"/><path color="#fed477" d="M393.7 207.3 395.6 207.6 394.4 206.9 392.5 206.7Z"/><path color="#f8f06d" d="M364 207.7 365.9 206.8 364.7 206.6 362.8 207.4Z"/><path color="#b0d87b" d="M401.9 210 403.9 210.7 402.7 209.8 400.7 209.3Z"/><path color="#fbfc64" d="M372.2 206 374.1 205.5 372.9 205.1 371 205.7Z"/><path color="#f9f769" d="M380.4 205.6 382.4 205.4 381.2 204.9 379.2 205.1Z"/><path color="#d2d468" d="M350.7 213 352.6 211.7 351.4 211.6 349.5 213Z"/><path color="#f9e86e" d="M388.6 206.4 390.6 206.5 389.4 205.9 387.4 205.8Z"/><path color="#fdde72" d="M358.9 209.4 360.8 208.4 359.6 208.2 357.7 209.3Z"/><path color="#eecf6b" d="M396.9 208.3 398.8 208.7 397.6 208 395.6 207.6Z"/><path color="#f9f769" d="M367.1 207.1 369.1 206.3 367.9 206 365.9 206.8Z"/><path color="#7fd99e" d="M405.1 211.5 407 212.2 405.8 211.4 403.9 210.7Z"/><path color="#fbfb65" d="M375.3 205.9 377.3 205.5 376.1 205.1 374.1 205.5Z"/><path color="#f8f36b" d="M383.6 205.9 385.5 205.8 384.3 205.3 382.4 205.4Z"/><path color="#f2cf6f" d="M353.8 211.7 355.8 210.5 354.6 210.4 352.6 211.7Z"/><path color="#fedc72" d="M391.8 207.1 393.7 207.3 392.5 206.7 390.6 206.5Z"/><path color="#f9ea6e" d="M362 208.6 364 207.7 362.8 207.4 360.8 208.4Z"/><path color="#cdd56a" d="M400 209.5 401.9 210 400.7 209.3 398.8 208.7Z"/><path color="#fbfc65" d="M370.3 206.6 372.2 206 371 205.7 369.1 206.3Z"/><path color="#faf968" d="M378.5 205.9 380.4 205.6 379.2 205.1 377.3 205.5Z"/><path color="#b9d876" d="M348.8 214.5 350.7 213 349.5 213 347.6 214.5Z"/><path color="#f8ee6d" d="M386.7 206.3 388.6 206.4 387.4 205.8 385.5 205.8Z"/><path color="#fed675" d="M357 210.6 358.9 209.4 357.7 209.3 355.8 210.5Z"/><path color="#fcd078" d="M394.9 208 396.9 208.3 395.6 207.6 393.7 207.3Z"/><path color="#f9f36b" d="M365.2 207.9 367.1 207.1 365.9 206.8 364 207.7Z"/><path color="#9eda87" d="M403.1 210.8 405.1 211.5 403.9 210.7 401.9 210Z"/><path color="#fbfc65" d="M373.4 206.4 375.3 205.9 374.1 205.5 372.2 206Z"/><path color="#f9f56a" d="M381.6 206 383.6 205.9 382.4 205.4 380.4 205.6Z"/><path color="#e1d166" d="M351.9 213 353.8 211.7 352.6 211.7 350.7 213Z"/><path color="#fbe570" d="M389.8 206.9 391.8 207.1 390.6 206.5 388.6 206.4Z"/><path color="#fbe470" d="M360.1 209.6 362 208.6 360.8 208.4 358.9 209.4Z"/><path color="#e4d166" d="M398.1 209 400 209.5 398.8 208.7 396.9 208.3Z"/><path color="#fafa66" d="M368.3 207.3 370.3 206.6 369.1 206.3 367.1 207.1Z"/><path color="#fafa66" d="M376.5 206.2 378.5 205.9 377.3 205.5 375.3 205.9Z"/><path color="#f8f06c" d="M384.8 206.4 386.7 206.3 385.5 205.8 383.6 205.9Z"/><path color="#fbcf78" d="M355 211.8 357 210.6 355.8 210.5 353.8 211.7Z"/><path color="#fed874" d="M393 207.7 394.9 208 393.7 207.3 391.8 207.1Z"/><path color="#f8ef6d" d="M363.3 208.8 365.2 207.9 364 207.7 362 208.6Z"/><path color="#bed773" d="M401.2 210.2 403.1 210.8 401.9 210 400 209.5Z"/><path color="#fbfc64" d="M371.5 206.9 373.4 206.4 372.2 206 370.3 206.6Z"/><path color="#f9f769" d="M379.7 206.3 381.6 206 380.4 205.6 378.5 205.9Z"/><path color="#cbd56b" d="M350 214.4 351.9 213 350.7 213 348.8 214.5Z"/><path color="#f9ea6e" d="M387.9 206.9 389.8 206.9 388.6 206.4 386.7 206.3Z"/><path color="#fedc72" d="M358.2 210.7 360.1 209.6 358.9 209.4 357 210.6Z"/><path color="#f5cf72" d="M396.1 208.6 398.1 209 396.9 208.3 394.9 208Z"/><path color="#f9f769" d="M366.4 208.1 368.3 207.3 367.1 207.1 365.2 207.9Z"/><path color="#fbfb65" d="M374.6 206.7 376.5 206.2 375.3 205.9 373.4 206.4Z"/><path color="#f8f36b" d="M382.8 206.5 384.8 206.4 383.6 205.9 381.6 206Z"/><path color="#edcf6b" d="M353.1 213.1 355 211.8 353.8 211.7 351.9 213Z"/><path color="#fce071" d="M391 207.5 393 207.7 391.8 207.1 389.8 206.9Z"/><path color="#f9e96e" d="M361.3 209.7 363.3 208.8 362 208.6 360.1 209.6Z"/><path color="#d8d366" d="M399.3 209.7 401.2 210.2 400 209.5 398.1 209Z"/><path color="#fbfc65" d="M369.5 207.6 371.5 206.9 370.3 206.6 368.3 207.3Z"/><path color="#faf968" d="M377.8 206.6 379.7 206.3 378.5 205.9 376.5 206.2Z"/><path color="#f8ee6d" d="M386 206.9 387.9 206.9 386.7 206.3 384.8 206.4Z"/><path color="#fed477" d="M356.2 211.8 358.2 210.7 357 210.6 355 211.8Z"/><path color="#fed377" d="M394.2 208.3 396.1 208.6 394.9 208 393 207.7Z"/><path color="#f8f36b" d="M364.5 208.9 366.4 208.1 365.2 207.9 363.3 208.8Z"/><path color="#fbfc65" d="M372.7 207.2 374.6 206.7 373.4 206.4 371.5 206.9Z"/><path color="#f9f56a" d="M380.9 206.7 382.8 206.5 381.6 206 379.7 206.3Z"/><path color="#dbd266" d="M351.2 214.4 353.1 213.1 351.9 213 350 214.4Z"/><path color="#fae76f" d="M389.1 207.4 391 207.5 389.8 206.9 387.9 206.9Z"/><path color="#fce270" d="M359.4 210.8 361.3 209.7 360.1 209.6 358.2 210.7Z"/><path color="#eccf6a" d="M397.3 209.3 399.3 209.7 398.1 209 396.1 208.6Z"/><path color="#fafa67" d="M367.6 208.3 369.5 207.6 368.3 207.3 366.4 208.1Z"/><path color="#fafa66" d="M375.8 207 377.8 206.6 376.5 206.2 374.6 206.7Z"/><path color="#f8f06c" d="M384 207 386 206.9 384.8 206.4 382.8 206.5Z"/><path color="#f7cf75" d="M354.3 213.1 356.2 211.8 355 211.8 353.1 213.1Z"/><path color="#fedc72" d="M392.2 208.1 394.2 208.3 393 207.7 391 207.5Z"/><path color="#f8ed6d" d="M362.5 209.9 364.5 208.9 363.3 208.8 361.3 209.7Z"/><path color="#fbfc64" d="M370.7 207.8 372.7 207.2 371.5 206.9 369.5 207.6Z"/><path color="#f9f769" d="M379 207 380.9 206.7 379.7 206.3 377.8 206.6Z"/><path color="#f9ea6e" d="M387.2 207.4 389.1 207.4 387.9 206.9 386 206.9Z"/><path color="#feda73" d="M357.4 211.9 359.4 210.8 358.2 210.7 356.2 211.8Z"/><path color="#fbcf78" d="M395.4 208.9 397.3 209.3 396.1 208.6 394.2 208.3Z"/><path color="#f9f669" d="M365.7 209.1 367.6 208.3 366.4 208.1 364.5 208.9Z"/><path color="#fbfb65" d="M373.9 207.5 375.8 207 374.6 206.7 372.7 207.2Z"/><path color="#f8f36b" d="M382.1 207.1 384 207 382.8 206.5 380.9 206.7Z"/><path color="#e8d068" d="M352.4 214.4 354.3 213.1 353.1 213.1 351.2 214.4Z"/><path color="#fbe370" d="M390.3 207.9 392.2 208.1 391 207.5 389.1 207.4Z"/><path color="#fae76f" d="M360.6 210.9 362.5 209.9 361.3 209.7 359.4 210.8Z"/><path color="#fbfc65" d="M368.8 208.5 370.7 207.8 369.5 207.6 367.6 208.3Z"/><path color="#faf968" d="M377 207.4 379 207 377.8 206.6 375.8 207Z"/><path color="#f8ee6d" d="M385.2 207.4 387.2 207.4 386 206.9 384 207Z"/><path color="#fed278" d="M355.5 213.1 357.4 211.9 356.2 211.8 354.3 213.1Z"/><path color="#fed875" d="M393.4 208.7 395.4 208.9 394.2 208.3 392.2 208.1Z"/><path color="#f8f26c" d="M363.7 210 365.7 209.1 364.5 208.9 362.5 209.9Z"/><path color="#fbfc65" d="M371.9 208.1 373.9 207.5 372.7 207.2 370.7 207.8Z"/><path color="#f9f56a" d="M380.2 207.4 382.1 207.1 380.9 206.7 379 207Z"/><path color="#fae76f" d="M388.4 207.9 390.3 207.9 389.1 207.4 387.2 207.4Z"/><path color="#fde071" d="M358.6 211.9 360.6 210.9 359.4 210.8 357.4 211.9Z"/><path color="#faf967" d="M366.9 209.3 368.8 208.5 367.6 208.3 365.7 209.1Z"/><path color="#fafa66" d="M375.1 207.8 377 207.4 375.8 207 373.9 207.5Z"/><path color="#f8f06c" d="M383.3 207.5 385.2 207.4 384 207 382.1 207.1Z"/><path color="#f3cf71" d="M353.6 214.4 355.5 213.1 354.3 213.1 352.4 214.4Z"/><path color="#fdde72" d="M391.5 208.5 393.4 208.7 392.2 208.1 390.3 207.9Z"/><path color="#f8ec6e" d="M361.8 211 363.7 210 362.5 209.9 360.6 210.9Z"/><path color="#fbfc64" d="M370 208.7 371.9 208.1 370.7 207.8 368.8 208.5Z"/><path color="#f9f769" d="M378.2 207.7 380.2 207.4 379 207 377 207.4Z"/><path color="#f9ea6e" d="M386.4 207.9 388.4 207.9 387.2 207.4 385.2 207.4Z"/><path color="#fed874" d="M356.7 213.1 358.6 211.9 357.4 211.9 355.5 213.1Z"/><path color="#f9f66a" d="M364.9 210.1 366.9 209.3 365.7 209.1 363.7 210Z"/><path color="#fbfb65" d="M373.1 208.3 375.1 207.8 373.9 207.5 371.9 208.1Z"/><path color="#f8f36b" d="M381.4 207.7 383.3 207.5 382.1 207.1 380.2 207.4Z"/><path color="#fbe370" d="M389.6 208.3 391.5 208.5 390.3 207.9 388.4 207.9Z"/><path color="#fae66f" d="M359.8 212 361.8 211 360.6 210.9 358.6 211.9Z"/><path color="#fbfc65" d="M368.1 209.5 370 208.7 368.8 208.5 366.9 209.3Z"/><path color="#faf968" d="M376.3 208.1 378.2 207.7 377 207.4 375.1 207.8Z"/><path color="#f8ee6d" d="M384.5 207.9 386.4 207.9 385.2 207.4 383.3 207.5Z"/><path color="#fcd078" d="M354.8 214.3 356.7 213.1 355.5 213.1 353.6 214.4Z"/><path color="#f8f16c" d="M363 211 364.9 210.1 363.7 210 361.8 211Z"/><path color="#fbfc65" d="M371.2 208.9 373.1 208.3 371.9 208.1 370 208.7Z"/><path color="#f9f56a" d="M379.4 208 381.4 207.7 380.2 207.4 378.2 207.7Z"/><path color="#fae76f" d="M387.6 208.3 389.6 208.3 388.4 207.9 386.4 207.9Z"/><path color="#fdde72" d="M357.9 213.1 359.8 212 358.6 211.9 356.7 213.1Z"/><path color="#faf967" d="M366.1 210.3 368.1 209.5 366.9 209.3 364.9 210.1Z"/><path color="#fafa66" d="M374.3 208.6 376.3 208.1 375.1 207.8 373.1 208.3Z"/><path color="#f8f06c" d="M382.6 208.1 384.5 207.9 383.3 207.5 381.4 207.7Z"/><path color="#f9eb6e" d="M361.1 212.1 363 211 361.8 211 359.8 212Z"/><path color="#fbfc64" d="M369.3 209.6 371.2 208.9 370 208.7 368.1 209.5Z"/><path color="#f9f769" d="M377.5 208.4 379.4 208 378.2 207.7 376.3 208.1Z"/><path color="#f9ea6e" d="M385.7 208.4 387.6 208.3 386.4 207.9 384.5 207.9Z"/><path color="#fed676" d="M356 214.3 357.9 213.1 356.7 213.1 354.8 214.3Z"/><path color="#f9f56a" d="M364.2 211.1 366.1 210.3 364.9 210.1 363 211Z"/><path color="#fbfb65" d="M372.4 209.2 374.3 208.6 373.1 208.3 371.2 208.9Z"/><path color="#f8f36b" d="M380.6 208.4 382.6 208.1 381.4 207.7 379.4 208Z"/><path color="#fbe470" d="M359.1 213.1 361.1 212.1 359.8 212 357.9 213.1Z"/><path color="#fbfb65" d="M367.3 210.4 369.3 209.6 368.1 209.5 366.1 210.3Z"/><path color="#faf968" d="M375.6 208.8 377.5 208.4 376.3 208.1 374.3 208.6Z"/><path color="#f8ee6d" d="M383.8 208.5 385.7 208.4 384.5 207.9 382.6 208.1Z"/><path color="#f8f06d" d="M362.3 212.1 364.2 211.1 363 211 361.1 212.1Z"/><path color="#fbfc65" d="M370.5 209.8 372.4 209.2 371.2 208.9 369.3 209.6Z"/><path color="#f9f56a" d="M378.7 208.7 380.6 208.4 379.4 208 377.5 208.4Z"/><path color="#fedc72" d="M357.2 214.3 359.1 213.1 357.9 213.1 356 214.3Z"/><path color="#faf968" d="M365.4 211.2 367.3 210.4 366.1 210.3 364.2 211.1Z"/><path color="#fafa66" d="M373.6 209.4 375.6 208.8 374.3 208.6 372.4 209.2Z"/><path color="#f8f06c" d="M381.8 208.7 383.8 208.5 382.6 208.1 380.6 208.4Z"/><path color="#f9ea6e" d="M360.3 213.2 362.3 212.1 361.1 212.1 359.1 213.1Z"/><path color="#fbfc64" d="M368.5 210.5 370.5 209.8 369.3 209.6 367.3 210.4Z"/><path color="#f9f769" d="M376.8 209.1 378.7 208.7 377.5 208.4 375.6 208.8Z"/><path color="#f9f46a" d="M363.5 212.2 365.4 211.2 364.2 211.1 362.3 212.1Z"/><path color="#fbfb65" d="M371.7 210 373.6 209.4 372.4 209.2 370.5 209.8Z"/><path color="#f8f36b" d="M379.9 209 381.8 208.7 380.6 208.4 378.7 208.7Z"/><path color="#fce270" d="M358.4 214.3 360.3 213.2 359.1 213.1 357.2 214.3Z"/><path color="#fbfb65" d="M366.6 211.3 368.5 210.5 367.3 210.4 365.4 211.2Z"/><path color="#faf968" d="M374.8 209.6 376.8 209.1 375.6 208.8 373.6 209.4Z"/><path color="#f8ef6d" d="M361.5 213.2 363.5 212.2 362.3 212.1 360.3 213.2Z"/><path color="#fbfc65" d="M369.7 210.7 371.7 210 370.5 209.8 368.5 210.5Z"/><path color="#f9f56a" d="M378 209.4 379.9 209 378.7 208.7 376.8 209.1Z"/><path color="#faf868" d="M364.7 212.2 366.6 211.3 365.4 211.2 363.5 212.2Z"/><path color="#fafa66" d="M372.9 210.1 374.8 209.6 373.6 209.4 371.7 210Z"/><path color="#f9e86e" d="M359.6 214.2 361.5 213.2 360.3 213.2 358.4 214.3Z"/><path color="#fbfc64" d="M367.8 211.4 369.7 210.7 368.5 210.5 366.6 211.3Z"/><path color="#f9f769" d="M376 209.8 378 209.4 376.8 209.1 374.8 209.6Z"/><path color="#f9f46b" d="M362.7 213.2 364.7 212.2 363.5 212.2 361.5 213.2Z"/><path color="#fbfb65" d="M370.9 210.8 372.9 210.1 371.7 210 369.7 210.7Z"/><path color="#fbfb65" d="M365.9 212.3 367.8 211.4 366.6 211.3 364.7 212.2Z"/><path color="#faf968" d="M374.1 210.3 376 209.8 374.8 209.6 372.9 210.1Z"/><path color="#f8ee6d" d="M360.8 214.2 362.7 213.2 361.5 213.2 359.6 214.2Z"/><path color="#fbfc65" d="M369 211.5 370.9 210.8 369.7 210.7 367.8 211.4Z"/><path color="#faf868" d="M363.9 213.2 365.9 212.3 364.7 212.2 362.7 213.2Z"/><path color="#fafa66" d="M372.1 210.9 374.1 210.3 372.9 210.1 370.9 210.8Z"/><path color="#fbfc64" d="M367.1 212.3 369 211.5 367.8 211.4 365.9 212.3Z"/><path color="#f9f36b" d="M362 214.2 363.9 213.2 362.7 213.2 360.8 214.2Z"/><path color="#fbfb65" d="M370.2 211.6 372.1 210.9 370.9 210.8 369 211.5Z"/><path color="#fbfb65" d="M365.1 213.2 367.1 212.3 365.9 212.3 363.9 213.2Z"/><path color="#fbfc65" d="M368.3 212.4 370.2 211.6 369 211.5 367.1 212.3Z"/><path color="#faf868" d="M363.2 214.2 365.1 213.2 363.9 213.2 362 214.2Z"/><path color="#fbfc64" d="M366.3 213.2 368.3 212.4 367.1 212.3 365.1 213.2Z"/><path color="#fbfb65" d="M364.4 214.2 366.3 213.2 365.1 213.2 363.2 214.2Z"/></g><polyline points="328.3,195.6 364.4,212.8 422.5,201.8" fill="none" stroke="#8c8c8c" stroke-width="0.7"/><line x1="364.4" y1="232.1" x2="364.4" y2="212.8" stroke="#8c8c8c" stroke-width="0.7"/><polyline points="328.3,214.9 364.4,232.1 422.5,221.1" fill="none" stroke="#8c8c8c" stroke-width="0.7"/><line x1="328.3" y1="214.9" x2="328.3" y2="195.6" stroke="#8c8c8c" stroke-width="0.7"/><line x1="422.5" y1="221.1" x2="422.5" y2="201.8" stroke="#8c8c8c" stroke-width="0.7"/><text x="325.4" y="201.9" font-size="8.5" fill="#262626" stroke="#262626" stroke-width="0.1" text-anchor="end">5</text><text x="325.4" y="216.5" font-size="8.5" fill="#262626" stroke="#262626" stroke-width="0.1" text-anchor="end">0</text><text x="326.1" y="224.2" font-size="8.5" fill="#262626" stroke="#262626" stroke-width="0.1" text-anchor="end">0.9</text><text x="342.8" y="233" font-size="8.0" fill="#262626" stroke="#262626" stroke-width="0.1" text-anchor="end">0</text><text x="359.5" y="241.5" font-size="8.0" fill="#262626" stroke="#262626" stroke-width="0.1" text-anchor="end">-0.9</text><text x="384.6" y="242.2" font-size="8.0" fill="#262626" stroke="#262626" stroke-width="0.1" text-anchor="end">-0.9</text><text x="402.1" y="237.1" font-size="8.0" fill="#262626" stroke="#262626" stroke-width="0.1" text-anchor="end">0</text><text x="435.9" y="232.5" font-size="8.0" fill="#262626" stroke="#262626" stroke-width="0.1" text-anchor="end">0.9</text><polyline points="477.5,30.6 563.2,30.6 563.2,90.9" fill="none" stroke="#808080" stroke-width="0.7" stroke-dasharray="0.9,0.7"/><polyline points="572.3,90.9 572.3,30.6 656.5,30.6 656.5,90.9" fill="none" stroke="#808080" stroke-width="0.7" stroke-dasharray="0.9,0.7"/><line x1="477.5" y1="30.6" x2="477.5" y2="90.9" stroke="#8fb4dc" stroke-width="0.6"/><line x1="477.5" y1="90.9" x2="563.2" y2="90.9" stroke="#606060" stroke-width="0.6"/><line x1="572.3" y1="90.9" x2="656.5" y2="90.9" stroke="#606060" stroke-width="0.6"/><path d="M477.50 37.90 L479.64 37.91 L481.79 37.92 L483.93 37.92 L486.07 37.93 L488.21 37.94 L490.36 37.95 L492.50 37.96 L494.64 37.97 L496.78 37.98 L498.93 37.99 L501.07 38.00 L503.21 38.01 L505.35 38.02 L507.50 38.03 L509.64 38.04 L511.78 38.05 L513.92 38.06 L516.07 38.08 L518.21 38.09 L520.35 38.10 L522.49 38.11 L524.63 38.13 L526.78 38.14 L528.92 38.15 L531.06 38.17 L533.21 38.18 L535.35 38.19 L537.49 38.21 L539.63 38.22 L541.78 38.24 L543.92 38.25 L546.06 38.27 L548.20 38.28 L550.35 38.30 L552.49 38.32 L554.63 38.33 L556.77 38.35 L558.92 38.37 L561.06 38.38 L563.20 38.40" fill="none" stroke="#1e1e1e" stroke-width="1.0" stroke-dasharray="1,0.85"/><g clip-path="url(#clL0)"><path d="M477.50 90.90 L477.71 90.90 L477.93 90.90 L478.14 90.90 L478.36 90.90 L478.57 90.90 L478.79 90.90 L479.00 90.90 L479.22 90.90 L479.43 90.90 L479.65 90.90 L479.86 90.90 L480.08 90.90 L480.29 90.90 L480.51 90.90 L480.72 90.90 L480.94 90.90 L481.15 90.90 L481.37 90.90 L481.58 90.90 L481.80 90.90 L482.01 90.90 L482.23 90.90 L482.44 90.90 L482.65 90.90 L482.87 90.90 L483.08 90.90 L483.30 90.90 L483.51 90.90 L483.73 90.90 L483.94 90.90 L484.16 90.90 L484.37 90.90 L484.59 90.90 L484.80 90.90 L485.02 90.90 L485.23 90.90 L485.45 90.90 L485.66 90.90 L485.88 90.90 L486.09 90.90 L486.31 90.90 L486.52 90.90 L486.74 90.90 L486.95 90.90 L487.17 90.90 L487.38 90.90 L487.59 90.90 L487.81 90.90 L488.02 90.90 L488.24 90.90 L488.45 90.90 L488.67 90.90 L488.88 90.90 L489.10 90.90 L489.31 90.90 L489.53 90.90 L489.74 90.90 L489.96 90.90 L490.17 90.90 L490.39 90.90 L490.60 90.90 L490.82 90.90 L491.03 90.90 L491.25 90.90 L491.46 90.90 L491.68 90.90 L491.89 90.90 L492.11 90.90 L492.32 90.90 L492.54 90.90 L492.75 90.90 L492.96 90.90 L493.18 90.90 L493.39 90.90 L493.61 90.90 L493.82 90.90 L494.04 90.90 L494.25 90.90 L494.47 90.90 L494.68 90.90 L494.90 90.90 L495.11 90.90 L495.33 90.90 L495.54 90.90 L495.76 90.90 L495.97 90.90 L496.19 90.90 L496.40 90.90 L496.62 90.90 L496.83 90.90 L497.05 90.90 L497.26 90.90 L497.48 90.90 L497.69 90.90 L497.90 90.90 L498.12 90.90 L498.33 90.90 L498.55 90.90 L498.76 90.90 L498.98 90.90 L499.19 90.90 L499.41 90.90 L499.62 90.90 L499.84 90.90 L500.05 90.90 L500.27 90.90 L500.48 90.90 L500.70 90.90 L500.91 90.90 L501.13 90.90 L501.34 90.90 L501.56 90.90 L501.77 90.90 L501.99 90.90 L502.20 90.90 L502.42 90.90 L502.63 90.90 L502.84 90.90 L503.06 90.90 L503.27 90.90 L503.49 90.90 L503.70 90.90 L503.92 90.90 L504.13 90.90 L504.35 90.90 L504.56 90.90 L504.78 90.90 L504.99 90.90 L505.21 90.90 L505.42 90.90 L505.64 90.90 L505.85 90.90 L506.07 90.90 L506.28 90.90 L506.50 90.90 L506.71 90.90 L506.93 90.90 L507.14 90.90 L507.36 90.90 L507.57 90.90 L507.78 90.90 L508.00 90.90 L508.21 90.90 L508.43 90.90 L508.64 90.90 L508.86 90.90 L509.07 90.90 L509.29 90.90 L509.50 90.90 L509.72 90.90 L509.93 90.90 L510.15 90.90 L510.36 90.90 L510.58 90.90 L510.79 90.90 L511.01 90.90 L511.22 90.90 L511.44 90.90 L511.65 90.90 L511.87 90.90 L512.08 90.90 L512.30 90.90 L512.51 90.90 L512.73 90.90 L512.94 90.90 L513.15 90.90 L513.37 90.90 L513.58 90.90 L513.80 90.90 L514.01 90.90 L514.23 90.90 L514.44 90.90 L514.66 90.90 L514.87 90.90 L515.09 90.90 L515.30 90.90 L515.52 90.89 L515.73 90.88 L515.95 90.86 L516.16 90.81 L516.38 90.73 L516.59 90.59 L516.81 90.35 L517.02 89.94 L517.24 89.29 L517.45 88.29 L517.67 86.82 L517.88 84.73 L518.09 81.88 L518.31 78.17 L518.52 73.54 L518.74 68.03 L518.95 61.79 L519.17 55.10 L519.38 48.36 L519.60 42.08 L519.81 36.76 L520.03 32.89 L520.24 30.86 L520.46 30.86 L520.67 32.89 L520.89 36.76 L521.10 42.08 L521.32 48.36 L521.53 55.10 L521.75 61.79 L521.96 68.03 L522.18 73.54 L522.39 78.17 L522.61 81.88 L522.82 84.73 L523.03 86.82 L523.25 88.29 L523.46 89.29 L523.68 89.94 L523.89 90.35 L524.11 90.59 L524.32 90.73 L524.54 90.81 L524.75 90.86 L524.97 90.88 L525.18 90.89 L525.40 90.90 L525.61 90.90 L525.83 90.90 L526.04 90.90 L526.26 90.90 L526.47 90.90 L526.69 90.90 L526.90 90.90 L527.12 90.90 L527.33 90.90 L527.55 90.90 L527.76 90.90 L527.97 90.90 L528.19 90.90 L528.40 90.90 L528.62 90.90 L528.83 90.90 L529.05 90.90 L529.26 90.90 L529.48 90.90 L529.69 90.90 L529.91 90.90 L530.12 90.90 L530.34 90.90 L530.55 90.90 L530.77 90.90 L530.98 90.90 L531.20 90.90 L531.41 90.90 L531.63 90.90 L531.84 90.90 L532.06 90.90 L532.27 90.90 L532.49 90.90 L532.70 90.90 L532.92 90.90 L533.13 90.90 L533.34 90.90 L533.56 90.90 L533.77 90.90 L533.99 90.90 L534.20 90.90 L534.42 90.90 L534.63 90.90 L534.85 90.90 L535.06 90.90 L535.28 90.90 L535.49 90.90 L535.71 90.90 L535.92 90.90 L536.14 90.90 L536.35 90.90 L536.57 90.90 L536.78 90.90 L537.00 90.90 L537.21 90.90 L537.43 90.90 L537.64 90.90 L537.86 90.90 L538.07 90.90 L538.28 90.90 L538.50 90.90 L538.71 90.90 L538.93 90.90 L539.14 90.90 L539.36 90.90 L539.57 90.90 L539.79 90.90 L540.00 90.90 L540.22 90.90 L540.43 90.90 L540.65 90.90 L540.86 90.90 L541.08 90.90 L541.29 90.90 L541.51 90.90 L541.72 90.90 L541.94 90.90 L542.15 90.90 L542.37 90.90 L542.58 90.90 L542.80 90.90 L543.01 90.90 L543.22 90.90 L543.44 90.90 L543.65 90.90 L543.87 90.90 L544.08 90.90 L544.30 90.90 L544.51 90.90 L544.73 90.90 L544.94 90.90 L545.16 90.90 L545.37 90.90 L545.59 90.90 L545.80 90.90 L546.02 90.90 L546.23 90.90 L546.45 90.90 L546.66 90.90 L546.88 90.90 L547.09 90.90 L547.31 90.90 L547.52 90.90 L547.74 90.90 L547.95 90.90 L548.16 90.90 L548.38 90.90 L548.59 90.90 L548.81 90.90 L549.02 90.90 L549.24 90.90 L549.45 90.90 L549.67 90.90 L549.88 90.90 L550.10 90.90 L550.31 90.90 L550.53 90.90 L550.74 90.90 L550.96 90.90 L551.17 90.90 L551.39 90.90 L551.60 90.90 L551.82 90.90 L552.03 90.90 L552.25 90.90 L552.46 90.90 L552.68 90.90 L552.89 90.90 L553.11 90.90 L553.32 90.90 L553.53 90.90 L553.75 90.90 L553.96 90.90 L554.18 90.90 L554.39 90.90 L554.61 90.90 L554.82 90.90 L555.04 90.90 L555.25 90.90 L555.47 90.90 L555.68 90.90 L555.90 90.90 L556.11 90.90 L556.33 90.90 L556.54 90.90 L556.76 90.90 L556.97 90.90 L557.19 90.90 L557.40 90.90 L557.62 90.90 L557.83 90.90 L558.05 90.90 L558.26 90.90 L558.47 90.90 L558.69 90.90 L558.90 90.90 L559.12 90.90 L559.33 90.90 L559.55 90.90 L559.76 90.90 L559.98 90.90 L560.19 90.90 L560.41 90.90 L560.62 90.90 L560.84 90.90 L561.05 90.90 L561.27 90.90 L561.48 90.90 L561.70 90.90 L561.91 90.90 L562.13 90.90 L562.34 90.90 L562.56 90.90 L562.77 90.90 L562.99 90.90 L563.20 90.90" fill="none" stroke="#d95319" stroke-width="0.9"/><path d="M484.20 90.90 L484.37 90.90 L484.59 90.90 L484.80 90.90 L485.02 90.90 L485.23 90.90 L485.45 90.90 L485.66 90.90 L485.88 90.90 L486.09 90.90 L486.31 90.90 L486.52 90.90 L486.74 90.90 L486.95 90.90 L487.17 90.90 L487.38 90.90 L487.59 90.90 L487.81 90.90 L488.02 90.90 L488.24 90.90 L488.45 90.90 L488.67 90.90 L488.88 90.90 L489.10 90.90 L489.31 90.90 L489.53 90.90 L489.74 90.90 L489.96 90.90 L490.17 90.90 L490.39 90.90 L490.60 90.90 L490.82 90.90 L491.03 90.90 L491.25 90.90 L491.46 90.90 L491.68 90.90 L491.89 90.90 L492.11 90.90 L492.20 90.90 M500.60 90.90 L500.70 90.90 L500.91 90.90 L501.13 90.90 L501.34 90.90 L501.56 90.90 L501.77 90.90 L501.99 90.90 L502.20 90.90 L502.42 90.90 L502.63 90.90 L502.84 90.90 L503.06 90.90 L503.27 90.90 L503.49 90.90 L503.70 90.90 L503.92 90.90 L504.13 90.90 L504.35 90.90 L504.56 90.90 L504.78 90.90 L504.99 90.90 L505.21 90.90 L505.42 90.90 L505.64 90.90 L505.85 90.90 L506.07 90.90 L506.28 90.90 L506.50 90.90 L506.71 90.90 L506.93 90.90 L507.14 90.90 L507.36 90.90 L507.57 90.90 L507.78 90.90 L508.00 90.90 L508.21 90.90 L508.43 90.90 L508.60 90.90 M516.85 90.26 L517.02 89.94 L517.24 89.29 L517.45 88.29 L517.67 86.82 L517.88 84.73 L518.09 81.88 L518.20 80.08 M518.69 69.18 L518.74 68.03 L518.95 61.79 L519.05 58.79 M519.40 47.88 L519.60 42.08 L519.78 37.49" fill="none" stroke="#0072bd" stroke-width="2.3"/><path d="M520.24 30.86 L520.46 30.86 L520.67 32.89 L520.68 32.96 M521.18 44.38 L521.32 48.36 L521.53 55.10 L521.55 55.81 M521.93 67.24 L521.96 68.03 L522.18 73.54 L522.39 78.17 L522.42 78.66 M523.68 89.94 L523.89 90.35 L524.11 90.59 L524.32 90.73 L524.54 90.81 L524.75 90.86 L524.97 90.88 L525.18 90.89 L525.40 90.90 L525.61 90.90 L525.83 90.90 L526.04 90.90 L526.26 90.90 L526.47 90.90 L526.69 90.90 L526.90 90.90 L527.12 90.90 L527.33 90.90 L527.55 90.90 L527.76 90.90 L527.97 90.90 L528.19 90.90 L528.40 90.90 L528.62 90.90 L528.83 90.90 L529.05 90.90 L529.26 90.90 L529.48 90.90 L529.69 90.90 L529.91 90.90 L530.12 90.90 L530.34 90.90 L530.55 90.90 L530.77 90.90 L530.98 90.90 L531.20 90.90 L531.41 90.90 L531.63 90.90 L531.84 90.90 L532.06 90.90 L532.21 90.90 M541.01 90.90 L541.08 90.90 L541.29 90.90 L541.51 90.90 L541.72 90.90 L541.94 90.90 L542.15 90.90 L542.37 90.90 L542.58 90.90 L542.80 90.90 L543.01 90.90 L543.22 90.90 L543.44 90.90 L543.65 90.90 L543.87 90.90 L544.08 90.90 L544.30 90.90 L544.51 90.90 L544.73 90.90 L544.94 90.90 L545.16 90.90 L545.37 90.90 L545.59 90.90 L545.80 90.90 L546.02 90.90 L546.23 90.90 L546.45 90.90 L546.66 90.90 L546.88 90.90 L547.09 90.90 L547.31 90.90 L547.52 90.90 L547.74 90.90 L547.95 90.90 L548.16 90.90 L548.38 90.90 L548.59 90.90 L548.81 90.90 L549.02 90.90 L549.24 90.90 L549.45 90.90 L549.67 90.90 L549.81 90.90 M558.61 90.90 L558.69 90.90 L558.90 90.90 L559.12 90.90 L559.33 90.90 L559.55 90.90 L559.76 90.90 L559.98 90.90 L560.19 90.90 L560.41 90.90 L560.62 90.90 L560.84 90.90 L561.05 90.90 L561.27 90.90 L561.48 90.90 L561.70 90.90 L561.91 90.90 L562.13 90.90 L562.34 90.90 L562.56 90.90 L562.77 90.90 L562.99 90.90 L563.20 90.90" fill="none" stroke="#0072bd" stroke-width="2.3"/></g><path d="M572.30 90.90 L573.35 88.25 L574.40 85.67 L575.46 83.16 L576.51 80.72 L577.56 78.34 L578.62 76.03 L579.67 73.78 L580.72 71.60 L581.77 69.49 L582.82 67.45 L583.88 65.47 L584.93 63.56 L585.98 61.72 L587.03 59.95 L588.09 58.24 L589.14 56.60 L590.19 55.02 L591.25 53.51 L592.30 52.07 L593.35 50.70 L594.40 49.39 L595.45 48.15 L596.51 46.98 L597.56 45.88 L598.61 44.84 L599.66 43.87 L600.72 42.96 L601.77 42.12 L602.82 41.35 L603.88 40.65 L604.93 40.01 L605.98 39.44 L607.03 38.94 L608.08 38.51 L609.14 38.14 L610.19 37.84 L611.24 37.60 L612.29 37.43 L613.35 37.33 L614.40 37.30 L615.45 37.33 L616.50 37.43 L617.56 37.60 L618.61 37.84 L619.66 38.14 L620.72 38.51 L621.77 38.94 L622.82 39.44 L623.87 40.01 L624.92 40.65 L625.98 41.35 L627.03 42.12 L628.08 42.96 L629.13 43.87 L630.19 44.84 L631.24 45.88 L632.29 46.98 L633.35 48.15 L634.40 49.39 L635.45 50.70 L636.50 52.07 L637.55 53.51 L638.61 55.02 L639.66 56.60 L640.71 58.24 L641.76 59.95 L642.82 61.72 L643.87 63.56 L644.92 65.47 L645.98 67.45 L647.03 69.49 L648.08 71.60 L649.13 73.78 L650.18 76.03 L651.24 78.34 L652.29 80.72 L653.34 83.16 L654.39 85.67 L655.45 88.25 L656.50 90.90" fill="none" stroke="#1a1a1a" stroke-width="0.8"/><g clip-path="url(#clR0)"><path d="M572.30 90.90 L572.58 90.90 L572.86 90.90 L573.14 90.90 L573.43 90.90 L573.71 90.90 L573.99 90.90 L574.27 90.90 L574.55 90.90 L574.83 90.90 L575.12 90.90 L575.40 90.90 L575.68 90.90 L575.96 90.90 L576.24 90.90 L576.52 90.90 L576.81 90.89 L577.09 90.89 L577.37 90.89 L577.65 90.89 L577.93 90.88 L578.21 90.88 L578.50 90.87 L578.78 90.86 L579.06 90.85 L579.34 90.84 L579.62 90.82 L579.90 90.81 L580.18 90.78 L580.47 90.76 L580.75 90.73 L581.03 90.69 L581.31 90.65 L581.59 90.60 L581.87 90.54 L582.16 90.47 L582.44 90.39 L582.72 90.29 L583.00 90.19 L583.28 90.07 L583.56 89.93 L583.85 89.77 L584.13 89.60 L584.41 89.40 L584.69 89.18 L584.97 88.94 L585.25 88.67 L585.54 88.37 L585.82 88.04 L586.10 87.68 L586.38 87.29 L586.66 86.86 L586.94 86.40 L587.23 85.91 L587.51 85.37 L587.79 84.80 L588.07 84.19 L588.35 83.54 L588.63 82.85 L588.91 82.12 L589.20 81.35 L589.48 80.55 L589.76 79.70 L590.04 78.82 L590.32 77.91 L590.60 76.96 L590.89 75.98 L591.17 74.96 L591.45 73.92 L591.73 72.85 L592.01 71.76 L592.29 70.64 L592.58 69.51 L592.86 68.35 L593.14 67.19 L593.42 66.01 L593.70 64.82 L593.98 63.63 L594.27 62.44 L594.55 61.24 L594.83 60.05 L595.11 58.86 L595.39 57.68 L595.67 56.52 L595.95 55.36 L596.24 54.22 L596.52 53.10 L596.80 52.00 L597.08 50.92 L597.36 49.86 L597.64 48.83 L597.93 47.83 L598.21 46.85 L598.49 45.90 L598.77 44.98 L599.05 44.10 L599.33 43.24 L599.62 42.42 L599.90 41.63 L600.18 40.88 L600.46 40.15 L600.74 39.46 L601.02 38.80 L601.31 38.18 L601.59 37.58 L601.87 37.02 L602.15 36.49 L602.43 35.99 L602.71 35.52 L602.99 35.08 L603.28 34.67 L603.56 34.29 L603.84 33.93 L604.12 33.60 L604.40 33.29 L604.68 33.00 L604.97 32.74 L605.25 32.50 L605.53 32.28 L605.81 32.08 L606.09 31.90 L606.37 31.73 L606.66 31.58 L606.94 31.45 L607.22 31.33 L607.50 31.22 L607.78 31.13 L608.06 31.04 L608.35 30.97 L608.63 30.91 L608.91 30.85 L609.19 30.80 L609.47 30.76 L609.75 30.73 L610.04 30.70 L610.32 30.68 L610.60 30.66 L610.88 30.64 L611.16 30.63 L611.44 30.62 L611.72 30.61 L612.01 30.61 L612.29 30.61 L612.57 30.60 L612.85 30.60 L613.13 30.60 L613.41 30.60 L613.70 30.60 L613.98 30.60 L614.26 30.60 L614.54 30.60 L614.82 30.60 L615.10 30.60 L615.39 30.60 L615.67 30.60 L615.95 30.60 L616.23 30.60 L616.51 30.61 L616.79 30.61 L617.08 30.61 L617.36 30.62 L617.64 30.63 L617.92 30.64 L618.20 30.66 L618.48 30.68 L618.76 30.70 L619.05 30.73 L619.33 30.76 L619.61 30.80 L619.89 30.85 L620.17 30.91 L620.45 30.97 L620.74 31.04 L621.02 31.13 L621.30 31.22 L621.58 31.33 L621.86 31.45 L622.14 31.58 L622.43 31.73 L622.71 31.90 L622.99 32.08 L623.27 32.28 L623.55 32.50 L623.83 32.74 L624.12 33.00 L624.40 33.29 L624.68 33.60 L624.96 33.93 L625.24 34.29 L625.52 34.67 L625.81 35.08 L626.09 35.52 L626.37 35.99 L626.65 36.49 L626.93 37.02 L627.21 37.58 L627.49 38.18 L627.78 38.80 L628.06 39.46 L628.34 40.15 L628.62 40.88 L628.90 41.63 L629.18 42.42 L629.47 43.24 L629.75 44.10 L630.03 44.98 L630.31 45.90 L630.59 46.85 L630.87 47.83 L631.16 48.83 L631.44 49.86 L631.72 50.92 L632.00 52.00 L632.28 53.10 L632.56 54.22 L632.85 55.36 L633.13 56.52 L633.41 57.68 L633.69 58.86 L633.97 60.05 L634.25 61.24 L634.53 62.44 L634.82 63.63 L635.10 64.82 L635.38 66.01 L635.66 67.19 L635.94 68.35 L636.22 69.51 L636.51 70.64 L636.79 71.76 L637.07 72.85 L637.35 73.92 L637.63 74.96 L637.91 75.98 L638.20 76.96 L638.48 77.91 L638.76 78.82 L639.04 79.70 L639.32 80.55 L639.60 81.35 L639.89 82.12 L640.17 82.85 L640.45 83.54 L640.73 84.19 L641.01 84.80 L641.29 85.37 L641.57 85.91 L641.86 86.40 L642.14 86.86 L642.42 87.29 L642.70 87.68 L642.98 88.04 L643.26 88.37 L643.55 88.67 L643.83 88.94 L644.11 89.18 L644.39 89.40 L644.67 89.60 L644.95 89.77 L645.24 89.93 L645.52 90.07 L645.80 90.19 L646.08 90.29 L646.36 90.39 L646.64 90.47 L646.93 90.54 L647.21 90.60 L647.49 90.65 L647.77 90.69 L648.05 90.73 L648.33 90.76 L648.62 90.78 L648.90 90.81 L649.18 90.82 L649.46 90.84 L649.74 90.85 L650.02 90.86 L650.30 90.87 L650.59 90.88 L650.87 90.88 L651.15 90.89 L651.43 90.89 L651.71 90.89 L651.99 90.89 L652.28 90.90 L652.56 90.90 L652.84 90.90 L653.12 90.90 L653.40 90.90 L653.68 90.90 L653.97 90.90 L654.25 90.90 L654.53 90.90 L654.81 90.90 L655.09 90.90 L655.37 90.90 L655.66 90.90 L655.94 90.90 L656.22 90.90 L656.50 90.90" fill="none" stroke="#d95319" stroke-width="0.9"/><path d="M572.30 90.90 L572.58 90.90 L572.86 90.90 L573.14 90.90 L573.43 90.90 L573.71 90.90 L573.99 90.90 L574.27 90.90 L574.55 90.90 L574.83 90.90 L575.12 90.90 L575.40 90.90 L575.68 90.90 L575.96 90.90 L576.24 90.90 L576.52 90.90 L576.81 90.89 L577.09 90.89 L577.37 90.89 L577.65 90.89 L577.93 90.88 L578.21 90.88 L578.50 90.87 L578.78 90.86 L579.06 90.85 L579.34 90.84 L579.62 90.82 L579.90 90.81 L580.18 90.78 L580.47 90.76 L580.75 90.73 L581.03 90.69 L581.31 90.65 L581.59 90.60 L581.87 90.54 L581.88 90.53 M587.48 85.42 L587.51 85.37 L587.79 84.80 L588.07 84.19 L588.35 83.54 L588.63 82.85 L588.91 82.12 L589.20 81.35 L589.48 80.55 L589.76 79.70 L590.04 78.82 L590.32 77.91 L590.60 76.96 L590.89 75.98 L591.10 75.22 M593.17 67.05 L593.42 66.01 L593.70 64.82 L593.98 63.63 L594.27 62.44 L594.55 61.24 L594.83 60.05 L595.11 58.86 L595.39 57.68 L595.67 56.52 L595.70 56.40 M597.81 48.24 L597.93 47.83 L598.21 46.85 L598.49 45.90 L598.77 44.98 L599.05 44.10 L599.33 43.24 L599.62 42.42 L599.90 41.63 L600.18 40.88 L600.46 40.15 L600.74 39.46 L601.02 38.80 L601.31 38.18 L601.39 38.01 M606.27 31.79 L606.37 31.73 L606.66 31.58 L606.94 31.45 L607.22 31.33 L607.50 31.22 L607.78 31.13 L608.06 31.04 L608.35 30.97 L608.63 30.91 L608.91 30.85 L609.19 30.80 L609.47 30.76 L609.75 30.73 L610.04 30.70 L610.32 30.68 L610.60 30.66 L610.88 30.64 L611.16 30.63 L611.44 30.62 L611.72 30.61 L612.01 30.61 L612.29 30.61 L612.57 30.60 L612.85 30.60 L613.13 30.60 L613.41 30.60 L613.70 30.60 L613.98 30.60 L614.26 30.60 L614.54 30.60 L614.82 30.60 L615.10 30.60 L615.39 30.60 L615.67 30.60 L615.72 30.60 M622.92 32.04 L622.99 32.08 L623.27 32.28 L623.55 32.50 L623.83 32.74 L624.12 33.00 L624.40 33.29 L624.68 33.60 L624.96 33.93 L625.24 34.29 L625.52 34.67 L625.81 35.08 L626.09 35.52 L626.37 35.99 L626.65 36.49 L626.93 37.02 L627.21 37.58 L627.49 38.18 L627.78 38.80 L628.06 39.46 L628.34 40.15 L628.57 40.75 M631.13 48.73 L631.16 48.83 L631.44 49.86 L631.72 50.92 L632.00 52.00 L632.28 53.10 L632.56 54.22 L632.85 55.36 L633.13 56.52 L633.41 57.68 L633.69 58.86 L633.80 59.33 M635.75 67.54 L635.94 68.35 L636.22 69.51 L636.51 70.64 L636.79 71.76 L637.07 72.85 L637.35 73.92 L637.63 74.96 L637.91 75.98 L638.20 76.96 L638.48 77.91 L638.54 78.10 M641.55 85.86 L641.57 85.91 L641.86 86.40 L642.14 86.86 L642.42 87.29 L642.70 87.68 L642.98 88.04 L643.26 88.37 L643.55 88.67 L643.83 88.94 L644.11 89.18 L644.39 89.40 L644.67 89.60 L644.95 89.77 L645.24 89.93 L645.52 90.07 L645.80 90.19 L646.08 90.29 L646.36 90.39 L646.64 90.47 L646.93 90.54 L647.21 90.60 L647.49 90.65 L647.77 90.69 L648.05 90.73 L648.33 90.76 L648.62 90.78 L648.90 90.81 L649.18 90.82 L649.46 90.84 L649.55 90.84" fill="none" stroke="#0072bd" stroke-width="2.3"/></g><text x="474" y="33.6" font-size="8.3" fill="#0072bd" text-anchor="end">1</text><text x="474.4" y="64.7" font-size="8.3" fill="#0072bd" text-anchor="end">0.5</text><text x="474.4" y="94.9" font-size="8.3" fill="#0072bd" text-anchor="end">0</text><text x="659.5" y="39.6" font-size="8.3" fill="#262626">200</text><text x="659.5" y="67.4" font-size="8.3" fill="#262626">100</text><text x="659.5" y="94.4" font-size="8.3" fill="#262626">0</text><polyline points="477.5,106.4 563.2,106.4 563.2,165.7" fill="none" stroke="#808080" stroke-width="0.7" stroke-dasharray="0.9,0.7"/><polyline points="572.3,165.7 572.3,106.4 656.5,106.4 656.5,165.7" fill="none" stroke="#808080" stroke-width="0.7" stroke-dasharray="0.9,0.7"/><line x1="477.5" y1="106.4" x2="477.5" y2="165.7" stroke="#8fb4dc" stroke-width="0.6"/><line x1="477.5" y1="165.7" x2="563.2" y2="165.7" stroke="#606060" stroke-width="0.6"/><line x1="572.3" y1="165.7" x2="656.5" y2="165.7" stroke="#606060" stroke-width="0.6"/><path d="M477.50 122.40 L479.64 122.05 L481.79 121.72 L483.93 121.40 L486.07 121.10 L488.21 120.83 L490.36 120.56 L492.50 120.32 L494.64 120.10 L496.78 119.89 L498.93 119.70 L501.07 119.53 L503.21 119.38 L505.35 119.24 L507.50 119.12 L509.64 119.02 L511.78 118.94 L513.92 118.88 L516.07 118.84 L518.21 118.81 L520.35 118.80 L522.49 118.81 L524.63 118.84 L526.78 118.88 L528.92 118.94 L531.06 119.02 L533.21 119.12 L535.35 119.24 L537.49 119.38 L539.63 119.53 L541.78 119.70 L543.92 119.89 L546.06 120.10 L548.20 120.32 L550.35 120.56 L552.49 120.83 L554.63 121.10 L556.77 121.40 L558.92 121.72 L561.06 122.05 L563.20 122.40" fill="none" stroke="#1e1e1e" stroke-width="1.0" stroke-dasharray="1,0.85"/><g clip-path="url(#clL1)"><path d="M477.50 165.70 L477.71 165.70 L477.93 165.70 L478.14 165.70 L478.36 165.70 L478.57 165.70 L478.79 165.70 L479.00 165.70 L479.22 165.70 L479.43 165.70 L479.65 165.70 L479.86 165.70 L480.08 165.70 L480.29 165.70 L480.51 165.70 L480.72 165.70 L480.94 165.70 L481.15 165.70 L481.37 165.70 L481.58 165.70 L481.80 165.70 L482.01 165.70 L482.23 165.70 L482.44 165.70 L482.65 165.70 L482.87 165.70 L483.08 165.70 L483.30 165.70 L483.51 165.70 L483.73 165.70 L483.94 165.70 L484.16 165.70 L484.37 165.70 L484.59 165.70 L484.80 165.70 L485.02 165.70 L485.23 165.70 L485.45 165.70 L485.66 165.70 L485.88 165.70 L486.09 165.70 L486.31 165.70 L486.52 165.70 L486.74 165.70 L486.95 165.70 L487.17 165.70 L487.38 165.70 L487.59 165.70 L487.81 165.70 L488.02 165.70 L488.24 165.70 L488.45 165.70 L488.67 165.70 L488.88 165.70 L489.10 165.70 L489.31 165.70 L489.53 165.70 L489.74 165.70 L489.96 165.70 L490.17 165.70 L490.39 165.70 L490.60 165.70 L490.82 165.70 L491.03 165.70 L491.25 165.70 L491.46 165.70 L491.68 165.70 L491.89 165.70 L492.11 165.70 L492.32 165.70 L492.54 165.70 L492.75 165.70 L492.96 165.70 L493.18 165.70 L493.39 165.70 L493.61 165.70 L493.82 165.70 L494.04 165.70 L494.25 165.70 L494.47 165.70 L494.68 165.70 L494.90 165.70 L495.11 165.70 L495.33 165.70 L495.54 165.70 L495.76 165.70 L495.97 165.70 L496.19 165.70 L496.40 165.70 L496.62 165.70 L496.83 165.70 L497.05 165.70 L497.26 165.70 L497.48 165.70 L497.69 165.70 L497.90 165.70 L498.12 165.70 L498.33 165.70 L498.55 165.70 L498.76 165.70 L498.98 165.70 L499.19 165.70 L499.41 165.70 L499.62 165.70 L499.84 165.70 L500.05 165.70 L500.27 165.70 L500.48 165.70 L500.70 165.70 L500.91 165.70 L501.13 165.70 L501.34 165.70 L501.56 165.70 L501.77 165.70 L501.99 165.70 L502.20 165.70 L502.42 165.70 L502.63 165.70 L502.84 165.70 L503.06 165.70 L503.27 165.70 L503.49 165.70 L503.70 165.70 L503.92 165.70 L504.13 165.70 L504.35 165.70 L504.56 165.70 L504.78 165.70 L504.99 165.70 L505.21 165.70 L505.42 165.70 L505.64 165.70 L505.85 165.70 L506.07 165.70 L506.28 165.70 L506.50 165.70 L506.71 165.70 L506.93 165.70 L507.14 165.70 L507.36 165.70 L507.57 165.70 L507.78 165.70 L508.00 165.70 L508.21 165.70 L508.43 165.70 L508.64 165.70 L508.86 165.70 L509.07 165.70 L509.29 165.70 L509.50 165.70 L509.72 165.70 L509.93 165.70 L510.15 165.70 L510.36 165.70 L510.58 165.70 L510.79 165.70 L511.01 165.70 L511.22 165.70 L511.44 165.70 L511.65 165.70 L511.87 165.70 L512.08 165.70 L512.30 165.70 L512.51 165.70 L512.73 165.70 L512.94 165.70 L513.15 165.70 L513.37 165.70 L513.58 165.70 L513.80 165.70 L514.01 165.70 L514.23 165.70 L514.44 165.70 L514.66 165.70 L514.87 165.70 L515.09 165.70 L515.30 165.70 L515.52 165.69 L515.73 165.68 L515.95 165.66 L516.16 165.62 L516.38 165.54 L516.59 165.40 L516.81 165.16 L517.02 164.76 L517.24 164.12 L517.45 163.14 L517.67 161.69 L517.88 159.63 L518.09 156.83 L518.31 153.18 L518.52 148.63 L518.74 143.21 L518.95 137.07 L519.17 130.49 L519.38 123.87 L519.60 117.69 L519.81 112.45 L520.03 108.66 L520.24 106.65 L520.46 106.65 L520.67 108.66 L520.89 112.45 L521.10 117.69 L521.32 123.87 L521.53 130.49 L521.75 137.07 L521.96 143.21 L522.18 148.63 L522.39 153.18 L522.61 156.83 L522.82 159.63 L523.03 161.69 L523.25 163.14 L523.46 164.12 L523.68 164.76 L523.89 165.16 L524.11 165.40 L524.32 165.54 L524.54 165.62 L524.75 165.66 L524.97 165.68 L525.18 165.69 L525.40 165.70 L525.61 165.70 L525.83 165.70 L526.04 165.70 L526.26 165.70 L526.47 165.70 L526.69 165.70 L526.90 165.70 L527.12 165.70 L527.33 165.70 L527.55 165.70 L527.76 165.70 L527.97 165.70 L528.19 165.70 L528.40 165.70 L528.62 165.70 L528.83 165.70 L529.05 165.70 L529.26 165.70 L529.48 165.70 L529.69 165.70 L529.91 165.70 L530.12 165.70 L530.34 165.70 L530.55 165.70 L530.77 165.70 L530.98 165.70 L531.20 165.70 L531.41 165.70 L531.63 165.70 L531.84 165.70 L532.06 165.70 L532.27 165.70 L532.49 165.70 L532.70 165.70 L532.92 165.70 L533.13 165.70 L533.34 165.70 L533.56 165.70 L533.77 165.70 L533.99 165.70 L534.20 165.70 L534.42 165.70 L534.63 165.70 L534.85 165.70 L535.06 165.70 L535.28 165.70 L535.49 165.70 L535.71 165.70 L535.92 165.70 L536.14 165.70 L536.35 165.70 L536.57 165.70 L536.78 165.70 L537.00 165.70 L537.21 165.70 L537.43 165.70 L537.64 165.70 L537.86 165.70 L538.07 165.70 L538.28 165.70 L538.50 165.70 L538.71 165.70 L538.93 165.70 L539.14 165.70 L539.36 165.70 L539.57 165.70 L539.79 165.70 L540.00 165.70 L540.22 165.70 L540.43 165.70 L540.65 165.70 L540.86 165.70 L541.08 165.70 L541.29 165.70 L541.51 165.70 L541.72 165.70 L541.94 165.70 L542.15 165.70 L542.37 165.70 L542.58 165.70 L542.80 165.70 L543.01 165.70 L543.22 165.70 L543.44 165.70 L543.65 165.70 L543.87 165.70 L544.08 165.70 L544.30 165.70 L544.51 165.70 L544.73 165.70 L544.94 165.70 L545.16 165.70 L545.37 165.70 L545.59 165.70 L545.80 165.70 L546.02 165.70 L546.23 165.70 L546.45 165.70 L546.66 165.70 L546.88 165.70 L547.09 165.70 L547.31 165.70 L547.52 165.70 L547.74 165.70 L547.95 165.70 L548.16 165.70 L548.38 165.70 L548.59 165.70 L548.81 165.70 L549.02 165.70 L549.24 165.70 L549.45 165.70 L549.67 165.70 L549.88 165.70 L550.10 165.70 L550.31 165.70 L550.53 165.70 L550.74 165.70 L550.96 165.70 L551.17 165.70 L551.39 165.70 L551.60 165.70 L551.82 165.70 L552.03 165.70 L552.25 165.70 L552.46 165.70 L552.68 165.70 L552.89 165.70 L553.11 165.70 L553.32 165.70 L553.53 165.70 L553.75 165.70 L553.96 165.70 L554.18 165.70 L554.39 165.70 L554.61 165.70 L554.82 165.70 L555.04 165.70 L555.25 165.70 L555.47 165.70 L555.68 165.70 L555.90 165.70 L556.11 165.70 L556.33 165.70 L556.54 165.70 L556.76 165.70 L556.97 165.70 L557.19 165.70 L557.40 165.70 L557.62 165.70 L557.83 165.70 L558.05 165.70 L558.26 165.70 L558.47 165.70 L558.69 165.70 L558.90 165.70 L559.12 165.70 L559.33 165.70 L559.55 165.70 L559.76 165.70 L559.98 165.70 L560.19 165.70 L560.41 165.70 L560.62 165.70 L560.84 165.70 L561.05 165.70 L561.27 165.70 L561.48 165.70 L561.70 165.70 L561.91 165.70 L562.13 165.70 L562.34 165.70 L562.56 165.70 L562.77 165.70 L562.99 165.70 L563.20 165.70" fill="none" stroke="#d95319" stroke-width="0.9"/><path d="M484.20 165.70 L484.37 165.70 L484.59 165.70 L484.80 165.70 L485.02 165.70 L485.23 165.70 L485.45 165.70 L485.66 165.70 L485.88 165.70 L486.09 165.70 L486.31 165.70 L486.52 165.70 L486.74 165.70 L486.95 165.70 L487.17 165.70 L487.38 165.70 L487.59 165.70 L487.81 165.70 L488.02 165.70 L488.24 165.70 L488.45 165.70 L488.67 165.70 L488.88 165.70 L489.10 165.70 L489.31 165.70 L489.53 165.70 L489.74 165.70 L489.96 165.70 L490.17 165.70 L490.39 165.70 L490.60 165.70 L490.82 165.70 L491.03 165.70 L491.25 165.70 L491.46 165.70 L491.68 165.70 L491.89 165.70 L492.11 165.70 L492.20 165.70 M500.60 165.70 L500.70 165.70 L500.91 165.70 L501.13 165.70 L501.34 165.70 L501.56 165.70 L501.77 165.70 L501.99 165.70 L502.20 165.70 L502.42 165.70 L502.63 165.70 L502.84 165.70 L503.06 165.70 L503.27 165.70 L503.49 165.70 L503.70 165.70 L503.92 165.70 L504.13 165.70 L504.35 165.70 L504.56 165.70 L504.78 165.70 L504.99 165.70 L505.21 165.70 L505.42 165.70 L505.64 165.70 L505.85 165.70 L506.07 165.70 L506.28 165.70 L506.50 165.70 L506.71 165.70 L506.93 165.70 L507.14 165.70 L507.36 165.70 L507.57 165.70 L507.78 165.70 L508.00 165.70 L508.21 165.70 L508.43 165.70 L508.60 165.70 M516.86 165.06 L517.02 164.76 L517.24 164.12 L517.45 163.14 L517.67 161.69 L517.88 159.63 L518.09 156.83 L518.21 154.89 M518.71 143.99 L518.74 143.21 L518.95 137.07 L519.07 133.60 M519.42 122.69 L519.60 117.69 L519.81 112.45 L519.82 112.30" fill="none" stroke="#0072bd" stroke-width="2.3"/><path d="M520.82 111.20 L520.89 112.45 L521.10 117.69 L521.27 122.62 M521.65 134.05 L521.75 137.07 L521.96 143.21 L522.05 145.48 M522.61 156.90 L522.82 159.63 L523.03 161.69 L523.25 163.14 L523.46 164.12 L523.68 164.76 L523.89 165.16 L524.11 165.40 L524.32 165.54 L524.54 165.62 L524.75 165.66 L524.97 165.68 L525.18 165.69 L525.40 165.70 L525.61 165.70 L525.83 165.70 L526.04 165.70 L526.05 165.70 M534.85 165.70 L535.06 165.70 L535.28 165.70 L535.49 165.70 L535.71 165.70 L535.92 165.70 L536.14 165.70 L536.35 165.70 L536.57 165.70 L536.78 165.70 L537.00 165.70 L537.21 165.70 L537.43 165.70 L537.64 165.70 L537.86 165.70 L538.07 165.70 L538.28 165.70 L538.50 165.70 L538.71 165.70 L538.93 165.70 L539.14 165.70 L539.36 165.70 L539.57 165.70 L539.79 165.70 L540.00 165.70 L540.22 165.70 L540.43 165.70 L540.65 165.70 L540.86 165.70 L541.08 165.70 L541.29 165.70 L541.51 165.70 L541.72 165.70 L541.94 165.70 L542.15 165.70 L542.37 165.70 L542.58 165.70 L542.80 165.70 L543.01 165.70 L543.22 165.70 L543.44 165.70 L543.65 165.70 M552.45 165.70 L552.46 165.70 L552.68 165.70 L552.89 165.70 L553.11 165.70 L553.32 165.70 L553.53 165.70 L553.75 165.70 L553.96 165.70 L554.18 165.70 L554.39 165.70 L554.61 165.70 L554.82 165.70 L555.04 165.70 L555.25 165.70 L555.47 165.70 L555.68 165.70 L555.90 165.70 L556.11 165.70 L556.33 165.70 L556.54 165.70 L556.76 165.70 L556.97 165.70 L557.19 165.70 L557.40 165.70 L557.62 165.70 L557.83 165.70 L558.05 165.70 L558.26 165.70 L558.47 165.70 L558.69 165.70 L558.90 165.70 L559.12 165.70 L559.33 165.70 L559.55 165.70 L559.76 165.70 L559.98 165.70 L560.19 165.70 L560.41 165.70 L560.62 165.70 L560.84 165.70 L561.05 165.70 L561.25 165.70" fill="none" stroke="#0072bd" stroke-width="2.3"/></g><path d="M572.30 165.70 L573.35 163.40 L574.40 161.16 L575.46 158.97 L576.51 156.85 L577.56 154.78 L578.62 152.77 L579.67 150.82 L580.72 148.92 L581.77 147.09 L582.82 145.31 L583.88 143.59 L584.93 141.93 L585.98 140.33 L587.03 138.79 L588.09 137.30 L589.14 135.88 L590.19 134.51 L591.25 133.20 L592.30 131.94 L593.35 130.75 L594.40 129.61 L595.45 128.54 L596.51 127.52 L597.56 126.56 L598.61 125.65 L599.66 124.81 L600.72 124.02 L601.77 123.29 L602.82 122.62 L603.88 122.01 L604.93 121.46 L605.98 120.96 L607.03 120.53 L608.08 120.15 L609.14 119.83 L610.19 119.57 L611.24 119.36 L612.29 119.22 L613.35 119.13 L614.40 119.10 L615.45 119.13 L616.50 119.22 L617.56 119.36 L618.61 119.57 L619.66 119.83 L620.72 120.15 L621.77 120.53 L622.82 120.96 L623.87 121.46 L624.92 122.01 L625.98 122.62 L627.03 123.29 L628.08 124.02 L629.13 124.81 L630.19 125.65 L631.24 126.56 L632.29 127.52 L633.35 128.54 L634.40 129.61 L635.45 130.75 L636.50 131.94 L637.55 133.20 L638.61 134.51 L639.66 135.88 L640.71 137.30 L641.76 138.79 L642.82 140.33 L643.87 141.93 L644.92 143.59 L645.98 145.31 L647.03 147.09 L648.08 148.92 L649.13 150.82 L650.18 152.77 L651.24 154.78 L652.29 156.85 L653.34 158.97 L654.39 161.16 L655.45 163.40 L656.50 165.70" fill="none" stroke="#1a1a1a" stroke-width="0.8"/><g clip-path="url(#clR1)"><path d="M572.30 165.70 L572.58 165.70 L572.86 165.70 L573.14 165.70 L573.43 165.70 L573.71 165.70 L573.99 165.70 L574.27 165.70 L574.55 165.70 L574.83 165.70 L575.12 165.70 L575.40 165.70 L575.68 165.70 L575.96 165.70 L576.24 165.70 L576.52 165.70 L576.81 165.70 L577.09 165.69 L577.37 165.69 L577.65 165.69 L577.93 165.69 L578.21 165.68 L578.50 165.68 L578.78 165.67 L579.06 165.66 L579.34 165.66 L579.62 165.64 L579.90 165.63 L580.18 165.61 L580.47 165.59 L580.75 165.57 L581.03 165.54 L581.31 165.50 L581.59 165.46 L581.87 165.41 L582.16 165.35 L582.44 165.29 L582.72 165.21 L583.00 165.12 L583.28 165.02 L583.56 164.90 L583.85 164.76 L584.13 164.61 L584.41 164.44 L584.69 164.25 L584.97 164.03 L585.25 163.79 L585.54 163.52 L585.82 163.23 L586.10 162.90 L586.38 162.55 L586.66 162.16 L586.94 161.74 L587.23 161.28 L587.51 160.79 L587.79 160.25 L588.07 159.68 L588.35 159.08 L588.63 158.43 L588.91 157.74 L589.20 157.02 L589.48 156.25 L589.76 155.45 L590.04 154.61 L590.32 153.73 L590.60 152.81 L590.89 151.87 L591.17 150.89 L591.45 149.87 L591.73 148.83 L592.01 147.77 L592.29 146.68 L592.58 145.56 L592.86 144.43 L593.14 143.28 L593.42 142.12 L593.70 140.95 L593.98 139.77 L594.27 138.58 L594.55 137.40 L594.83 136.21 L595.11 135.03 L595.39 133.85 L595.67 132.68 L595.95 131.52 L596.24 130.38 L596.52 129.25 L596.80 128.15 L597.08 127.06 L597.36 125.99 L597.64 124.95 L597.93 123.94 L598.21 122.95 L598.49 121.99 L598.77 121.06 L599.05 120.17 L599.33 119.30 L599.62 118.46 L599.90 117.66 L600.18 116.89 L600.46 116.16 L600.74 115.45 L601.02 114.78 L601.31 114.15 L601.59 113.54 L601.87 112.97 L602.15 112.43 L602.43 111.92 L602.71 111.44 L602.99 110.99 L603.28 110.57 L603.56 110.18 L603.84 109.81 L604.12 109.47 L604.40 109.15 L604.68 108.86 L604.97 108.59 L605.25 108.35 L605.53 108.12 L605.81 107.92 L606.09 107.73 L606.37 107.56 L606.66 107.41 L606.94 107.27 L607.22 107.15 L607.50 107.04 L607.78 106.94 L608.06 106.85 L608.35 106.78 L608.63 106.71 L608.91 106.66 L609.19 106.61 L609.47 106.57 L609.75 106.53 L610.04 106.50 L610.32 106.48 L610.60 106.46 L610.88 106.44 L611.16 106.43 L611.44 106.42 L611.72 106.41 L612.01 106.41 L612.29 106.41 L612.57 106.40 L612.85 106.40 L613.13 106.40 L613.41 106.40 L613.70 106.40 L613.98 106.40 L614.26 106.40 L614.54 106.40 L614.82 106.40 L615.10 106.40 L615.39 106.40 L615.67 106.40 L615.95 106.40 L616.23 106.40 L616.51 106.41 L616.79 106.41 L617.08 106.41 L617.36 106.42 L617.64 106.43 L617.92 106.44 L618.20 106.46 L618.48 106.48 L618.76 106.50 L619.05 106.53 L619.33 106.57 L619.61 106.61 L619.89 106.66 L620.17 106.71 L620.45 106.78 L620.74 106.85 L621.02 106.94 L621.30 107.04 L621.58 107.15 L621.86 107.27 L622.14 107.41 L622.43 107.56 L622.71 107.73 L622.99 107.92 L623.27 108.12 L623.55 108.35 L623.83 108.59 L624.12 108.86 L624.40 109.15 L624.68 109.47 L624.96 109.81 L625.24 110.18 L625.52 110.57 L625.81 110.99 L626.09 111.44 L626.37 111.92 L626.65 112.43 L626.93 112.97 L627.21 113.54 L627.49 114.15 L627.78 114.78 L628.06 115.45 L628.34 116.16 L628.62 116.89 L628.90 117.66 L629.18 118.46 L629.47 119.30 L629.75 120.17 L630.03 121.06 L630.31 121.99 L630.59 122.95 L630.87 123.94 L631.16 124.95 L631.44 125.99 L631.72 127.06 L632.00 128.15 L632.28 129.25 L632.56 130.38 L632.85 131.52 L633.13 132.68 L633.41 133.85 L633.69 135.03 L633.97 136.21 L634.25 137.40 L634.53 138.58 L634.82 139.77 L635.10 140.95 L635.38 142.12 L635.66 143.28 L635.94 144.43 L636.22 145.56 L636.51 146.68 L636.79 147.77 L637.07 148.83 L637.35 149.87 L637.63 150.89 L637.91 151.87 L638.20 152.81 L638.48 153.73 L638.76 154.61 L639.04 155.45 L639.32 156.25 L639.60 157.02 L639.89 157.74 L640.17 158.43 L640.45 159.08 L640.73 159.68 L641.01 160.25 L641.29 160.79 L641.57 161.28 L641.86 161.74 L642.14 162.16 L642.42 162.55 L642.70 162.90 L642.98 163.23 L643.26 163.52 L643.55 163.79 L643.83 164.03 L644.11 164.25 L644.39 164.44 L644.67 164.61 L644.95 164.76 L645.24 164.90 L645.52 165.02 L645.80 165.12 L646.08 165.21 L646.36 165.29 L646.64 165.35 L646.93 165.41 L647.21 165.46 L647.49 165.50 L647.77 165.54 L648.05 165.57 L648.33 165.59 L648.62 165.61 L648.90 165.63 L649.18 165.64 L649.46 165.66 L649.74 165.66 L650.02 165.67 L650.30 165.68 L650.59 165.68 L650.87 165.69 L651.15 165.69 L651.43 165.69 L651.71 165.69 L651.99 165.70 L652.28 165.70 L652.56 165.70 L652.84 165.70 L653.12 165.70 L653.40 165.70 L653.68 165.70 L653.97 165.70 L654.25 165.70 L654.53 165.70 L654.81 165.70 L655.09 165.70 L655.37 165.70 L655.66 165.70 L655.94 165.70 L656.22 165.70 L656.50 165.70" fill="none" stroke="#d95319" stroke-width="0.9"/><path d="M572.30 165.70 L572.58 165.70 L572.86 165.70 L573.14 165.70 L573.43 165.70 L573.71 165.70 L573.99 165.70 L574.27 165.70 L574.55 165.70 L574.83 165.70 L575.12 165.70 L575.40 165.70 L575.68 165.70 L575.96 165.70 L576.24 165.70 L576.52 165.70 L576.81 165.70 L577.09 165.69 L577.37 165.69 L577.65 165.69 L577.93 165.69 L578.21 165.68 L578.50 165.68 L578.78 165.67 L579.06 165.66 L579.34 165.66 L579.62 165.64 L579.90 165.63 L580.18 165.61 L580.47 165.59 L580.75 165.57 L581.03 165.54 L581.31 165.50 L581.59 165.46 L581.87 165.41 L581.89 165.41 M587.63 160.55 L587.79 160.25 L588.07 159.68 L588.35 159.08 L588.63 158.43 L588.91 157.74 L589.20 157.02 L589.48 156.25 L589.76 155.45 L590.04 154.61 L590.32 153.73 L590.60 152.81 L590.89 151.87 L591.17 150.89 L591.31 150.37 M593.40 142.21 L593.42 142.12 L593.70 140.95 L593.98 139.77 L594.27 138.58 L594.55 137.40 L594.83 136.21 L595.11 135.03 L595.39 133.85 L595.67 132.68 L595.94 131.56 M598.08 123.42 L598.21 122.95 L598.49 121.99 L598.77 121.06 L599.05 120.17 L599.33 119.30 L599.62 118.46 L599.90 117.66 L600.18 116.89 L600.46 116.16 L600.74 115.45 L601.02 114.78 L601.31 114.15 L601.59 113.54 L601.74 113.23 M606.86 107.31 L606.94 107.27 L607.22 107.15 L607.50 107.04 L607.78 106.94 L608.06 106.85 L608.35 106.78 L608.63 106.71 L608.91 106.66 L609.19 106.61 L609.47 106.57 L609.75 106.53 L610.04 106.50 L610.32 106.48 L610.60 106.46 L610.88 106.44 L611.16 106.43 L611.44 106.42 L611.72 106.41 L612.01 106.41 L612.29 106.41 L612.57 106.40 L612.85 106.40 L613.13 106.40 L613.41 106.40 L613.70 106.40 L613.98 106.40 L614.26 106.40 L614.54 106.40 L614.82 106.40 L615.10 106.40 L615.39 106.40 L615.67 106.40 L615.95 106.40 L616.23 106.40 L616.37 106.40 M623.45 108.27 L623.55 108.35 L623.83 108.59 L624.12 108.86 L624.40 109.15 L624.68 109.47 L624.96 109.81 L625.24 110.18 L625.52 110.57 L625.81 110.99 L626.09 111.44 L626.37 111.92 L626.65 112.43 L626.93 112.97 L627.21 113.54 L627.49 114.15 L627.78 114.78 L628.06 115.45 L628.34 116.16 L628.62 116.89 L628.77 117.30 M631.25 125.31 L631.44 125.99 L631.72 127.06 L632.00 128.15 L632.28 129.25 L632.56 130.38 L632.85 131.52 L633.13 132.68 L633.41 133.85 L633.69 135.03 L633.90 135.92 M635.87 144.13 L635.94 144.43 L636.22 145.56 L636.51 146.68 L636.79 147.77 L637.07 148.83 L637.35 149.87 L637.63 150.89 L637.91 151.87 L638.20 152.81 L638.48 153.73 L638.76 154.61 L638.77 154.65 M642.15 162.18 L642.42 162.55 L642.70 162.90 L642.98 163.23 L643.26 163.52 L643.55 163.79 L643.83 164.03 L644.11 164.25 L644.39 164.44 L644.67 164.61 L644.95 164.76 L645.24 164.90 L645.52 165.02 L645.80 165.12 L646.08 165.21 L646.36 165.29 L646.64 165.35 L646.93 165.41 L647.21 165.46 L647.49 165.50 L647.77 165.54 L648.05 165.57 L648.33 165.59 L648.62 165.61 L648.90 165.63 L649.18 165.64 L649.46 165.66 L649.74 165.66 L650.02 165.67 L650.30 165.68 L650.59 165.68 L650.83 165.69" fill="none" stroke="#0072bd" stroke-width="2.3"/></g><text x="474" y="109.4" font-size="8.3" fill="#0072bd" text-anchor="end">1</text><text x="474.4" y="140" font-size="8.3" fill="#0072bd" text-anchor="end">0.5</text><text x="474.4" y="169.7" font-size="8.3" fill="#0072bd" text-anchor="end">0</text><text x="659.5" y="118" font-size="8.3" fill="#262626">7</text><text x="659.5" y="144.8" font-size="8.3" fill="#262626">3.5</text><text x="659.5" y="169.5" font-size="8.3" fill="#262626">0</text><polyline points="477.5,181.2 563.2,181.2 563.2,240.2" fill="none" stroke="#808080" stroke-width="0.7" stroke-dasharray="0.9,0.7"/><polyline points="572.3,240.2 572.3,181.2 656.5,181.2 656.5,240.2" fill="none" stroke="#808080" stroke-width="0.7" stroke-dasharray="0.9,0.7"/><line x1="477.5" y1="181.2" x2="477.5" y2="240.2" stroke="#8fb4dc" stroke-width="0.6"/><line x1="477.5" y1="240.2" x2="563.2" y2="240.2" stroke="#606060" stroke-width="0.6"/><line x1="572.3" y1="240.2" x2="656.5" y2="240.2" stroke="#606060" stroke-width="0.6"/><path d="M477.50 191.00 L479.64 190.98 L481.79 190.96 L483.93 190.94 L486.07 190.93 L488.21 190.91 L490.36 190.90 L492.50 190.88 L494.64 190.87 L496.78 190.86 L498.93 190.85 L501.07 190.84 L503.21 190.83 L505.35 190.82 L507.50 190.82 L509.64 190.81 L511.78 190.81 L513.92 190.80 L516.07 190.80 L518.21 190.80 L520.35 190.80 L522.49 190.80 L524.63 190.80 L526.78 190.80 L528.92 190.81 L531.06 190.81 L533.21 190.82 L535.35 190.82 L537.49 190.83 L539.63 190.84 L541.78 190.85 L543.92 190.86 L546.06 190.87 L548.20 190.88 L550.35 190.90 L552.49 190.91 L554.63 190.93 L556.77 190.94 L558.92 190.96 L561.06 190.98 L563.20 191.00" fill="none" stroke="#1e1e1e" stroke-width="1.0" stroke-dasharray="1,0.85"/><g clip-path="url(#clL2)"><path d="M477.50 240.20 L477.71 240.20 L477.93 240.20 L478.14 240.20 L478.36 240.20 L478.57 240.20 L478.79 240.20 L479.00 240.20 L479.22 240.20 L479.43 240.20 L479.65 240.20 L479.86 240.20 L480.08 240.20 L480.29 240.20 L480.51 240.20 L480.72 240.20 L480.94 240.20 L481.15 240.20 L481.37 240.20 L481.58 240.20 L481.80 240.20 L482.01 240.20 L482.23 240.20 L482.44 240.20 L482.65 240.20 L482.87 240.20 L483.08 240.20 L483.30 240.20 L483.51 240.20 L483.73 240.20 L483.94 240.20 L484.16 240.20 L484.37 240.20 L484.59 240.20 L484.80 240.20 L485.02 240.20 L485.23 240.20 L485.45 240.20 L485.66 240.20 L485.88 240.20 L486.09 240.20 L486.31 240.20 L486.52 240.20 L486.74 240.20 L486.95 240.20 L487.17 240.20 L487.38 240.20 L487.59 240.20 L487.81 240.20 L488.02 240.20 L488.24 240.20 L488.45 240.20 L488.67 240.20 L488.88 240.20 L489.10 240.20 L489.31 240.20 L489.53 240.20 L489.74 240.20 L489.96 240.20 L490.17 240.20 L490.39 240.20 L490.60 240.20 L490.82 240.20 L491.03 240.20 L491.25 240.20 L491.46 240.20 L491.68 240.20 L491.89 240.20 L492.11 240.20 L492.32 240.20 L492.54 240.20 L492.75 240.20 L492.96 240.20 L493.18 240.20 L493.39 240.20 L493.61 240.20 L493.82 240.20 L494.04 240.20 L494.25 240.20 L494.47 240.20 L494.68 240.20 L494.90 240.20 L495.11 240.20 L495.33 240.20 L495.54 240.20 L495.76 240.20 L495.97 240.20 L496.19 240.20 L496.40 240.20 L496.62 240.20 L496.83 240.20 L497.05 240.20 L497.26 240.20 L497.48 240.20 L497.69 240.20 L497.90 240.20 L498.12 240.20 L498.33 240.20 L498.55 240.20 L498.76 240.20 L498.98 240.20 L499.19 240.20 L499.41 240.20 L499.62 240.20 L499.84 240.20 L500.05 240.20 L500.27 240.20 L500.48 240.20 L500.70 240.20 L500.91 240.20 L501.13 240.20 L501.34 240.20 L501.56 240.20 L501.77 240.20 L501.99 240.20 L502.20 240.20 L502.42 240.20 L502.63 240.20 L502.84 240.20 L503.06 240.20 L503.27 240.20 L503.49 240.20 L503.70 240.20 L503.92 240.20 L504.13 240.20 L504.35 240.20 L504.56 240.20 L504.78 240.20 L504.99 240.20 L505.21 240.20 L505.42 240.20 L505.64 240.20 L505.85 240.20 L506.07 240.20 L506.28 240.20 L506.50 240.20 L506.71 240.20 L506.93 240.20 L507.14 240.20 L507.36 240.20 L507.57 240.20 L507.78 240.20 L508.00 240.20 L508.21 240.20 L508.43 240.20 L508.64 240.20 L508.86 240.20 L509.07 240.20 L509.29 240.20 L509.50 240.20 L509.72 240.20 L509.93 240.20 L510.15 240.20 L510.36 240.20 L510.58 240.20 L510.79 240.20 L511.01 240.20 L511.22 240.20 L511.44 240.20 L511.65 240.20 L511.87 240.20 L512.08 240.20 L512.30 240.20 L512.51 240.20 L512.73 240.20 L512.94 240.20 L513.15 240.20 L513.37 240.20 L513.58 240.20 L513.80 240.20 L514.01 240.20 L514.23 240.20 L514.44 240.20 L514.66 240.20 L514.87 240.20 L515.09 240.20 L515.30 240.20 L515.52 240.19 L515.73 240.18 L515.95 240.16 L516.16 240.12 L516.38 240.04 L516.59 239.90 L516.81 239.66 L517.02 239.26 L517.24 238.62 L517.45 237.65 L517.67 236.21 L517.88 234.16 L518.09 231.37 L518.31 227.74 L518.52 223.21 L518.74 217.82 L518.95 211.71 L519.17 205.17 L519.38 198.58 L519.60 192.43 L519.81 187.22 L520.03 183.44 L520.24 181.45 L520.46 181.45 L520.67 183.44 L520.89 187.22 L521.10 192.43 L521.32 198.58 L521.53 205.17 L521.75 211.71 L521.96 217.82 L522.18 223.21 L522.39 227.74 L522.61 231.37 L522.82 234.16 L523.03 236.21 L523.25 237.65 L523.46 238.62 L523.68 239.26 L523.89 239.66 L524.11 239.90 L524.32 240.04 L524.54 240.12 L524.75 240.16 L524.97 240.18 L525.18 240.19 L525.40 240.20 L525.61 240.20 L525.83 240.20 L526.04 240.20 L526.26 240.20 L526.47 240.20 L526.69 240.20 L526.90 240.20 L527.12 240.20 L527.33 240.20 L527.55 240.20 L527.76 240.20 L527.97 240.20 L528.19 240.20 L528.40 240.20 L528.62 240.20 L528.83 240.20 L529.05 240.20 L529.26 240.20 L529.48 240.20 L529.69 240.20 L529.91 240.20 L530.12 240.20 L530.34 240.20 L530.55 240.20 L530.77 240.20 L530.98 240.20 L531.20 240.20 L531.41 240.20 L531.63 240.20 L531.84 240.20 L532.06 240.20 L532.27 240.20 L532.49 240.20 L532.70 240.20 L532.92 240.20 L533.13 240.20 L533.34 240.20 L533.56 240.20 L533.77 240.20 L533.99 240.20 L534.20 240.20 L534.42 240.20 L534.63 240.20 L534.85 240.20 L535.06 240.20 L535.28 240.20 L535.49 240.20 L535.71 240.20 L535.92 240.20 L536.14 240.20 L536.35 240.20 L536.57 240.20 L536.78 240.20 L537.00 240.20 L537.21 240.20 L537.43 240.20 L537.64 240.20 L537.86 240.20 L538.07 240.20 L538.28 240.20 L538.50 240.20 L538.71 240.20 L538.93 240.20 L539.14 240.20 L539.36 240.20 L539.57 240.20 L539.79 240.20 L540.00 240.20 L540.22 240.20 L540.43 240.20 L540.65 240.20 L540.86 240.20 L541.08 240.20 L541.29 240.20 L541.51 240.20 L541.72 240.20 L541.94 240.20 L542.15 240.20 L542.37 240.20 L542.58 240.20 L542.80 240.20 L543.01 240.20 L543.22 240.20 L543.44 240.20 L543.65 240.20 L543.87 240.20 L544.08 240.20 L544.30 240.20 L544.51 240.20 L544.73 240.20 L544.94 240.20 L545.16 240.20 L545.37 240.20 L545.59 240.20 L545.80 240.20 L546.02 240.20 L546.23 240.20 L546.45 240.20 L546.66 240.20 L546.88 240.20 L547.09 240.20 L547.31 240.20 L547.52 240.20 L547.74 240.20 L547.95 240.20 L548.16 240.20 L548.38 240.20 L548.59 240.20 L548.81 240.20 L549.02 240.20 L549.24 240.20 L549.45 240.20 L549.67 240.20 L549.88 240.20 L550.10 240.20 L550.31 240.20 L550.53 240.20 L550.74 240.20 L550.96 240.20 L551.17 240.20 L551.39 240.20 L551.60 240.20 L551.82 240.20 L552.03 240.20 L552.25 240.20 L552.46 240.20 L552.68 240.20 L552.89 240.20 L553.11 240.20 L553.32 240.20 L553.53 240.20 L553.75 240.20 L553.96 240.20 L554.18 240.20 L554.39 240.20 L554.61 240.20 L554.82 240.20 L555.04 240.20 L555.25 240.20 L555.47 240.20 L555.68 240.20 L555.90 240.20 L556.11 240.20 L556.33 240.20 L556.54 240.20 L556.76 240.20 L556.97 240.20 L557.19 240.20 L557.40 240.20 L557.62 240.20 L557.83 240.20 L558.05 240.20 L558.26 240.20 L558.47 240.20 L558.69 240.20 L558.90 240.20 L559.12 240.20 L559.33 240.20 L559.55 240.20 L559.76 240.20 L559.98 240.20 L560.19 240.20 L560.41 240.20 L560.62 240.20 L560.84 240.20 L561.05 240.20 L561.27 240.20 L561.48 240.20 L561.70 240.20 L561.91 240.20 L562.13 240.20 L562.34 240.20 L562.56 240.20 L562.77 240.20 L562.99 240.20 L563.20 240.20" fill="none" stroke="#d95319" stroke-width="0.9"/><path d="M484.20 240.20 L484.37 240.20 L484.59 240.20 L484.80 240.20 L485.02 240.20 L485.23 240.20 L485.45 240.20 L485.66 240.20 L485.88 240.20 L486.09 240.20 L486.31 240.20 L486.52 240.20 L486.74 240.20 L486.95 240.20 L487.17 240.20 L487.38 240.20 L487.59 240.20 L487.81 240.20 L488.02 240.20 L488.24 240.20 L488.45 240.20 L488.67 240.20 L488.88 240.20 L489.10 240.20 L489.31 240.20 L489.53 240.20 L489.74 240.20 L489.96 240.20 L490.17 240.20 L490.39 240.20 L490.60 240.20 L490.82 240.20 L491.03 240.20 L491.25 240.20 L491.46 240.20 L491.68 240.20 L491.89 240.20 L492.11 240.20 L492.20 240.20 M500.60 240.20 L500.70 240.20 L500.91 240.20 L501.13 240.20 L501.34 240.20 L501.56 240.20 L501.77 240.20 L501.99 240.20 L502.20 240.20 L502.42 240.20 L502.63 240.20 L502.84 240.20 L503.06 240.20 L503.27 240.20 L503.49 240.20 L503.70 240.20 L503.92 240.20 L504.13 240.20 L504.35 240.20 L504.56 240.20 L504.78 240.20 L504.99 240.20 L505.21 240.20 L505.42 240.20 L505.64 240.20 L505.85 240.20 L506.07 240.20 L506.28 240.20 L506.50 240.20 L506.71 240.20 L506.93 240.20 L507.14 240.20 L507.36 240.20 L507.57 240.20 L507.78 240.20 L508.00 240.20 L508.21 240.20 L508.43 240.20 L508.60 240.20 M516.86 239.56 L517.02 239.26 L517.24 238.62 L517.45 237.65 L517.67 236.21 L517.88 234.16 L518.09 231.37 L518.21 229.39 M518.71 218.49 L518.74 217.82 L518.95 211.71 L519.07 208.11 M519.43 197.20 L519.60 192.43 L519.81 187.22 L519.84 186.81" fill="none" stroke="#0072bd" stroke-width="2.3"/><path d="M520.24 181.45 L520.46 181.45 L520.67 183.44 L520.89 187.22 L521.00 189.88 M521.41 201.30 L521.53 205.17 L521.75 211.71 L521.78 212.73 M522.22 224.16 L522.39 227.74 L522.61 231.37 L522.82 234.16 L522.97 235.55 M529.26 240.20 L529.26 240.20 L529.48 240.20 L529.69 240.20 L529.91 240.20 L530.12 240.20 L530.34 240.20 L530.55 240.20 L530.77 240.20 L530.98 240.20 L531.20 240.20 L531.41 240.20 L531.63 240.20 L531.84 240.20 L532.06 240.20 L532.27 240.20 L532.49 240.20 L532.70 240.20 L532.92 240.20 L533.13 240.20 L533.34 240.20 L533.56 240.20 L533.77 240.20 L533.99 240.20 L534.20 240.20 L534.42 240.20 L534.63 240.20 L534.85 240.20 L535.06 240.20 L535.28 240.20 L535.49 240.20 L535.71 240.20 L535.92 240.20 L536.14 240.20 L536.35 240.20 L536.57 240.20 L536.78 240.20 L537.00 240.20 L537.21 240.20 L537.43 240.20 L537.64 240.20 L537.86 240.20 L538.06 240.20 M546.86 240.20 L546.88 240.20 L547.09 240.20 L547.31 240.20 L547.52 240.20 L547.74 240.20 L547.95 240.20 L548.16 240.20 L548.38 240.20 L548.59 240.20 L548.81 240.20 L549.02 240.20 L549.24 240.20 L549.45 240.20 L549.67 240.20 L549.88 240.20 L550.10 240.20 L550.31 240.20 L550.53 240.20 L550.74 240.20 L550.96 240.20 L551.17 240.20 L551.39 240.20 L551.60 240.20 L551.82 240.20 L552.03 240.20 L552.25 240.20 L552.46 240.20 L552.68 240.20 L552.89 240.20 L553.11 240.20 L553.32 240.20 L553.53 240.20 L553.75 240.20 L553.96 240.20 L554.18 240.20 L554.39 240.20 L554.61 240.20 L554.82 240.20 L555.04 240.20 L555.25 240.20 L555.47 240.20 L555.66 240.20" fill="none" stroke="#0072bd" stroke-width="2.3"/></g><path d="M572.30 240.20 L573.35 237.76 L574.40 235.37 L575.46 233.05 L576.51 230.79 L577.56 228.60 L578.62 226.46 L579.67 224.39 L580.72 222.38 L581.77 220.43 L582.82 218.54 L583.88 216.72 L584.93 214.96 L585.98 213.25 L587.03 211.61 L588.09 210.04 L589.14 208.52 L590.19 207.07 L591.25 205.67 L592.30 204.34 L593.35 203.08 L594.40 201.87 L595.45 200.72 L596.51 199.64 L597.56 198.62 L598.61 197.66 L599.66 196.76 L600.72 195.93 L601.77 195.15 L602.82 194.44 L603.88 193.79 L604.93 193.21 L605.98 192.68 L607.03 192.22 L608.08 191.81 L609.14 191.47 L610.19 191.19 L611.24 190.98 L612.29 190.82 L613.35 190.73 L614.40 190.70 L615.45 190.73 L616.50 190.82 L617.56 190.98 L618.61 191.19 L619.66 191.47 L620.72 191.81 L621.77 192.22 L622.82 192.68 L623.87 193.21 L624.92 193.79 L625.98 194.44 L627.03 195.15 L628.08 195.93 L629.13 196.76 L630.19 197.66 L631.24 198.62 L632.29 199.64 L633.35 200.72 L634.40 201.87 L635.45 203.08 L636.50 204.34 L637.55 205.67 L638.61 207.07 L639.66 208.52 L640.71 210.04 L641.76 211.61 L642.82 213.25 L643.87 214.96 L644.92 216.72 L645.98 218.54 L647.03 220.43 L648.08 222.38 L649.13 224.39 L650.18 226.46 L651.24 228.60 L652.29 230.79 L653.34 233.05 L654.39 235.37 L655.45 237.76 L656.50 240.20" fill="none" stroke="#1a1a1a" stroke-width="0.8"/><g clip-path="url(#clR2)"><path d="M572.30 240.20 L572.58 240.20 L572.86 240.20 L573.14 240.20 L573.43 240.20 L573.71 240.20 L573.99 240.20 L574.27 240.20 L574.55 240.20 L574.83 240.20 L575.12 240.20 L575.40 240.20 L575.68 240.20 L575.96 240.20 L576.24 240.20 L576.52 240.20 L576.81 240.20 L577.09 240.20 L577.37 240.20 L577.65 240.20 L577.93 240.20 L578.21 240.19 L578.50 240.19 L578.78 240.19 L579.06 240.19 L579.34 240.18 L579.62 240.17 L579.90 240.16 L580.18 240.15 L580.47 240.14 L580.75 240.12 L581.03 240.09 L581.31 240.06 L581.59 240.02 L581.87 239.97 L582.16 239.92 L582.44 239.85 L582.72 239.76 L583.00 239.66 L583.28 239.54 L583.56 239.41 L583.85 239.24 L584.13 239.06 L584.41 238.84 L584.69 238.59 L584.97 238.31 L585.25 238.00 L585.54 237.64 L585.82 237.24 L586.10 236.80 L586.38 236.32 L586.66 235.78 L586.94 235.20 L587.23 234.57 L587.51 233.88 L587.79 233.15 L588.07 232.36 L588.35 231.52 L588.63 230.64 L588.91 229.70 L589.20 228.71 L589.48 227.68 L589.76 226.61 L590.04 225.49 L590.32 224.34 L590.60 223.16 L590.89 221.94 L591.17 220.70 L591.45 219.43 L591.73 218.14 L592.01 216.84 L592.29 215.53 L592.58 214.21 L592.86 212.89 L593.14 211.57 L593.42 210.26 L593.70 208.96 L593.98 207.67 L594.27 206.40 L594.55 205.14 L594.83 203.91 L595.11 202.71 L595.39 201.53 L595.67 200.38 L595.95 199.27 L596.24 198.19 L596.52 197.15 L596.80 196.14 L597.08 195.17 L597.36 194.24 L597.64 193.35 L597.93 192.50 L598.21 191.69 L598.49 190.91 L598.77 190.18 L599.05 189.48 L599.33 188.83 L599.62 188.21 L599.90 187.62 L600.18 187.08 L600.46 186.56 L600.74 186.09 L601.02 185.64 L601.31 185.22 L601.59 184.84 L601.87 184.48 L602.15 184.15 L602.43 183.84 L602.71 183.56 L602.99 183.31 L603.28 183.07 L603.56 182.86 L603.84 182.67 L604.12 182.49 L604.40 182.33 L604.68 182.19 L604.97 182.06 L605.25 181.94 L605.53 181.84 L605.81 181.75 L606.09 181.67 L606.37 181.60 L606.66 181.53 L606.94 181.48 L607.22 181.43 L607.50 181.39 L607.78 181.36 L608.06 181.33 L608.35 181.30 L608.63 181.28 L608.91 181.26 L609.19 181.25 L609.47 181.24 L609.75 181.23 L610.04 181.22 L610.32 181.22 L610.60 181.21 L610.88 181.21 L611.16 181.21 L611.44 181.20 L611.72 181.20 L612.01 181.20 L612.29 181.20 L612.57 181.20 L612.85 181.20 L613.13 181.20 L613.41 181.20 L613.70 181.20 L613.98 181.20 L614.26 181.20 L614.54 181.20 L614.82 181.20 L615.10 181.20 L615.39 181.20 L615.67 181.20 L615.95 181.20 L616.23 181.20 L616.51 181.20 L616.79 181.20 L617.08 181.20 L617.36 181.20 L617.64 181.21 L617.92 181.21 L618.20 181.21 L618.48 181.22 L618.76 181.22 L619.05 181.23 L619.33 181.24 L619.61 181.25 L619.89 181.26 L620.17 181.28 L620.45 181.30 L620.74 181.33 L621.02 181.36 L621.30 181.39 L621.58 181.43 L621.86 181.48 L622.14 181.53 L622.43 181.60 L622.71 181.67 L622.99 181.75 L623.27 181.84 L623.55 181.94 L623.83 182.06 L624.12 182.19 L624.40 182.33 L624.68 182.49 L624.96 182.67 L625.24 182.86 L625.52 183.07 L625.81 183.31 L626.09 183.56 L626.37 183.84 L626.65 184.15 L626.93 184.48 L627.21 184.84 L627.49 185.22 L627.78 185.64 L628.06 186.09 L628.34 186.56 L628.62 187.08 L628.90 187.62 L629.18 188.21 L629.47 188.83 L629.75 189.48 L630.03 190.18 L630.31 190.91 L630.59 191.69 L630.87 192.50 L631.16 193.35 L631.44 194.24 L631.72 195.17 L632.00 196.14 L632.28 197.15 L632.56 198.19 L632.85 199.27 L633.13 200.38 L633.41 201.53 L633.69 202.71 L633.97 203.91 L634.25 205.14 L634.53 206.40 L634.82 207.67 L635.10 208.96 L635.38 210.26 L635.66 211.57 L635.94 212.89 L636.22 214.21 L636.51 215.53 L636.79 216.84 L637.07 218.14 L637.35 219.43 L637.63 220.70 L637.91 221.94 L638.20 223.16 L638.48 224.34 L638.76 225.49 L639.04 226.61 L639.32 227.68 L639.60 228.71 L639.89 229.70 L640.17 230.64 L640.45 231.52 L640.73 232.36 L641.01 233.15 L641.29 233.88 L641.57 234.57 L641.86 235.20 L642.14 235.78 L642.42 236.32 L642.70 236.80 L642.98 237.24 L643.26 237.64 L643.55 238.00 L643.83 238.31 L644.11 238.59 L644.39 238.84 L644.67 239.06 L644.95 239.24 L645.24 239.41 L645.52 239.54 L645.80 239.66 L646.08 239.76 L646.36 239.85 L646.64 239.92 L646.93 239.97 L647.21 240.02 L647.49 240.06 L647.77 240.09 L648.05 240.12 L648.33 240.14 L648.62 240.15 L648.90 240.16 L649.18 240.17 L649.46 240.18 L649.74 240.19 L650.02 240.19 L650.30 240.19 L650.59 240.19 L650.87 240.20 L651.15 240.20 L651.43 240.20 L651.71 240.20 L651.99 240.20 L652.28 240.20 L652.56 240.20 L652.84 240.20 L653.12 240.20 L653.40 240.20 L653.68 240.20 L653.97 240.20 L654.25 240.20 L654.53 240.20 L654.81 240.20 L655.09 240.20 L655.37 240.20 L655.66 240.20 L655.94 240.20 L656.22 240.20 L656.50 240.20" fill="none" stroke="#d95319" stroke-width="0.9"/><path d="M572.30 240.20 L572.58 240.20 L572.86 240.20 L573.14 240.20 L573.43 240.20 L573.71 240.20 L573.99 240.20 L574.27 240.20 L574.55 240.20 L574.83 240.20 L575.12 240.20 L575.40 240.20 L575.68 240.20 L575.96 240.20 L576.24 240.20 L576.52 240.20 L576.81 240.20 L577.09 240.20 L577.37 240.20 L577.65 240.20 L577.93 240.20 L578.21 240.19 L578.50 240.19 L578.78 240.19 L579.06 240.19 L579.34 240.18 L579.62 240.17 L579.90 240.16 L580.18 240.15 L580.47 240.14 L580.75 240.12 L581.03 240.09 L581.31 240.06 L581.59 240.02 L581.87 239.97 L581.89 239.97 M587.21 234.60 L587.23 234.57 L587.51 233.88 L587.79 233.15 L588.07 232.36 L588.35 231.52 L588.63 230.64 L588.91 229.70 L589.20 228.71 L589.48 227.68 L589.76 226.61 L590.04 225.49 L590.32 224.34 L590.36 224.19 M592.20 215.95 L592.29 215.53 L592.58 214.21 L592.86 212.89 L593.14 211.57 L593.42 210.26 L593.70 208.96 L593.98 207.67 L594.27 206.40 L594.53 205.24 M596.54 197.05 L596.80 196.14 L597.08 195.17 L597.36 194.24 L597.64 193.35 L597.93 192.50 L598.21 191.69 L598.49 190.91 L598.77 190.18 L599.05 189.48 L599.33 188.83 L599.62 188.21 L599.90 187.62 L600.18 187.08 L600.27 186.91 M605.89 181.73 L606.09 181.67 L606.37 181.60 L606.66 181.53 L606.94 181.48 L607.22 181.43 L607.50 181.39 L607.78 181.36 L608.06 181.33 L608.35 181.30 L608.63 181.28 L608.91 181.26 L609.19 181.25 L609.47 181.24 L609.75 181.23 L610.04 181.22 L610.32 181.22 L610.60 181.21 L610.88 181.21 L611.16 181.21 L611.44 181.20 L611.72 181.20 L612.01 181.20 L612.29 181.20 L612.57 181.20 L612.85 181.20 L613.13 181.20 L613.41 181.20 L613.70 181.20 L613.98 181.20 L614.26 181.20 L614.54 181.20 L614.82 181.20 L615.10 181.20 L615.39 181.20 L615.46 181.20 M622.83 181.70 L622.99 181.75 L623.27 181.84 L623.55 181.94 L623.83 182.06 L624.12 182.19 L624.40 182.33 L624.68 182.49 L624.96 182.67 L625.24 182.86 L625.52 183.07 L625.81 183.31 L626.09 183.56 L626.37 183.84 L626.65 184.15 L626.93 184.48 L627.21 184.84 L627.49 185.22 L627.78 185.64 L628.06 186.09 L628.34 186.56 L628.62 187.08 L628.90 187.62 L629.18 188.21 L629.47 188.83 L629.55 189.03 M632.23 196.96 L632.28 197.15 L632.56 198.19 L632.85 199.27 L633.13 200.38 L633.41 201.53 L633.69 202.71 L633.97 203.91 L634.25 205.14 L634.53 206.40 L634.80 207.59 M636.58 215.86 L636.79 216.84 L637.07 218.14 L637.35 219.43 L637.63 220.70 L637.91 221.94 L638.20 223.16 L638.48 224.34 L638.76 225.49 L639.02 226.53 M641.55 234.52 L641.57 234.57 L641.86 235.20 L642.14 235.78 L642.42 236.32 L642.70 236.80 L642.98 237.24 L643.26 237.64 L643.55 238.00 L643.83 238.31 L644.11 238.59 L644.39 238.84 L644.67 239.06 L644.95 239.24 L645.24 239.41 L645.52 239.54 L645.80 239.66 L646.08 239.76 L646.36 239.85 L646.64 239.92 L646.93 239.97 L647.21 240.02 L647.49 240.06 L647.77 240.09 L648.05 240.12 L648.33 240.14 L648.62 240.15 L648.90 240.16 L649.02 240.17 M656.42 240.20 L656.50 240.20" fill="none" stroke="#0072bd" stroke-width="2.3"/></g><text x="474" y="184.2" font-size="8.3" fill="#0072bd" text-anchor="end">1</text><text x="474.4" y="214.6" font-size="8.3" fill="#0072bd" text-anchor="end">0.5</text><text x="474.4" y="244.2" font-size="8.3" fill="#0072bd" text-anchor="end">0</text><text x="659.5" y="193" font-size="8.3" fill="#262626">7</text><text x="659.5" y="219.2" font-size="8.3" fill="#262626">3.5</text><text x="659.5" y="244" font-size="8.3" fill="#262626">0</text><text x="478.2" y="251.3" font-size="8.3" fill="#262626" text-anchor="middle">-0.5</text><text x="520.4" y="251.3" font-size="8.3" fill="#262626" text-anchor="middle">0</text><text x="563.6" y="251.3" font-size="8.3" fill="#262626" text-anchor="middle">0.5</text><text x="592.1" y="251.3" font-size="8.3" fill="#262626" text-anchor="middle">-1</text><text x="614.7" y="251.3" font-size="8.3" fill="#262626" text-anchor="middle">0</text><text x="636.7" y="251.3" font-size="8.3" fill="#262626" text-anchor="middle">1</text><g font-family="Liberation Serif, serif" fill="#1f1f1f"><text x="1.50" y="261.30" font-size="9.60" font-style="italic">q</text><text x="6.00" y="262.80" font-size="7.20">2</text><text transform="translate(9.70 262.80) scale(1.3 1)" font-size="7.20" font-style="italic">x</text><text x="16.90" y="261.70" font-size="11.20">[</text><text x="18.90" y="261.30" font-size="9.60" font-style="italic">μ</text><text x="24.40" y="261.30" font-size="9.60">m</text><text x="32.70" y="257.00" font-size="6.60">−1</text><text x="41.10" y="261.70" font-size="11.20">]</text></g><g font-family="Liberation Serif, serif" fill="#1f1f1f"><text x="81.90" y="266.80" font-size="9.60" font-style="italic">q</text><text x="86.40" y="268.30" font-size="7.20">1</text><text transform="translate(90.10 268.30) scale(1.3 1)" font-size="7.20" font-style="italic">x</text><text x="97.30" y="267.20" font-size="11.20">[</text><text x="99.30" y="266.80" font-size="9.60" font-style="italic">μ</text><text x="104.80" y="266.80" font-size="9.60">m</text><text x="113.10" y="262.50" font-size="6.60">−1</text><text x="121.50" y="267.20" font-size="11.20">]</text></g><g font-family="Liberation Serif, serif" fill="#1f1f1f"><text x="152.30" y="261.30" font-size="9.60" font-style="italic">q</text><text x="156.80" y="262.80" font-size="7.20">2</text><text transform="translate(160.50 262.80) scale(1.3 1)" font-size="7.20" font-style="italic">x</text><text x="167.70" y="261.70" font-size="11.20">[</text><text x="169.70" y="261.30" font-size="9.60" font-style="italic">μ</text><text x="175.20" y="261.30" font-size="9.60">m</text><text x="183.50" y="257.00" font-size="6.60">−1</text><text x="191.90" y="261.70" font-size="11.20">]</text></g><g font-family="Liberation Serif, serif" fill="#1f1f1f"><text x="232.90" y="266.80" font-size="9.60" font-style="italic">q</text><text x="237.40" y="268.30" font-size="7.20">1</text><text transform="translate(241.10 268.30) scale(1.3 1)" font-size="7.20" font-style="italic">x</text><text x="248.30" y="267.20" font-size="11.20">[</text><text x="250.30" y="266.80" font-size="9.60" font-style="italic">μ</text><text x="255.80" y="266.80" font-size="9.60">m</text><text x="264.10" y="262.50" font-size="6.60">−1</text><text x="272.50" y="267.20" font-size="11.20">]</text></g><g font-family="Liberation Serif, serif" fill="#1f1f1f"><text x="311.80" y="260.90" font-size="9.60" font-style="italic">q</text><text x="316.30" y="262.40" font-size="7.20">2</text><text transform="translate(320.00 262.40) scale(1.3 1)" font-size="7.20" font-style="italic">x</text><text x="327.20" y="261.30" font-size="11.20">[</text><text x="329.20" y="260.90" font-size="9.60" font-style="italic">μ</text><text x="334.70" y="260.90" font-size="9.60">m</text><text x="343.00" y="256.60" font-size="6.60">−1</text><text x="351.40" y="261.30" font-size="11.20">]</text></g><g font-family="Liberation Serif, serif" fill="#1f1f1f"><text x="385.30" y="267.30" font-size="9.60" font-style="italic">q</text><text x="389.80" y="268.80" font-size="7.20">1</text><text transform="translate(393.50 268.80) scale(1.3 1)" font-size="7.20" font-style="italic">x</text><text x="400.70" y="267.70" font-size="11.20">[</text><text x="402.70" y="267.30" font-size="9.60" font-style="italic">μ</text><text x="408.20" y="267.30" font-size="9.60">m</text><text x="416.50" y="263.00" font-size="6.60">−1</text><text x="424.90" y="267.70" font-size="11.20">]</text></g><g font-family="Liberation Serif, serif" fill="#1f1f1f"><text x="489.20" y="268.10" font-size="9.60" font-style="italic">q</text><text x="493.70" y="269.60" font-size="7.20">1</text><text transform="translate(497.40 269.60) scale(1.3 1)" font-size="7.20" font-style="italic">x</text><text x="503.20" y="268.50" font-size="11.60">+</text><text x="512.20" y="268.10" font-size="9.60" font-style="italic">q</text><text x="516.70" y="269.60" font-size="7.20">2</text><text transform="translate(520.40 269.60) scale(1.3 1)" font-size="7.20" font-style="italic">x</text><text x="527.60" y="268.50" font-size="11.20">[</text><text x="529.60" y="268.10" font-size="9.60" font-style="italic">μ</text><text x="535.10" y="268.10" font-size="9.60">m</text><text x="543.40" y="263.80" font-size="6.60">−1</text><text x="551.80" y="268.50" font-size="11.20">]</text></g><g font-family="Liberation Serif, serif" fill="#1f1f1f"><text x="584.30" y="268.00" font-size="9.60" font-style="italic">q</text><text x="588.80" y="269.50" font-size="7.20">1</text><text transform="translate(592.50 269.50) scale(1.3 1)" font-size="7.20" font-style="italic">x</text><text x="598.30" y="268.40" font-size="11.60">−</text><text x="607.30" y="268.00" font-size="9.60" font-style="italic">q</text><text x="611.80" y="269.50" font-size="7.20">2</text><text transform="translate(615.50 269.50) scale(1.3 1)" font-size="7.20" font-style="italic">x</text><text x="622.70" y="268.40" font-size="11.20">[</text><text x="624.70" y="268.00" font-size="9.60" font-style="italic">μ</text><text x="630.20" y="268.00" font-size="9.60">m</text><text x="638.50" y="263.70" font-size="6.60">−1</text><text x="646.90" y="268.40" font-size="11.20">]</text></g><g font-family="Liberation Serif, serif" fill="#1f1f1f"><text x="31.80" y="10.60" font-size="12.60">(</text><text x="35.70" y="11.00" font-size="11.52" font-weight="bold">a</text><text x="42.30" y="10.60" font-size="12.60">)</text></g><g font-family="Liberation Serif, serif" fill="#1f1f1f"><text x="51.60" y="11.20" font-size="12.00" font-style="italic">p</text><text x="57.00" y="12.40" font-size="8.60">H</text><text x="65.60" y="10.80" font-size="12.60">(</text><text x="69.20" y="11.20" font-size="12.00" font-style="italic">q</text><text x="75.70" y="12.60" font-size="8.00">1</text><text transform="translate(79.20 12.60) scale(1.35 1)" font-size="8.60" font-style="italic">x</text><text x="85.00" y="11.20" font-size="12.00">,</text><text x="89.90" y="11.20" font-size="12.00" font-style="italic">q</text><text x="95.60" y="12.60" font-size="8.00">2</text><text transform="translate(99.60 12.60) scale(1.35 1)" font-size="8.60" font-style="italic">x</text><text x="105.60" y="10.80" font-size="12.60">)</text></g><g font-family="Liberation Serif, serif" fill="#1f1f1f"><text x="179.60" y="10.60" font-size="12.60">(</text><text x="183.50" y="11.00" font-size="11.52" font-weight="bold">b</text><text x="190.50" y="10.60" font-size="12.60">)</text></g><g font-family="Liberation Serif, serif" fill="#1f1f1f"><text x="204.90" y="11.20" font-size="12.00" font-style="italic">p</text><text x="210.30" y="12.40" font-size="8.60">V</text><text x="218.90" y="10.80" font-size="12.60">(</text><text x="222.50" y="11.20" font-size="12.00" font-style="italic">q</text><text x="229.00" y="12.60" font-size="8.00">1</text><text transform="translate(232.50 12.60) scale(1.35 1)" font-size="8.60" font-style="italic">x</text><text x="238.30" y="11.20" font-size="12.00">,</text><text x="243.20" y="11.20" font-size="12.00" font-style="italic">q</text><text x="248.90" y="12.60" font-size="8.00">2</text><text transform="translate(252.90 12.60) scale(1.35 1)" font-size="8.60" font-style="italic">x</text><text x="258.90" y="10.80" font-size="12.60">)</text></g><g font-family="Liberation Serif, serif" fill="#1f1f1f"><text x="314.50" y="11.80" font-size="12.60">(</text><text x="318.40" y="12.20" font-size="11.52" font-weight="bold">c</text><text x="324.30" y="11.80" font-size="12.60">)</text></g><g font-family="Liberation Serif, serif" fill="#1f1f1f"><text transform="translate(337.40 12.20) scale(1.25 1)" font-size="12.00" font-style="italic">ϑ</text><text x="346.60" y="11.80" font-size="12.60">(</text><text x="349.50" y="12.20" font-size="12.00" font-style="italic">ω</text><text x="358.00" y="7.20" font-size="8.00">0</text><text x="358.30" y="14.10" font-size="8.00">1</text><text x="362.80" y="12.20" font-size="12.00">,</text><text x="366.60" y="12.20" font-size="12.00" font-style="italic">ω</text><text x="375.30" y="7.20" font-size="8.00">0</text><text x="375.10" y="14.10" font-size="8.00">2</text><text x="381.20" y="12.20" font-size="12.00">,</text><text x="386.60" y="12.20" font-size="12.00" font-style="italic">q</text><text x="391.90" y="14.10" font-size="8.00">1</text><text transform="translate(395.20 14.10) scale(1.35 1)" font-size="8.60" font-style="italic">x</text><text x="402.70" y="12.20" font-size="12.00">,</text><text x="407.40" y="12.20" font-size="12.00" font-style="italic">q</text><text x="412.30" y="14.10" font-size="8.00">2</text><text transform="translate(415.90 14.10) scale(1.35 1)" font-size="8.60" font-style="italic">x</text><text x="423.40" y="11.80" font-size="12.60">)</text></g><g font-family="Liberation Serif, serif" fill="#1f1f1f"><text x="463.58" y="11.97" font-size="13.61">(</text><text x="467.79" y="12.40" font-size="12.44" font-weight="bold">d</text><text x="475.35" y="11.97" font-size="13.61">)</text></g><line x1="492" y1="8.5" x2="506" y2="8.5" stroke="#d95319" stroke-width="0.9"/><g font-family="Liberation Serif, serif" fill="#1f1f1f"><text x="511.19" y="12.00" font-size="11.40" font-style="italic">p</text><text x="516.31" y="13.14" font-size="8.17">V</text></g><line x1="524.3" y1="8.6" x2="533.8" y2="8.6" stroke="#0072bd" stroke-width="2.4"/><g font-family="Liberation Serif, serif" fill="#1f1f1f"><text x="543.49" y="12.00" font-size="11.40" font-style="italic">p</text><text x="548.62" y="13.14" font-size="8.17">H</text></g><line x1="556.9" y1="8.6" x2="570.9" y2="8.6" stroke="#333" stroke-width="0.9" stroke-dasharray="0.9,0.9"/><g font-family="Liberation Serif, serif" fill="#1f1f1f"><text transform="translate(575.13 12.00) scale(1.25 1)" font-size="10.28" font-style="italic">ϑ</text><text x="583.01" y="11.66" font-size="10.80">(</text><text x="585.50" y="12.00" font-size="10.28" font-style="italic">ω</text><text x="592.78" y="7.71" font-size="6.86">0</text><text x="593.04" y="13.63" font-size="6.86">1</text><text x="596.90" y="12.00" font-size="10.28">,</text><text x="600.15" y="12.00" font-size="10.28" font-style="italic">ω</text><text x="607.61" y="7.71" font-size="6.86">0</text><text x="607.44" y="13.63" font-size="6.86">2</text><text x="612.67" y="12.00" font-size="10.28">,</text><text x="617.29" y="12.00" font-size="10.28" font-style="italic">q</text><text x="621.84" y="13.63" font-size="6.86">1</text><text transform="translate(624.66 13.63) scale(1.35 1)" font-size="7.37" font-style="italic">x</text><text x="631.09" y="12.00" font-size="10.28">,</text><text x="635.12" y="12.00" font-size="10.28" font-style="italic">q</text><text x="639.32" y="13.63" font-size="6.86">2</text><text transform="translate(642.40 13.63) scale(1.35 1)" font-size="7.37" font-style="italic">x</text><text x="648.83" y="11.66" font-size="10.80">)</text></g></svg></body></html>
